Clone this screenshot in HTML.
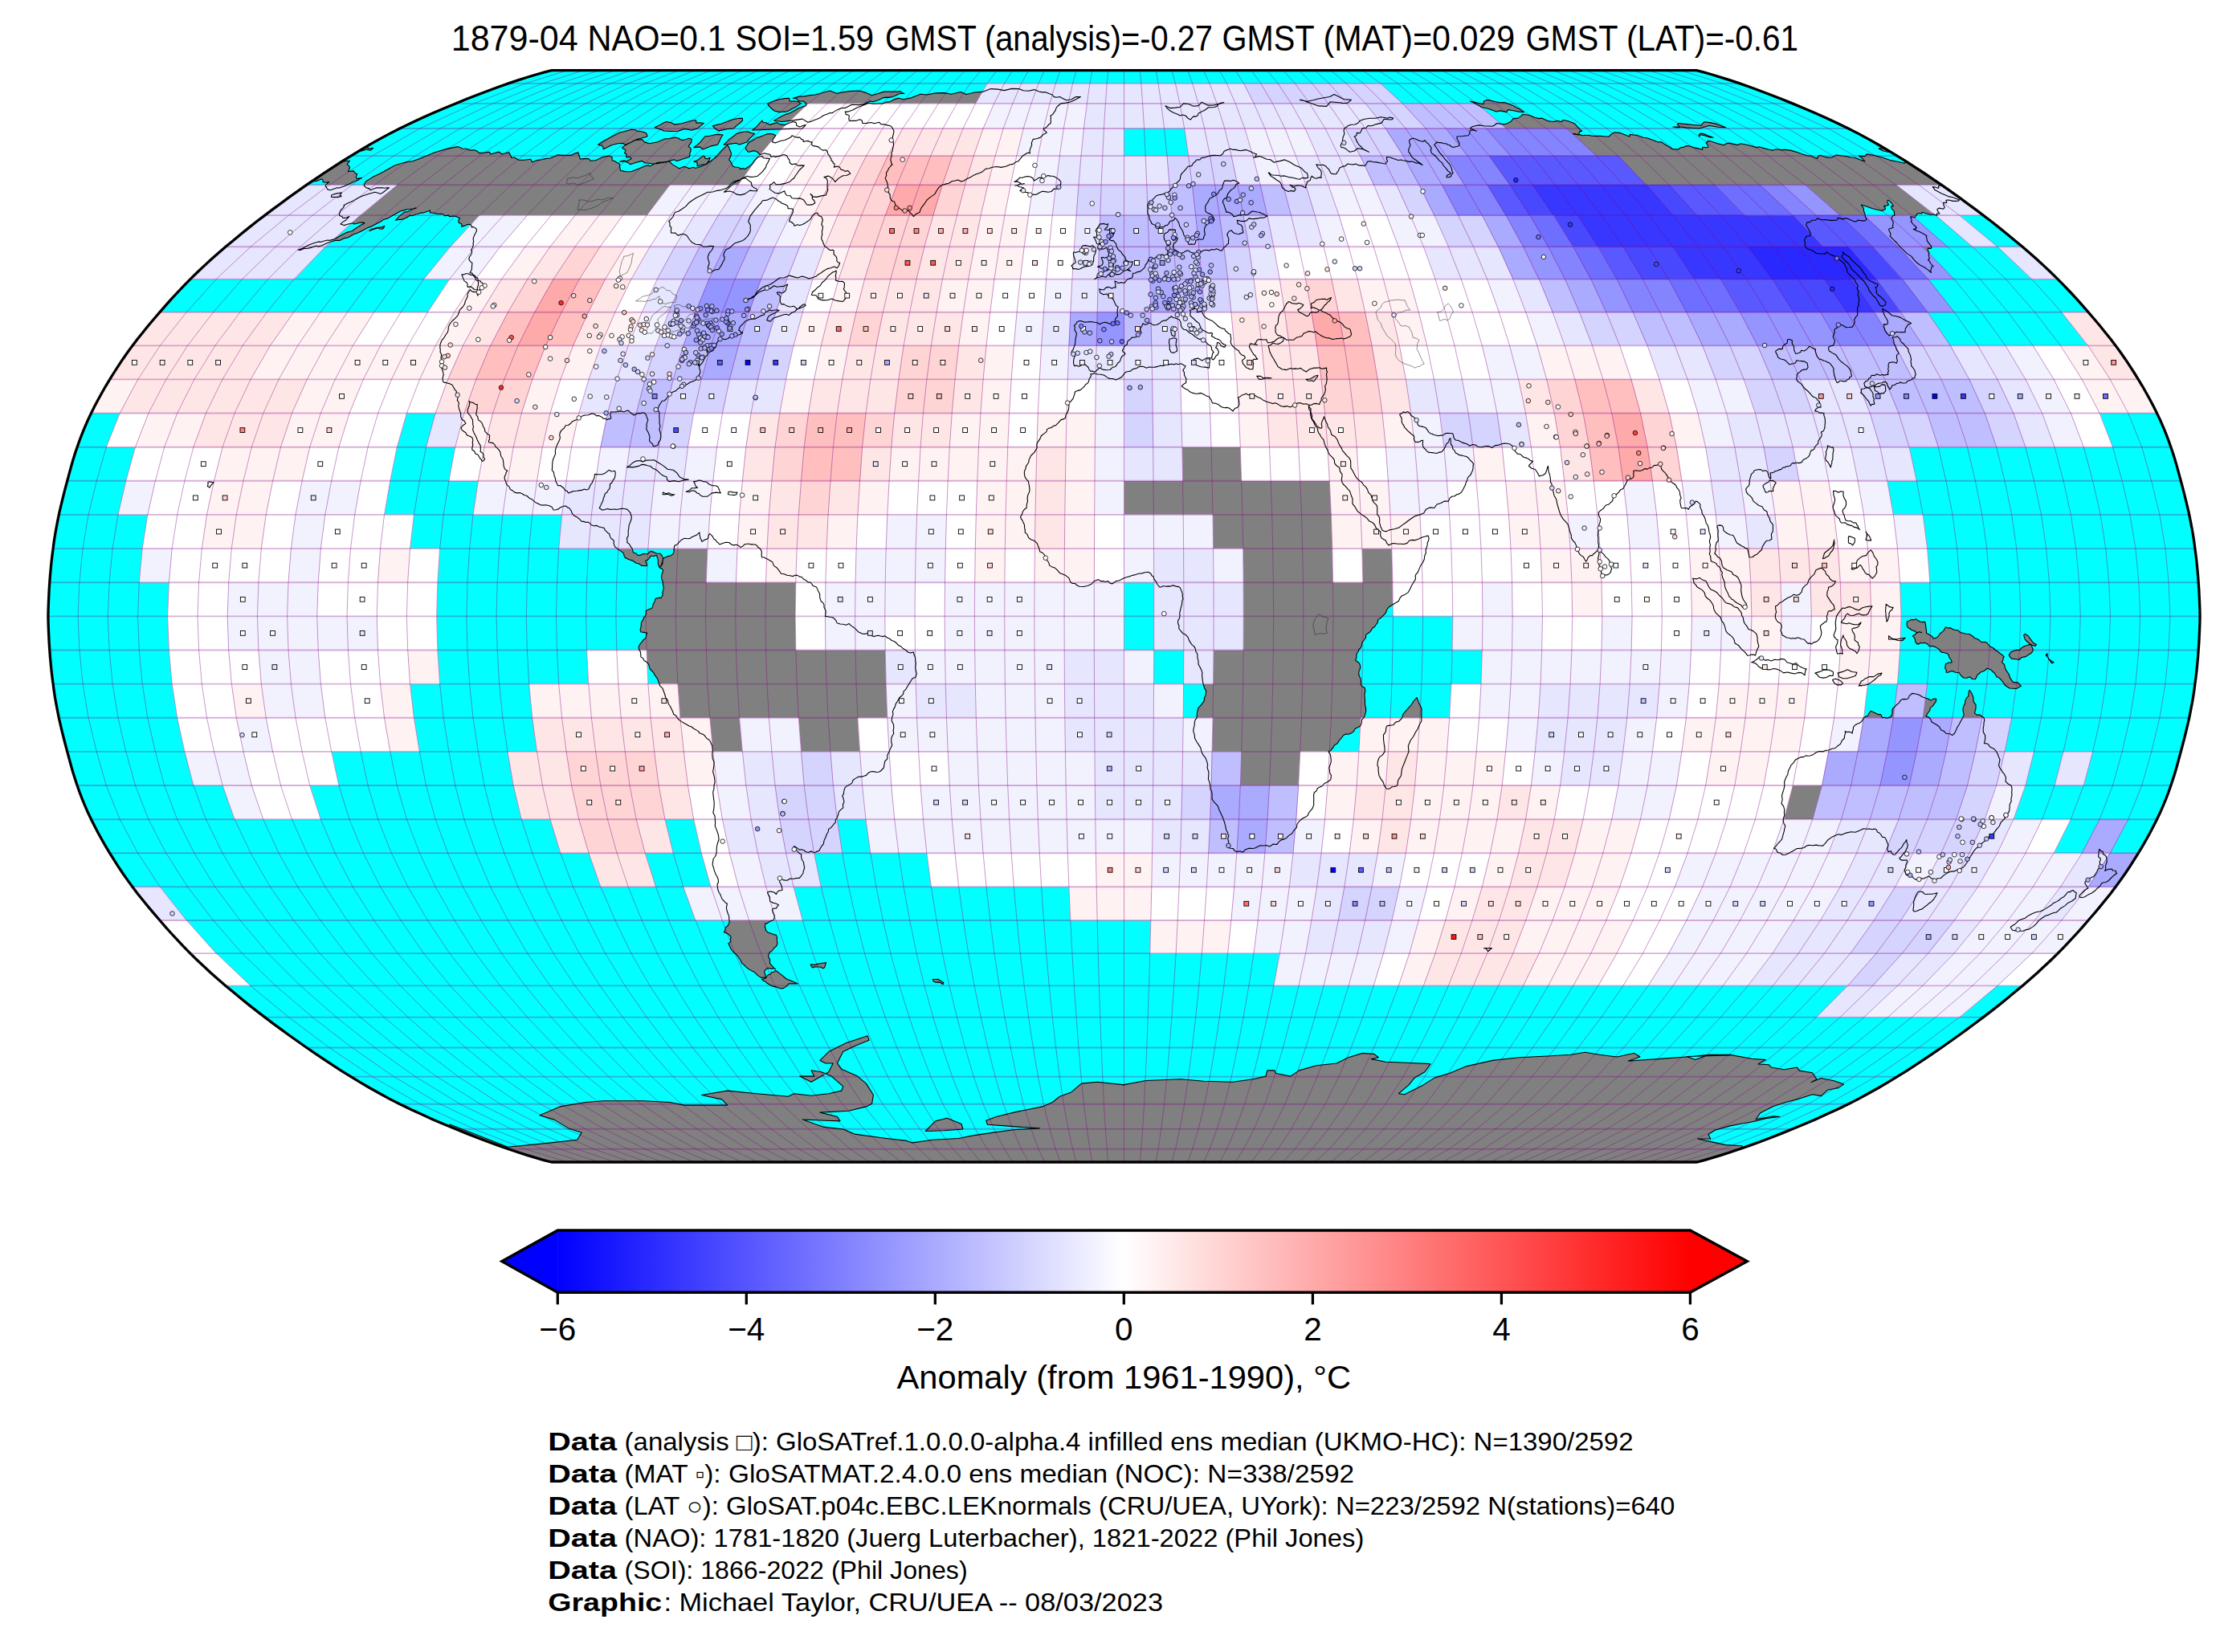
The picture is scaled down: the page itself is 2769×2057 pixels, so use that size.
<!DOCTYPE html>
<html><head><meta charset="utf-8"><title>map</title><style>html,body{margin:0;padding:0;background:#fff}body{width:2769px;height:2057px;overflow:hidden;font-family:"Liberation Sans",sans-serif}svg{display:block}</style></head><body>
<svg xmlns="http://www.w3.org/2000/svg" width="2769" height="2057" viewBox="0 0 2769 2057" font-family="'Liberation Sans', sans-serif" fill="#000">
<defs><clipPath id="cp"><path d="M686.6,1447 677.1,1444.6 667,1441.7 656.2,1438.4 644.9,1434.8 633,1430.8 620.6,1426.4 607.8,1421.7 594.6,1416.7 581,1411.4 567.2,1405.8 553.2,1400 539,1393.9 525,1387.6 511.1,1381.2 497.7,1374.7 484.7,1368.1 472.2,1361.3 460.1,1354.5 448.4,1347.6 436.9,1340.6 425.5,1333.6 414.4,1326.4 403.4,1319.2 392.6,1311.9 381.8,1304.5 371.2,1297 360.6,1289.5 350.2,1281.9 339.9,1274.3 329.7,1266.6 319.6,1258.9 309.7,1251.1 300,1243.2 290.4,1235.3 280.9,1227.4 271.7,1219.4 262.6,1211.4 253.8,1203.3 245.2,1195.2 236.9,1187.1 228.8,1178.9 221.1,1170.7 213.5,1162.5 206.2,1154.3 199,1146 191.8,1137.7 184.8,1129.4 178,1121 171.3,1112.7 164.9,1104.3 158.8,1095.9 152.9,1087.5 147.3,1079.1 141.9,1070.7 136.7,1062.3 131.6,1053.9 126.8,1045.5 122.1,1037 117.7,1028.6 113.5,1020.2 109.5,1011.8 105.8,1003.3 102.3,994.9 99.1,986.5 96.1,978 93.3,969.6 90.7,961.2 88.3,952.8 86,944.3 83.7,935.9 81.5,927.5 79.3,919 77.2,910.6 75.2,902.2 73.3,893.8 71.6,885.3 70,876.9 68.5,868.5 67.2,860.1 66.1,851.6 65,843.2 64,834.8 63.2,826.3 62.4,817.9 61.8,809.5 61.2,801.1 60.8,792.6 60.4,784.2 60.1,775.8 59.9,767.4 60.1,758.9 60.4,750.5 60.8,742.1 61.2,733.6 61.8,725.2 62.4,716.8 63.2,708.4 64,699.9 65,691.5 66.1,683.1 67.2,674.6 68.5,666.2 70,657.8 71.6,649.4 73.3,640.9 75.2,632.5 77.2,624.1 79.3,615.7 81.5,607.2 83.7,598.8 86,590.4 88.3,581.9 90.7,573.5 93.3,565.1 96.1,556.7 99.1,548.2 102.3,539.8 105.8,531.4 109.5,522.9 113.5,514.5 117.7,506.1 122.1,497.7 126.8,489.2 131.6,480.8 136.7,472.4 141.9,464 147.3,455.6 152.9,447.2 158.8,438.8 164.9,430.4 171.3,422 178,413.7 184.8,405.3 191.8,397 199,388.7 206.2,380.4 213.5,372.2 221.1,364 228.8,355.8 236.9,347.6 245.2,339.5 253.8,331.4 262.6,323.3 271.7,315.3 280.9,307.3 290.4,299.4 300,291.5 309.7,283.6 319.6,275.8 329.7,268.1 339.9,260.4 350.2,252.8 360.6,245.2 371.2,237.7 381.8,230.2 392.6,222.8 403.4,215.5 414.4,208.3 425.5,201.1 436.9,194.1 448.4,187.1 460.1,180.2 472.2,173.4 484.7,166.6 497.7,160 511.1,153.5 525,147.1 539,140.8 553.2,134.7 567.2,128.9 581,123.3 594.6,118 607.8,113 620.6,108.3 633,103.9 644.9,99.9 656.2,96.3 667,93 677.1,90.1 686.6,87.7 2112.4,87.7 2121.9,90.1 2132,93 2142.8,96.3 2154.1,99.9 2166,103.9 2178.4,108.3 2191.2,113 2204.4,118 2218,123.3 2231.8,128.9 2245.8,134.7 2260,140.8 2274,147.1 2287.9,153.5 2301.3,160 2314.3,166.6 2326.8,173.4 2338.9,180.2 2350.6,187.1 2362.1,194.1 2373.5,201.1 2384.6,208.3 2395.6,215.5 2406.4,222.8 2417.2,230.2 2427.8,237.7 2438.4,245.2 2448.8,252.8 2459.1,260.4 2469.3,268.1 2479.4,275.8 2489.3,283.6 2499,291.5 2508.6,299.4 2518.1,307.3 2527.3,315.3 2536.4,323.3 2545.2,331.4 2553.8,339.5 2562.1,347.6 2570.2,355.8 2577.9,364 2585.5,372.2 2592.8,380.4 2600,388.7 2607.2,397 2614.2,405.3 2621,413.7 2627.7,422 2634.1,430.4 2640.2,438.8 2646.1,447.2 2651.7,455.6 2657.1,464 2662.3,472.4 2667.4,480.8 2672.2,489.2 2676.9,497.7 2681.3,506.1 2685.5,514.5 2689.5,522.9 2693.2,531.4 2696.7,539.8 2699.9,548.2 2702.9,556.7 2705.7,565.1 2708.3,573.5 2710.7,581.9 2713,590.4 2715.3,598.8 2717.5,607.2 2719.7,615.7 2721.8,624.1 2723.8,632.5 2725.7,640.9 2727.4,649.4 2729,657.8 2730.5,666.2 2731.8,674.6 2732.9,683.1 2734,691.5 2735,699.9 2735.8,708.4 2736.6,716.8 2737.2,725.2 2737.8,733.6 2738.2,742.1 2738.6,750.5 2738.9,758.9 2739.1,767.4 2738.9,775.8 2738.6,784.2 2738.2,792.6 2737.8,801.1 2737.2,809.5 2736.6,817.9 2735.8,826.3 2735,834.8 2734,843.2 2732.9,851.6 2731.8,860.1 2730.5,868.5 2729,876.9 2727.4,885.3 2725.7,893.8 2723.8,902.2 2721.8,910.6 2719.7,919 2717.5,927.5 2715.3,935.9 2713,944.3 2710.7,952.8 2708.3,961.2 2705.7,969.6 2702.9,978 2699.9,986.5 2696.7,994.9 2693.2,1003.3 2689.5,1011.8 2685.5,1020.2 2681.3,1028.6 2676.9,1037 2672.2,1045.5 2667.4,1053.9 2662.3,1062.3 2657.1,1070.7 2651.7,1079.1 2646.1,1087.5 2640.2,1095.9 2634.1,1104.3 2627.7,1112.7 2621,1121 2614.2,1129.4 2607.2,1137.7 2600,1146 2592.8,1154.3 2585.5,1162.5 2577.9,1170.7 2570.2,1178.9 2562.1,1187.1 2553.8,1195.2 2545.2,1203.3 2536.4,1211.4 2527.3,1219.4 2518.1,1227.4 2508.6,1235.3 2499,1243.2 2489.3,1251.1 2479.4,1258.9 2469.3,1266.6 2459.1,1274.3 2448.8,1281.9 2438.4,1289.5 2427.8,1297 2417.2,1304.5 2406.4,1311.9 2395.6,1319.2 2384.6,1326.4 2373.5,1333.6 2362.1,1340.6 2350.6,1347.6 2338.9,1354.5 2326.8,1361.3 2314.3,1368.1 2301.3,1374.7 2287.9,1381.2 2274,1387.6 2260,1393.9 2245.8,1400 2231.8,1405.8 2218,1411.4 2204.4,1416.7 2191.2,1421.7 2178.4,1426.4 2166,1430.8 2154.1,1434.8 2142.8,1438.4 2132,1441.7 2121.9,1444.6 2112.4,1447Z"/></clipPath>
<linearGradient id="cb" x1="0" x2="1" y1="0" y2="0"><stop offset="0" stop-color="#0000ff"/><stop offset="0.5" stop-color="#ffffff"/><stop offset="1" stop-color="#ff0000"/></linearGradient></defs>
<path d="M686.6,1447 677.1,1444.6 667,1441.7 656.2,1438.4 644.9,1434.8 633,1430.8 620.6,1426.4 607.8,1421.7 594.6,1416.7 581,1411.4 567.2,1405.8 553.2,1400 539,1393.9 525,1387.6 511.1,1381.2 497.7,1374.7 484.7,1368.1 472.2,1361.3 460.1,1354.5 448.4,1347.6 436.9,1340.6 425.5,1333.6 414.4,1326.4 403.4,1319.2 392.6,1311.9 381.8,1304.5 371.2,1297 360.6,1289.5 350.2,1281.9 339.9,1274.3 329.7,1266.6 319.6,1258.9 309.7,1251.1 300,1243.2 290.4,1235.3 280.9,1227.4 271.7,1219.4 262.6,1211.4 253.8,1203.3 245.2,1195.2 236.9,1187.1 228.8,1178.9 221.1,1170.7 213.5,1162.5 206.2,1154.3 199,1146 191.8,1137.7 184.8,1129.4 178,1121 171.3,1112.7 164.9,1104.3 158.8,1095.9 152.9,1087.5 147.3,1079.1 141.9,1070.7 136.7,1062.3 131.6,1053.9 126.8,1045.5 122.1,1037 117.7,1028.6 113.5,1020.2 109.5,1011.8 105.8,1003.3 102.3,994.9 99.1,986.5 96.1,978 93.3,969.6 90.7,961.2 88.3,952.8 86,944.3 83.7,935.9 81.5,927.5 79.3,919 77.2,910.6 75.2,902.2 73.3,893.8 71.6,885.3 70,876.9 68.5,868.5 67.2,860.1 66.1,851.6 65,843.2 64,834.8 63.2,826.3 62.4,817.9 61.8,809.5 61.2,801.1 60.8,792.6 60.4,784.2 60.1,775.8 59.9,767.4 60.1,758.9 60.4,750.5 60.8,742.1 61.2,733.6 61.8,725.2 62.4,716.8 63.2,708.4 64,699.9 65,691.5 66.1,683.1 67.2,674.6 68.5,666.2 70,657.8 71.6,649.4 73.3,640.9 75.2,632.5 77.2,624.1 79.3,615.7 81.5,607.2 83.7,598.8 86,590.4 88.3,581.9 90.7,573.5 93.3,565.1 96.1,556.7 99.1,548.2 102.3,539.8 105.8,531.4 109.5,522.9 113.5,514.5 117.7,506.1 122.1,497.7 126.8,489.2 131.6,480.8 136.7,472.4 141.9,464 147.3,455.6 152.9,447.2 158.8,438.8 164.9,430.4 171.3,422 178,413.7 184.8,405.3 191.8,397 199,388.7 206.2,380.4 213.5,372.2 221.1,364 228.8,355.8 236.9,347.6 245.2,339.5 253.8,331.4 262.6,323.3 271.7,315.3 280.9,307.3 290.4,299.4 300,291.5 309.7,283.6 319.6,275.8 329.7,268.1 339.9,260.4 350.2,252.8 360.6,245.2 371.2,237.7 381.8,230.2 392.6,222.8 403.4,215.5 414.4,208.3 425.5,201.1 436.9,194.1 448.4,187.1 460.1,180.2 472.2,173.4 484.7,166.6 497.7,160 511.1,153.5 525,147.1 539,140.8 553.2,134.7 567.2,128.9 581,123.3 594.6,118 607.8,113 620.6,108.3 633,103.9 644.9,99.9 656.2,96.3 667,93 677.1,90.1 686.6,87.7 2112.4,87.7 2121.9,90.1 2132,93 2142.8,96.3 2154.1,99.9 2166,103.9 2178.4,108.3 2191.2,113 2204.4,118 2218,123.3 2231.8,128.9 2245.8,134.7 2260,140.8 2274,147.1 2287.9,153.5 2301.3,160 2314.3,166.6 2326.8,173.4 2338.9,180.2 2350.6,187.1 2362.1,194.1 2373.5,201.1 2384.6,208.3 2395.6,215.5 2406.4,222.8 2417.2,230.2 2427.8,237.7 2438.4,245.2 2448.8,252.8 2459.1,260.4 2469.3,268.1 2479.4,275.8 2489.3,283.6 2499,291.5 2508.6,299.4 2518.1,307.3 2527.3,315.3 2536.4,323.3 2545.2,331.4 2553.8,339.5 2562.1,347.6 2570.2,355.8 2577.9,364 2585.5,372.2 2592.8,380.4 2600,388.7 2607.2,397 2614.2,405.3 2621,413.7 2627.7,422 2634.1,430.4 2640.2,438.8 2646.1,447.2 2651.7,455.6 2657.1,464 2662.3,472.4 2667.4,480.8 2672.2,489.2 2676.9,497.7 2681.3,506.1 2685.5,514.5 2689.5,522.9 2693.2,531.4 2696.7,539.8 2699.9,548.2 2702.9,556.7 2705.7,565.1 2708.3,573.5 2710.7,581.9 2713,590.4 2715.3,598.8 2717.5,607.2 2719.7,615.7 2721.8,624.1 2723.8,632.5 2725.7,640.9 2727.4,649.4 2729,657.8 2730.5,666.2 2731.8,674.6 2732.9,683.1 2734,691.5 2735,699.9 2735.8,708.4 2736.6,716.8 2737.2,725.2 2737.8,733.6 2738.2,742.1 2738.6,750.5 2738.9,758.9 2739.1,767.4 2738.9,775.8 2738.6,784.2 2738.2,792.6 2737.8,801.1 2737.2,809.5 2736.6,817.9 2735.8,826.3 2735,834.8 2734,843.2 2732.9,851.6 2731.8,860.1 2730.5,868.5 2729,876.9 2727.4,885.3 2725.7,893.8 2723.8,902.2 2721.8,910.6 2719.7,919 2717.5,927.5 2715.3,935.9 2713,944.3 2710.7,952.8 2708.3,961.2 2705.7,969.6 2702.9,978 2699.9,986.5 2696.7,994.9 2693.2,1003.3 2689.5,1011.8 2685.5,1020.2 2681.3,1028.6 2676.9,1037 2672.2,1045.5 2667.4,1053.9 2662.3,1062.3 2657.1,1070.7 2651.7,1079.1 2646.1,1087.5 2640.2,1095.9 2634.1,1104.3 2627.7,1112.7 2621,1121 2614.2,1129.4 2607.2,1137.7 2600,1146 2592.8,1154.3 2585.5,1162.5 2577.9,1170.7 2570.2,1178.9 2562.1,1187.1 2553.8,1195.2 2545.2,1203.3 2536.4,1211.4 2527.3,1219.4 2518.1,1227.4 2508.6,1235.3 2499,1243.2 2489.3,1251.1 2479.4,1258.9 2469.3,1266.6 2459.1,1274.3 2448.8,1281.9 2438.4,1289.5 2427.8,1297 2417.2,1304.5 2406.4,1311.9 2395.6,1319.2 2384.6,1326.4 2373.5,1333.6 2362.1,1340.6 2350.6,1347.6 2338.9,1354.5 2326.8,1361.3 2314.3,1368.1 2301.3,1374.7 2287.9,1381.2 2274,1387.6 2260,1393.9 2245.8,1400 2231.8,1405.8 2218,1411.4 2204.4,1416.7 2191.2,1421.7 2178.4,1426.4 2166,1430.8 2154.1,1434.8 2142.8,1438.4 2132,1441.7 2121.9,1444.6 2112.4,1447Z" fill="#00ffff"/>
<g clip-path="url(#cp)">
<path d="M455.7,225.8 464.6,220.1 473.5,216.1 482.4,211.1 491.4,206.1 500.2,203.2 507.6,201.4 513.7,200.7 522.6,197.6 541.4,189.8 557,185.1 570,182.6 575.6,185 581.1,185.3 584.4,187.1 591,186.7 594.4,188.5 596.6,190.6 602.7,190.1 609.3,189.3 610.8,192 621.3,189.1 624.5,191.7 633.8,189.9 635.6,193.4 636.3,194.9 636.7,196.5 640.2,196 641.9,196.9 645.8,199.1 652.4,199.2 660.7,198.2 662.8,201.9 667.7,199.7 671.3,199.1 674.6,198.7 678.6,197.6 685,197 694.7,192.8 699.6,193.4 705.1,193.4 708,193.3 710.7,193.4 715.7,191.1 719.9,189.9 720.6,192.5 721.5,195 722.1,198 727.1,197.6 732.9,197.5 735.1,200.2 741.4,199.8 750.9,195.5 757.9,194.1 762,195.5 762.2,199.7 766.4,201.1 767.8,202.5 770.1,203.1 771.7,204.4 771.5,206.9 772.4,212.2 778.4,213.6 785.7,213.7 796.1,209.7 800.4,207.9 804.7,206.1 807.8,205.9 809.8,206.9 814.6,204 818.7,202.6 822.1,202.1 824.6,202.6 833.3,200.9 836.8,204.4 841.1,207.1 845.5,209.7 851.4,207.4 855,208.2 857.9,209.7 863.2,208.3 865.2,209.2 868.4,208.8 872.2,207.4 875.9,206.1 884.1,201.2 892.3,195 898.2,187.8 905.7,180.9 907.4,182.8 908.2,185.5 909.4,188 910.4,190.6 910.1,194.1 907.6,198.9 909.4,200.9 910.8,203.3 911.4,205.6 912.9,207.2 915.1,208 917.9,208.3 920.5,208.7 921.6,210.6 925.1,209.6 927.3,210.5 931.9,207.8 936.5,204 939.5,199.6 943.8,195.5 948.7,194.5 950.9,196.8 954.7,197.1 958.4,197.6 957.1,200.2 955.7,203 954.1,205.8 953.5,208.3 951.3,211.2 949,214.1 946.1,216.6 943.2,219.2 938.4,220.2 934.1,220.4 930.6,219.2 925,221.4 921.7,223.7 918.9,224.4 915.9,225.5 913,226.5 911,228.3 909,230.2 907.2,232.3 905,233.9 901.3,235.4 897.7,236.6 894.4,237.1 891,237.7 887.3,239 884.1,239.3 881,239.3 876.9,241.4 872.1,243.8 867.3,246 862.3,249.2 857.4,252.8 853.7,257.1 849.1,260.3 844.5,263.3 840.5,264.2 838.8,267.3 837.9,270 835.2,272.9 832.6,275.8 833.8,276.6 834,278.2 833.9,281.5 835.8,283.2 835.4,286.7 835.5,289.9 840.8,290.1 844,293.1 850.5,291.3 854.9,293 857.9,297.5 861.3,301.7 866.2,304.3 872.6,304.9 875.4,307.1 879.7,307.2 884.3,306.4 888.5,306.5 886.6,311 883,315.2 881.3,319.7 881.6,323.3 882.8,325.5 882.9,328.7 881.4,332.5 882,335.4 882.9,336.5 884.4,336.9 885.6,337.7 887.2,337.8 889.2,336.6 891.2,335.7 892.9,335.8 894.7,335.4 896.8,332.5 898.6,329.4 900,326.3 901.8,323.3 902.1,320.1 900.8,318.1 901.6,314.8 903.4,311.3 909.1,308.2 914.4,303.1 919.7,301.2 925,299.4 928.1,297 930.8,294.1 933,290.8 934.3,287.5 934.2,284.1 934.3,280.6 933.1,278.1 931.6,275.8 933.1,272.3 934.1,268.9 936.9,265.4 939.4,261.9 942,258.9 944.5,255.8 947.4,253 949.5,249.7 955.2,249.1 961.9,246 966.1,247.7 969.4,250.5 971.7,251.5 973.6,253.3 976.1,254.1 978.5,255 980.7,256.6 981.3,259.8 984.5,259.8 987.4,260.4 987.3,263.9 985.5,267.9 983.5,272 982.6,275.8 984.9,276.2 986.6,277.5 988.3,278.9 988.9,281.3 992.7,279.8 995.6,280.5 999.1,279.4 1002.8,277.4 1006.1,275.3 1009.3,272.6 1011.2,268.9 1014.3,265.8 1015.9,265.6 1017.6,265 1019.5,268.4 1022.9,270 1024.4,274 1022.8,279.7 1024.3,281.7 1024.3,284.9 1023.3,288.5 1023.8,291.5 1022.8,295.1 1022.9,298.3 1024.4,300.4 1025.1,303.3 1027,306.8 1030.2,308.9 1033.1,311.5 1037.6,311.3 1038.3,313.5 1038,316.3 1039.4,317.9 1040.9,319.3 1041.9,321.6 1041.9,324.7 1043.3,326.7 1045.7,327.3 1045,329 1044.4,330.7 1043.4,332.3 1042.2,333.8 1038.7,332.1 1034,333.7 1029.4,334.9 1024.9,337.8 1021.9,340.1 1018.9,341.7 1015.9,344.3 1012.8,345.2 1007.3,347 1003.1,345.2 998.6,344.1 993.1,346 988,344.6 982.9,343.1 976.5,345.7 970.6,346 966.5,349 962.4,352.1 958.2,354.4 954,355.8 950,357.4 946.2,360.5 942.4,363.6 939.8,368.1 937.2,369.2 934.8,371.4 932.3,371.9 929.8,373.8 933.7,372.1 937.5,370.6 941,367.3 944.5,364 949.3,361.9 954.1,360.4 959,359.2 963.8,355.8 967.2,357.3 971.6,356.8 976,356.4 980.6,354.1 980,356.2 978.7,358.2 978.8,360.2 977.8,362.3 975,364.5 972.2,365 970.2,363.7 967.4,364 968.2,366.3 970.2,367.3 971.4,369.3 971.2,372.2 971.3,374 971.4,375.7 972.2,377.1 972.4,378.8 974.1,378.9 976,378.6 977.2,379.6 978.5,380.4 980.8,381.2 983,382 985.6,381.8 988.2,381.3 989.6,382.1 990.9,383.2 992,384.6 993.9,384.6 995.7,382.4 997.8,380.7 1000,379.2 1002.2,378.8 1003.1,380.4 1001.7,380.9 1000.4,381.9 999,382.4 997.7,382.9 995.5,384 993.4,384.3 991.4,386 989.6,387.9 985.6,389.5 982,392.6 978.8,391.3 975,392 970.9,393.4 966.9,394.7 962.6,396.3 959,400.3 957.8,400 957.2,399.1 955.9,399.2 954.8,398.7 955.3,397.1 956,395.6 956.8,394.1 958,392.9 961.1,391.3 964.1,390.2 967.1,388.4 970.1,386.2 968.4,386.1 966.9,385.7 965.2,386 963.4,386.2 960.5,387 958.3,385.8 955.5,387.8 952.6,388.7 951.7,390.4 951.6,392 947.8,392.9 944,395 940.2,397.1 936.6,397 934.2,397.8 932,397.9 929.8,399.5 927.4,400.3 926.1,402.3 924.4,403.8 922.7,405.3 921.2,407 920.4,409.1 919.8,411.2 921.2,411.8 921.8,413.3 923.2,413.9 923.9,415.3 924.6,413.2 923.5,414.7 922.2,415.9 920.8,416.7 919.3,417 917.8,417.4 916.4,417.8 914.5,418.7 912.7,418.9 910.9,419.1 909,419.5 905.8,421.7 902.5,422.8 899.8,421.8 896.4,422.8 894.8,423.8 893.5,425.4 892.6,427 891.9,428.7 891.6,430.4 891.4,432.1 889.2,433.8 887.8,436.4 885.5,437.4 883.2,438.8 882.2,438.1 881.3,437.2 880.7,436 880.4,434.6 880,436.5 880.2,438.2 881.1,439.4 881.1,441.3 879.8,442.9 878.3,444.3 877.2,446.1 876.4,448 875.3,450.1 874,452.1 872.4,453.9 870.8,455.6 870.3,452.6 870,449.6 871.3,446.3 872.3,443 871.6,445.9 869.5,448.3 869.2,451.1 868.5,453.9 869.5,454.6 870.3,455.8 870.7,457.2 870.6,458.9 871.9,461.2 871.7,464.4 870.1,467.6 870.2,470.7 868.3,472 866.2,473.1 864.2,474.3 862.1,474.9 859.1,476 856.3,478 853.4,479.6 850.6,481.6 848.2,481.6 845.8,483 843.5,484.5 841.5,486.7 839.2,487.4 836.9,488.4 834.6,490.1 833,492.6 830.8,494.7 829.2,497.2 826.8,499 824.3,499.3 822.6,502 820.8,504.5 819.9,507.4 818.9,510.3 821,513.6 820.9,518.3 821.1,522.7 821,527.2 822,530.7 820.8,534.7 822,537.9 822.7,541.5 822.9,544.7 822,548 819.9,550.8 819.1,554.1 817.6,554.8 816.1,555.2 814.6,555.8 813.1,555.8 812.8,553.3 811.3,551.6 809.4,550.4 808.5,548.2 809,544 807.9,540.3 806.3,537 804.6,533.9 805.3,531.1 805,528.4 805.9,525.7 806.8,522.9 805.5,520 804.6,516.8 802.7,514.3 799.6,513.7 796.9,514.9 794.5,514.4 792,515.6 789.5,517 787.6,515.7 785.7,514.3 783.9,512.9 782.3,511.1 779.4,511.8 776.6,513 774.1,512.1 771.4,512 768.6,512.7 765.8,512.9 763.1,513 760.5,512.8 760,515.1 760,517.2 760.6,519.1 760.6,521.3 758.1,521.6 755.6,522.7 753.9,521.1 751.3,521.3 749.7,519.5 747.6,518.5 745.5,517.4 742.8,517.9 740.2,515.5 736.5,514.9 732.6,516.7 728.7,517 726.7,517.4 724.7,518.1 722.8,519.8 720.7,520.4 718.3,522.4 715.5,523.6 712.8,524.7 710.5,527.2 707.5,529.5 704.2,529.8 702.3,533.3 699.2,535.6 697.3,538.6 696.7,541.9 697.4,544.9 696.5,548.2 694.9,551.3 693.4,554.4 692.3,557.6 691.3,560.9 691.6,565.1 689.8,569.3 688.2,573.5 687.7,577.7 687.6,581.6 687.3,585.5 689.5,588.2 690,592.1 691.3,595.2 691.8,598.7 693.2,601.7 694.7,604.7 697.7,604.5 699.9,606.3 702.1,608 703.4,610.6 704.9,610.9 706.3,611.4 706.9,613 708.1,614 711.4,612.4 714.9,611.5 718.3,611.2 721.7,610.6 724.6,610.4 727.4,609 730.1,609.9 733,608.9 734.1,606.3 735.2,603.7 737.1,601.6 738,598.8 739.1,596.8 740.1,594.8 740.1,592.6 740.6,590.4 745,590.7 749.6,590.7 754.1,588.7 758,585.3 759.7,586.1 761.3,587 763.3,586.7 765.2,586.2 765.9,587.4 766.2,588.9 766.1,590.5 765.9,592.1 765.3,595.3 763.2,597.9 761.8,601 759.4,603 759.5,605.7 758.9,608.4 757,610.6 755.9,613.1 754.1,614.1 752.8,615.8 752.5,618 751.4,619.9 750.8,623.3 749.2,626.4 747.9,629.5 746.2,632.5 747.9,633.8 749.6,635 753,634.6 756.3,633.5 759.5,634.4 762.9,634.2 765.7,634 768.4,634.5 771.2,633.8 774,633.4 777.4,633.5 780.7,634.1 783.1,636.5 785.2,639.2 785.3,641.2 786.3,642.6 786,646.5 784.7,650.2 783.1,653.9 782.8,657.8 782.1,661 782.3,664.2 782.1,667.6 780.3,670.4 781.1,672.9 780.7,675.5 783.6,677.4 785.2,680.7 787.4,683.5 788.1,687.3 789.8,688.7 791.9,688.8 793.2,690.7 795.3,691.5 798.1,690.9 800.8,689.5 803.6,689.8 806.5,689.8 808.1,687.6 810.4,686.4 813.1,687.1 815.7,688.3 818.4,689.5 821.3,689 822.8,690.2 824.1,691.6 824.8,693.6 826.2,694.9 824.9,698 825,701.4 823.4,704.3 821.2,706.7 820.3,704.8 819.4,702.8 819.2,700.5 819.4,698.2 819.1,696.5 818.6,694.8 818.1,693.1 817.5,691.5 815.6,691.7 813.8,692.7 812,692.3 810,692.3 809,694.4 807.5,696.1 805.8,697.6 803.8,698.2 804,699.9 804.9,701.1 805,702.8 805.8,704.1 803.9,704.7 802,704.5 800.2,704.5 798.3,704.1 796.6,702.7 794.7,701.6 792.2,701.2 789.9,699.8 787.8,698.1 785.3,697.4 783.7,696.8 781.9,696.4 780.5,695.3 778.8,694.9 777.1,692.3 776.5,689.1 774.3,687.1 771.9,685.6 769.9,684.3 768.1,682.6 766,681.3 764.9,678.9 764,676.5 764.5,673.8 762.7,671.7 760.5,670.1 759.4,667.4 758.6,664.5 756.6,663.5 755,661.7 753.2,660.2 752.5,657.8 750.9,657.1 749.3,656.7 747.7,656.2 746,656.1 743,654.4 739.5,654.7 736.2,653.7 733.9,651 731.6,650 729.1,650.5 727,649.2 724.5,649.4 723.1,648.1 721.9,646.7 720.5,645.5 719.1,644.3 715.5,642.6 712.6,639.9 711.1,635.8 708.6,632.5 706.6,631.9 705.1,630.4 702.9,630 700.8,630.8 697.8,631.8 695.2,633.9 692.2,634.8 689.2,635 687,631.3 683.3,629.5 679.4,628.8 675.2,629.1 672.4,628.5 669.9,627 667.2,625.9 664.9,624.1 662.2,621.6 658.9,620.2 656.3,617.5 652.7,616.5 650.1,614.7 647.2,613.6 643.9,613.9 640.8,613.1 638.2,610.9 635.3,609.3 633.9,605.9 631.2,603.9 630.2,601.9 629.7,599.6 628.8,597.6 628.1,595.4 628.4,592.9 629.7,590.7 630.2,588.2 631.8,586.2 628.6,584.1 627.1,580.2 626.8,576 626.2,571.8 623.7,568 623,563.2 620.6,559.4 617.4,556.7 616.1,554 614.2,551.9 611.4,551.1 608.6,550.8 608.6,548.6 609.6,546.5 609.2,544.5 609.8,542.3 608.3,540.9 606.4,540.3 605.3,538.6 603.8,537.3 603.7,535.5 603.3,533.9 602.6,532.5 601.7,531.4 600.8,528.6 599.6,526.1 597.7,524.3 595.4,522.9 594.8,519.1 592.8,516.2 593.4,512 594.3,507.8 594,505.8 594.2,503.6 591.5,503.2 589.6,501.6 587.1,501 584.7,500.2 584.2,499.3 584.8,501.7 584.3,504.6 583.3,507.5 582.1,510.3 582.3,513.5 583.8,515.9 585.7,517.7 586.8,520.4 588.4,522.5 588.7,525.5 588.7,528.7 589.5,531.4 588.6,535.3 589.9,538.4 591.3,541.2 592.8,544 593.7,546.2 594.5,548.4 595.6,550.3 596.6,552.4 598.1,554.3 598.3,557.1 598.4,559.8 598.1,562.6 600.5,563.8 602.1,566.1 602.1,569.4 603.6,571.8 602.1,573.5 600.3,574.4 599.5,573 598.7,571.6 597.6,570.7 596.8,569.3 595.1,566.3 592,565 590.6,561.7 587.8,560 587.9,557 588.9,554 588.2,551.3 588.9,548.2 588.1,545.3 586,543.6 583.4,542.8 581.1,541.5 579.9,538.8 577.5,537.3 575.3,535.6 573.9,533.1 575.1,531.2 576.5,529.6 578.3,528.6 579.9,527.2 578,524 575.1,522.2 573.7,518.7 573.6,514.5 572.5,511.6 571.5,508.7 570.8,505.5 571.3,501.9 570.5,500 569.3,498.4 569.9,495.8 570,493.4 568.1,491 568.3,487.2 566.2,485.2 564.9,482.5 563.8,480.7 562.8,479 560.9,478.3 559.1,477.4 557.2,477.3 555.6,476.4 553.7,476.4 552,475.8 550.9,471.7 552.3,466.5 551.4,462.5 550,458.9 550,456.3 551.1,453.4 550.4,451.3 550.4,448.8 549,445.7 549.7,441.4 548.1,438.6 548.3,434.6 547.7,433 548.1,431 547.9,429.2 548.7,427 550.1,423.6 553,420.3 554.9,417 557.3,413.7 557.8,411.9 558.3,410.1 558.1,408.7 558.4,407 560.2,403.2 563.2,399.5 566.7,396.3 570,392.9 571.4,389.3 572.4,385.8 575.9,382.5 578.4,378.8 579.5,374.4 582,369.6 582.2,365.6 585.3,360.7 586.8,362.3 588.9,363.4 591.7,363.6 595.3,362.3 594.3,364.2 594,365.8 594.4,367 594.9,368.1 596.1,365 596.5,362.2 597.9,358.9 600.9,355.8 601.4,354 601,352.9 600.2,352.1 599,351.7 598.2,349.9 596,349.5 595,348 594.5,346 591.2,345.3 589.4,343.1 588.1,340.4 585.1,339.5 587.3,335.7 587.4,332.9 587.7,330 587.9,327.3 586.1,326.1 584.8,324.4 583.7,322.5 584.8,319.3 586.9,316.5 587.4,314.3 587.6,312.2 586.4,311.3 588.2,308.8 588.9,306.6 589.4,304.6 588.9,303.3 589.7,301 589.4,299.2 589.1,297.6 589.6,295.4 591.2,291.7 593.4,287.7 593.2,285 591.3,283.6 589.8,282.6 587.1,282.9 587,280.9 585.9,279.7 584,279.2 581,279.9 577.5,281.4 574.6,282.1 574.9,280 574.5,278.5 572.8,278 571.3,277.4 570.7,275 572.4,271.4 570.1,270.4 567.6,269.6 565.6,269 562.4,269.4 559.5,269.6 558.5,268.1 553.9,268.8 552.3,267 549.3,266.3 545.3,266.5 542.1,265.9 539.3,265 535.5,264.9 535.4,261.9 531.3,263.4 527,264.9 524,265.1 519.8,266.5 517.6,266.7 514.5,268.2 512,268.8 511,268.1 505.1,271.4 499.9,273.4 496.4,273.5 492.3,274.3 494.8,271.8 497.3,269.2 500.3,266.7 503.4,264.2 506.2,263.9 509.9,262.6 514.5,259.9 518.2,258.9 514.1,260 510.7,260.3 507.5,260.5 503,261.9 499,262.8 493.5,265.7 488.2,268.8 482.9,271.9 480.4,272.5 477.6,273.4 474.2,275.7 470.9,277.4 464.3,281 458.1,283.5 451.6,286.9 445.2,289.9 439.7,292 433.4,295.7 428.8,296.6 422.9,299.4 418.7,299.3 413.4,300.5 407.5,302.4 400.7,305.7 396.3,306.9 393.8,306.1 389.3,307.6 384.9,308.9 381.5,309.5 378.7,309.4 374,311.4 371.1,311.3 377.5,308.7 384.5,304.9 390.6,302.8 396.5,300.9 399.2,301.4 403.6,300 407.8,299 410.5,299.4 417,297.5 425,292.7 432.6,289.1 438.6,287.5 442.2,284.7 446.2,282.3 450.1,279.8 453.8,278.2 453.1,277.1 450.7,277.4 449.2,277 446.9,277.4 443.4,278.5 440.7,278.9 439.8,277.7 437,278.2 432.7,279.3 428.3,280.6 426.3,279.7 424,278.9 426.9,276.4 430.4,274.3 432.5,272 434.9,269.6 429.9,271.4 426.7,271.4 426,269.6 423.9,268.9 422.5,268.3 422.5,266.8 423.1,265 423.3,263.5 424.4,261.5 427.2,258.9 428.5,256.8 428,255.8 432.4,253.2 436.6,251.4 440.8,249.4 445.3,246.7 448.7,245 452,243.7 459.6,241.3 466.8,239.3 470.5,240.3 473.8,241.4 476.7,239.7 479.3,237.7 481.6,235.8 484.5,233.9 482,233.7 478.4,234.3 476.3,233.7 473.1,233.9 468.8,233.8 461,236.7 459.6,234.6 456,233.9 454.8,232.5 453.3,231.3 453.6,229ZM1137.5,269.6 1135.6,267.1 1133.3,265.1 1131.4,262.4 1128.2,261.9 1124,262.5 1121.1,260.4 1118.4,258.3 1115.4,256.6 1114.5,254 1113.7,251.3 1111.4,250.5 1109.5,249 1108.2,246 1108.1,242.2 1106.3,239.8 1105.9,236.2 1105.7,233.6 1105.2,231.2 1105,228.7 1104.2,226.5 1103.3,224.2 1102.1,222.1 1103.7,218.5 1103.4,215.5 1105.1,212.6 1106.6,209.7 1108.7,207 1111.1,204.7 1109.7,203.7 1109.6,201.5 1108.9,199.8 1109,197.6 1109.6,195.6 1110.5,193.5 1110,192.1 1109.8,190.6 1111.3,187.7 1111.5,185.2 1112.2,182.6 1112.5,180.2 1112.2,176.8 1111.2,174.1 1111.4,170.5 1112.4,166.6 1113,162.9 1111.7,160.6 1110.4,158.3 1108.6,156.7 1104.8,155.9 1101.1,154.9 1096.8,154.6 1094.5,152.2 1088.4,153.7 1084.4,152.5 1078.7,153.4 1073.8,153.5 1073.3,150.1 1070.5,148.8 1065.4,150.4 1061.6,150.2 1058.3,150.6 1056.9,149.1 1057,146.6 1057.3,143.9 1055.6,142.9 1053.3,142.6 1052.8,140.8 1052.2,139 1056.1,139.1 1061.7,137 1067.7,133.8 1073.1,131.8 1081.8,128.3 1087,129.3 1093,129 1098.9,128.9 1104,127.1 1108.2,126.6 1113.7,123.6 1118.5,122.2 1125.3,123.7 1135.1,121.6 1146,117.2 1153.6,118 1165.1,115.9 1175.4,115.6 1184.3,117.3 1196.2,114.5 1203.1,117.5 1213.7,115 1223.2,114.4 1233.7,110.6 1242.2,111.1 1250.2,112.6 1259.9,110.4 1268.6,110.6 1274.1,112.7 1280.5,113.3 1287.9,111.6 1293.6,114 1297.8,114.9 1302.3,114.9 1306.1,116.6 1310.1,118 1312.2,120.6 1315.6,121.3 1319.5,120.5 1322.5,122.2 1327.5,124.7 1333.6,124 1339.5,120.6 1345.4,120.6 1339.5,123.8 1333.4,126.7 1327.1,128.1 1320.9,128.9 1319.3,130.2 1317.7,131.5 1316.2,132.9 1314.9,134.7 1314.1,137.6 1312.2,140.1 1310.4,142.7 1307.9,143.9 1308.5,146.1 1308.2,148.6 1308.3,151 1308.2,153.5 1305.8,154.9 1304,157.4 1301.7,159.3 1299.3,160 1299.9,161.7 1300.9,163 1302.4,163.7 1303.2,165.3 1298.9,167.6 1294.9,171.4 1290.5,172.7 1286.2,173.4 1285.7,175.2 1284.7,176.8 1284.4,178.6 1284.7,180.2 1283.8,182.8 1282.7,185.3 1282,188.1 1282.5,190.6 1279.4,190.2 1276.2,192.2 1273,194.3 1270.4,197.6 1267.7,200.8 1264.4,201.9 1261.3,204.4 1258,204.7 1252.2,207.3 1246.4,208.4 1241.1,207.5 1235.3,208.3 1231.3,209.7 1227.4,210.1 1223.7,213.4 1219.7,215.5 1215.7,216.7 1211.7,218.6 1207.7,221 1203.7,222.8 1199.8,225.3 1196,225.9 1193.1,224 1189,225 1185.2,225.7 1181.2,228.2 1177.3,229.1 1173.3,230.2 1170.4,231.9 1167.9,234.8 1165.8,238 1164.1,241.4 1160.8,243.9 1157.5,246.1 1154.2,248.9 1151.7,252.8 1149.7,255.4 1147.6,258.1 1146,261.1 1145.1,264.2 1143.1,265.2 1141.1,266 1139.2,267.6ZM825.4,695.7 827.6,694.2 830,693.2 832.7,692.4 835.3,691.7 837.6,689.9 839.2,687.3 838.8,685.2 839.4,683 839.4,680.8 840.4,678.9 842.1,678.7 843.5,677.4 844.7,676.1 845.9,674.6 848.8,671.9 852.3,670.3 855.8,670.7 859.5,670.4 861.1,668.7 863.2,668.1 865.2,667.1 867.1,666.2 869.1,664.6 871,662.8 870.8,664.8 871.3,666.7 871.7,668.5 872,670.4 873.2,672.4 874,674.6 875.7,673.2 877.6,672 879.7,671.4 881.6,670.4 881.8,668.9 882.1,667.3 882.6,665.8 883.5,664.5 885.1,665.9 886.8,667.4 887.9,669.3 889,671.3 891.1,672.5 892.5,674.7 894.4,676.1 896,678 899.8,676.6 903.6,675.3 907.6,675.5 910.8,678 913.7,678.9 916.7,678.3 919.5,679.3 921.8,681.4 924.7,680.2 927.1,677.8 930.1,677.3 933.1,677.2 934.8,677.9 936.7,677.8 938.6,678 940.4,678 942.4,679.4 943.9,681.6 946,682.8 947.5,684.8 948.3,687 948.3,689.4 948.1,691.7 948.6,694 950.2,694 951.8,694 953,695.1 954.5,695.7 956.4,696.6 958.2,697.8 960,698.8 961.8,699.9 963.5,704.4 967.2,707 970,710.4 972.4,714.3 976.2,714.7 979.8,716.3 983.5,716.8 987.2,717.6 990,716.3 992.9,716.4 995.4,718.1 998.3,718.5 1000.5,721.2 1003.5,722.6 1006,724.9 1009.3,725.2 1010.8,727.3 1012.2,729.4 1014.4,730.3 1016.6,731.1 1018.5,735.4 1020.6,739.5 1020.8,744.3 1022.3,748.8 1024.6,750.6 1026,753.1 1026,756.2 1027.4,758.9 1028.2,760.9 1028,763.1 1027.8,765.3 1027.4,767.4 1030.2,767.7 1033,768.2 1035.9,768.5 1038.6,769.9 1039.5,771.4 1040.9,772.5 1041.3,774.3 1042.3,775.8 1046,777 1049.7,777.3 1053.6,778.2 1057.2,776.6 1059.9,779.4 1063.1,781.3 1066,783.8 1068.5,786.7 1071.2,788 1073.9,789.3 1076.8,789.4 1079.6,788.4 1082.3,789.9 1084.9,791.6 1087.9,792.6 1090.8,791.8 1093.6,791.2 1096.4,792 1099.2,792.6 1102,791.8 1104.6,794 1107.6,795.2 1110.1,797.5 1113.2,798.5 1116.2,800.7 1118.6,803.6 1121.9,805 1124.5,807.8 1127.7,809.3 1130.3,812 1133.8,813.1 1137.2,812 1138.2,815.6 1139.6,819 1139.7,822.7 1140.4,826.3 1139.7,830.5 1140.3,834.8 1141.3,839.1 1140,843.2 1136.1,844.8 1133.7,848.5 1131.4,852.1 1129.2,855.8 1127.5,858.7 1125.1,860.8 1124.5,864.3 1122.2,866.8 1119.8,868.7 1118.3,871.6 1116.7,874.2 1115.1,876.9 1114.3,880.1 1112.6,882.9 1111.4,886.1 1112,889.6 1110.5,893.6 1110.3,898 1112.5,901.9 1112.8,906.4 1112.1,909.8 1112.8,913.3 1111.1,916 1109.8,919 1109.7,923.6 1110.7,928.1 1108.7,931.9 1107.1,935.9 1104.9,939.9 1104.8,944.8 1101.7,948 1100.8,952.8 1100.4,955.9 1098.4,958 1096.5,960 1094.1,961.2 1091.4,961.5 1088.6,960.9 1085.9,960.5 1083.2,961.2 1080.6,962.8 1078.6,965.4 1075.7,966.3 1072.8,967.1 1069.8,967 1067.1,968.1 1064.6,969.6 1062.2,971.3 1060.8,974.9 1057.9,976.9 1054.8,978.4 1052.2,980.6 1051.2,983 1050.7,985.7 1050.4,988.6 1048.8,990.7 1050.1,994.5 1051,998.4 1049.4,1001.8 1049.8,1005.9 1046.9,1008.1 1044.3,1010.8 1043.5,1014.8 1042,1018.5 1040.3,1021 1040.1,1024.3 1038,1026.2 1036.3,1028.6 1034.2,1030.9 1031.6,1032.5 1031.1,1036 1029.3,1038.7 1027.9,1042.7 1026.1,1046.4 1025.3,1050.9 1022.7,1053.9 1021.2,1056.5 1020,1059.3 1017.3,1060.1 1014.9,1061.5 1012.6,1061.2 1010.4,1059.9 1008.3,1060.5 1006.5,1061.5 1003.6,1060.7 1000.9,1058.8 998,1057.8 995.3,1058.1 993.6,1056.6 991.8,1055.5 990.1,1054.3 988.1,1053.9 990.4,1056.6 992.6,1059.5 994.9,1062.3 997.8,1064 997.5,1066.3 998,1068.7 998.9,1071.2 1000.4,1073.3 1001,1077.1 1001.7,1080.9 1000.4,1084 999.9,1087.5 998.3,1089.5 996.8,1091.6 995,1093.5 992.2,1093.4 988.1,1094.3 983.7,1094 980.1,1096.2 975.6,1095.9 974.3,1095.1 973,1094.8 971.7,1094.4 970.4,1094.3 970.6,1097.9 972.5,1101.4 973.6,1105 974,1108.5 971.5,1108.7 969.2,1109.4 967.5,1111.1 966.5,1113.5 963.8,1111 960.8,1110.4 957.9,1110 955.5,1111 956.6,1114.1 958.4,1116.9 958.5,1119.7 958.9,1122.7 960.8,1123 962.7,1124.5 964.5,1124.5 966.4,1125.2 968,1126 969.6,1126.9 967.7,1128.6 966.6,1131 964,1131.1 961.6,1131.9 962.1,1135.7 964,1139.6 964.2,1143.4 962.6,1146 959.9,1146.6 957.6,1147.9 955.4,1149.6 952.6,1150.1 952.7,1152.2 952.3,1154 953.3,1156.3 953.4,1158.4 956.5,1161.3 960,1162.2 963.3,1163.6 966.5,1164.2 967,1165.9 967.7,1167.7 967.2,1169 967.4,1170.7 967.9,1175.2 966.4,1178.4 963.9,1180.3 962,1183 960.6,1184.7 958.5,1185.3 957.6,1187.5 956.7,1189.5 957,1192.1 958.6,1194.7 958.5,1196.9 958.6,1199.3 960.1,1201.4 961.9,1203.2 963.4,1205.3 965.5,1206.6 963.4,1205.8 961.8,1206.1 960,1206.1 958.1,1205.8 955.6,1205.4 954.1,1206.7 952.6,1207.9 951.6,1209.8 952.2,1212 953.1,1214.2 952.9,1216 952.7,1217.8 950,1217 947.9,1217.5 945.2,1215.9 942.7,1213.8 940.6,1211.6 938.2,1209.8 935.8,1208.9 933.4,1207.4 930.9,1205.8 928.4,1203.7 926.1,1201.1 923.5,1199.3 922.2,1196 920,1192.8 917.8,1189.7 915.1,1187.1 912.3,1184.5 909.9,1181.5 908.5,1178.1 906.8,1174.8 908.5,1173.6 909.9,1171.9 909.4,1168.9 910.2,1166.6 908.3,1164.4 906,1162.7 903.7,1161.5 901.4,1160.9 902.8,1158 903.4,1154.6 906,1153 907.4,1150.1 908.3,1147.6 907.6,1144.2 907.8,1141.1 906.4,1137.7 905.2,1134.3 904.4,1130.9 904.8,1128 905.5,1125.2 903.2,1123.9 901.2,1121.7 899.1,1119.6 898,1116.9 896.8,1113.7 894.9,1110.7 893.8,1107.5 893.3,1104.3 893.1,1100.9 894.5,1098.5 894.3,1095.2 893,1091.7 891.4,1089.2 890.3,1086.4 889.2,1083.6 888.6,1080.8 887.1,1076.6 887.6,1072.7 888.3,1069 890.5,1066.5 892,1062.8 892.2,1058.3 892.5,1053.8 893.5,1049.7 895.1,1045 894.3,1039.4 892.5,1033.9 890.3,1028.6 890.6,1024.5 890.3,1020.3 890,1015.9 887.8,1011.8 888.7,1007.8 889.1,1003.6 889.2,999.3 888.6,994.9 888.1,990.6 887.7,986.2 888.9,982.3 889,978 890.1,974.1 889.7,969.7 888.9,965.4 887.6,961.2 888.3,957.1 888.9,952.9 888.9,948.5 887.2,944.3 886.8,939 887.3,933.7 886.6,928.3 884.3,923.3 882.5,920.8 879.9,919.5 878.2,917 876.1,914.8 873.6,913.7 871.1,912.8 869.2,910.4 866.7,908.9 863.8,907.2 861.1,905 858,904 855.1,902.2 851.9,900.5 848.8,898.6 845.8,896.6 843.2,893.8 841.5,890.9 838.8,889.5 837.8,886.5 836.5,883.7 834.6,879.8 832.2,876.3 831.3,871.9 828.7,868.5 827.7,864.5 826.3,860.7 824.8,856.8 821.8,854.2 820.2,849.7 818.6,845.2 815.8,841.4 813.5,837.3 811.3,835 809,832.7 808.3,829.4 807.1,826.3 804.8,824.1 802.1,822.7 800.5,819.6 797.8,817.9 797.8,814.6 797.3,811.4 795.5,808.6 795.2,805.3 796.3,803 797.7,800.8 799.5,799.1 800.9,796.8 802,795.9 803.2,795.3 804.1,794.1 804.5,792.6 804.6,790.3 805.9,788.4 803.9,787.9 801.8,787.4 799.7,787.2 797.7,786.7 797.1,783.9 797.9,781.2 798.3,778.5 798.3,775.8 799.4,773.6 800.7,771.5 801.5,769 803.4,767.4 803.8,765.6 804.6,764.1 804.3,762.4 804.2,760.6 806,759.5 807.8,758.7 809.8,758.1 811.7,757.2 812.8,754.8 813.2,752.2 814.1,750.9 814.8,749.4 815.4,747.9 815.6,746.3 817.2,745 819.2,744.6 821.1,744.1 823,744.6 824.3,742.5 825.3,740.3 824.8,737.8 825.5,735.3 826.4,731.6 825.4,728 825.3,724.2 823.7,721 823.7,718.2 823.8,715.4 825,712.8 825.6,710 824.7,708.9 823.7,707.9 822.3,707.7 821.2,706.7 823.1,704.4 824,701.5 825.2,698.7ZM1358.2,465.6 1360.4,465.7 1362.5,464.8 1366.5,466 1370.7,466.2 1374.8,467.3 1378.5,469.9 1380.1,470.9 1381.8,471.4 1383.7,471.5 1385.5,471.5 1389.4,472.9 1393.3,471.3 1396.8,469.2 1399.5,465.6 1401.7,463.2 1404.7,462.5 1407.7,462.1 1410,459.8 1412.6,459.1 1415.3,458.5 1417.6,456.8 1420.4,456.4 1424,456.5 1427.3,458.2 1430.7,457.1 1434.3,457.2 1437.8,457.1 1441.3,456.4 1444.6,455.2 1448.2,455.6 1451.5,453.9 1455,453.9 1458.5,453.2 1462.1,453.9 1463.7,452.9 1465.5,453.3 1467.3,453.7 1469,453 1470.9,452.9 1472.6,454 1474.3,454.9 1476,455.6 1475.4,457.2 1474.5,458.6 1473.4,459.8 1472.8,461.4 1474,462.7 1474.5,464.5 1474.4,466.4 1475.1,468.2 1476.1,470.1 1477,472.1 1476.6,474.3 1476.8,476.6 1475.3,477.3 1473.9,478.3 1472.5,479.4 1471.3,480.8 1472.4,481.7 1473.4,482.7 1474.6,483.2 1475.7,484.2 1477.1,484.8 1478.5,485.1 1479.7,486.2 1480.8,487.5 1483.3,488.8 1486,489.6 1488.7,490.3 1491.5,490.1 1495.2,489.4 1498.8,491 1502.2,493.1 1505.8,494.3 1506.6,496.4 1508.1,497.8 1508.7,499.9 1509.7,501.9 1513.5,502.2 1517.2,503.8 1520.4,506.5 1524.2,507.8 1527.1,507.4 1530.1,508 1532.6,509.9 1535.1,512 1536.3,509.9 1538,508.2 1540.2,507.6 1541.9,506.1 1542.9,503.5 1542.6,500.6 1542.5,497.7 1541.3,495.1 1543.9,493.9 1546.2,492.1 1549,491.2 1551.6,490.1 1554.2,491.7 1557,491.4 1559.7,492 1562.4,492.6 1566,494.6 1569.8,496.1 1573.3,498.6 1577.1,500.2 1580.7,501.3 1584.3,502.6 1587.9,501.8 1591.6,503.6 1595,505.8 1598.7,506.4 1602.4,505.6 1606.1,506.9 1609.5,505.5 1612.5,503.1 1616.1,501.7 1619.9,501.9 1622.2,503.1 1624.6,503 1627.1,502.9 1629.4,504.4 1629.5,507 1629.8,509.6 1631.4,511.8 1631.7,514.5 1631.6,516.7 1632.2,518.9 1632.9,521 1633.8,522.9 1635.6,525.5 1636.7,528.4 1638.2,531.1 1640.4,533.1 1640.7,536.1 1641.7,539 1643.5,541.3 1644.8,544 1648,547.6 1649.1,552.4 1650.8,556.9 1653.2,560.9 1653.8,563.5 1655.2,565.8 1656.9,567.7 1658.8,569.3 1661.3,572.7 1661.7,576.9 1664.2,580.1 1667.6,581.9 1668.1,584.3 1668.3,586.6 1669.5,588.6 1671,590.4 1670.9,593.6 1670.3,596.8 1670.8,600.1 1672.4,603 1675.3,605.6 1677.8,608.7 1680.6,611.6 1681.9,615.7 1684,621.3 1683.9,627.2 1687.4,631.7 1690.3,636.7 1693.1,638.9 1695.9,641.1 1698.9,643 1701.8,645.1 1704.6,648.7 1708.5,650.4 1711.6,653.5 1713.4,657.8 1714.8,658.7 1716.1,659.9 1717.4,661 1718.8,662 1718.8,664 1718.6,665.9 1719.1,667.8 1719.8,669.6 1722.5,671.5 1725.3,673 1726.7,676.3 1729,678.9 1731.6,677.5 1734.3,676.5 1737.2,676.7 1740.1,677.2 1744,677.3 1748,677.5 1752,676.4 1754.7,673 1758.5,672.4 1762.3,672.6 1765.9,671.2 1769.4,669.6 1771.5,668.8 1773.7,668.3 1775.9,667.5 1778.1,667.1 1779.1,670.1 1778.6,673.1 1777.3,675.8 1777.1,678.9 1776.1,681.9 1775.1,685 1775.4,688.5 1773.9,691.5 1773.3,696.2 1771.5,700.5 1768.8,704.1 1767,708.4 1765.2,712.7 1762.3,716.1 1762.4,721.1 1759.9,725.2 1757.5,729.3 1755.4,733.7 1753,737.9 1749,740.4 1745.6,741.7 1743,744.7 1741.3,748.5 1738,750.5 1735,752.2 1732.1,754 1729.1,756 1726.9,758.9 1725.3,763.2 1722.3,766.3 1719.3,769.3 1715.8,771.6 1715.2,775.2 1713.1,778 1711.1,780.8 1708.3,782.5 1707.1,785.2 1705.2,787.2 1703,788.7 1700.7,790.1 1700.5,794 1698.3,797 1696,799.8 1695.4,803.6 1694.2,806.5 1692.1,808.5 1691,811.3 1689.3,813.7 1688.8,815.8 1688.9,818 1688.6,820.2 1687.6,822.1 1689,823.1 1690.3,824 1691.6,825.1 1692.7,826.3 1693.7,829.4 1693.4,832.8 1692,835.7 1691.7,839 1692.5,842.2 1694.1,845 1694.5,848.3 1694.3,851.6 1694.9,853.6 1696.3,854.9 1697.9,855.7 1699.4,856.7 1699.8,860.7 1698.9,864.7 1699.2,868.7 1699.5,872.7 1699.4,877 1700.4,881.1 1700.7,885.4 1699.6,889.6 1698.2,893.4 1695.6,896.2 1695.2,900.2 1693.7,903.9 1690.5,905.7 1687.2,907.2 1685.3,910.9 1682.2,913.1 1678.9,914.3 1675.5,914 1672.3,915.9 1670.1,919 1667.3,922.1 1665,925.7 1661.5,927.9 1659.2,931.7 1657.8,932.8 1657,934.6 1655.4,935.1 1653.9,935.9 1656.3,939.4 1657.1,943.8 1657.3,948.4 1655.9,952.8 1654.9,956 1655.4,959.4 1655.8,962.7 1657.4,965.4 1657.2,966.9 1657.1,968.4 1657,969.9 1656.3,971.3 1652.7,973.7 1648.9,975.5 1645.9,979 1641.9,980.6 1640.3,981.8 1639.4,983.8 1638.3,985.6 1636.5,986.5 1635.6,989.6 1635.7,992.8 1635.8,995.9 1635.6,999.1 1635.8,1001.9 1634.9,1004.6 1633.7,1007.2 1631.9,1009.2 1629.6,1012 1628.3,1015.4 1625.5,1017.3 1622.6,1018.5 1619.8,1020.7 1617.1,1023.2 1614.9,1026.3 1614.4,1030.3 1611.1,1033.8 1608.5,1038 1604.6,1040.4 1601.2,1043.8 1598.1,1045.2 1594.9,1046 1592.1,1048.3 1589.9,1051.4 1587.4,1051.4 1585,1051 1582.9,1052.8 1580.5,1053.9 1576.8,1052.5 1572.8,1053 1568.8,1052.8 1565,1054.7 1562.4,1056 1559.7,1056.5 1557,1056.4 1554.3,1056.4 1550.5,1057.9 1547.5,1061.2 1543.8,1059.8 1539.9,1060.6 1537.2,1059.4 1535.4,1056.6 1532.5,1056.3 1529.7,1055.6 1529.9,1053 1529.8,1050.4 1529.7,1047.8 1528.9,1045.5 1528.8,1043.2 1529.9,1041.1 1529,1039.2 1528.7,1037 1526.6,1033.2 1525.7,1028.7 1524.7,1024.3 1523.1,1020.2 1522.1,1017 1520.6,1014.2 1519.4,1011.2 1517.9,1008.4 1516.6,1004.2 1514,1001.2 1511.3,998.3 1509,994.9 1509.1,990.6 1508.8,986.3 1507,982.4 1506.7,978 1505.8,973.9 1504.4,969.9 1504.8,965.5 1504.9,961.2 1504.2,959.2 1503.5,957.2 1503,954.9 1503.7,952.8 1502.7,948.1 1500.9,943.7 1498,940.2 1496,935.9 1494.8,931.1 1492.3,927.1 1489.7,923.2 1487.5,919 1487.4,915.8 1486.5,912.8 1485.7,909.6 1486.3,906.4 1487.2,903.1 1487.3,899.7 1488.1,896.4 1490.1,893.8 1490.4,887.6 1491.9,881.7 1495.7,877.3 1499.3,872.7 1499.3,869.3 1500.8,866.5 1501.4,863.3 1501.6,860.1 1499.8,857.3 1498.8,854 1497.9,850.8 1497.3,847.4 1497,844.2 1496.5,841.1 1497,837.9 1496,834.8 1494.2,830.9 1492.1,827.3 1492,822.9 1490.9,818.8 1490.9,816.3 1490.7,813.8 1489.1,812 1488.7,809.5 1487.9,806.9 1486.5,804.6 1484.4,803.1 1482.8,801.1 1480.5,797.4 1479,793.3 1476,790.2 1472.4,788.4 1470.3,785.6 1467.9,783 1467.9,779.2 1466.5,775.8 1466.8,772.4 1468.5,769.7 1469.1,766.4 1468.7,763.1 1469.6,760 1470.2,756.8 1471.2,753.7 1471.7,750.5 1471.9,747.8 1473.1,745.5 1472.2,743.1 1472.4,740.4 1471.9,738.7 1471.6,736.9 1470.8,735.3 1470.1,733.6 1468.9,731.5 1467,730.2 1464.7,730.4 1462.7,729.4 1459.8,728.9 1457.1,730.1 1454.3,729.9 1451.5,730.3 1449.7,729.8 1447.7,729.7 1446,730.7 1444.1,731.1 1442.3,729.3 1440.8,727.2 1439.7,724.8 1438.1,722.7 1436.6,720.7 1436.1,718 1434,716.7 1432.9,714.3 1429.4,712.2 1425.5,712.8 1421.8,713.9 1418.1,714.3 1415.3,715 1412.5,715.9 1409.6,716.5 1406.9,717.6 1404,718.3 1401.2,719.2 1398.4,720.2 1395.8,721.8 1392.9,723 1389.9,723.4 1387.4,725.3 1384.6,726.9 1381.6,726 1379.5,723.4 1376.5,724.5 1373.5,723.5 1370.5,723.6 1367.9,721.8 1365.1,722.4 1362.3,723.5 1358.6,727.6 1353.8,729.5 1348.8,730.5 1343.7,730.3 1340.9,728.8 1338.5,726.5 1335.2,726.5 1332.6,724.4 1330.9,719.8 1327.3,716.8 1323.3,715 1319.3,713.4 1316.7,710.2 1313.8,707.3 1310.1,706.1 1306.7,704.1 1305.8,700.7 1303.9,697.8 1301.5,695.2 1300.9,691.5 1298.2,688.5 1294.7,686.8 1293.7,682.7 1292.1,678.9 1291.5,676.8 1290.1,675.3 1288.6,674 1287,673 1283.5,671.8 1280.5,669.4 1279,665.4 1276.1,662.8 1276.4,660.5 1275.8,658.2 1275.5,655.9 1275.5,653.6 1274.2,651.1 1273.2,648.4 1271.5,646.2 1270.5,643.5 1272.4,640.6 1273.4,637.2 1275.4,634.3 1278.1,632.5 1278.3,628.2 1279.5,624.1 1279.1,619.9 1280,615.7 1281.6,612.8 1282,609.5 1281.6,606.2 1281,603 1280.4,599.4 1278,596.8 1276.1,593.9 1275.4,590.4 1275.4,586.9 1276.9,583.8 1277.5,580.4 1279.4,577.7 1280.9,575.4 1281,572.5 1282.4,570.2 1283.3,567.6 1285.4,565.5 1287.6,563.6 1289.2,560.9 1290.8,558.3 1291.2,556.1 1290.7,553.9 1291.3,551.7 1292.5,549.9 1294.8,546.6 1296.3,542.7 1299.3,540.4 1302.3,538.1 1303.2,536.7 1303.5,534.9 1304.7,533.9 1306,533.1 1309,532.5 1311.6,530.3 1314.6,529.6 1317,527.2 1319,524.9 1321.1,522.6 1323.9,521.9 1326.5,520.4 1326.7,517.6 1327.8,515.1 1329.4,512.9 1330.3,510.3 1330.7,508.2 1330.8,506 1330.8,503.8 1329.8,501.9 1333.4,499.7 1336.1,496.2 1337.5,491.9 1338.7,487.5 1341.9,486.4 1345,485.6 1347.7,483.3 1350.2,480.8 1351.8,478.6 1353.9,477.4 1355.5,475.2 1356,472.4 1356.7,470.6 1357.9,469.4 1358.4,467.5ZM1337.6,455.6 1336.6,452.5 1336.6,449.1 1337.2,445.8 1338.7,443 1337.4,442.7 1336.3,441.7 1335.1,441.2 1334,440.4 1334.6,437.2 1336.5,434.7 1337.3,431.6 1338.5,428.7 1338.8,425.3 1339.1,422 1339.9,418.7 1340.4,415.3 1339.3,412.9 1337.9,410.8 1338.4,407.9 1337.4,405.3 1339.5,403.6 1340.9,400.9 1343.3,399.7 1345.7,399.5 1349.8,401.1 1354.1,400.9 1358.3,400.5 1362.5,401.2 1366,401.7 1369.2,403.8 1372.4,402 1375.9,401.2 1378.8,402.1 1381.6,403.2 1384.5,403 1387.4,402 1388.3,399.6 1388.7,396.9 1390.4,395.2 1391.5,392.9 1391.1,390.2 1391.2,387.4 1391.4,384.7 1392.2,382.1 1389.6,380.5 1388,377.3 1386.8,374.1 1385,371.4 1381,369.9 1378.1,366 1373.9,366.7 1370,364.8 1369.4,362.3 1368.8,359.9 1371.7,360.8 1374.7,360.7 1376.9,358.1 1380,357.4 1382.2,358.1 1384.4,359.2 1386.6,357.9 1389.1,358.2 1388.7,356.1 1388.9,354 1388.5,352 1387.8,350 1388.9,350.5 1390.1,350.5 1390.9,351.5 1391.7,352.5 1394,352.1 1396.2,351.6 1398.5,352.5 1400.8,351.7 1402.3,349.1 1404.5,347.6 1406.8,346.7 1409.2,346 1409.8,344.7 1410.5,343.4 1410.2,341.8 1410.4,340.3 1413.4,340.1 1416.2,338.6 1419.3,338.1 1421.9,336.2 1423.3,334.9 1424.7,333.7 1425.7,331.9 1426.2,329.7 1427.4,328.5 1428.4,326.9 1429.5,325.4 1429.8,323.3 1432.8,324.2 1435.6,323 1438.1,321.4 1440.4,319.3 1442.6,318.2 1444.9,317.3 1447.5,317 1449.8,318.5 1450.9,317.7 1452.1,317.2 1453.1,316.3 1454,315.3 1453.8,312.3 1453.4,309.3 1453.5,306.3 1452.7,303.3 1451.7,301.4 1450.7,299.6 1449.5,297.7 1449.2,295.4 1449.2,292.8 1450.2,290.7 1453.6,289.2 1456,285.9 1459.7,286.1 1463.2,286 1463.4,288.4 1463.1,290.7 1463.2,293.1 1462.7,295.4 1464.6,295.8 1466.4,296.2 1465.6,298.5 1464.7,300.7 1463.2,302.2 1461.4,303.3 1460.8,305.3 1460.4,307.3 1461,309.4 1461.9,311.3 1463.7,311.4 1465.4,312.7 1467.1,313.5 1468.4,315.3 1470.9,315.4 1473.3,314.6 1475.4,313.3 1477.6,312.1 1480.1,312.2 1482.3,314.2 1484.8,314.7 1487.2,315.3 1491.3,315.5 1495,313.7 1498.5,311.7 1502.5,311.3 1505.7,312.1 1508.6,310.6 1511.9,311 1514.8,309.7 1516.4,310.4 1518,311.2 1519.6,312 1521.3,312.1 1521.9,311 1522.7,310.2 1523.1,309 1523.9,308.1 1525.5,307.2 1526.8,305.8 1527.9,304.2 1529.5,303.3 1529.5,300.3 1529.9,297.4 1528.6,294.5 1527.8,291.5 1528.9,289.9 1530,288.3 1531.6,287.6 1533.2,286.8 1535.2,289.4 1537.8,290.8 1540.4,291.2 1543,291.5 1544,290.6 1545.3,290.6 1546.4,289.9 1547.7,289.9 1547.7,287.7 1546.8,285.6 1547,283.4 1546.2,281.3 1545,280.2 1543.6,279.5 1542.2,279 1540.9,278.2 1540.8,276.2 1540.2,274.3 1544.2,275.1 1548.2,275.6 1552,274.9 1554.8,271.9 1557.8,272.4 1560.9,272.6 1563.7,272.1 1566.7,271.9 1569.5,271 1572.7,271.3 1575.4,270.3 1578,268.9 1575.5,267.9 1573,266.5 1570.5,265.7 1568.1,264.2 1565,264 1561.9,263.3 1558.8,263 1556.4,265 1554,266.9 1551.2,267.8 1547.9,267 1545.1,268.1 1542.6,267.6 1540.5,268.8 1538.2,269.2 1535.9,269.6 1534.1,266.7 1531.6,265.2 1529.1,263.9 1526.7,264.2 1526.3,262.3 1525.6,260.3 1525,258.4 1524.3,256.6 1523.9,254.5 1522.8,252.8 1522.5,250.7 1523.1,249 1524.7,247.1 1527.1,246.6 1527.9,244 1528.7,241.4 1530.8,238.6 1533.2,236.1 1536.1,234.4 1538.3,231.7 1538.7,229.9 1539.9,228.9 1541.4,228.9 1542.7,228 1540.9,226.6 1538.9,225.8 1537.1,224.6 1535.2,224.3 1532.8,225.5 1530,225.1 1527.3,225.1 1524.7,225 1523.7,227 1522.9,229.2 1522.2,231.5 1521.7,233.9 1520.7,235.7 1519,236.4 1517.7,237.9 1517,239.9 1514.9,242.5 1512,243.8 1509.5,245.8 1506.5,246.7 1505.1,249.2 1503.9,251.9 1502.2,254 1500.8,256.6 1500.7,258.2 1500.7,260 1500.9,261.7 1501.1,263.5 1503.1,264.9 1505.3,265.8 1507.4,266.7 1509.5,268.1 1510,269.5 1510.7,270.8 1511.2,272.2 1512,273.5 1511,275.1 1509.6,276.1 1508,276.7 1506.5,277.4 1504.6,277.9 1502.8,278.5 1502,280.7 1500.4,282.1 1499.9,284.3 1499.4,286.5 1499.7,289 1500.3,291.5 1499.8,293.2 1498.7,294.3 1498.7,296.3 1497.9,297.8 1495.6,298.3 1493.2,297.7 1491,298.3 1488.8,299.4 1488.5,302 1487.4,304.1 1485.6,304.3 1483.7,303.9 1481.9,304.4 1480,304.1 1479.4,302.5 1478.6,301.1 1478.2,299.5 1478.2,297.8 1477,296.8 1476.3,295.3 1475.1,294.3 1474.2,293 1473.4,291 1473,288.9 1472.1,287 1471.1,285.2 1469.6,283.1 1468.5,280.8 1467.9,278.1 1466.7,275.8 1465.7,274.5 1465.1,272.9 1463.9,272.1 1462.7,271.2 1462,273.5 1460.3,274.8 1458.3,275.1 1456.5,275.8 1455.2,278.4 1453.5,280.4 1450.9,280.7 1449.1,282.8 1447.3,282.6 1445.4,282.7 1443.7,283.6 1441.9,283.6 1440.1,281.6 1438,280.3 1435.9,279.4 1433.8,278.2 1432.9,275.6 1431.3,273.5 1431,270.8 1430.4,268.1 1428.9,265.6 1428.8,262.4 1429.2,259.5 1428.8,256.6 1428.8,255.1 1429.4,253.8 1430.1,252.7 1430.3,251.2 1432.3,250.6 1434.3,250.3 1435.4,248.1 1437.1,246.7 1439.3,244 1442.3,242.8 1445.4,242.4 1448.3,241.4 1450.6,241.1 1453,241.2 1454.6,239.1 1456.6,237.7 1457.8,235.5 1459.5,234 1461,232.1 1462.9,231 1464.4,228.7 1466.1,226.7 1468,225.2 1469.4,222.8 1469.7,219.8 1470.6,217.1 1472.2,215.1 1474,213.4 1475.7,211.4 1477.4,209.6 1479,207.3 1481.4,206.9 1483.1,206.8 1484.5,205.8 1485.1,203.9 1486.3,202.6 1488.1,201.2 1489.5,199.3 1491.6,198.7 1493.9,199 1495.2,197 1497.3,196.4 1499.4,196.3 1501.4,195.5 1503.8,194.6 1506.4,194.1 1509,193.6 1511.7,193.4 1515.3,193.5 1519,193.7 1522.1,191.9 1524,188.5 1526.5,187.1 1529.2,186.3 1531.9,185.3 1535.1,186.4 1538.2,186.4 1541.4,187.1 1544.6,187.7 1547.5,187.1 1551.5,186.6 1555.9,188.3 1560.3,190.4 1564.7,192 1563.7,193.2 1563.4,195.2 1562,195.8 1560.5,196.2 1564.5,195.4 1568.3,194.4 1572.7,196.3 1577.2,198.3 1581.7,198.7 1586.3,202.3 1590.1,201.1 1594.1,200.4 1599.4,198.9 1605.9,201.8 1612.1,205.7 1618.4,208.3 1620.8,209.8 1622.9,212.1 1625,214.4 1627.5,215.5 1627.8,217 1628.3,218.6 1628.5,220 1628.4,221.4 1625,221.9 1621.4,221.4 1618.5,223.1 1614.9,222.8 1609.6,221.2 1604.5,220.6 1599.1,218.9 1594.2,219.2 1591.3,218.3 1588.4,218.2 1585.6,218 1582.7,217.7 1581.1,215.8 1579.2,214.8 1582.1,219.1 1586,221.5 1589.7,224.3 1593.5,226.5 1594.6,228.3 1595.5,230.1 1595.8,232 1596.7,233.9 1600.3,236.7 1604.1,238.5 1607.3,237.4 1611.1,238.4 1611.5,237.4 1612.5,237 1612.8,236 1612.9,234.7 1611,233.5 1609.2,233.2 1607.7,231.3 1605.9,230.2 1611.1,232.1 1615.5,230.8 1620.5,231.2 1625.7,233.9 1625.8,231.8 1626.4,230.1 1627.1,228.5 1627.3,226.5 1629.4,225.4 1631.4,224.2 1632,221.4 1633.2,219.2 1636.4,221.7 1639.6,222.1 1642,220.9 1645.1,221.4 1644.7,218.8 1645.3,216.8 1645.2,214.5 1644.4,211.9 1642.7,210.5 1641.1,208.8 1639.8,206.8 1638.9,204.7 1641.9,205.5 1644.7,205.5 1647.5,205.3 1650.7,206.9 1652.4,209 1654.4,210.7 1655.6,213.1 1656.8,215.5 1658.9,216.4 1660.9,216.8 1662.6,216.6 1664.3,216.3 1664.9,214.1 1666.4,212.9 1667.1,210.8 1668,209 1671.3,207.4 1675.1,206.6 1677.8,204 1682.5,204.7 1685.4,204.9 1687.7,203.9 1691,205.6 1694,206.1 1696.1,206 1698.4,206.4 1700.3,205.7 1701.2,204 1702.7,201.1 1706.2,200.8 1710.1,201.8 1713.7,201.9 1716.7,202.6 1719.7,203 1722.7,203.7 1725.6,204 1726.1,201.9 1727.6,200.8 1726.4,197.8 1726.5,195.5 1730.9,196 1735.7,197.7 1740.7,199.5 1744.6,199 1746.3,199.7 1747.8,200 1749.2,200 1750.8,200.4 1754.1,201.4 1756.7,201.1 1759.7,201.3 1763.3,203.3 1764.7,202.7 1766.7,203.2 1768.9,204.6 1771.1,205.4 1768.3,203.3 1765.5,201.5 1762.7,199.2 1759.9,197.6 1758.1,195.6 1756.5,193.4 1755.6,191.3 1753.8,189.2 1753.8,185.9 1754.9,183.4 1756,180.8 1754.7,176.8 1754.7,174.6 1756,173.5 1757.5,172.7 1759.1,172 1763.4,173.5 1767.8,175.5 1771.8,176.3 1774,174.7 1775.9,177.1 1778.3,179 1779.9,181.3 1781.8,183.6 1782.2,185.6 1781.1,186.5 1781.8,188.6 1782.3,190.6 1785.8,193 1789,196.3 1791.8,199.9 1795.4,202.6 1797.1,206 1800.1,209.4 1802.7,212.9 1806.2,215.5 1805,216.9 1803.1,217.5 1801.5,218.5 1801,220.6 1804.1,220.7 1806.4,219.7 1807.3,217.2 1809,215.5 1807.9,212.7 1807.5,210.3 1806.5,207.6 1804.9,204.7 1801.8,201.2 1798.7,197.7 1796.1,194 1792.9,190.6 1791,187.9 1789.3,185.3 1787.7,182.8 1785.7,180.2 1786.7,179.6 1787.3,178.7 1788.2,178 1788.4,176.8 1791.6,177.6 1794.1,177.5 1797.5,178.7 1800.3,178.8 1802.7,180.2 1804.6,180.5 1806.8,182.2 1809.1,183.6 1811.2,182.9 1813.7,182.5 1815.8,181.8 1817,180.2 1816.9,177.9 1815.2,174.9 1813.9,172 1814,170 1817.7,169.8 1821.2,169.5 1824.7,169 1828.2,168.7 1829.9,166.3 1830,162.9 1833,161.8 1838.5,163.3 1836.5,162.6 1834.2,161.3 1832.4,160.8 1830.4,160 1832.9,157.7 1837,156.7 1841.2,155.9 1847.1,156.7 1852.5,157 1857.9,157.3 1861.1,155.8 1863.4,153.5 1869.5,154.4 1874.5,154.5 1877.7,153 1880.9,151.5 1882.5,149.8 1883.7,147.9 1886.8,147.4 1890.2,147.1 1892,145.6 1894,144.4 1895.3,142.6 1899.1,142.7 1903.8,143.3 1910.9,146.3 1916.2,147.6 1919.4,147.1 1926.9,150.6 1931.9,151.3 1935.9,151.4 1938.2,150.2 1944.5,151.6 1946,149.5 1951.7,150.5 1959.7,153.5 1962.3,155.9 1964.3,158.2 1966.7,160.7 1969.7,163.3 1966.5,163.9 1966,166.4 1963.7,167.7 1958.5,166.6 1961.1,166.6 1965.1,167.9 1967.6,167.9 1971.1,168.7 1973,168.2 1976,168.5 1978.4,168.4 1982.1,169.3 1987.3,169.4 1992.1,169.2 1998.2,170 2003.3,170 2006.1,167.2 2009.7,164.9 2017.1,165.4 2028.9,170 2029.2,167.4 2034.2,168 2038.7,168.4 2046,171.3 2050.6,171.8 2057.5,174.3 2064.5,176.9 2068.4,176.8 2071.7,179.1 2075.3,181.2 2078.9,183.2 2082.1,185.7 2085.6,185.8 2089.4,186.1 2091,184.8 2092.7,183.6 2096.5,183.4 2098.5,181.9 2102.1,181.6 2108.5,183.6 2114,184.9 2119.7,186.3 2119.6,183.3 2124.2,183.6 2126.9,183.3 2126.4,181 2124,177.9 2125.4,176.8 2126.6,176.6 2125.9,175.3 2127.9,175.8 2128.7,175.4 2138,178.6 2146.4,180.8 2148.9,178.9 2153.3,178.1 2163.4,180.6 2167.4,178.7 2176.9,180.8 2187.2,183.6 2190.2,182.8 2197,184.9 2202.7,186.2 2208,187.1 2211.2,185.7 2217.9,186.6 2222.9,186.4 2229.1,187.1 2236,189.1 2243.4,191.7 2250.8,194 2255.2,194.1 2257.2,195.2 2259.3,196.2 2260.9,196.6 2262.9,197.6 2263.3,194.8 2266,193.3 2274.3,195.9 2279.7,196.2 2283.1,194.9 2285.7,193.1 2292.1,193.7 2299,194.8 2304.4,196 2308.4,196.2 2315,198.5 2322,201.1 2320.5,199.5 2319.4,198 2317.4,196.2 2314,194.1 2321.7,194.6 2324.2,191.9 2332.9,193.2 2344.1,196.2 2354.8,199.9 2362.4,201.2 2371.1,203.2 2373.5,201.1 2395.6,215.5 2417.2,230.2 2416.3,231.1 2413.8,231 2413.4,232.2 2414,233.9 2412.8,234.2 2410.2,233.3 2408.3,232.9 2406.2,232.5 2406.5,233.2 2407.7,234.4 2408.3,235.4 2408.6,236.2 2417.5,240.9 2425.8,244.6 2431.6,245.8 2439.5,249 2438.2,250.3 2434.9,250.4 2431.4,250.4 2426.2,249 2422.9,249.4 2423.8,252.5 2419.6,252.3 2419.8,255 2421.2,258.4 2419.6,260.2 2414.3,259.1 2412,260.4 2412.4,262.7 2414.9,266 2411.6,265.9 2411.7,268.1 2406.5,266.7 2403.6,267.2 2398.3,265.7 2393.2,264.2 2392.6,266 2388.7,265.5 2386.8,266.3 2386.1,268.1 2384.8,268.9 2384.7,270.5 2382.6,270.7 2379,269.6 2378.8,271.1 2380.2,273.4 2380,274.8 2379.2,275.8 2380.9,277.8 2382.2,279.6 2384.8,281.7 2386.3,283.6 2385,283.9 2385.4,285.3 2383.8,285.3 2382.1,285.2 2386.3,287.2 2390.3,288.8 2394.6,290.9 2399,293.8 2398.3,294.4 2398.4,295.4 2399,296.7 2399.1,297.8 2399.3,299.6 2401,302.1 2403,304.7 2405,307.3 2404.2,309.4 2400.3,309.1 2400.3,311.7 2402,315.3 2401.2,316.9 2401.6,319.4 2402.3,322.2 2400.6,323.3 2402.2,325.3 2403.3,327.2 2404.7,329.3 2407.1,331.4 2404.9,332.3 2404.6,334.6 2403.7,336.5 2404.4,339.5 2400.3,335.9 2395.8,332.7 2391.3,330.6 2386.8,327.3 2382.8,323.1 2379.7,319.1 2374.2,315.6 2369.8,311.3 2365.3,306.9 2361.6,302.5 2357.1,298.1 2353.1,293.8 2353.8,292.2 2353.7,290.2 2352.1,287.4 2351.7,285.2 2353.5,284.6 2355.2,284 2357,283.4 2356.5,281.3 2356.9,279.4 2357.2,277.4 2356.5,274.9 2354.9,271.9 2355.7,270.3 2356.6,268.8 2359,268.3 2358.4,265.8 2358.5,263.5 2355.2,259.6 2354.5,256.9 2357.3,256.6 2356.5,255 2355.2,253.2 2353.3,251.1 2350.8,249 2349.5,251 2351.6,254.9 2349,256.1 2345.6,256.6 2347.5,259.4 2347,260.9 2344.6,261.1 2344.1,262.7 2337.8,261.2 2331.5,259.7 2324.5,257.3 2317.4,255 2320.2,259.4 2320.5,262.5 2321.8,266.2 2322.5,269.6 2322.8,270.6 2323.7,271.8 2323.4,272.4 2323.8,273.5 2321.7,274.9 2317.9,274.9 2313.1,274 2311.4,275.8 2309,275.9 2305.3,274.5 2301.1,272.4 2298.2,271.9 2295.8,271.9 2294.9,273.1 2291.6,272.1 2288.4,271.2 2287.3,274 2283,274.4 2278.4,274.4 2272.9,273.5 2268.6,273.7 2262.5,272.1 2260.3,274.1 2255.8,274.3 2253.8,276.4 2249.8,276.9 2248.7,279.9 2251.7,285.2 2254.2,290.3 2253.6,293.8 2249.1,294.1 2247.6,297 2246.5,299 2247.6,302.4 2246.9,304.8 2249.2,308.9 2252.4,310.8 2254.9,311.3 2258,312.9 2261,315.3 2265.3,316 2269,316 2272.8,316.1 2274,313.7 2277.8,316.4 2281.4,317.8 2284.9,319.2 2288.7,321.7 2290.7,323.5 2292.6,325.4 2294.9,327 2296.8,328.9 2297.3,331.4 2299.7,334.7 2299.3,336.6 2300.5,339.5 2304.4,343.7 2308.8,347.6 2310.3,351.4 2313.3,355.8 2312.3,358.7 2313.9,363.2 2313,366.3 2314.2,370.5 2314.7,373.3 2314.6,375.7 2313.8,377.6 2314.4,380.4 2312.6,382.5 2312.7,386 2312.8,389.5 2312.6,392.9 2311,394.2 2309.8,396.1 2308.7,398.1 2309.2,401.2 2308,404.3 2306.3,407.1 2302.5,407.5 2298.6,407.8 2295.7,406 2292.9,404.5 2290.4,404 2287.9,403.7 2287,405.2 2287.7,407.8 2286.3,408.8 2284.7,409.5 2283.9,411.4 2284.3,414.1 2283.3,415.7 2282.8,417.8 2282.2,419 2282.7,420.8 2284,422.7 2284.5,424.5 2283.8,427.5 2282.5,430.1 2279.5,430.8 2276.9,432.1 2276.5,434.2 2277.5,437.1 2279.8,438.4 2282.1,439.9 2284.5,440.9 2286.7,443 2289,446.9 2292.4,450.3 2296,453.1 2299.7,455.6 2302.3,458.6 2304.3,461.9 2304.6,464.9 2305.5,468.2 2304.4,469.3 2302.8,469.8 2302.4,471.6 2301,472.4 2299.4,472.9 2298.7,474.6 2296.8,474.5 2295.1,474.9 2292.7,474.3 2290.4,474.3 2289.2,475.8 2287.4,476.6 2285.6,473.4 2284.8,470.2 2283.7,467 2283.3,464 2282.7,461.7 2283.2,460 2282.4,457.7 2280.9,455.6 2279.3,453.6 2277.4,451.7 2275.4,451.1 2273.3,449.7 2271.4,449.5 2269.3,448.6 2267.1,447.4 2265.2,447.2 2262.4,444 2261.1,440.6 2260.3,437.4 2260.4,434.6 2258.5,434.4 2256.5,433.3 2254.5,432.1 2252.5,431.2 2250.9,433.6 2248.9,435.4 2246.5,437 2242.6,436.2 2242,438.4 2240,439.3 2237.9,440 2235.7,440.4 2233.7,435.9 2233.6,432 2231.2,427.4 2231.4,423.7 2229.8,423.4 2228.1,422.4 2226.9,422.8 2225.5,422.8 2225.3,426.9 2222.5,428.8 2219.9,430.8 2219.1,434.6 2216.5,434.4 2214.1,434.6 2212.5,436 2210.7,437.1 2211,438.9 2212.2,440.9 2213.1,442.8 2213.5,444.6 2215.9,446.5 2218.3,447.2 2220.6,447.8 2223,448.8 2224.2,450.2 2225.5,451.4 2226.7,452.7 2228,453.9 2230.6,453 2233.4,452.7 2235.7,451.4 2236.9,448.8 2240.1,449.3 2243.3,449.6 2246.6,450.1 2250.2,452.2 2250.5,454.7 2251.1,457.2 2249.4,459.9 2246,460.1 2243.1,461 2241.1,463.1 2238.9,464.5 2237.2,466.4 2237.3,469.6 2236.5,472.4 2238.3,474.8 2240.6,476.6 2242.9,478.4 2244.8,480.8 2247.5,484.3 2250.9,487 2253.8,490.1 2256.6,493.4 2259.1,494.8 2261.5,495.7 2263.1,498.4 2265.5,500.2 2265.5,501.8 2266.4,503.6 2266.3,505.2 2267.2,506.9 2264.6,507.2 2262.4,508.2 2260.7,509.7 2259.6,512 2262.5,512.1 2265.5,514.1 2268.2,514 2271.1,514.5 2270.7,516.4 2271.4,518.6 2272.1,520.8 2272.4,522.9 2272.2,524.4 2272.6,526.1 2272.3,527.4 2272,528.8 2272,532 2271.2,534.7 2269.8,537 2267.4,538.1 2268.3,541.4 2267.5,544.2 2265.8,546.1 2264.3,548.2 2263.7,550.2 2263.6,552.5 2262.1,553.6 2260.8,555 2259.6,556.8 2258.8,559.1 2257.1,560.4 2254.9,560.9 2253.8,563.9 2252.8,567.1 2250.8,569.4 2248.3,571 2245.1,572.5 2243.2,575.6 2239.8,576.6 2236.1,576 2234.3,576.9 2232.1,576.4 2230.5,577.6 2229.5,579.4 2227.8,580.2 2226,580.6 2224.1,580.8 2222.6,581.9 2219.7,582.3 2217.7,584.4 2215,585.1 2212.4,586.2 2210.2,586.6 2208.5,588 2206.4,588.7 2204.1,588.7 2204.4,590.6 2204.6,592.5 2204.8,594.4 2204.6,596.3 2202.6,594.2 2201.7,591.4 2201.1,588.5 2199.3,586.2 2196.9,585.8 2194.8,586.7 2192.7,584.9 2190.3,584.5 2187.3,585 2184.3,585.7 2182.8,588.6 2180.3,590.4 2180,592.6 2179.2,594.6 2178.7,596.7 2178,598.8 2178.3,602 2177.3,604.8 2175.3,606.7 2173.7,608.9 2174.3,612.4 2176.2,615.4 2178.9,617.4 2181.2,619.9 2183.1,624.1 2186.6,626.9 2190,629.5 2193.9,630.8 2196.2,634.8 2199.9,637 2200.8,641.3 2203.1,645.1 2204.3,649.7 2207.4,653.2 2207.4,657.6 2207.3,662 2205.8,663.8 2205.3,666.3 2205.8,668.8 2205.9,671.3 2203,673 2199.6,673.2 2197.3,675.8 2195.5,678.9 2194.1,681 2193.7,683.8 2192.2,685.8 2190.3,687.3 2187.8,689.9 2184.6,691.5 2181.7,693.7 2178.1,694 2177.5,691.3 2177,688.6 2176.3,685.8 2175.9,683.1 2173.1,682.6 2170.8,680.8 2168.2,679.7 2165.8,678 2162.7,676.2 2160.8,672.8 2159.5,669.3 2157.4,666.2 2154.2,666 2151.2,664.5 2148.3,662.7 2145.8,660.3 2145.7,658.7 2145.5,657.1 2144.9,655.5 2143.7,654.4 2142.1,654.1 2140.6,653.9 2139.1,654.3 2137.9,655.3 2138.7,658 2139.3,660.7 2139.1,663.5 2138.9,666.2 2139.2,669.7 2139.4,673.2 2137.1,675.5 2136.3,678.9 2135.8,681.5 2136.5,684.2 2135.8,686.7 2134.8,689 2136.9,691 2138.6,693.4 2141.2,694.7 2142.8,697.4 2143.6,699.7 2143.7,702.2 2144.4,704.5 2145.5,706.7 2147.9,708.3 2150.3,709.7 2152.9,710.7 2155.4,711.7 2156.8,713.2 2157.5,715.2 2159.2,716.1 2160.9,716.8 2163.8,719 2165.5,722.4 2166.8,726 2168.1,729.4 2167.7,733 2167.8,736.7 2168.5,740.2 2169.3,743.8 2170.6,746.8 2172.4,749.5 2174.4,752.1 2174.8,755.6 2173.4,755.4 2172.2,756 2170.9,756.1 2169.6,756.4 2167.8,753.5 2165,752 2162.3,750.8 2159.8,748.8 2158.2,747.1 2156.1,746.3 2154.8,744.2 2152.9,742.9 2151.9,740.1 2150.7,737.4 2149.3,734.7 2148.1,732 2147.3,728.7 2147.3,725.3 2146.1,722.3 2144.7,719.3 2144.4,717.6 2143.8,715.9 2144.2,714.3 2144.3,712.6 2142.6,710.4 2141.9,707.7 2140.2,705.5 2138,704.1 2136.8,701.6 2134.6,700.2 2132.2,699.8 2130.2,698.2 2130,696.1 2129.8,693.9 2129.4,691.7 2128.2,689.8 2129.1,687.2 2129,684.4 2128.7,681.5 2129.6,678.9 2128.6,675.7 2128.5,672.5 2129.7,669.6 2129.3,666.2 2128,662.4 2127.4,658.4 2126.4,654.5 2124.1,651 2123.4,647.7 2122.5,644.4 2120.6,641.5 2119,638.4 2118.9,635.8 2117.6,633.4 2116.7,630.8 2117,628.3 2115.8,626.9 2114.4,625.7 2113,624.5 2111.3,624.1 2109.6,627.2 2106.9,629.2 2104,631 2102.3,634.2 2100.2,632.6 2097.8,632.6 2095.6,632.8 2093.3,632.5 2092.6,629.2 2091.9,626 2091.8,622.6 2093.2,619.9 2091.8,616.6 2091.5,613.1 2090.1,609.9 2087.8,607.2 2086.5,604.2 2084.1,602.3 2081.6,600.7 2079.3,598.8 2077.4,595.3 2075.4,591.9 2073.1,588.7 2070.3,586.2 2068.7,584.2 2068.2,581.7 2067.1,579.5 2065.4,577.7 2063.9,578.8 2062.2,579.6 2060.2,579.3 2058.5,580.3 2056.4,582.3 2053.5,582.6 2051,584.1 2048,583.6 2044.8,585.4 2041.3,586.5 2037.5,585.8 2033.8,586.2 2034,588.3 2033.7,590.4 2034.1,592.6 2033.4,594.6 2031,596.1 2028.2,596.5 2025.8,598.2 2024.8,601.3 2022.9,604.8 2021,608.3 2017.6,609.9 2015.3,613.1 2012.1,616 2008.7,618.7 2007.7,623.5 2004.4,626.6 2002.5,628.3 2000.1,628.7 1998.2,630.3 1996.9,632.5 1995.2,633.9 1993.4,635.2 1991.6,636.6 1990.2,638.4 1990.7,642.5 1992.6,646.1 1992.2,650.1 1990.8,653.6 1990.9,657.9 1989.7,661.9 1989.4,666.1 1989.9,670.4 1989.7,672.9 1989.8,675.5 1990.4,678 1990.5,680.5 1990,683.3 1988.8,685.6 1986.9,687.3 1985.1,689 1983.6,690 1982.7,691.7 1980.9,691.5 1979.3,692.3 1977.7,693.6 1976.7,695.5 1975.9,697.6 1974.5,699.1 1972.9,696.3 1971.4,693.5 1968.9,691.9 1966.6,689.8 1965.3,687.1 1963.6,684.7 1963.1,681.7 1962.3,678.9 1960.8,675.5 1958.3,673.1 1956.4,669.9 1956.3,666.2 1954.6,661.9 1953.5,657.4 1952.1,652.9 1949.1,649.4 1945.9,645.9 1943.4,641.7 1941.6,637.2 1940.3,632.5 1938.7,627.2 1937.7,621.8 1935,616.9 1933.7,611.4 1933.4,609.3 1933.4,607.2 1932.3,605.2 1932.1,603 1930.4,600.1 1930.4,596.7 1930,593.5 1929.3,590.4 1928.3,587.9 1927.7,585.4 1927.7,582.8 1927.4,580.3 1926.6,582.3 1926,584.4 1925.2,586.5 1924.7,588.7 1923,590.5 1921,591.8 1918.7,592.1 1916.4,592.9 1914.2,588.5 1911.4,584.5 1907.1,583.3 1903.4,580.3 1904.4,578.5 1906,577.3 1907.1,575.6 1908.6,574.4 1905.5,573.5 1902.9,571.3 1900,570.1 1897.1,569.3 1895.2,567.8 1893.6,566 1891.5,565.2 1889.3,565.1 1887.9,563.3 1886.3,561.9 1886,559.5 1884.8,557.5 1883.7,556.4 1883,554.9 1881.7,554.4 1880.6,553.3 1876.9,552.2 1873.2,552.1 1869.6,552.8 1866.2,554.1 1861.5,554.6 1857.8,557.5 1853.1,555.4 1848.4,555.8 1845.7,556.6 1842.8,556.8 1839.9,556.2 1837.3,554.1 1833.3,553.5 1829.9,555.2 1826.4,552.8 1822.5,551.6 1820,550.9 1817.7,549.4 1815.3,548.3 1812.7,548.2 1811,546.7 1809.9,544.5 1809.5,542.1 1808.8,539.8 1805.4,539.5 1802,539.3 1798.8,540.1 1796.2,542.3 1793.4,542.1 1790.8,542.8 1788,542 1785.3,541.5 1783.1,540.3 1780.7,539.7 1778.8,537.9 1777.3,535.6 1775.1,532.6 1771.9,531.4 1768.9,530.9 1765.8,529.7 1764.9,527.5 1764.7,525.1 1763.5,523 1761.9,521.3 1759.7,518.9 1757.1,517.6 1755.4,514.7 1752.9,512.8 1751.4,512.8 1750.2,513.7 1748.7,513.6 1747.2,512.8 1746.3,514 1745.2,514.9 1743.7,515.1 1742.7,516.2 1743.8,518.4 1745.1,520.6 1745.3,523.1 1745.2,525.5 1746.3,527.8 1747.8,529.8 1748.7,532.2 1750.5,533.9 1752.7,536.3 1755.1,538.5 1757.5,540.7 1760.1,542.3 1760.8,544.6 1760.4,546.8 1761.3,548.8 1762.4,550.8 1763.9,550.3 1765.4,550.8 1766.6,550 1768.1,549.9 1769.6,548.5 1771.6,548.2 1771.5,550.8 1771.3,553.4 1771.8,556.1 1773.3,558.3 1775.1,559.7 1776.4,561.6 1778.2,563.1 1780.3,563.4 1783.1,563.6 1785.8,564 1788.7,564.5 1791.2,563.4 1794.9,562.6 1797.6,559.7 1799.5,556.2 1800.9,552.4 1802.7,551.4 1803.9,549.5 1804.3,547.1 1805.9,545.7 1806.3,549.2 1806.3,552.6 1808.3,555.6 1808.9,559.2 1811.1,561.1 1812.2,564 1814.7,565 1816.9,566.8 1819.2,566.9 1821.4,567.5 1823.6,568 1825.8,568.5 1828.4,570.3 1830.4,573 1832.7,575.1 1834.7,577.7 1834,579.7 1834.2,582 1833.8,584.1 1833.3,586.2 1832.1,588.5 1831.1,591 1829.3,592.8 1827.5,594.6 1826.7,598 1825.2,601 1824.3,604.3 1822.7,607.2 1821.2,610.2 1819.5,613 1817,614.9 1813.9,615.7 1811,617.7 1807.6,618.2 1804.9,620.4 1803.5,624.1 1798.4,624 1793.9,626.4 1789,628 1785.8,632.5 1780.5,631.9 1775.7,633.9 1772.8,638.8 1767.9,640.9 1762.9,642.1 1758.4,644.7 1754.1,647.7 1750,651 1745.8,653.9 1741.7,657 1736.9,658.5 1732,659.5 1729.1,660.1 1726.6,661.6 1723.7,661.5 1720.9,660.3 1720.4,658.6 1719.6,657 1718.7,655.4 1718.4,653.6 1717.5,650.3 1717.8,646.9 1717.1,643.4 1714.8,640.9 1714.7,637.7 1714.7,634.6 1714.8,631.3 1713.4,628.3 1710.1,625.3 1708.3,620.9 1706.9,616.4 1703.7,613.1 1702.5,609.4 1700.4,606.2 1697.6,603.8 1695.6,600.5 1692.8,598.6 1690.2,596.4 1688,593.6 1686.3,590.4 1684.2,586.3 1681.8,582.6 1681.7,578 1681.6,573.5 1679.6,569.8 1676.6,567.1 1674,563.9 1671.3,560.9 1670.1,557.5 1668,554.7 1666.4,551.6 1665.4,548.2 1662.3,543.7 1657.8,541.2 1656.4,535.8 1653.2,531.4 1652.6,528 1651,525 1649.7,521.9 1648.5,518.7 1647.5,521.8 1646.2,524.6 1645.2,527.9 1646,531.4 1645.4,533.1 1643,533 1641,531.3 1639,529.6 1637.8,527.2 1635.8,524.2 1633.5,521.6 1633.6,518 1632.4,514.5 1631.8,511.8 1632.2,509.1 1630.2,507.2 1629.4,504.4 1632.9,504.3 1635.9,502.6 1639.3,502.4 1642.8,503.6 1643.5,500.8 1645.1,498.7 1645.2,495.7 1646.7,493.4 1648.7,491.1 1649.8,487.8 1650.4,484.4 1649.6,480.8 1651.2,478.2 1651.8,474.9 1652.2,471.6 1651.6,468.2 1651.5,465.5 1652.5,463.3 1651.5,460.7 1651.7,458.1 1648.8,458.6 1645.9,459.2 1642.8,457.8 1639.8,458.1 1636.1,458.1 1632.6,459 1629.2,460.4 1626.5,463.1 1622.8,461.1 1619.5,458.4 1615.9,459.3 1612.1,458.9 1609.4,459.3 1606.7,458.6 1604.2,459.5 1601.8,460.6 1598.9,460.1 1596.1,459.7 1593.5,458 1590.9,456.4 1589.6,453.5 1587.9,450.9 1586.5,448.2 1584.9,445.5 1583.5,443.4 1582.4,441.1 1581.2,438.8 1580.5,436.2 1580.3,434.8 1579.9,433.3 1579.5,431.9 1579.2,430.4 1580.8,430.3 1582.1,429.4 1583.5,428.6 1584.3,427 1588,428 1591.6,428.4 1594.8,426.8 1597.7,424.5 1598,422.5 1597.8,420.3 1602,423.3 1606.4,423.3 1610.8,423.2 1614.2,420.3 1617.7,419.5 1621.1,418.3 1623.3,414.9 1626.8,413.7 1629.4,412.4 1632.4,412.7 1635.5,413.8 1638.2,412.8 1640.5,415 1643,416.6 1645.5,418.3 1648.1,419.5 1651.7,420.7 1655.2,420.9 1658.7,422.4 1662.2,422 1664.7,421.6 1667.2,421.5 1669.8,421.1 1672.4,422 1675.2,421.4 1677.8,420.3 1680.5,419.3 1682.4,417 1682.4,415.1 1681.7,413.2 1681.5,411.2 1680.3,409.5 1677.1,408.8 1674,406.9 1671.6,403.6 1668.7,401.2 1665.6,399.9 1662.8,397.8 1659.8,396.3 1657.2,393.7 1655.2,391.7 1652.8,390.9 1650.6,389.3 1648.3,388.7 1646,387.5 1643.8,386.2 1645.9,384.8 1647.6,382.6 1649,380.3 1651.1,378.8 1652.6,376.6 1654.8,375.2 1656.4,373.2 1657.4,370.5 1654.9,371.8 1652.5,373.2 1649.5,372.4 1646.6,372.2 1642.7,372.7 1638.8,373.5 1636.1,376.6 1632.4,378 1632.5,379.5 1633,381.1 1632.8,382.6 1632.1,383.7 1634.5,382.8 1637.3,383.6 1639.9,384.7 1642.5,386.2 1641.5,387.9 1639.8,388.5 1638.2,389.2 1636.3,388.7 1633.4,388.6 1631,389.9 1629.7,392.7 1627.1,393.7 1624.9,392.5 1622.7,391.2 1620.7,389.9 1618.7,389.5 1616.9,387.7 1615.7,385.4 1618,384.9 1619.7,383.2 1621.5,381.7 1622.8,379.6 1619.9,378.3 1616.9,377.3 1614.3,378.4 1611.3,378 1609.5,377.9 1607.7,377.3 1606.1,376 1604.3,375.5 1603.4,376.9 1601.9,377.5 1601.5,379.2 1600.4,380.4 1599.7,382.2 1599,383.9 1597.8,385.1 1597.4,387.1 1595.3,388.3 1593.7,390.3 1592.5,392.6 1591.8,395.4 1591.5,398.2 1591.4,401.2 1590.5,403.9 1588.5,405.3 1588.2,407 1587.8,408.5 1588.2,410.3 1588,412 1588.2,413.8 1589.1,415.3 1590.1,416.8 1591.4,417.8 1593.1,417.9 1594.7,418.6 1596.2,419.7 1597.8,420.3 1595.9,420.1 1594.1,420.7 1592.1,420.7 1590.5,422 1589.2,422.5 1588.4,423.8 1587.3,424.5 1586.2,425.4 1584.4,425.8 1582.5,426.2 1580.6,426.5 1578.8,427 1577.5,425.2 1577,422.8 1574.5,423 1571.9,422.9 1569.3,422.5 1566.8,422.8 1565.3,423.5 1564.4,425.1 1563.6,426.7 1562.5,427.9 1563.8,429.2 1565.4,429.5 1563.3,428.9 1561.2,428.7 1559.1,428.3 1557,427.9 1555.9,429.8 1555.4,432.1 1556.3,433.8 1557.5,435.3 1558.3,437.2 1559.4,438.8 1560.7,441.2 1562.8,442.7 1564,445.1 1565.7,447.2 1564.3,447.1 1563,447.5 1561.5,447.3 1560.2,448 1559.9,450.5 1560.7,453 1560,454.6 1560.3,456.4 1560,458.1 1559.9,459.8 1557.8,459.7 1555.7,459.8 1554.5,458.6 1553,458.3 1551.6,457.7 1550.5,456.4 1549.2,454.7 1547.6,453.2 1547.1,451 1546.5,448.8 1547.5,447.9 1548.6,447.1 1549.8,446.2 1550.3,444.6 1549,443.1 1547.4,442.4 1545.8,441.7 1544.4,440.4 1543.1,438.6 1542,436.6 1540.2,435.6 1538.4,434.6 1536.7,432.6 1534.7,431 1533.2,428.8 1532.2,426.2 1532.5,423.7 1532.8,421.2 1532.1,418.7 1532.1,416.2 1529.8,415.5 1527.9,413.7 1525.9,412 1524.7,409.5 1521.8,409.1 1519,407.8 1516.4,406 1514.1,403.7 1511.6,401.4 1509.1,399.4 1506.3,398.3 1503.5,397 1501.1,395.2 1498.8,393.1 1497.4,390.1 1496.1,387.1 1494.7,387.9 1493.2,387.9 1491.8,388.7 1490.2,388.7 1490.7,387.4 1490.5,385.8 1490.3,384.4 1490.5,382.9 1488.3,384.1 1486,384.8 1483.7,385.7 1481.4,386.2 1482.2,387.8 1482.3,389.5 1481.7,391.1 1481.8,392.9 1484,395 1486.4,397 1488.6,399.3 1491,401.2 1493.2,403.2 1494.3,406.2 1495.6,409.1 1497.7,411.2 1500,412.3 1502.1,413.6 1504.4,414.7 1506.8,414.5 1508.2,414.6 1509.6,415.3 1509,417 1508.4,418.7 1510.8,419.6 1512.9,421.3 1515.2,422.1 1517.6,422.8 1519.8,424.7 1521.5,427.2 1523.8,428.7 1526.3,429.5 1525.5,430.6 1525.1,432.1 1522.5,431.9 1520,430.3 1518.4,427.5 1515.8,426.2 1515.2,427.9 1515.2,429.9 1514.6,431.6 1513.5,432.9 1515,433.7 1516.1,435.2 1517,436.9 1517.4,438.8 1516.5,440.2 1516.1,441.9 1514.6,442.4 1513.6,443.8 1513,445.1 1512.2,446.1 1511.4,447.2 1510.4,448 1509.1,447 1508.1,445.5 1509.1,443.9 1509.3,441.8 1509.8,439.9 1511.2,438.8 1509.8,436.9 1508.5,435 1508.4,432.5 1507.2,430.4 1505.4,429.5 1503.6,428.6 1502.3,426.8 1500.7,425.4 1499.6,423.8 1498.1,423 1496.5,423 1495,422 1493.2,422.4 1491.4,421.6 1489.9,420.1 1488.1,419.5 1486.8,418.2 1485.4,417 1484,415.9 1482.4,415.3 1480.3,413.9 1478.5,412 1476.4,410.5 1474,410.3 1472.9,409.2 1471.7,408.4 1471.1,406.8 1470.4,405.3 1470.2,403.3 1470.1,401.2 1469.1,399.5 1468,397.8 1465.5,397 1463.2,395.8 1460.6,395.6 1458.4,393.7 1457.2,395.1 1455.6,395.4 1454.7,397 1453.2,397.8 1452.1,398.9 1450.7,399.3 1449.3,399.1 1447.9,399.5 1445.8,400.5 1444.1,402.4 1442,403.4 1440,404.5 1437.8,404.8 1435.7,404.6 1433.7,403.4 1431.8,402 1429.6,402.7 1427.6,403.9 1425.2,404.2 1423.1,402.8 1422.2,404.5 1421.7,406.4 1420.4,407.6 1419.8,409.5 1420,412.2 1421.2,414.5 1419.3,415.5 1418.1,417.4 1416.1,418.1 1414.5,419.5 1411.9,420.3 1409.3,420.1 1407.5,422.5 1405,423.7 1403.5,426 1403.3,428.9 1401.2,430.1 1399.5,432.1 1398.9,434.4 1397.4,436.2 1398,437.6 1398.9,438.6 1400.1,439.3 1400.9,440.4 1399.5,442.3 1397.6,443.1 1396.2,444.9 1395.3,447.2 1394.8,448.9 1393.9,450.5 1391.7,452 1390.2,454.7 1388.2,456.8 1385.6,457.2 1381.9,460.5 1377.3,460.8 1372.9,460.1 1368.9,458.1 1367.3,459.5 1365.8,460.9 1364.3,462.3 1362.5,463.1 1361.2,462.8 1360.1,462 1358.9,462.1 1357.6,462.3 1356.9,461 1356,460 1355.4,458.6 1354.9,457.2 1353.3,456 1351.9,454.4 1350,453.9 1348.1,453.9 1345.6,455.3 1342.9,456.2 1340.3,455.1ZM425.5,201.1 430.8,200.5 435.4,200.4 432,204.6 434.1,206.1 435.6,208.8 433.4,213.5 440.3,212.9 442.1,215.5 444.7,216.8 443.2,220.4 444.4,222.6 450.5,221.4 448.1,222.6 445.8,224.1 443.6,225.1 441.6,225.8 435,228.9 428.3,232 422.4,234 419.1,233.9 411.2,236.7 407.7,235.9 406.7,233.6 405.2,231.7 405.5,230.7 406.4,229.5 407.8,228.1 409.7,226.5 405,227.2 402,226.7 402.1,224.4 400.9,222.8 396.6,224.6 392.7,225.8 391,225.4 387.2,226.5 381.8,230.2 403.4,215.5ZM2229.9,952.8 2233,949.8 2235.4,946.1 2239,944.3 2242.6,942.6 2245.5,942.6 2248.3,940.9 2251,941.2 2253.9,941 2257.8,939.4 2261.5,936.8 2265.5,935.5 2269.4,935.9 2273.2,934.2 2277.1,934 2280.9,932.3 2284.7,931.7 2288,928.8 2291.5,926.4 2293.3,922.2 2296.5,919 2296.4,917 2297,914.8 2297.6,912.6 2297.2,910.6 2299.4,911.6 2302,911.3 2304.4,911.8 2306.3,913.1 2306.4,910.8 2307.3,908.5 2307.4,906.1 2308.6,903.9 2311.8,901.5 2315.4,900.3 2318.5,897.5 2320.5,893.8 2323.1,892.2 2325.8,890.9 2327.2,888 2329.1,885.3 2332.2,886.4 2335.2,887.9 2338.2,889.6 2341.7,889.6 2342.6,891.9 2344.1,893.8 2346.6,893.2 2348.8,894.3 2351.3,893.6 2353.8,892.9 2355.3,890.4 2356.1,887.6 2355.7,884.8 2356.8,882 2359.4,879.7 2361.8,877.2 2364.6,875.1 2366.3,871.9 2368.5,870.8 2370.8,870.4 2373,870.7 2375.3,870.2 2376.6,868.3 2377.2,866.1 2379,865 2380.6,863.4 2385.1,864 2389.5,865.2 2393.3,867.8 2397.6,869.3 2400.9,870.3 2403.8,872.1 2407.2,870.1 2410.8,870.2 2410.3,873.6 2408.2,876.4 2406.2,879.4 2403.4,881.1 2402.9,884.2 2401.1,886.7 2399.3,889.2 2398.1,892.1 2401.3,893 2403.6,895.4 2405,898.7 2407.7,900.5 2411.3,902.5 2414.6,905 2416.8,908.9 2420.6,910.6 2422.5,913 2425.3,913.7 2428.4,913.8 2430.6,915.7 2433.6,913 2435.4,909.3 2436.9,905.6 2439.1,902.2 2441.3,898.1 2443.6,894.1 2445.2,889.6 2444.1,885.3 2444,882.2 2444.9,879 2446.5,876 2446.7,872.7 2448.3,869.1 2451,866.6 2450.9,862.9 2452.1,859.2 2453.5,861.3 2455,863.5 2455.9,866 2456.9,868.5 2457.2,873.8 2460.1,877.5 2459.9,882.7 2458.5,887.9 2461.1,890.1 2464.7,890 2467.4,891.8 2470,893.8 2470.8,896.7 2470,900 2469.9,903.2 2469.2,906.4 2469.3,911.6 2471.6,915.5 2471.6,920.6 2470.4,925.8 2473.1,925.8 2475.6,926.7 2476.9,929 2478.8,930.8 2482,931.9 2484.3,934.2 2486.2,937 2487.7,940.1 2488.7,943.1 2490,945.8 2489.3,949.3 2488.5,952.8 2489.7,956 2491.8,958.4 2493.2,961.4 2495.3,963.7 2497.4,967.8 2497.1,973.1 2500.1,976 2503.8,978 2504.9,980.8 2504.9,984.1 2504.7,987.5 2505,990.7 2503.9,994.4 2504.2,997.7 2502.2,1001.5 2502.1,1005 2501.6,1010.1 2498.3,1015.2 2495.1,1020.1 2490.9,1024.4 2489.4,1028.5 2486.2,1032.1 2483.5,1035.9 2480.6,1039.6 2476,1042.1 2472.3,1046.3 2468,1049.6 2464.5,1053.9 2460.8,1055.9 2457.7,1059.3 2455.7,1062.9 2453.2,1066.5 2451.2,1070.6 2448.6,1074.5 2445.7,1078.6 2441.6,1081.7 2437.5,1082.7 2433.1,1084.9 2429.3,1085.1 2424.9,1086.7 2420.4,1089.6 2416.3,1093.5 2412.5,1093.8 2407.9,1095.9 2407,1094 2404.6,1093.8 2403.2,1092.3 2401.8,1090.9 2398.5,1092.3 2395.2,1094 2392.5,1093.9 2389.6,1094.3 2385.4,1095.2 2382.7,1093.6 2380.8,1091.4 2378.1,1090.1 2374.9,1090.1 2372.8,1088.7 2372,1086.1 2371.3,1083.3 2372.9,1079.9 2372.9,1077 2374.5,1073.5 2374.2,1070.7 2371.2,1071.1 2368.5,1071.1 2366.1,1070.4 2364.9,1068.2 2367,1066.7 2368.6,1064.6 2370.1,1062.5 2372,1060.6 2374.3,1056.3 2375.4,1052.1 2374.1,1049.1 2373.8,1045.5 2372.4,1048.1 2370.2,1050.4 2369,1053 2367.3,1055.6 2365.1,1057.4 2363.3,1059.6 2361.3,1061.6 2359.9,1064 2357.6,1064.3 2356.2,1063.2 2354.9,1062 2354.8,1059.8 2352.9,1060.1 2350.9,1060.6 2349.8,1057 2351,1052.3 2349.6,1049 2348.4,1045.5 2346.7,1042.7 2343.3,1042.1 2341.9,1039.3 2339.8,1037 2337.4,1035.9 2336.4,1033.3 2334,1032.1 2330.8,1032.8 2327.6,1032 2323.9,1032.2 2320.3,1031.7 2316.2,1033.7 2310.1,1036.3 2304.6,1035.8 2298.7,1037.1 2292.7,1039.6 2289,1038.8 2284.7,1040.5 2280.4,1042.6 2276.3,1045.5 2274.5,1047.3 2273.2,1049.4 2271.4,1051.2 2269.7,1053.1 2265.4,1053 2261.3,1052.1 2256.7,1052.7 2252.5,1052.2 2249.3,1053.1 2246.2,1055.5 2243.2,1056.1 2240.2,1056.4 2237.1,1056.6 2233.8,1058.7 2230.6,1060.4 2227.4,1062.3 2223.2,1064.2 2219.4,1064.5 2217,1062.3 2213.7,1061.5 2212.3,1060.2 2211.9,1058.1 2210.5,1056.9 2208.6,1056.4 2210.5,1054.4 2212.2,1052.2 2213.9,1049.8 2216,1048 2218.5,1045.1 2219.5,1041.7 2220.2,1038.6 2221.2,1035.4 2221.9,1031.7 2222.8,1028.1 2221.1,1025.7 2220.3,1022.7 2220.2,1019.1 2221.9,1015.3 2221.4,1012 2221.8,1008.4 2220.6,1003.9 2218,1000.7 2219.2,995.5 2218.5,990.7 2219.8,986.4 2221.1,982.2 2221.9,977.9 2221.5,973.8 2222.7,970.6 2223.9,967.5 2225.8,964.5 2226.2,961.2 2226.9,959 2228,957 2229.1,954.9ZM1058.8,216.3 1053.8,218.5 1049.5,218.7 1044.3,221.9 1039.6,226.5 1037.6,223.2 1034.7,220.9 1031.2,219.1 1025.9,220.6 1028.9,222.1 1030.4,225.2 1030.1,229.6 1030.1,233.9 1030.8,235.5 1030.2,238 1029,240.5 1028.4,242.9 1022.7,243.9 1016.9,245.4 1011.8,244.9 1009,241.4 1011.4,243.4 1011.3,247.6 1013.6,249.5 1014.8,252.8 1011,254.9 1007.7,255.1 1004.6,255 1003.1,252.8 1000.6,248.9 996.5,246.9 991,247.3 986,246.7 984.1,243.7 980,243.5 977.8,241.1 976.7,237.7 970,240.9 965,240.3 961.5,237.9 958.1,235.4 958.8,233.8 958.9,232.5 958.6,231.4 958.5,230.2 959.7,229.9 961.1,229 962.4,227.8 963.6,226.5 966.2,229.8 971.6,229.6 977.3,228.4 983.3,226.5 985.9,223.7 988.9,221.5 990.5,218.5 992.8,215.5 994.3,212.9 996.6,210.5 999,208.3 1001.3,206.1 997.4,205.9 993.1,206.2 990.7,203.9 985.9,204.7 983.4,202.8 982.9,199.2 981,196.8 979.7,194.1 978.3,193.3 976.6,192.8 974.5,192.8 971.7,194.1 968.6,194.6 965.4,195.4 963.4,194.4 959.9,195.5 958.8,192.3 955,191.6 951.5,190.7 946,192.7 944.1,190.3 941.6,188.5 938.2,187.6 932.8,189.2 930.9,188.8 930.2,187.4 929,186.4 928.3,185 928.6,183.3 930.1,181 931.4,178.9 932.8,176.8 937.4,174.7 942.2,171.4 946,170.6 950.4,168.7 956,166.5 960,166.6 963.1,167.3 965.7,168.7 964.3,170.8 962.4,173.1 962.1,174.8 961.3,176.8 965.2,177.9 971.7,175.5 977.2,174.5 983.9,171.3 985.3,170 986.1,168.7 988.7,170.1 991.8,171.1 995.8,171.1 997.7,173.4 1000,174 1000.2,176.4 1003.5,175.7 1006.4,175.4 1008.2,176.7 1011.1,176.9 1010.5,180.1 1012.3,181.6 1016,182.1 1019.4,183.1 1021.5,185.4 1024.3,187.1 1028.4,186.7 1030.3,188.8 1030.9,192.2 1033.2,194.1 1033.5,196.3 1035,197.6 1035.1,200.2 1037,201.1 1037.2,203.1 1038.9,203.8 1039.1,205.8 1038.3,208.3 1042.5,207.1 1045.5,208.2 1046.9,211 1050,211.9 1052.1,213.4 1055.5,212.5 1057.3,214.2ZM831.4,201.1 839.1,198.7 843,200.6 850.8,197.7 858.1,195.5 858.9,193.2 858.8,191.5 859.3,189.4 860.5,187.1 859.6,184.1 857,182.4 860.7,177.1 861.2,173.4 857.7,172.2 850.8,174.6 847.2,173.7 844.6,172 840.3,171.1 833.6,172.5 827.6,172.9 818.7,176.8 808.7,178.8 802.7,177.1 799.3,173.6 790,174.7 786,177 782.3,178.7 778.4,180.9 774.6,183.6 775.7,185.1 777.7,185.9 779,187.4 777.5,190.6 780.1,192.1 779.7,195.7 784.3,195.5 786.2,197.6 781.3,200.3 777.7,201 774.5,201.3 771.8,201.1 777.3,199.9 779.6,201.7 782.5,202.8 784.6,204.7 792.3,202.2 799.5,200.4 802.7,202.7 807.7,203.3 812.5,204 818.3,203.6 825.1,202.1ZM751.2,185.7 751,183.3 749.8,181.5 747.4,180.7 744.6,180.2 751.1,175.7 757.8,172.2 764.4,168.7 771.1,165.3 778.9,163.2 786.4,161.2 790.8,161.8 793.9,163.3 798.5,163.8 802.5,164.8 805.3,166.6 805.9,170 799.6,171.8 793.6,173.3 786,176.9 778.5,180.2 775.3,178.3 769.1,178.8 761.3,180.7ZM1005.9,152.2 999,148.1 985.9,150.1 973.4,151.5 963.7,150.2 969.1,146.9 974.5,143.9 979.3,142.1 983.6,140.8 989,137.7 994.4,134.5 999,132.9 1003.2,131.8 1003.7,129.6 1003,128.1 1001.9,127 1000.6,126.1 995.9,126 993.1,124.7 991.5,122.4 987.1,122.2 995.3,120.1 1001.3,119.9 1008.5,118.6 1014.9,118 1033.2,113 1041.6,116.3 1056.7,113.6 1069.6,113 1078.1,115.4 1085.7,118.7 1101.1,114.1 1112.7,114 1116.2,114.4 1120.9,113.6 1123,115.4 1125.9,116.5 1122.8,116.5 1119.5,116.8 1115.1,119.1 1110.9,120.6 1106.7,121.4 1103.4,121.1 1099.1,121.9 1093.8,124.4 1087,126.8 1082.9,125.9 1075.3,129.9 1069.6,130.6 1064.9,130.5 1060.1,130.4 1052.3,134.4 1046.9,134.7 1044.2,136.1 1041.7,137.1 1038.9,138.9 1036.2,140.8 1033.5,140.6 1029.4,142.2 1025.2,143.8 1020.5,147.1 1016.7,148.6 1013.2,149.7 1009.2,151.4ZM970.7,139.6 964.7,138.3 961,135.5 957.8,132.4 955.6,128.9 964,125.6 971.3,123.5 977.2,122.6 982.6,122.2 983.1,125.9 989,126.1 994.2,126.7 997.2,128.9 993.6,131.4 989.8,133.7 986.1,135.6 982.3,137.7 978.3,139.3 976.1,139.1 973.4,139.3ZM998.7,160 988.4,160.3 978,160.7 967.7,161 957.3,161.3 946.9,161.7 936.6,162 940.4,159.2 943.6,156.1 945.9,153.2 949,150.2 950,152.5 953.6,152.8 956,154 958.2,155.4 967.4,152.6 971.2,154.9 977.3,155.4 986.9,151.5 991.1,152.4 991.8,156.3 995.5,158 1002.9,155.4 1002.4,156.5 1001.2,157.7 1000.1,158.9ZM868.4,160 860.9,162.2 856.9,161.2 852.4,160.6 844.4,163.3 835.3,163.5 826.9,163 821.2,160.7 815,158.7 818.7,156.9 822.3,155.2 826.1,153.1 829.7,151.5 835.6,152.7 839.8,155.1 849.1,153.7 860.8,150.2 866.6,149.8 866.9,153.1 872.2,152.8 876.4,153.5 874.1,155.1 872.3,156.7 870.4,158.4ZM893.3,180.2 885,181.9 875.1,186 871.5,182.9 863.8,183.6 868.2,180.4 872.1,176.8 874.9,173.3 877.6,170 883.5,169.2 890.1,167.7 895.5,167.4 900.1,168 897.7,171.3 896.5,174.1 895.2,177ZM930.2,176.8 920.9,180.1 916,178.2 908.3,179.4 901.1,180.2 904.9,176.6 908.2,173.1 912.6,170.1 916.7,166.6 924.8,164.2 931,163.7 934.9,165.5 939.6,166.6 937,169.2 934.2,171.7 931.8,174.3ZM913.5,160 904.9,160.8 895,162.9 890.4,160.3 887.3,156.7 892.7,155.4 898,154.3 904.8,151.5 911.3,149 916.2,148 920.7,147.3 924.5,147.4 924.5,150.2 921.9,152.7 918.8,155.1 915.6,157.6ZM879.8,204.7 874.6,204.8 868.1,206.8 868.1,202.2 863.8,201.1 866.4,200.4 869.5,198.7 872.4,196.4 875.4,194.1 877.5,194.9 877.8,197.1 880.2,197.8 884.3,196.2 883.1,198.4 883,200.1 880.7,202.5ZM942.5,237.7 937.8,237.7 933.7,237.1 927.5,241.4 921.9,242.9 916.7,241.9 913,239.3 908.1,238 901.4,239.2 905.1,236.2 908.7,232.8 912.3,229.7 915.8,226.5 919.6,225.3 923.8,222.5 927.5,221.6 929.6,222.8 932.4,225.1 935.4,227.3 936.1,231.6 939.1,233.9 940.4,234.5 941.7,235 942.5,236ZM1010.3,367.3 1016,367.8 1019.2,372.5 1024.4,373.9 1030.1,373.8 1035.6,371.9 1040,374 1044.6,374.9 1049.4,375.5 1050.9,373.8 1052.4,372.2 1053.5,370.2 1054,368.1 1054.1,365.3 1052.9,363.4 1051.5,361.8 1050.4,359.9 1051.3,357.6 1051.3,355.5 1051.6,353.3 1050.8,351.7 1048.6,350.2 1045.6,350.5 1043,349.9 1040.5,349.2 1040.9,346 1040.2,343.4 1041.1,340.1 1041.2,337 1039.1,338.3 1037.1,338.8 1035.1,340.3 1033.2,341.9 1030.6,344.2 1028.7,347.3 1026.2,349.7 1023.6,351.7 1021.1,355.7 1017.6,358.1 1014.6,361.3 1011.3,364 1011,365.6ZM594.4,360.7 590.8,360.5 588.5,358.7 586.3,356.9 582.2,357.4 581.7,352.3 578.1,349.9 576.4,345.9 574.9,341.9 577.1,341.9 579.9,340.8 581.9,340.8 583.9,341.1 586.3,342.4 589.8,342.6 592.2,344 592.1,347.6 593.3,348.9 594.8,350 595.8,351.6 595.4,354.1 595.4,355.7 594.3,357.7 594.3,359.2ZM780.3,581.9 784.2,579.4 787.7,576.3 791.8,574.1 796,573.5 800.4,575 805.2,573.1 809.7,573 814.3,572.7 820,576.3 825.8,579.9 831.2,584.3 838.2,585.3 842.8,588.9 846.2,594 851.4,596.6 857.3,597.1 851.2,598 845.1,599.8 839.1,598.6 832.9,599.6 831.7,598.5 830.7,597.3 830.4,595.5 829.9,593.7 826,592.5 822.6,590.1 819.6,587.1 816.4,584.5 812.8,583.2 809.9,580.5 806.2,579.7 802.6,578.6 798.8,578.4 795.1,580.4 791.4,581.1 787.6,581.9 785.9,581.4 784,581.6 782.2,581.5ZM854.2,612.3 857.9,612.8 861.5,610.8 865.2,611.4 867.9,614 870,614.4 871.4,616.1 873,617.3 874.8,618.2 880.8,618.1 886,614.1 891.7,613.1 897.3,614 895.9,611.4 895,608.4 893.5,605.8 890.9,604.7 886.6,604.6 882.8,602.9 879.6,600 875.3,599.6 872.6,598.2 869.6,598 866.7,599.4 863.6,599.6 864.9,601.6 865.5,604 866.8,606 868.6,607.2 864.9,607.6 861.1,607.8 857.9,610.8ZM825.5,613.1 829,614.7 832.8,613.8 836.1,615.6 839.9,615.7 838,616.5 836,617.3 833.5,616.3 830.9,615.2 828.1,615.6 825.2,615.7ZM907,612.3 909.7,612.3 912.4,612.9 915.1,613.2 917.9,613.1 916.9,615.7 914.3,616.6 911.7,616.2 909.2,616 906.6,615.7 906.7,614ZM1262.8,226.5 1266.5,224.5 1269.7,221.2 1273.3,221.1 1277,219.9 1280.1,219.5 1283.1,220.2 1285.8,221.8 1287.3,225 1290.3,223.6 1293.1,221.3 1296.1,221.4 1299.1,220.6 1302,219.8 1304.9,218.6 1307.6,219.1 1310.5,219.2 1313.4,220.2 1316,221.9 1318.7,223.7 1320.8,226.5 1320.8,228.4 1320.4,230.2 1320.5,232.1 1319.9,233.9 1316.1,235.2 1312.4,235 1309,238.5 1305,239.2 1301.4,238.6 1297.7,238.3 1294,240.1 1290.3,242.2 1286.6,242.4 1283.1,241.6 1279.9,239.9 1276.4,239.2 1274.7,238.9 1273.3,237.7 1271.6,237.6 1269.8,237.7 1270.9,236.6 1272.1,235.6 1273.3,234.8 1274.5,233.9 1271.8,233 1269,232.7 1266.7,230.7 1263.7,231 1266.6,230.7 1269.6,229.3 1272.5,229.1 1275.4,228.7 1271.9,229.2 1269.2,227.2 1266.3,225.9ZM1362.7,347.6 1366.1,345.7 1369.6,344.1 1373.3,344.3 1376.9,345.2 1379.6,342 1383.1,341.1 1386.5,341 1389.9,341.9 1394.7,341.4 1398.6,337.8 1403.2,336.1 1407.8,337.8 1406,336.3 1404,335.4 1406.2,333.7 1408.3,331.8 1409.7,329 1410.3,325.7 1407.9,326.3 1405.6,325.9 1403.4,324.8 1401.4,323.3 1401,320.6 1399.5,318.5 1397.4,316.7 1396.1,313.9 1394,312.3 1392,310.5 1391.2,308.7 1390,307.3 1389.8,305.3 1389.6,303.3 1388.6,302.4 1387.6,301.6 1386.9,300.4 1385.9,299.4 1384.7,299.6 1383.4,299.6 1382.3,298.7 1381,298.6 1382.3,296.6 1384.2,295.4 1385.5,293.7 1386.4,291.5 1387.3,289.2 1387.3,286.8 1384.4,285.4 1381.3,286.4 1378.2,286.2 1375.2,286 1376.5,284.3 1378.1,283.2 1379,281.1 1379.6,278.9 1377,279.5 1374.5,278.4 1372,278.9 1369.4,278.9 1368.3,281.2 1366.8,283.2 1365.3,285.2 1364.2,287.5 1365.3,289.1 1365.6,291.2 1365.5,293.3 1365.8,295.4 1364.6,295.5 1363.6,295 1362.5,295 1361.5,295.4 1363.1,296.8 1363.8,299.1 1364.8,301.1 1365.5,303.3 1366.5,303.9 1367.6,304 1368.7,303.4 1369.8,303.3 1369.1,304.5 1368.8,306 1368.5,307.4 1368.4,308.9 1370.7,309.8 1373.1,310.2 1375.5,309.4 1377.7,308.1 1378.4,309.9 1379.4,311.6 1379.7,313.6 1380.7,315.3 1380.1,317.7 1379.4,320.1 1377.3,320.5 1375.3,321.2 1373.3,320.4 1371.1,320.9 1372,323 1372.9,324.9 1373.3,326.9 1372.8,328.9 1371.5,330.4 1369.8,331.1 1368,331.5 1366.4,332.2 1368,332.4 1369.6,333.2 1371.1,334 1372.7,334.6 1374.7,333.7 1376.7,334.2 1378.7,334.7 1380.3,336.2 1378.1,336.9 1375.9,336.8 1374.1,338.7 1371.9,339.5 1369.7,341.9 1366.9,342.8 1365.3,345.9ZM1335.7,334.6 1338.1,334.5 1340.4,334.9 1342.8,335.5 1345.2,334.6 1348.7,332.7 1352.3,331.6 1356,331.5 1359.5,329.7 1360.4,327.6 1361.5,325.6 1361.7,323.3 1361.7,320.9 1362.1,318.3 1363.5,316.2 1364.1,313.8 1364.6,311.3 1363.8,309.5 1362.7,308.2 1361.7,306.8 1360.4,305.7 1357.5,307.1 1354.5,306.3 1351.6,305.6 1348.6,305.7 1347.4,306.8 1346.5,308.4 1346.2,310.2 1345.8,312.1 1343.7,313.2 1341.4,313.8 1339.1,314.5 1336.9,313.7 1336.4,315.6 1336.6,317.5 1337,319.3 1337.7,320.9 1338.2,322.2 1338.4,323.8 1338.9,325.1 1339.3,326.5 1338.1,327.7 1336.6,328.5 1335.4,329.7 1334,330.6 1335.2,332.3ZM1450.8,131.8 1457,134.6 1463.2,134.1 1469.3,133.3 1473.5,128.9 1479.7,129.5 1486.1,132.2 1492.2,131.6 1496.1,127.2 1503.8,131.1 1511.1,131 1517.6,129.4 1523.9,127.7 1520.3,128.1 1517.3,129.5 1515.2,132.3 1512,133.5 1508.3,133.7 1504.7,133.8 1501.9,135.8 1499.1,137.7 1496.7,138.6 1494.6,140 1492.2,141 1491.1,143.9 1488.8,145.1 1486,144.9 1484.1,146.7 1482.5,149 1479,147.2 1476,144 1472.5,142.9 1469.4,143.9 1466.1,142.2 1462.8,140.9 1459.6,139.4 1456.4,137.7 1455,136.1 1453.3,135.2 1452.3,133.2ZM1670,183.6 1672.4,183.8 1675.1,184.9 1677.8,187.1 1680.6,189.2 1686.2,188 1690.3,184.8 1696.9,185.6 1704.4,189.2 1701.2,187.8 1697.9,186.3 1695,183 1691.7,180.2 1690.4,177.6 1688.8,175.1 1688.1,172.5 1686.1,170 1688.9,168.8 1689.3,165.4 1693.1,165.7 1694.7,163.3 1696.2,159.6 1700.7,159.3 1703.1,156.6 1707.8,156.7 1713.7,154.6 1720.1,153.1 1723.2,148.3 1731.5,149 1732.6,148.8 1733.8,148.7 1734.1,147.7 1734.7,147.1 1730.1,146 1727.6,147.3 1723.2,146.3 1719.1,145.8 1713,147.2 1705.7,147.3 1699.1,148.2 1693.3,150.2 1690.8,153.2 1687,155 1682,155.2 1678,156.7 1676.3,158.6 1673.8,159.7 1673.1,162.7 1673.9,166.6 1673,168.8 1672,171 1671.7,173.8 1671.7,176.8 1670.8,178.1 1669.8,179.3 1669.2,181.1ZM1844.7,133.5 1852.8,135.2 1863,139 1867.8,137.9 1876,139.6 1877.2,136.6 1884.2,137.7 1891.4,139.1 1897.4,139.6 1894.3,137.4 1891.1,135.3 1887.8,133.7 1884.4,131.8 1873.3,127.6 1867.4,127.8 1859.1,126 1851.2,124.4 1847.4,126 1847,129.7 1839,128.1 1830.5,126.1 1833.9,127.6 1837.5,129.5 1841.1,131.2ZM2082.8,158 2089.9,157.8 2099.2,158.9 2107.7,159.5 2115.9,160 2121.7,158.2 2127.7,156.5 2139.3,158.3 2148.8,158.7 2137.2,154.4 2128.9,152.6 2122.1,151.7 2120.1,153.5 2117.6,156.3 2108.6,155.5 2099.7,154.6 2090.5,153.5 2088.3,154.6 2091.5,158.5 2087.7,158.6ZM2115.9,170 2116.4,167.8 2121.5,168.5 2128.6,171 2133.2,171.3 2130.4,170.3 2127.5,169.3 2124.3,167.9 2121.2,166.6 2117.6,166.1 2116.3,167 2115.2,168ZM1629.9,127.7 1641.7,131.9 1651.7,132.4 1656.3,126.8 1666.8,127.7 1672,128.4 1676.9,128.5 1679.8,126.6 1682.4,124.4 1673,123.5 1661.1,117.6 1655.7,120.5 1648.3,121.7 1641.5,123 1634.9,124.8 1627.7,126.2 1618.5,124.4 1621,124.5 1623.9,125.5 1627,126.9ZM2343.9,187.8 2346.8,188.3 2350.2,189.2 2352.2,189.1 2351.8,187.8 2344.8,183.6 2344.8,184.7 2343.4,185.1 2340.4,184.5 2339.2,185 2341.7,186.4ZM447.2,187.8 450.4,187.9 457.1,185.8 458.7,186.8 461.6,187.1 462.9,185.8 464.6,184.3 460.5,185 458.3,184.6 457.9,183.2 454.2,183.6ZM2340.9,380.4 2344.3,381.4 2346.2,380.2 2347.8,378.8 2347.9,376.3 2345.2,373.1 2342,370 2338.4,367.3 2335.7,364 2336.7,361.6 2335,357.7 2337.4,356.7 2338,354.1 2335,353.1 2331.7,351.3 2328.4,349.8 2325.1,347.6 2322.8,342.8 2318.9,337.6 2315.2,332.3 2309.4,327.3 2305.4,323.7 2302.7,320 2298.2,317.4 2294,313.7 2295.2,316 2294.7,317.3 2293.9,318.4 2292.8,319.3 2296.1,323.5 2300.8,327.5 2303.8,331.7 2305.5,335.4 2311,340.2 2315.9,345.4 2321,350.5 2324.3,355.8 2326.3,358.9 2327.2,361.8 2329.7,364.9 2332.1,368.1 2335.4,371 2337.3,374.3 2339.1,377.3ZM2352.2,417.8 2353.8,417.1 2355.6,416.8 2357,415.9 2358.8,415.3 2360.8,413.3 2364.8,413.7 2368.3,413.5 2372,413.7 2372.2,409.5 2374,406.6 2376,403.8 2379.7,402.8 2376.3,400.5 2373.1,399.4 2369.8,397.6 2366.5,395.4 2361,393.8 2355.7,392.7 2349.8,387.9 2343.8,384.6 2344.1,387.3 2345.4,390.5 2346.9,393.7 2348.9,397 2350,399 2350.4,400.9 2350.3,402.3 2349.9,403.7 2348.8,403.8 2348,404.4 2346.4,403.6 2345.2,403.7 2345.8,405.7 2345.5,407.2 2346.4,409.3 2346.6,411.2 2348,413 2348.8,414.7 2350.6,416.1ZM2321.5,480.8 2323.8,482.1 2326,482.5 2327.8,481.9 2329.6,481.6 2331.8,480.5 2334.6,480.4 2336,478.4 2338.4,477.4 2340.8,477 2343.3,476.7 2345.3,475.4 2348.2,475.8 2349.8,478.1 2350.1,480.4 2351.8,482.6 2353,485 2354.8,482.7 2356,479.7 2359.2,479.2 2361.6,477.4 2362.7,477.2 2364,477.2 2365.2,476.8 2365.7,475.8 2368.5,477 2371,477 2373.3,476.7 2374.5,474.9 2375.8,474.1 2377.5,473.8 2379,473.2 2380.3,472.4 2381.7,470.8 2384.1,470.8 2384.1,468.3 2385.2,466.5 2384.5,463.7 2383.8,461 2382,458.2 2379.7,455.6 2379.6,452.9 2378.9,449.9 2379.7,447.7 2378.8,444.6 2378.5,442.2 2377,439.5 2375.9,436.8 2375.9,434.6 2373.9,432.4 2371.7,430.4 2370,428 2367.5,426.2 2366.1,424.2 2365.7,422.3 2364,420.4 2362.2,418.7 2361,419.6 2359.1,419.7 2357.4,419.9 2355.8,420.3 2357.5,423 2357.9,425.4 2358.1,427.7 2359.7,430.4 2360.5,432.8 2361.3,435.3 2362.9,437.9 2364,440.4 2361.6,441.9 2361.4,445.3 2362.4,449.4 2361.3,452.2 2358.8,451.2 2356.4,450.7 2354.7,451.3 2352.5,451.4 2351.9,452.2 2351.3,453 2351.1,455 2351.3,457.2 2350.7,459.3 2351.4,462 2350.5,463.8 2350.9,466.5 2348.9,466.2 2347.6,467 2345.9,467.1 2343.9,466.5 2340.7,467.3 2336.5,465.7 2334.1,467.6 2330.3,467.3 2329.4,469 2328.4,470.6 2326.7,471.3 2326,473.2 2324.7,474.4 2322.8,474.7 2321.8,476.1 2320.8,477.4 2321.4,479.2ZM2318,484.2 2320.7,484 2322.8,483 2325.5,482.7 2328.6,484.2 2329.2,485.9 2330.6,487.5 2331.6,489.2 2332.1,490.9 2332,493.7 2333.3,496.9 2332.9,499.6 2333.9,502.7 2332.8,503.5 2331.1,503.3 2329.9,504 2329.2,505.2 2327.8,502.5 2326.7,499.8 2324.5,497.5 2322.5,495.1 2321.3,493.3 2320,491.6 2318.3,490.3 2316.6,489.2 2317.3,488.3 2317.4,486.8 2317.5,485.4ZM2333.2,481.6 2337,481.8 2340.4,481.1 2342.9,478.9 2346.8,479.1 2347.4,481.1 2347.7,483 2347.5,484.7 2348,486.7 2346.5,488.2 2345.2,489.9 2342.4,489.5 2340.6,490.9 2339.2,489.5 2337.8,488.1 2336.2,487 2334.6,486.7 2334,484.2ZM2275.3,555 2277.1,555.6 2278.8,556.7 2280.6,557.2 2282.2,556.7 2282.9,560.7 2282.1,564.3 2281.9,568 2281.9,571.8 2280.8,574.1 2280.8,576.9 2279.8,579.3 2279.4,581.9 2278.1,579.7 2277,577.3 2275.6,575 2273.5,573.5 2272.7,570.6 2273.2,568 2273.7,565.4 2273.4,562.6 2274.2,560.9 2274.8,559 2275.6,557.2ZM2195,604.7 2197,602.8 2199.3,601.5 2201.8,600.3 2203.4,598 2205.5,598.6 2207.6,598.4 2209.5,599.7 2211.3,601.3 2209.6,603.2 2208.6,605.8 2207.4,608.3 2207.8,611.4 2205.4,611.6 2202.9,611.2 2201,612.8 2198.5,613.1 2197.3,611.2 2196.7,608.9 2195.4,607ZM2282.6,611.4 2285.8,611.5 2289,613.2 2291.8,611.7 2295.2,612.3 2294.8,616.2 2296.1,620.3 2298.4,624.1 2298.6,628.3 2297.8,630.6 2296.6,632.7 2294.7,634.1 2294.1,636.7 2295,639.5 2296.3,642.1 2296.9,644.9 2297.8,647.7 2301.1,648.7 2304.4,648.8 2307.5,650.9 2310.8,651 2311.8,653.3 2313.3,655.2 2313.9,657.6 2315.6,659.5 2313.8,658.2 2311.9,657.1 2309.8,656.6 2307.8,656.1 2306.6,655 2305.2,654.3 2303.7,654.4 2302.3,653.6 2299.7,652.9 2297.5,650.9 2294.9,651 2292.4,651 2290.9,648.7 2290.2,646 2288.2,644.1 2286.1,642.6 2284.6,639.8 2283.9,636.8 2282.5,633.9 2282.1,630.8 2283.8,626.5 2284.7,621.7 2283,616.6ZM2305.2,708.4 2307.9,705.1 2310.9,702.2 2312.3,697.8 2315.4,694.9 2319.2,692.5 2323.5,691.6 2326,687.7 2329.4,684.8 2331.9,688.4 2333.4,692.6 2336.1,696 2338,699.9 2337.8,703.3 2336,705.9 2336.5,709.2 2336.7,712.6 2335.8,714.8 2334.4,716.8 2332.9,718.6 2331.2,720.2 2329.1,717.9 2327,715.6 2324.1,714.9 2321.8,712.6 2320.6,710.1 2318.9,707.9 2317.9,705.3 2316,703.3 2314,705.3 2312,707.3 2309.3,707.9 2306.8,709.2ZM2323.3,662 2324.8,664.9 2327.1,667.1 2328.6,669.9 2329.7,673 2328,672.8 2326.3,672.9 2324.6,672.7 2322.9,672.1 2323.8,669.7 2324.6,667.3 2324.5,664.6ZM2301.8,667.9 2303.7,668.1 2305.7,668.7 2307.6,669.4 2309.4,670.4 2309.3,672.9 2309.2,675.3 2307.9,677.1 2306.6,678.9 2304.5,676.9 2301.9,676.3 2301.2,674.2 2301.6,672.1 2301.2,669.9ZM2269.5,695.7 2271.6,688.5 2277.1,684.3 2282,679.4 2283.7,672.1 2283.6,674.5 2284.3,676.9 2283.3,679 2283.1,681.4 2281.6,685.5 2278.8,688.4 2276.7,692.2 2273.1,694 2271.4,695.3ZM2210.5,754.7 2212.1,754.3 2213.4,753.1 2214.8,752.1 2215.6,750.5 2218.8,749.4 2221.5,747.2 2224.4,745.3 2227.3,743.8 2230.4,742.4 2233.2,740.3 2236.5,741.2 2239.9,740.4 2243,737.3 2244.3,732.7 2247.1,729.4 2250.5,726.9 2252.1,721.9 2255.3,718.1 2258.9,714.9 2260.8,710 2262.8,709 2264.9,707.9 2267.3,707.3 2269.6,708.4 2270.9,709.9 2272.4,711.2 2273.1,713.1 2273.7,715.1 2276.7,717.5 2278.6,721 2281.7,723.4 2285.3,723.5 2284.3,726.6 2282.1,728.8 2279.6,730.5 2276.7,731.1 2276.3,733.9 2275.2,736.4 2274.8,739.2 2274.9,742.1 2277.5,746.1 2280.1,750.1 2283.3,753.9 2284.2,758.9 2282,759.3 2280.4,760.9 2278.2,760.5 2276.1,761.5 2275.5,764.6 2274.3,767.6 2274.9,770.9 2273.9,774.1 2271.6,774.8 2269.8,776.5 2267.7,777.9 2266.3,780 2267,783.6 2267.8,787.2 2267.4,790.9 2265.9,794.3 2264.8,795.9 2263.6,797.4 2262.2,798.6 2260.5,799.4 2257.9,799.9 2255.8,801.9 2253.4,800.9 2250.8,801.1 2248.4,798.7 2246.2,796 2242.9,795.7 2239.9,794.3 2237.4,794 2235,795.2 2232.6,794.5 2230.2,795.2 2227.3,794.2 2224.4,794 2221.8,792.3 2219.2,790.9 2218.3,787.8 2216.9,784.9 2218.1,781.7 2218,778.3 2216.3,775.8 2213.8,774.7 2212,772.5 2210.7,769.9 2210.2,765.9 2211.6,762.3 2210.8,758.5ZM2107.6,720.2 2112,720.9 2116.1,719.4 2119.8,722.1 2124,723.5 2125.8,727.1 2127.5,730.6 2129.9,733.9 2133.4,735.3 2137.5,737.7 2140.7,741.5 2144.4,744.7 2147.1,748.8 2149.1,750.7 2151.5,751.4 2153.9,752 2156.2,753 2159.3,755.7 2163.2,756.6 2165.8,759.8 2168.2,763.1 2168.7,766.6 2170.5,769.3 2170.8,772.7 2171.9,775.8 2173.2,777.6 2174.7,779.4 2175.9,781.3 2176.9,783.4 2180.4,784.5 2183.5,786.3 2186.5,788.8 2187.9,792.6 2188.3,798.8 2189.8,804.7 2187.2,810.2 2185.5,816.2 2183.2,815.1 2180.7,815 2178.3,816 2175.8,816.2 2172.4,811.9 2168.3,808.3 2164.8,803.8 2160.1,801.1 2159.2,796.8 2157,793.3 2154,790.7 2150.8,788.4 2148.9,785.7 2148.1,782.2 2147.1,778.9 2145.8,775.8 2143.3,772.6 2142.1,768.5 2139.2,765.8 2136.2,763.1 2134.8,760.6 2133.7,757.9 2133.4,754.9 2132.3,752.2 2130.4,749.3 2128.2,746.7 2125.4,744.8 2123.2,742.1 2122.2,738 2119.6,734.9 2116.5,732.9 2113.2,731.1 2111.5,728.4 2109.2,726.4 2108.7,723.2ZM2180.6,824.7 2183.5,823.8 2185.9,821.9 2188.4,820.2 2190.6,817.9 2194,820 2197.4,822.1 2201.4,821.6 2205.2,823 2209.4,821.3 2213.8,821.7 2218.1,820.4 2222.4,821.3 2224.8,824.7 2228.6,825.7 2232.4,826.9 2236.2,825.5 2238.9,828.4 2242,830.6 2245.5,832 2249.1,833.1 2247.9,834.7 2247.6,836.8 2247.2,838.7 2247.1,840.7 2243.5,837.9 2239,837.4 2234.6,839 2230.2,838.1 2225.5,837 2220.5,837.9 2216.5,834.9 2212,833.1 2208.3,832.5 2204.5,833.7 2200.7,833.9 2197.2,832.2 2195.1,831.6 2192.9,832.1 2191.1,830.8 2189.2,829.7 2187.7,827.5 2185.5,826 2183.2,824.9ZM2291,760.6 2292.5,758.6 2294.4,757 2296.8,757.5 2299.1,756.4 2303.1,755.4 2307.1,756.9 2310.8,758.9 2314.8,759.8 2318.3,757 2322.5,755.8 2326.8,755.1 2331,754.7 2329.6,756.9 2328.1,759.1 2327.1,761.5 2326,764 2323.5,765.8 2320.5,765.9 2317.5,765.6 2314.8,764 2311.1,764.9 2307.4,766.5 2303.5,766.2 2300,764 2297.8,766.5 2296.7,769.8 2294.3,772.2 2292.4,774.9 2294.7,775.9 2297.2,776.3 2299.7,776.8 2302.1,775.8 2305.8,777.1 2309.6,777.8 2313.7,777.7 2317,774.9 2316.5,776.7 2315.2,777.9 2314.4,779.6 2313.2,780.8 2311.3,781.4 2309.4,782.1 2307.4,782.1 2305.7,783.4 2306.8,786.8 2308.7,789.6 2309.4,793.2 2309,796.8 2311,798.7 2313.4,799.9 2313.7,802.9 2315.3,805.3 2314.7,807.5 2314.3,809.8 2313.2,811.8 2311.9,813.7 2310.4,811.3 2308.1,809.9 2305.8,808.6 2303.3,807.8 2301.6,806.2 2300.1,804.4 2299.3,802 2299.2,799.4 2298.1,797.3 2296.8,795.3 2295.3,793.5 2295,790.9 2292.5,796.6 2291.5,802.7 2293.6,808.4 2294,814.5 2292.6,813.5 2290.8,813.4 2289.1,814.1 2287.4,813.7 2286.4,809.5 2285.6,805.3 2287.6,801.3 2288.1,796.8 2286.4,796 2285.1,794.5 2283.7,793 2283.1,790.9 2285.8,783.3 2285.2,775.1 2286.6,767.1ZM2314.2,854.2 2315.9,851.3 2317.2,848.3 2319.9,846.9 2322.4,844.9 2327.5,842.5 2332.9,842.6 2337.6,839.4 2343,838.1 2342.1,840 2340.5,841.2 2338.7,841.7 2337.4,843.2 2333.8,846.5 2330,849.4 2326,852 2321.6,853.3 2319.8,853.2 2317.9,853.9 2316.1,853.4ZM2259.9,838.1 2265.6,836.4 2271.1,834.1 2277,834 2282.3,836.5 2282.5,839 2281.9,841.5 2277.6,841.4 2273.7,843.6 2269.5,844.1 2265.4,843.2 2264,842 2262.9,840.3 2261.4,839.2ZM2288.1,838.1 2294.2,836.4 2300.2,833.8 2305.8,836.5 2311.9,837.3 2311.1,839.5 2310.1,841.5 2304.8,843.2 2299.5,844.8 2294.1,844.6 2289.2,842.4 2289,840.1ZM2281.5,846.6 2285.2,845.2 2288.8,846.3 2292,848 2294.5,850.8 2293.2,852.1 2291.6,852.9 2290,852.6 2288.3,853.3 2286.3,852 2284.2,850.9 2282.8,848.7ZM2351.5,791.8 2356,795.4 2361.5,796 2366.9,795 2372.3,794.3 2370.8,795.4 2369.6,796.9 2368,797.8 2366.2,797.7 2362.4,797.3 2358.9,796.2 2355.1,795.9 2351.4,796 2351.8,793.9ZM2348.1,752.2 2350.2,753.8 2352.2,755.4 2354.6,756.1 2357.1,756.4 2355.7,759.3 2353.2,761 2351.9,764 2352.1,767.4 2351.2,769 2350.9,770.9 2350.2,772.7 2349,774.1 2348.8,770.7 2348,767.4 2348.1,764 2347.5,760.6 2347.8,758.5 2347.8,756.4 2348.2,754.3ZM2374.3,774.1 2377.1,773 2379.7,771.4 2382.7,771.9 2385.5,770.7 2387.9,772.7 2390.7,774 2393.6,774.6 2396.6,774.1 2397.5,777.6 2397.8,781.2 2398.5,784.8 2398.5,788.4 2401,789.5 2403.3,791.1 2405.7,792.5 2407.2,795.2 2412.2,793.5 2415.5,788.8 2419.7,785.6 2422.5,780.8 2425.3,782.1 2428.3,781.6 2430.8,783.2 2433.6,784.2 2437.6,784.8 2440.7,787.5 2444.5,788.5 2448.3,789.3 2452.4,789.8 2455.9,792 2459,794.8 2462.9,796 2465.2,798.1 2467.9,799.7 2470.9,799.3 2473.9,800.2 2476,803.3 2478.7,805.6 2481.9,807 2484.5,809.5 2487.4,811.3 2490,813.5 2492.8,815.4 2495.2,817.9 2494.1,819.5 2494,821.4 2493.1,823 2492.4,824.7 2495.6,827.5 2496.5,831.9 2498.4,835.7 2500.9,839 2502.9,844.7 2506.4,849.4 2512.2,849.9 2516.3,854.2 2514.8,855.1 2513.2,855.9 2511.7,856.9 2510,857.5 2506.1,857.2 2502.2,857 2498.8,855 2495.8,852.5 2493.9,849.3 2491.5,846.5 2488.9,843.9 2485.7,842.4 2483.7,838.7 2480.8,836 2477.8,833.4 2474,832.2 2471.7,834.5 2469.1,836 2466.2,836.8 2463.8,839 2462.2,840.2 2461.2,842 2460.3,843.9 2459.4,845.7 2455.4,845.5 2452.5,842.7 2448.7,844.2 2444.8,844 2441.5,841.2 2439,837.5 2434.6,837.3 2430.7,835.6 2428.8,835.8 2427,836.8 2425.1,837.1 2423.1,837.3 2423.2,834.3 2421.7,832 2422.1,829.2 2422.5,826.3 2424.5,826.2 2426.2,824.8 2428.1,825.2 2430.1,824.7 2429.2,821.6 2427.2,819.4 2426.3,816.4 2424.8,813.7 2420.8,812.7 2416.7,811.9 2414.1,808.3 2410.4,806.1 2406.6,804.4 2402.4,805 2399.7,801.7 2395.8,800.2 2393.5,801 2391.2,800.3 2389.2,801.9 2386.8,801.9 2385,799.6 2384.4,796.6 2383.4,793.8 2381.3,791.8 2384.2,790.3 2386.4,787.8 2389.5,786.8 2392.6,787.6 2389.6,786.8 2386.7,788.1 2384.4,785.9 2381.5,785 2379.4,784 2377.6,782.5 2375.5,781.4 2374.2,779.1 2374.1,776.6ZM2501.3,815.4 2503.6,812 2507.2,810.5 2510.7,809.3 2514.3,809.5 2517.4,806.2 2521.3,804.3 2525.4,802.9 2529.5,802.7 2529.7,804.5 2530.1,806.3 2530.8,807.8 2531.4,809.5 2529.6,812.7 2526.8,814.5 2524,816.4 2521.2,817.9 2517.1,818.5 2513.8,821.5 2510,820.8 2506.1,820.4 2504.4,820 2503.1,818.7 2502,817.2ZM2521.2,789.3 2525.3,792 2528.3,796.1 2531.3,800.2 2535.5,802.7 2533.9,804.4 2529.2,802.9 2525,800 2521.4,796.3 2519.6,790.9ZM2548.9,813.7 2549.1,817.8 2551.4,820.8 2554,823.1 2557,824.7 2555.6,825.6 2554,825.5 2552.7,822.8 2550.8,820.7 2549.4,818.1 2547.3,816.2 2547.9,814.8ZM2614,1057.3 2615.4,1059.6 2618.2,1060.4 2618.4,1063.6 2620.9,1064.8 2622.5,1066.9 2623,1069.8 2623.3,1072.8 2622,1076.6 2621.4,1078.7 2621.8,1080.2 2621.7,1082 2620.6,1084.2 2625.1,1082.4 2629,1082 2630.9,1084 2634.5,1084.2 2634.4,1086.4 2635.7,1087.5 2632.5,1089.5 2629.5,1092.2 2626.8,1095 2623.9,1097.6 2622,1098.3 2620.3,1098.7 2618.5,1099 2616.5,1100.1 2615.4,1102.3 2613.3,1104.5 2611,1106.3 2609,1108.5 2604.4,1112 2599.9,1114.1 2595.1,1117 2591.1,1117.7 2590.4,1117.1 2589.1,1117.2 2588.8,1116.3 2588.9,1115.2 2591.4,1112.6 2594,1110 2596.9,1107.5 2599.9,1106 2599,1104.5 2597.8,1103.2 2597,1101.5 2595.9,1100.1 2595.9,1099 2596.3,1097.6 2599,1096 2601.5,1093.9 2604.1,1092.3 2606.6,1091.7 2608.9,1088.6 2610.7,1085.4 2612.1,1082.3 2614.8,1079.1 2615.4,1076.7 2614.4,1075.3 2614.2,1073.3 2615.2,1070.7 2614.9,1068.3 2612.9,1067.5 2612.6,1065.1 2613.2,1062.3 2613,1060.1ZM2581,1108.5 2582.8,1110.4 2585.3,1111.6 2584.5,1115.3 2584.3,1118.5 2579.6,1122 2574.9,1124.2 2570.5,1128.1 2565.6,1131 2563,1133.6 2560.2,1136 2557.3,1136.4 2553.7,1137.8 2550,1139.4 2546.8,1140.2 2542.6,1143 2538.4,1146.1 2535.6,1149.8 2531.9,1153.4 2528.4,1155.6 2525.1,1157.4 2522.5,1157.5 2519.1,1159.2 2517.1,1159.2 2515.1,1159.2 2513.2,1159.1 2511.1,1159.2 2508.5,1158.6 2505.7,1158.2 2504.3,1156.3 2503.3,1154.3 2506.1,1152.3 2508.8,1150.7 2511.2,1148.4 2513.3,1146 2517.4,1144.5 2521.3,1143.2 2525.7,1139.9 2530,1137.7 2535,1135.8 2539.5,1135 2544.6,1132.9 2550.1,1129.4 2553.6,1127.3 2556.7,1124.4 2559.9,1123.1 2563.4,1121 2566.4,1118.3 2569.6,1116.7 2572.1,1113.9 2574.3,1111 2576.1,1110.4 2577.3,1110.7 2579.2,1109.2ZM2388.4,1110.2 2391.5,1110.2 2394.3,1110.9 2395.7,1113 2398.6,1113.5 2401.8,1113.3 2404.9,1113.3 2408.3,1112.8 2411.9,1111.9 2410.8,1114.5 2409.1,1117.3 2407.3,1120.1 2404.8,1122.7 2401.8,1124.7 2399,1127.3 2396,1129.4 2393.2,1131.9 2390,1132.7 2386.5,1134.5 2383.4,1135 2381.9,1133.5 2382.2,1131.4 2382.4,1129.4 2382.7,1127.2 2382.8,1125.2 2382.4,1123 2383.8,1120 2384.3,1117.4 2385.8,1114.4 2386.9,1112.3ZM1764,868.5 1766.7,875.6 1770,882.3 1769.9,890.1 1769.8,898 1768,901 1766.5,904.3 1765.1,907.7 1763.1,910.6 1759.9,916.7 1756,922.3 1753.3,928.9 1754,935.9 1751.1,943.1 1748.3,950.3 1745.4,957.6 1744.5,965.4 1742.8,968.4 1740.8,971.2 1740.3,974.6 1739.8,978 1736.5,979.5 1733.1,979.7 1730,982.1 1726.4,982.3 1723.6,978.4 1722,973.6 1719.2,969.8 1716.9,965.4 1716.5,962.2 1716,959.1 1716.2,955.7 1714.9,952.8 1715.5,947.7 1717.3,942.9 1721.2,940.1 1724.1,935.9 1723.9,930.6 1723.1,925.4 1722.5,920.2 1722.5,914.8 1724.4,912.6 1725.6,909.8 1725.6,906.7 1726.8,903.9 1730.8,903.1 1734.8,902.7 1737.8,899.1 1741.9,898 1745.6,894.2 1747.1,888.8 1750.5,885.1 1753.8,881.1 1756.7,878.2 1758.9,874.7 1761.3,871.5ZM1990.8,685.6 1993.8,687.7 1996.7,690.1 1998.9,693.3 2001.7,695.7 2003.9,698.4 2004.6,701.9 2005.2,705.3 2006.8,708.4 2005.7,710.2 2005.6,712.4 2004.1,713.8 2002.6,715.1 2000.8,716 1998.9,715.8 1997.2,716.8 1995.2,716.8 1993.8,713.7 1993.6,710.3 1992.1,707.3 1991,704.1 1990.3,699.5 1989.6,694.8 1990.8,690.3ZM1486.1,447.2 1491.5,446.1 1496.7,449 1501.4,446.1 1506.7,445.5 1506.4,448.6 1505.9,451.7 1505.8,454.9 1505.4,458.1 1500.3,457.1 1495.2,456.7 1490.1,455 1486.2,450.5 1486.1,448.8ZM1456.1,422 1458.4,421.7 1460.5,420.9 1462.8,421 1465,422 1464.4,425.7 1464,429.5 1465.2,433.2 1465.6,437.1 1463.8,438.1 1462.1,439.1 1460.1,439.1 1458.1,438.8 1456.3,434.9 1456.3,430.5 1455.4,426.2ZM1457.7,410.3 1459.4,410 1460.7,408.7 1462.2,407.8 1463.7,407 1463,409.8 1462.9,412.8 1463.1,415.7 1462.8,418.7 1460.7,418.2 1458.7,417 1458.6,415.3 1457.9,413.7 1458,412ZM1564.7,468.2 1569.5,468.4 1573.9,471.2 1578.5,470.4 1583.2,470.7 1579.3,470.9 1575.3,470.2 1571.8,472.1 1567.9,472.4 1566.2,470.3ZM1626.1,472.4 1630.2,472.3 1633.8,470.5 1637.1,468.2 1640.9,467.3 1640,469.7 1638.1,470.9 1637.3,473.4 1635.5,474.9 1633.1,473.8 1630.8,474.2 1628.3,474ZM965.5,1208.2 972.4,1213.4 979.3,1219 986.3,1221.8 993.3,1225 987.9,1224.9 982.4,1224.7 979.2,1228.1 975.3,1230.6 971.2,1230.7 966.6,1228.9 962.2,1228.1 957.6,1225.8 955.2,1224.3 953,1222.2 950.7,1221.3 948.4,1219.4 951,1218.8 953.5,1218 954.7,1215.6 956.5,1213.8 959.3,1213 960.6,1210.5 963.7,1210.3ZM1009.1,1200.9 1014.4,1201.4 1019,1200.1 1023.8,1199.3 1028.6,1198.5 1027.9,1200.5 1027.2,1202.6 1026.6,1204.8 1024.8,1205.8 1021.2,1204 1017.9,1204 1014.5,1203.8 1011.8,1205 1010.1,1203.2ZM258.8,600.5 260.7,599.7 262.5,600.1 264.3,600.4 266.1,600.5 264.8,602.1 263.3,603.7 261.9,605.3 260.9,607.2 259.7,606.2 258.4,605.5 259.1,602.9ZM459.9,287.5 465.3,285.6 470.6,283.8 472.9,285 476.4,285.2 478.2,282.9 478.7,281.3 475.3,282.9 473,283.1 470.8,283.3 468.4,283.6 466.2,284.6 464.5,284.8 462.3,285.8ZM412.7,242.9 412.6,245.5 416.7,245.3 420,245.6 425.1,244.4 424.4,243.7 423.1,243.3 424.1,241.7 425.3,239.9 422.7,240.2 419.5,240.9 416.5,241.6ZM1847.6,1180.6 1850.1,1180.6 1852.5,1180.7 1855,1180.5 1857.4,1180.6 1856.2,1181.6 1855,1182.6 1853.8,1183.8 1852.6,1184.7 1851.7,1183.2 1850.8,1181.8 1849.5,1180.8ZM1161.4,1219.4 1164.8,1219.5 1168,1219.2 1171.4,1221.5 1174.9,1223.4 1174.2,1224.4 1174.2,1225.8 1171.2,1223.7 1168.1,1222.9 1165.1,1223.2 1162,1221.8ZM632.4,1428.3 686.3,1422.9 718.7,1419.3 724.1,1410.3 707.9,1404.9 689.9,1394.1 671.9,1388.7 697.1,1377.9 729.5,1372.5 751.1,1370.7 801.4,1370.7 833.8,1372.5 851.8,1376.1 905.8,1376.1 898.6,1368.9 873.4,1363.5 905.8,1358.1 941.7,1361.7 981.3,1365.3 988.5,1361.7 1010.1,1364.2 1031.7,1361.7 1047.8,1358.1 1049.6,1352.7 1035.3,1340.1 1022.7,1334.7 1010.1,1332.9 1013.7,1340.1 995.7,1340.1 1010.1,1347.3 1031.7,1334.7 1037.1,1324 1028.1,1324 1020.9,1320.4 1031.7,1309.6 1053.2,1298.8 1080.2,1289.8 1082,1295.2 1064,1302.4 1049.6,1309.6 1042.4,1324 1047.8,1331.2 1067.6,1340.1 1078.4,1349.1 1087.4,1363.5 1085.6,1374.3 1078.4,1377.9 1056.8,1383.3 1020.9,1385.1 1042.4,1390.5 1046,1395.9 999.3,1394.1 1024.5,1403.1 1049.6,1406 1064,1412.1 1103.6,1417.5 1128.8,1420.4 1136,1422.9 1161.2,1419.3 1193.5,1417.5 1211.5,1413.9 1240.3,1409.6 1261.9,1406.7 1294.2,1404.9 1258.3,1402.4 1229.5,1400.2 1227.7,1395.2 1240.3,1390.5 1265.5,1384.4 1297.8,1377.9 1310.4,1372.5 1319.4,1365.3 1333.8,1359.9 1346.4,1349.1 1366.2,1347.3 1400,1350.9 1398,1350.9 1426.8,1345.5 1469.9,1343.7 1498.7,1346.3 1534.7,1347.3 1559.9,1343.7 1576,1340.1 1577.8,1332.9 1586.8,1332.9 1588.6,1336.5 1606.6,1340.1 1617.4,1332.9 1639,1326.8 1664.2,1324 1678.6,1316.8 1696.5,1311.4 1710.9,1312.4 1716.3,1316.8 1707.3,1318.6 1725.3,1322.2 1750.5,1323.2 1781.1,1324.7 1773.9,1334.7 1761.3,1341.9 1754.1,1350.9 1741.5,1361.7 1748.7,1362.8 1772.1,1350.9 1786.5,1341.9 1804.5,1336.5 1826,1327.6 1858.4,1320.4 1890.8,1316.8 1926.8,1315 1955.5,1313.2 1973.5,1310.3 1991.5,1313.2 2013.1,1316 2034.7,1311.4 2041.9,1316 2027.5,1321.1 2063.5,1318.6 2103,1315.7 2128.2,1313.2 2153.4,1313.9 2100,1315.5 2110.8,1319.6 2127,1313.4 2154,1313.4 2180.9,1318.2 2198.5,1319.6 2189,1325 2202.5,1325.8 2205.2,1329 2221.4,1331.7 2237.6,1329 2240.3,1333.1 2256.5,1335.8 2261.9,1343.9 2255.1,1347.4 2267.3,1342.5 2283.4,1345.7 2295.6,1350.1 2288.8,1354.6 2275.3,1357.3 2267.3,1364.6 2256.5,1362.7 2240.3,1368.1 2224.1,1372.2 2207.9,1377.6 2191.7,1385.7 2186.3,1393.8 2207.9,1389.7 2216,1390.5 2199.8,1392.4 2183.6,1396.5 2167.4,1399.2 2154,1401.9 2135.1,1407.3 2127,1412.6 2129.7,1418 2113.5,1418 2132.4,1422.1 2148.6,1425.6 2168.8,1426.7 2207.9,1482.8 2200,1500 600,1500 560,1400ZM1152.2,1408.5 1164.7,1395.9 1179.1,1392.3 1197.1,1399.5 1198.9,1406 1175.5,1407.8Z" fill="#808080"/>
<path d="M1228.9,103.6 1548.8,103.6 1561.6,129.2 1214.2,129.2ZM1353,128.6 1700.4,128.6 1725.5,160.3 1349.1,160.3ZM1349.1,159.7 1399.8,159.7 1399.8,194.4 1345.7,194.4ZM1474.4,159.7 1550.1,159.7 1560.2,194.4 1479.4,194.4ZM1624.7,159.7 1675.4,159.7 1693.9,194.4 1639.9,194.4ZM1319,193.8 1453.3,193.8 1456.3,230.5 1314.4,230.5ZM1532.9,193.8 1560.2,193.8 1569.4,230.5 1540.5,230.5ZM1613.1,193.8 1693.9,193.8 1710.8,230.5 1625.4,230.5ZM381.5,229.9 495.2,229.9 448.9,268.4 329.4,268.4ZM918.6,229.9 947.5,229.9 924.3,268.4 894,268.4ZM1314.4,229.9 1343.3,229.9 1340.4,268.4 1310,268.4ZM1625.4,229.9 1654.2,229.9 1667.3,268.4 1636.9,268.4ZM1710.2,229.9 1739,229.9 1756.4,268.4 1726.1,268.4ZM2360.4,229.9 2417.5,229.9 2469.6,268.4 2409.6,268.4ZM329.4,267.8 448.9,267.8 405.5,307.6 280.6,307.6ZM864.3,267.8 894.6,267.8 871.6,307.6 839.9,307.6ZM953.4,267.8 983.8,267.8 964.8,307.6 933.1,307.6ZM1339.8,267.8 1370.1,267.8 1368.7,307.6 1337.1,307.6ZM1577.5,267.8 1637.5,267.8 1648.4,307.6 1585.6,307.6ZM2409.6,267.8 2439.9,267.8 2487.3,307.6 2455.6,307.6ZM280.6,307 405.5,307 366.3,347.9 236.6,347.9ZM808.8,307 840.5,307 818.5,347.9 785.6,347.9ZM995.3,307 1026.9,307 1012.3,347.9 979.4,347.9ZM1337.1,307 1368.7,307 1367.5,347.9 1334.6,347.9ZM1554.6,307 1586.2,307 1593.6,347.9 1560.7,347.9ZM1772.1,307 1865.9,307 1884.2,347.9 1786.7,347.9ZM2486.7,307 2518.4,307 2562.4,347.9 2529.5,347.9ZM817.9,347.3 850.8,347.3 832.9,389 798.9,389ZM979.4,347.3 1012.3,347.3 999.6,389 965.7,389ZM1334.6,347.3 1367.5,347.3 1366.5,389 1332.5,389ZM1528.4,347.3 1561.3,347.3 1566.5,389 1532.6,389ZM1883.6,347.3 1916.5,347.3 1933.4,389 1899.4,389ZM965.7,388.4 999.6,388.4 988.3,430.7 953.4,430.7ZM1299.2,388.4 1333.1,388.4 1331.2,430.7 1296.3,430.7ZM1465.9,388.4 1499.8,388.4 1502.7,430.7 1467.8,430.7ZM1932.8,388.4 1966.7,388.4 1982.8,430.7 1947.9,430.7ZM747.6,430.1 816.8,430.1 803.5,472.7 732.7,472.7ZM1330.6,430.1 1468.4,430.1 1470,472.7 1329,472.7ZM2050.8,430.1 2120,430.1 2136.5,472.7 2065.7,472.7ZM2428,430.1 2497.2,430.1 2522.3,472.7 2451.6,472.7ZM732.7,472.1 768.4,472.1 756.8,514.8 720.5,514.8ZM908.1,472.1 978.9,472.1 971.1,514.8 899.1,514.8ZM1434.3,472.1 1470,472.1 1471.2,514.8 1434.9,514.8ZM1750,472.1 1820.7,472.1 1828.5,514.8 1756.4,514.8ZM2241.1,472.1 2311.9,472.1 2328.6,514.8 2256.5,514.8ZM2486.6,472.1 2522.3,472.1 2542.9,514.8 2506.6,514.8ZM541.9,514.2 578.2,514.2 567.1,557 530.2,557ZM1434.9,514.2 1471.2,514.2 1472.2,557 1435.4,557ZM1863.6,514.2 1899.9,514.2 1906.7,557 1869.9,557ZM2149.4,514.2 2328.6,514.2 2341.2,557 2159.5,557ZM2506.6,514.2 2542.9,514.2 2558.4,557 2521.6,557ZM783.7,556.4 856.7,556.4 851.6,599.1 777.9,599.1ZM1399.2,556.4 1472.2,556.4 1472.9,599.1 1399.2,599.1ZM2123.3,556.4 2196.3,556.4 2203.9,599.1 2130.2,599.1ZM2304.4,556.4 2377.4,556.4 2386.6,599.1 2312.9,599.1ZM704.8,598.5 815,598.5 810.4,641.2 699.3,641.2ZM2130.2,598.5 2167.3,598.5 2173.4,641.2 2136,641.2ZM699.3,640.6 810.4,640.6 807.2,683.4 695.4,683.4ZM2172.8,640.6 2210.3,640.6 2214.7,683.4 2177,683.4ZM1436.2,682.8 1510.9,682.8 1511.3,725.5 1436.4,725.5ZM1436.4,724.9 1548.4,724.9 1548.6,767.6 1436.4,767.6ZM1436.4,767.1 1548.6,767.1 1548.4,809.8 1436.4,809.8ZM1101.9,809.2 1139.7,809.2 1140.5,851.9 1102.9,851.9ZM1324.9,809.2 1399.8,809.2 1399.8,851.9 1325.1,851.9ZM1473.5,809.2 1511.3,809.2 1510.9,851.9 1473.3,851.9ZM1139.9,851.3 1214.6,851.3 1215.6,894.1 1141.3,894.1ZM1325.1,851.3 1436.8,851.3 1436.6,894.1 1325.5,894.1ZM1917.8,851.3 2066.5,851.3 2062.9,894.1 1914.9,894.1ZM1325.5,893.5 1473.5,893.5 1472.9,936.2 1326.1,936.2ZM1914.9,893.5 2026.1,893.5 2021.1,936.2 1910.9,936.2ZM924.1,935.6 997.8,935.6 1001.5,978.3 928.5,978.3ZM1033.7,935.6 1070.9,935.6 1073.9,978.3 1037.1,978.3ZM1362.7,935.6 1509.4,935.6 1508.4,978.3 1363,978.3ZM1947.4,935.6 2021.1,935.6 2015.3,978.3 1942.3,978.3ZM2495.7,935.6 2532.8,935.6 2522.2,978.3 2485.4,978.3ZM2568.8,935.6 2605.9,935.6 2594.6,978.3 2557.8,978.3ZM928.5,977.7 965.3,977.7 971.1,1020.5 934.8,1020.5ZM1037.1,977.7 1073.9,977.7 1078.3,1020.5 1042,1020.5ZM1363,977.7 1472.2,977.7 1471.2,1020.5 1363.5,1020.5ZM899.1,1019.9 971.1,1019.9 978.9,1062.6 908.1,1062.6ZM1434.9,1019.9 1507,1019.9 1505,1062.6 1434.3,1062.6ZM2292.3,1019.9 2364.3,1019.9 2346.9,1062.6 2276.2,1062.6ZM2470.9,1019.9 2507.2,1019.9 2487.2,1062.6 2451.6,1062.6ZM943.2,1062 1013.9,1062 1022.6,1104.6 953.4,1104.6ZM1609.7,1062 1715.5,1062 1708.4,1104.6 1605,1104.6ZM2311.3,1062 2382,1062 2360,1104.6 2290.8,1104.6ZM2416.5,1062 2487.2,1062 2462.9,1104.6 2393.7,1104.6ZM2591.9,1062 2627.6,1062 2600.1,1104.6 2565.2,1104.6ZM164.6,1104 199.5,1104 232.6,1146.3 198.7,1146.3ZM1639.3,1104 1674.2,1104 1666.6,1146.3 1632.6,1146.3ZM2290.8,1104 2360,1104 2333.6,1146.3 2266.3,1146.3ZM2393.7,1104 2462.9,1104 2433.6,1146.3 2366.3,1146.3ZM2565.2,1104 2600.1,1104 2567,1146.3 2533.1,1146.3ZM1632.6,1145.7 1733.3,1145.7 1722.8,1187.4 1625.3,1187.4ZM2232.9,1145.7 2333.6,1145.7 2304.1,1187.4 2206.6,1187.4ZM2433,1145.7 2467,1145.7 2433.3,1187.4 2400.4,1187.4ZM2206.6,1186.8 2336.4,1186.8 2300.9,1227.7 2176,1227.7ZM2368.1,1186.8 2433.3,1186.8 2394.1,1227.7 2331.3,1227.7ZM2300.3,1227.1 2363,1227.1 2321,1266.9 2261,1266.9Z" fill="#e6e6ff"/>
<path d="M1548.2,103.6 1719.2,103.6 1746.6,129.2 1561,129.2ZM1699.8,128.6 1746.6,128.6 1775.6,160.3 1724.9,160.3ZM1674.8,159.7 1725.5,159.7 1747.4,194.4 1693.3,194.4ZM1452.7,193.8 1533.5,193.8 1541.1,230.5 1455.7,230.5ZM1342.7,229.9 1456.3,229.9 1459.2,268.4 1339.8,268.4ZM1597.1,229.9 1626,229.9 1637.5,268.4 1607.2,268.4ZM1738.4,229.9 1767.3,229.9 1786.1,268.4 1755.8,268.4ZM894,267.8 954,267.8 933.7,307.6 871,307.6ZM1547.8,267.8 1578.1,267.8 1586.2,307.6 1554.6,307.6ZM1785.5,267.8 1845.6,267.8 1865.9,307.6 1803.1,307.6ZM839.9,307 871.6,307 850.8,347.9 817.9,347.9ZM964.2,307 995.9,307 980,347.9 947.1,347.9ZM1523.5,307 1555.2,307 1561.3,347.9 1528.4,347.9ZM1366.9,347.3 1432.1,347.3 1433.1,389 1365.9,389ZM1496.1,347.3 1529,347.3 1533.2,389 1499.2,389ZM832.3,388.4 866.2,388.4 851.1,430.7 816.2,430.7ZM1432.5,388.4 1466.5,388.4 1468.4,430.7 1433.5,430.7ZM1966.1,388.4 2033.4,388.4 2051.4,430.7 1982.2,430.7ZM816.2,430.1 851.1,430.1 838.5,472.7 802.9,472.7ZM953.4,430.1 988.3,430.1 978.9,472.7 943.2,472.7ZM2119.4,430.1 2188.6,430.1 2206.6,472.7 2135.9,472.7ZM2359.4,430.1 2428.6,430.1 2452.2,472.7 2381.4,472.7ZM767.8,472.1 803.5,472.1 792.5,514.8 756.2,514.8ZM837.9,472.1 908.7,472.1 899.7,514.8 827.6,514.8ZM1399.2,472.1 1434.9,472.1 1435.5,514.8 1399.2,514.8ZM2170.9,472.1 2241.7,472.1 2257.1,514.8 2185.1,514.8ZM2311.3,472.1 2346.9,472.1 2364.3,514.8 2328,514.8ZM2451.6,472.1 2487.2,472.1 2507.2,514.8 2470.9,514.8ZM827.6,514.2 864,514.2 856.7,557 819.9,557ZM1399.2,514.2 1435.5,514.2 1436,557 1399.2,557ZM1792.1,514.2 1864.2,514.2 1870.5,557 1797.5,557ZM2328,514.2 2400,514.2 2413.6,557 2340.6,557ZM2470.9,514.2 2507.2,514.2 2522.2,557 2485.4,557ZM2195.7,556.4 2232.5,556.4 2240.4,599.1 2203.3,599.1ZM2467.5,893.5 2505,893.5 2496.3,936.2 2459.1,936.2ZM997.2,935.6 1034.3,935.6 1037.7,978.3 1000.9,978.3ZM2459.1,935.6 2496.3,935.6 2486,978.3 2449.2,978.3ZM964.7,977.7 1037.7,977.7 1042.6,1020.5 970.5,1020.5ZM1471.6,977.7 1508.4,977.7 1507,1020.5 1470.6,1020.5ZM2449.2,977.7 2486,977.7 2471.5,1020.5 2435.2,1020.5ZM970.5,1019.9 1042.6,1019.9 1049,1062.6 978.3,1062.6ZM2363.7,1019.9 2471.5,1019.9 2452.2,1062.6 2346.3,1062.6ZM1673.6,1104 1742.7,1104 1733.3,1146.3 1666,1146.3ZM2359.4,1104 2394.3,1104 2366.9,1146.3 2333,1146.3ZM2333,1145.7 2433.6,1145.7 2401,1187.4 2303.5,1187.4ZM2335.8,1186.8 2368.7,1186.8 2331.9,1227.7 2300.3,1227.7Z" fill="#d4d4ff"/>
<path d="M1006.2,128.6 1238,128.6 1224.4,160.3 973.3,160.3ZM973.3,159.7 1074.1,159.7 1052.2,194.4 944.6,194.4ZM944.6,193.8 998.7,193.8 975.8,230.5 918.6,230.5ZM1265.5,193.8 1292.8,193.8 1286.7,230.5 1257.9,230.5ZM975.2,229.9 1004,229.9 983.8,268.4 953.4,268.4ZM1257.9,229.9 1286.7,229.9 1280.9,268.4 1250.6,268.4ZM656.3,267.8 716.3,267.8 685.2,307.6 622.4,307.6ZM775.1,267.8 835.2,267.8 809.4,307.6 746.7,307.6ZM1280.3,267.8 1340.4,267.8 1337.7,307.6 1274.9,307.6ZM1666.7,267.8 1726.7,267.8 1741.6,307.6 1678.8,307.6ZM622.4,307 654.1,307 624.7,347.9 591.8,347.9ZM1274.9,307 1337.7,307 1335.2,347.9 1270,347.9ZM1585.6,307 1772.7,307 1787.3,347.9 1593,347.9ZM559.5,347.3 592.4,347.3 566.1,389 532.1,389ZM785.6,347.3 818.5,347.3 799.5,389 765.6,389ZM1011.7,347.3 1044.5,347.3 1033,389 999,389ZM1237.7,347.3 1302.9,347.3 1299.8,389 1232.5,389ZM1754.5,347.3 1851.9,347.3 1866.7,389 1766,389ZM465.4,388.4 566.1,388.4 542.5,430.7 439,430.7ZM1232.5,388.4 1266.4,388.4 1262.6,430.7 1227.7,430.7ZM1499.2,388.4 1533.2,388.4 1537,430.7 1502.1,430.7ZM1766,388.4 1900,388.4 1914.2,430.7 1776.4,430.7ZM987.7,430.1 1022.6,430.1 1013.9,472.7 978.3,472.7ZM1262,430.1 1296.9,430.1 1294.6,472.7 1258.9,472.7ZM1502.1,430.1 1537,430.1 1540.1,472.7 1504.4,472.7ZM1742.1,430.1 1845.6,430.1 1855.8,472.7 1750,472.7ZM2016.5,430.1 2051.4,430.1 2066.3,472.7 2030.6,472.7ZM2530.9,430.1 2565.8,430.1 2592.5,472.7 2556.8,472.7ZM452.1,472.1 557.9,472.1 542.5,514.8 434.7,514.8ZM697.6,472.1 733.3,472.1 721.1,514.8 684.7,514.8ZM1258.9,472.1 1364.7,472.1 1364.1,514.8 1256.3,514.8ZM1469.4,472.1 1540.1,472.1 1542.7,514.8 1470.6,514.8ZM2065.7,472.1 2101.4,472.1 2114.3,514.8 2077.9,514.8ZM2556.8,472.1 2592.5,472.1 2614.4,514.8 2578,514.8ZM148.9,514.2 185.2,514.2 168.8,557 132,557ZM434.7,514.2 506.7,514.2 494.6,557 421.6,557ZM720.5,514.2 756.8,514.2 748.1,557 711.3,557ZM863.4,514.2 935.4,514.2 929.1,557 856.1,557ZM1256.3,514.2 1292.6,514.2 1291.2,557 1254.4,557ZM1506.4,514.2 1542.7,514.2 1544.6,557 1507.8,557ZM2578,514.2 2614.4,514.2 2630.8,557 2594,557ZM168.2,556.4 277.4,556.4 266.8,599.1 156.5,599.1ZM385.4,556.4 494.6,556.4 486.1,599.1 375.8,599.1ZM566.5,556.4 603.3,556.4 595.7,599.1 558.6,599.1ZM675.1,556.4 748.1,556.4 741.9,599.1 668.2,599.1ZM892.3,556.4 929.1,556.4 924.7,599.1 887.5,599.1ZM1544,556.4 1653.2,556.4 1655.6,599.1 1545.4,599.1ZM1688.9,556.4 1725.7,556.4 1728.7,599.1 1691.6,599.1ZM1869.9,556.4 1942.9,556.4 1948,599.1 1874.3,599.1ZM2087.1,556.4 2123.9,556.4 2130.8,599.1 2093.6,599.1ZM193.1,598.5 266.8,598.5 257.8,641.2 183.5,641.2ZM339.3,598.5 376.4,598.5 368.3,641.2 330.9,641.2ZM448.9,598.5 486.1,598.5 478.8,641.2 441.4,641.2ZM887.5,598.5 924.7,598.5 920.9,641.2 883.5,641.2ZM1106.8,598.5 1217.1,598.5 1215.6,641.2 1104.5,641.2ZM1801.2,598.5 1874.9,598.5 1878.7,641.2 1804.4,641.2ZM1947.4,598.5 2021.1,598.5 2026.1,641.2 1951.8,641.2ZM2057.1,598.5 2094.2,598.5 2099.7,641.2 2062.3,641.2ZM2276.4,598.5 2313.5,598.5 2320.8,641.2 2283.3,641.2ZM183.5,640.6 257.8,640.6 251.6,683.4 176.9,683.4ZM330.9,640.6 368.3,640.6 362.7,683.4 325,683.4ZM404.5,640.6 515.7,640.6 510.8,683.4 399.1,683.4ZM883.5,640.6 920.9,640.6 918.3,683.4 880.6,683.4ZM1067.6,640.6 1105.1,640.6 1103.5,683.4 1065.8,683.4ZM1178.2,640.6 1215.6,640.6 1214.6,683.4 1177,683.4ZM1362.4,640.6 1399.8,640.6 1399.8,683.4 1362.2,683.4ZM1767.6,640.6 1878.7,640.6 1881.3,683.4 1769.6,683.4ZM1988.6,640.6 2026.1,640.6 2029.5,683.4 1991.8,683.4ZM2062.3,640.6 2136.6,640.6 2140.6,683.4 2065.9,683.4ZM2283.3,640.6 2357.6,640.6 2362.8,683.4 2288.2,683.4ZM213.9,682.8 362.7,682.8 359.3,725.5 210.1,725.5ZM399.1,682.8 473.8,682.8 470.8,725.5 395.9,725.5ZM510.2,682.8 547.9,682.8 545.1,725.5 507.4,725.5ZM917.7,682.8 955.3,682.8 953.9,725.5 916.1,725.5ZM991.8,682.8 1066.4,682.8 1065.4,725.5 990.5,725.5ZM1177,682.8 1214.6,682.8 1214,725.5 1176.2,725.5ZM1251,682.8 1288.7,682.8 1288.3,725.5 1250.6,725.5ZM1362.2,682.8 1399.8,682.8 1399.8,725.5 1362,725.5ZM1658.5,682.8 1696.1,682.8 1697.1,725.5 1659.3,725.5ZM1732.6,682.8 1918.4,682.8 1920,725.5 1733.6,725.5ZM1991.8,682.8 2103.6,682.8 2105.8,725.5 1993.7,725.5ZM2362.2,682.8 2399.9,682.8 2403.1,725.5 2365.3,725.5ZM210.1,724.9 285,724.9 283.5,767.6 208.4,767.6ZM395.9,724.9 545.1,724.9 543.9,767.6 394.5,767.6ZM990.5,724.9 1028.2,724.9 1027.7,767.6 989.9,767.6ZM1139.1,724.9 1176.8,724.9 1176.5,767.6 1138.7,767.6ZM1733.6,724.9 1845.7,724.9 1846.3,767.6 1734.1,767.6ZM1882.3,724.9 1957.2,724.9 1958,767.6 1882.9,767.6ZM1993.7,724.9 2105.8,724.9 2106.8,767.6 1994.6,767.6ZM208.4,767.1 283.5,767.1 285,809.8 210.1,809.8ZM468.9,767.1 543.9,767.1 545.1,809.8 470.2,809.8ZM989.9,767.1 1027.7,767.1 1028.2,809.8 990.5,809.8ZM1101.5,767.1 1176.5,767.1 1176.8,809.8 1101.9,809.8ZM1920.2,767.1 1995.2,767.1 1994.3,809.8 1919.4,809.8ZM2031.8,767.1 2106.8,767.1 2105.8,809.8 2030.9,809.8ZM2255.1,767.1 2292.9,767.1 2291.6,809.8 2253.9,809.8ZM210.1,809.2 322.2,809.2 325.6,851.9 213.9,851.9ZM395.9,809.2 508,809.2 510.8,851.9 399.1,851.9ZM730.3,809.2 805.3,809.2 807.2,851.9 732.5,851.9ZM2105.2,809.2 2291.6,809.2 2288.8,851.9 2103,851.9ZM213.9,851.3 288.6,851.3 294.6,894.1 220.4,894.1ZM399.1,851.3 473.8,851.3 478.8,894.1 404.5,894.1ZM1806.6,851.3 1844.3,851.3 1841.9,894.1 1804.4,894.1ZM2103,851.3 2140.6,851.3 2136.6,894.1 2099.1,894.1ZM2251.1,851.3 2325.8,851.3 2320.8,894.1 2246.5,894.1ZM220.4,893.5 294.6,893.5 303.3,936.2 229.6,936.2ZM330.9,893.5 478.8,893.5 486.1,936.2 339.3,936.2ZM1067.6,893.5 1105.1,893.5 1107.4,936.2 1070.3,936.2ZM1804.4,893.5 1878.7,893.5 1874.9,936.2 1801.2,936.2ZM2062.3,893.5 2099.7,893.5 2094.2,936.2 2057.1,936.2ZM2246.5,893.5 2283.9,893.5 2277,936.2 2239.8,936.2ZM302.7,935.6 413,935.6 422.2,978.3 313,978.3ZM1106.8,935.6 1180.5,935.6 1182.6,978.3 1109.5,978.3ZM1618.5,935.6 1655.6,935.6 1653.2,978.3 1616.4,978.3ZM1874.3,935.6 1911.5,935.6 1906.7,978.3 1869.9,978.3ZM2093.6,935.6 2130.8,935.6 2123.9,978.3 2087.1,978.3ZM2203.3,935.6 2277,935.6 2268.8,978.3 2195.7,978.3ZM313,977.7 386,977.7 399.6,1020.5 327.5,1020.5ZM856.1,977.7 892.9,977.7 899.7,1020.5 863.4,1020.5ZM1109.5,977.7 1146.4,977.7 1149.7,1020.5 1113.4,1020.5ZM1616.4,977.7 1653.2,977.7 1649.9,1020.5 1613.5,1020.5ZM1942.3,977.7 2015.3,977.7 2007.1,1020.5 1935,1020.5ZM2087.1,977.7 2232.5,977.7 2221.4,1020.5 2077.9,1020.5ZM863.4,1019.9 899.7,1019.9 908.7,1062.6 873,1062.6ZM1649.3,1019.9 1685.6,1019.9 1680.4,1062.6 1644.8,1062.6ZM2042.2,1019.9 2221.4,1019.9 2206.6,1062.6 2030.6,1062.6ZM2542.3,1019.9 2578.6,1019.9 2557.4,1062.6 2521.7,1062.6ZM873,1062 908.7,1062 919.7,1104.6 884.8,1104.6ZM1153.6,1062 1364.7,1062 1365.5,1104.6 1159.1,1104.6ZM1750,1062 1855.8,1062 1845.6,1104.6 1742.1,1104.6ZM2030.6,1062 2101.4,1062 2085.7,1104.6 2016.5,1104.6ZM1433.5,1104 1537,1104 1533.2,1146.3 1432.5,1146.3ZM1776.4,1104 1811.3,1104 1800,1146.3 1766,1146.3ZM2016.5,1104 2120,1104 2100.1,1146.3 1999.5,1146.3ZM198.7,1145.7 232.6,1145.7 269.5,1187.4 236.6,1187.4ZM1532.6,1145.7 1566.5,1145.7 1561.3,1187.4 1528.4,1187.4ZM2032.8,1145.7 2100.1,1145.7 2078,1187.4 2012.8,1187.4ZM236.6,1186.8 269.5,1186.8 312.3,1227.7 280.6,1227.7ZM1722.2,1186.8 1755.1,1186.8 1741.6,1227.7 1709.9,1227.7ZM2012.8,1186.8 2078,1186.8 2052.3,1227.7 1989.6,1227.7ZM2529.5,1186.8 2562.4,1186.8 2518.4,1227.7 2486.7,1227.7Z" fill="#ffffff"/>
<path d="M1237.4,128.6 1353.6,128.6 1349.7,160.3 1223.8,160.3ZM1273.9,159.7 1349.7,159.7 1346.3,194.4 1265.5,194.4ZM1549.5,159.7 1625.3,159.7 1640.5,194.4 1559.6,194.4ZM1292.2,193.8 1319.6,193.8 1315,230.5 1286.1,230.5ZM1559.6,193.8 1613.7,193.8 1626,230.5 1568.8,230.5ZM833.8,229.9 919.2,229.9 894.6,268.4 804.9,268.4ZM946.9,229.9 975.8,229.9 954,268.4 923.7,268.4ZM1286.1,229.9 1315,229.9 1310.6,268.4 1280.3,268.4ZM1653.6,229.9 1710.8,229.9 1726.7,268.4 1666.7,268.4ZM596.8,267.8 656.9,267.8 623,307.6 560.3,307.6ZM834.6,267.8 864.9,267.8 840.5,307.6 808.8,307.6ZM983.2,267.8 1013.5,267.8 995.9,307.6 964.2,307.6ZM1636.9,267.8 1667.3,267.8 1679.4,307.6 1647.8,307.6ZM1726.1,267.8 1786.1,267.8 1803.7,307.6 1741,307.6ZM560.3,307 623,307 592.4,347.9 527.2,347.9ZM1302.3,347.3 1335.2,347.3 1333.1,389 1299.2,389ZM1851.3,347.3 1884.2,347.3 1900,389 1866.1,389ZM798.9,388.4 832.9,388.4 816.8,430.7 781.9,430.7ZM1265.8,388.4 1299.8,388.4 1296.9,430.7 1262,430.7ZM1899.4,388.4 1933.4,388.4 1948.5,430.7 1913.6,430.7ZM1296.3,430.1 1331.2,430.1 1329.6,472.7 1294,472.7ZM1467.8,430.1 1502.7,430.1 1505,472.7 1469.4,472.7ZM1845,430.1 1914.2,430.1 1926,472.7 1855.2,472.7ZM2496.6,430.1 2531.5,430.1 2557.4,472.7 2521.7,472.7ZM1364.1,472.1 1399.8,472.1 1399.8,514.8 1363.5,514.8ZM1820.1,472.1 1890.9,472.1 1899.9,514.8 1827.9,514.8ZM2100.8,472.1 2171.5,472.1 2185.7,514.8 2113.7,514.8ZM2521.7,472.1 2557.4,472.1 2578.6,514.8 2542.3,514.8ZM1363.5,514.2 1399.8,514.2 1399.8,557 1363,557ZM1470.6,514.2 1507,514.2 1508.4,557 1471.6,557ZM1756.4,514.2 1792.7,514.2 1798.1,557 1761.3,557ZM2113.7,514.2 2150,514.2 2160.1,557 2123.3,557ZM2542.3,514.2 2578.6,514.2 2594.6,557 2557.8,557ZM747.5,556.4 784.3,556.4 778.5,599.1 741.3,599.1ZM856.1,556.4 892.9,556.4 888.1,599.1 851,599.1ZM1363,556.4 1399.8,556.4 1399.8,599.1 1362.7,599.1ZM1725.1,556.4 1834.3,556.4 1838.4,599.1 1728.1,599.1ZM2231.9,556.4 2305,556.4 2313.5,599.1 2239.8,599.1ZM156.5,598.5 193.7,598.5 184.1,641.2 146.7,641.2ZM375.8,598.5 449.5,598.5 442,641.2 367.7,641.2ZM595.1,598.5 705.4,598.5 699.9,641.2 588.7,641.2ZM814.4,598.5 888.1,598.5 884.1,641.2 809.8,641.2ZM1362.7,598.5 1399.8,598.5 1399.8,641.2 1362.4,641.2ZM1728.1,598.5 1801.8,598.5 1805,641.2 1730.8,641.2ZM2020.5,598.5 2057.7,598.5 2062.9,641.2 2025.5,641.2ZM2093.6,598.5 2130.8,598.5 2136.6,641.2 2099.1,641.2ZM2166.7,598.5 2203.9,598.5 2210.3,641.2 2172.8,641.2ZM2312.9,598.5 2350.1,598.5 2357.6,641.2 2320.2,641.2ZM367.7,640.6 405.1,640.6 399.7,683.4 362.1,683.4ZM809.8,640.6 884.1,640.6 881.2,683.4 806.6,683.4ZM1104.5,640.6 1178.8,640.6 1177.6,683.4 1102.9,683.4ZM1399.2,640.6 1510.3,640.6 1510.9,683.4 1399.2,683.4ZM1951.8,640.6 1989.2,640.6 1992.4,683.4 1954.8,683.4ZM2025.5,640.6 2062.9,640.6 2066.5,683.4 2028.9,683.4ZM2136,640.6 2173.4,640.6 2177.6,683.4 2140,683.4ZM2357,640.6 2394.5,640.6 2399.9,683.4 2362.2,683.4ZM176.9,682.8 214.5,682.8 210.7,725.5 173,725.5ZM362.1,682.8 399.7,682.8 396.5,725.5 358.7,725.5ZM880.6,682.8 918.3,682.8 916.7,725.5 879,725.5ZM1065.8,682.8 1177.6,682.8 1176.8,725.5 1064.8,725.5ZM1399.2,682.8 1436.8,682.8 1437,725.5 1399.2,725.5ZM1510.3,682.8 1548,682.8 1548.4,725.5 1510.7,725.5ZM284.4,724.9 396.5,724.9 395.1,767.6 282.9,767.6ZM1027.6,724.9 1139.7,724.9 1139.3,767.6 1027.1,767.6ZM1176.2,724.9 1399.8,724.9 1399.8,767.6 1175.9,767.6ZM1845.1,724.9 1882.9,724.9 1883.5,767.6 1845.7,767.6ZM2216.7,724.9 2254.5,724.9 2255.7,767.6 2217.8,767.6ZM282.9,767.1 469.5,767.1 470.8,809.8 284.4,809.8ZM1027.1,767.1 1102.1,767.1 1102.5,809.8 1027.6,809.8ZM1175.9,767.1 1399.8,767.1 1399.8,809.8 1176.2,809.8ZM1808.5,767.1 1920.8,767.1 1920,809.8 1807.9,809.8ZM1994.6,767.1 2032.4,767.1 2031.5,809.8 1993.7,809.8ZM2106.2,767.1 2181.2,767.1 2180.1,809.8 2105.2,809.8ZM2217.8,767.1 2255.7,767.1 2254.5,809.8 2216.7,809.8ZM321.6,809.2 396.5,809.2 399.7,851.9 325,851.9ZM1139.1,809.2 1325.5,809.2 1325.7,851.9 1139.9,851.9ZM1399.2,809.2 1437,809.2 1436.8,851.9 1399.2,851.9ZM1845.1,809.2 2105.8,809.2 2103.6,851.9 1843.7,851.9ZM325,851.3 399.7,851.3 405.1,894.1 330.9,894.1ZM1102.9,851.3 1140.5,851.3 1141.9,894.1 1104.5,894.1ZM1214,851.3 1325.7,851.3 1326.1,894.1 1215,894.1ZM1436.2,851.3 1473.9,851.3 1473.5,894.1 1436,894.1ZM1843.7,851.3 1918.4,851.3 1915.5,894.1 1841.3,894.1ZM2065.9,851.3 2103.6,851.3 2099.7,894.1 2062.3,894.1ZM294,893.5 331.5,893.5 339.9,936.2 302.7,936.2ZM920.3,893.5 994.6,893.5 997.8,936.2 924.1,936.2ZM1104.5,893.5 1326.1,893.5 1326.7,936.2 1106.8,936.2ZM1472.9,893.5 1510.3,893.5 1509.4,936.2 1472.3,936.2ZM1878.1,893.5 1915.5,893.5 1911.5,936.2 1874.3,936.2ZM2025.5,893.5 2062.9,893.5 2057.7,936.2 2020.5,936.2ZM2283.3,893.5 2320.8,893.5 2313.5,936.2 2276.4,936.2ZM229.6,935.6 303.3,935.6 313.6,978.3 240.6,978.3ZM887.5,935.6 924.7,935.6 929.1,978.3 892.3,978.3ZM1070.3,935.6 1107.4,935.6 1110.1,978.3 1073.3,978.3ZM1179.9,935.6 1363.3,935.6 1363.6,978.3 1182,978.3ZM1910.9,935.6 1948,935.6 1942.9,978.3 1906.1,978.3ZM2020.5,935.6 2094.2,935.6 2087.7,978.3 2014.7,978.3ZM276.8,977.7 313.6,977.7 328.1,1020.5 291.8,1020.5ZM892.3,977.7 929.1,977.7 935.4,1020.5 899.1,1020.5ZM1073.3,977.7 1110.1,977.7 1114,1020.5 1077.7,1020.5ZM1145.8,977.7 1363.6,977.7 1364.1,1020.5 1149.1,1020.5ZM2014.7,977.7 2087.7,977.7 2078.5,1020.5 2006.5,1020.5ZM2485.4,977.7 2522.2,977.7 2507.2,1020.5 2470.9,1020.5ZM1077.7,1019.9 1435.5,1019.9 1434.9,1062.6 1083.5,1062.6ZM1613.5,1019.9 1649.9,1019.9 1645.4,1062.6 1609.7,1062.6ZM2220.8,1019.9 2292.9,1019.9 2276.8,1062.6 2206,1062.6ZM2506.6,1019.9 2542.9,1019.9 2522.3,1062.6 2486.6,1062.6ZM908.1,1062 943.8,1062 954,1104.6 919.1,1104.6ZM1434.3,1062 1610.3,1062 1605.6,1104.6 1433.5,1104.6ZM1714.9,1062 1750.6,1062 1742.7,1104.6 1707.8,1104.6ZM2100.8,1062 2311.9,1062 2291.4,1104.6 2085.1,1104.6ZM2381.4,1062 2417.1,1062 2394.3,1104.6 2359.4,1104.6ZM2486.6,1062 2592.5,1062 2565.8,1104.6 2462.3,1104.6ZM850.5,1104 988.3,1104 999.6,1146.3 865.6,1146.3ZM1536.4,1104 1639.9,1104 1633.2,1146.3 1532.6,1146.3ZM1742.1,1104 1777,1104 1766.6,1146.3 1732.7,1146.3ZM2119.4,1104 2291.4,1104 2266.9,1146.3 2099.5,1146.3ZM2462.3,1104 2565.8,1104 2533.7,1146.3 2433,1146.3ZM2599.5,1104 2634.4,1104 2600.3,1146.3 2566.4,1146.3ZM1565.9,1145.7 1633.2,1145.7 1625.9,1187.4 1560.7,1187.4ZM1732.7,1145.7 1766.6,1145.7 1755.1,1187.4 1722.2,1187.4ZM2099.5,1145.7 2233.5,1145.7 2207.2,1187.4 2077.4,1187.4ZM2466.4,1145.7 2600.3,1145.7 2562.4,1187.4 2432.7,1187.4ZM1593,1186.8 1722.8,1186.8 1710.5,1227.7 1585.6,1227.7ZM2077.4,1186.8 2207.2,1186.8 2176.6,1227.7 2051.7,1227.7ZM2432.7,1186.8 2530.1,1186.8 2487.3,1227.7 2393.5,1227.7ZM2362.4,1227.1 2487.3,1227.1 2439.9,1266.9 2320.4,1266.9Z" fill="#f2f2ff"/>
<path d="M1746,128.6 1839.1,128.6 1875.8,160.3 1775,160.3ZM1693.3,193.8 1747.4,193.8 1767.3,230.5 1710.2,230.5ZM1455.7,229.9 1484.6,229.9 1489,268.4 1458.6,268.4ZM1568.8,229.9 1597.7,229.9 1607.8,268.4 1577.5,268.4ZM1369.5,267.8 1489,267.8 1493,307.6 1368.1,307.6ZM1518.1,267.8 1548.4,267.8 1555.2,307.6 1523.5,307.6ZM871,307 902.7,307 883.1,347.9 850.2,347.9ZM933.1,307 964.8,307 947.7,347.9 914.8,347.9ZM1368.1,307 1524.1,307 1529,347.9 1366.9,347.9ZM850.2,347.3 883.1,347.3 866.2,389 832.3,389ZM947.1,347.3 980,347.3 966.3,389 932.3,389ZM1463.8,347.3 1496.7,347.3 1499.8,389 1465.9,389ZM1915.9,347.3 1948.8,347.3 1966.7,389 1932.8,389ZM932.3,388.4 966.3,388.4 954,430.7 919.1,430.7ZM1399.2,388.4 1433.1,388.4 1434.1,430.7 1399.2,430.7ZM2032.8,388.4 2100.1,388.4 2120,430.7 2050.8,430.7ZM2366.3,388.4 2400.3,388.4 2428.6,430.7 2393.7,430.7ZM850.5,430.1 885.4,430.1 873.6,472.7 837.9,472.7ZM919.1,430.1 954,430.1 943.8,472.7 908.1,472.7ZM2188,430.1 2360,430.1 2382,472.7 2206,472.7ZM802.9,472.1 838.5,472.1 828.2,514.8 791.9,514.8ZM2346.3,472.1 2452.2,472.1 2471.5,514.8 2363.7,514.8ZM756.2,514.2 828.2,514.2 820.5,557 747.5,557ZM2399.4,514.2 2471.5,514.2 2486,557 2413,557ZM2362.2,851.3 2399.9,851.3 2394.5,894.1 2357,894.1ZM2430.7,893.5 2468.1,893.5 2459.7,936.2 2422.6,936.2ZM1508.8,935.6 1546,935.6 1544.6,978.3 1507.8,978.3ZM2422.6,935.6 2459.7,935.6 2449.8,978.3 2413,978.3ZM1580.2,977.7 1617,977.7 1614.1,1020.5 1577.8,1020.5ZM2268.2,977.7 2449.8,977.7 2435.8,1020.5 2256.5,1020.5ZM1506.4,1019.9 1542.7,1019.9 1540.1,1062.6 1504.4,1062.6ZM1577.8,1019.9 1614.1,1019.9 1610.3,1062.6 1574.6,1062.6Z" fill="#bfbfff"/>
<path d="M1073.5,159.7 1124.2,159.7 1105.7,194.4 1051.6,194.4ZM1223.8,159.7 1274.5,159.7 1266.1,194.4 1212,194.4ZM998.1,193.8 1052.2,193.8 1032.3,230.5 975.2,230.5ZM1238.8,193.8 1266.1,193.8 1258.5,230.5 1229.6,230.5ZM1003.4,229.9 1032.3,229.9 1013.5,268.4 983.2,268.4ZM1229.6,229.9 1258.5,229.9 1251.2,268.4 1220.9,268.4ZM715.7,267.8 775.7,267.8 747.3,307.6 684.6,307.6ZM1012.9,267.8 1043.2,267.8 1026.9,307.6 995.3,307.6ZM1220.9,267.8 1280.9,267.8 1275.5,307.6 1212.8,307.6ZM653.5,307 685.2,307 657,347.9 624.1,347.9ZM777.8,307 809.4,307 786.2,347.9 753.3,347.9ZM1026.3,307 1058,307 1044.5,347.9 1011.7,347.9ZM1212.8,307 1275.5,307 1270.6,347.9 1205.4,347.9ZM591.8,347.3 624.7,347.3 599.4,389 565.5,389ZM1043.9,347.3 1076.8,347.3 1066.3,389 1032.4,389ZM1173.1,347.3 1238.3,347.3 1233.1,389 1165.8,389ZM1560.7,347.3 1593.6,347.3 1599.9,389 1565.9,389ZM1689.9,347.3 1755.1,347.3 1766.6,389 1699.3,389ZM365.4,388.4 466,388.4 439.6,430.7 336.1,430.7ZM565.5,388.4 599.4,388.4 576.7,430.7 541.9,430.7ZM765.6,388.4 799.5,388.4 782.5,430.7 747.6,430.7ZM999,388.4 1033,388.4 1022.6,430.7 987.7,430.7ZM1199.1,388.4 1233.1,388.4 1228.3,430.7 1193.4,430.7ZM1732.7,388.4 1766.6,388.4 1777,430.7 1742.1,430.7ZM336.1,430.1 576.7,430.1 557.9,472.7 311.8,472.7ZM713.3,430.1 748.2,430.1 733.3,472.7 697.6,472.7ZM1022,430.1 1056.9,430.1 1049,472.7 1013.3,472.7ZM1227.7,430.1 1262.6,430.1 1259.5,472.7 1223.8,472.7ZM1536.4,430.1 1571.3,430.1 1575.2,472.7 1539.5,472.7ZM1913.6,430.1 2017.1,430.1 2031.2,472.7 1925.4,472.7ZM2565.2,430.1 2600.1,430.1 2627.6,472.7 2591.9,472.7ZM136.4,472.1 172,472.1 149.5,514.8 113.2,514.8ZM381.9,472.1 452.7,472.1 435.3,514.8 363.2,514.8ZM662.5,472.1 698.2,472.1 685.3,514.8 649,514.8ZM978.3,472.1 1013.9,472.1 1006.9,514.8 970.5,514.8ZM1223.8,472.1 1259.5,472.1 1256.9,514.8 1220.6,514.8ZM1539.5,472.1 1575.2,472.1 1578.4,514.8 1542.1,514.8ZM2591.9,472.1 2662.6,472.1 2685.8,514.8 2613.8,514.8ZM184.6,514.2 256.7,514.2 241.2,557 168.2,557ZM363.2,514.2 435.3,514.2 422.2,557 349.2,557ZM577.6,514.2 613.9,514.2 603.3,557 566.5,557ZM684.7,514.2 721.1,514.2 711.9,557 675.1,557ZM1184.9,514.2 1256.9,514.2 1255,557 1182,557ZM1292,514.2 1364.1,514.2 1363.6,557 1290.6,557ZM1542.1,514.2 1578.4,514.2 1580.8,557 1544,557ZM1720.7,514.2 1757,514.2 1761.9,557 1725.1,557ZM1899.3,514.2 1935.6,514.2 1942.9,557 1906.1,557ZM2077.9,514.2 2114.3,514.2 2123.9,557 2087.1,557ZM276.8,556.4 386,556.4 376.4,599.1 266.2,599.1ZM602.7,556.4 675.7,556.4 668.8,599.1 595.1,599.1ZM1109.5,556.4 1291.2,556.4 1290.2,599.1 1106.8,599.1ZM1326.8,556.4 1363.6,556.4 1363.3,599.1 1326.1,599.1ZM1652.6,556.4 1689.5,556.4 1692.2,599.1 1655,599.1ZM1833.7,556.4 1870.5,556.4 1874.9,599.1 1837.8,599.1ZM266.2,598.5 339.9,598.5 331.5,641.2 257.2,641.2ZM924.1,598.5 961.2,598.5 957.7,641.2 920.3,641.2ZM1070.3,598.5 1107.4,598.5 1105.1,641.2 1067.6,641.2ZM1216.5,598.5 1290.2,598.5 1289.3,641.2 1215,641.2ZM1326.1,598.5 1363.3,598.5 1363,641.2 1325.5,641.2ZM1655,598.5 1728.7,598.5 1731.4,641.2 1657.1,641.2ZM1874.3,598.5 1948,598.5 1952.4,641.2 1878.1,641.2ZM2203.3,598.5 2277,598.5 2283.9,641.2 2209.7,641.2ZM257.2,640.6 331.5,640.6 325.6,683.4 251,683.4ZM920.3,640.6 957.7,640.6 955.3,683.4 917.7,683.4ZM1030.8,640.6 1068.2,640.6 1066.4,683.4 1028.8,683.4ZM1215,640.6 1289.3,640.6 1288.7,683.4 1214,683.4ZM1325.5,640.6 1363,640.6 1362.8,683.4 1325.1,683.4ZM1657.1,640.6 1768.2,640.6 1770.2,683.4 1658.5,683.4ZM1878.1,640.6 1952.4,640.6 1955.4,683.4 1880.7,683.4ZM2209.7,640.6 2283.9,640.6 2288.8,683.4 2214.1,683.4ZM473.2,682.8 510.8,682.8 508,725.5 470.2,725.5ZM954.7,682.8 992.4,682.8 991.1,725.5 953.3,725.5ZM1214,682.8 1251.6,682.8 1251.2,725.5 1213.4,725.5ZM1288.1,682.8 1362.8,682.8 1362.6,725.5 1287.7,725.5ZM1917.8,682.8 1992.4,682.8 1994.3,725.5 1919.4,725.5ZM2103,682.8 2177.6,682.8 2180.1,725.5 2105.2,725.5ZM2288.2,682.8 2362.8,682.8 2365.9,725.5 2291,725.5ZM1956.6,724.9 1994.3,724.9 1995.2,767.6 1957.4,767.6ZM2105.2,724.9 2180.1,724.9 2181.2,767.6 2106.2,767.6ZM2328.2,724.9 2365.9,724.9 2367.3,767.6 2329.5,767.6ZM2180.6,767.1 2218.4,767.1 2217.3,809.8 2179.5,809.8ZM2292.3,767.1 2367.3,767.1 2365.9,809.8 2291,809.8ZM507.4,809.2 545.1,809.2 547.9,851.9 510.2,851.9ZM2291,809.2 2365.9,809.2 2362.8,851.9 2288.2,851.9ZM288,851.3 325.6,851.3 331.5,894.1 294,894.1ZM473.2,851.3 510.8,851.3 515.7,894.1 478.2,894.1ZM658.4,851.3 844.2,851.3 847.2,894.1 662.4,894.1ZM2140,851.3 2251.7,851.3 2247.1,894.1 2136,894.1ZM478.2,893.5 515.7,893.5 522.6,936.2 485.5,936.2ZM846.6,893.5 884.1,893.5 888.1,936.2 851,936.2ZM1693.9,893.5 1805,893.5 1801.8,936.2 1691.6,936.2ZM2099.1,893.5 2247.1,893.5 2240.4,936.2 2093.6,936.2ZM851,935.6 888.1,935.6 892.9,978.3 856.1,978.3ZM1655,935.6 1728.7,935.6 1725.7,978.3 1652.6,978.3ZM1764.7,935.6 1874.9,935.6 1870.5,978.3 1761.3,978.3ZM2130.2,935.6 2203.9,935.6 2196.3,978.3 2123.3,978.3ZM1652.6,977.7 1689.5,977.7 1685.6,1020.5 1649.3,1020.5ZM1761.3,977.7 1870.5,977.7 1864.2,1020.5 1756.4,1020.5ZM1906.1,977.7 1942.9,977.7 1935.6,1020.5 1899.3,1020.5ZM1685,1019.9 1721.3,1019.9 1715.5,1062.6 1679.8,1062.6ZM1756.4,1019.9 1899.9,1019.9 1890.9,1062.6 1750,1062.6ZM1970.8,1019.9 2042.8,1019.9 2031.2,1062.6 1960.5,1062.6ZM1364.1,1062 1434.9,1062 1434.1,1104.6 1364.9,1104.6ZM1855.2,1062 1890.9,1062 1879.9,1104.6 1845,1104.6ZM1960.5,1062 2031.2,1062 2017.1,1104.6 1947.9,1104.6ZM1330.6,1104 1434.1,1104 1433.1,1146.3 1332.5,1146.3ZM1810.7,1104 1845.6,1104 1833.3,1146.3 1799.4,1146.3ZM1913.6,1104 2017.1,1104 2000.1,1146.3 1899.4,1146.3ZM1432.5,1145.7 1533.2,1145.7 1529,1187.4 1431.5,1187.4ZM1766,1145.7 1800,1145.7 1787.3,1187.4 1754.5,1187.4ZM1899.4,1145.7 2033.4,1145.7 2013.4,1187.4 1883.6,1187.4ZM1754.5,1186.8 1787.3,1186.8 1772.7,1227.7 1741,1227.7ZM1915.9,1186.8 2013.4,1186.8 1990.2,1227.7 1896.3,1227.7Z" fill="#fff2f2"/>
<path d="M1123.6,159.7 1224.4,159.7 1212.6,194.4 1105.1,194.4ZM1051.6,193.8 1078.9,193.8 1060.6,230.5 1031.7,230.5ZM1212,193.8 1239.4,193.8 1230.2,230.5 1201.3,230.5ZM1031.7,229.9 1060.6,229.9 1043.2,268.4 1012.9,268.4ZM1201.3,229.9 1230.2,229.9 1221.5,268.4 1191.2,268.4ZM1042.6,267.8 1072.9,267.8 1058,307.6 1026.3,307.6ZM1161.5,267.8 1221.5,267.8 1213.4,307.6 1150.6,307.6ZM684.6,307 716.2,307 689.3,347.9 656.4,347.9ZM746.7,307 778.4,307 753.9,347.9 721,347.9ZM1057.4,307 1089.1,307 1076.8,347.9 1043.9,347.9ZM1150.6,307 1213.4,307 1206,347.9 1140.8,347.9ZM624.1,347.3 657,347.3 632.8,389 598.8,389ZM753.3,347.3 786.2,347.3 766.2,389 732.2,389ZM1076.2,347.3 1173.7,347.3 1166.4,389 1065.7,389ZM1593,347.3 1625.9,347.3 1633.2,389 1599.3,389ZM1657.6,347.3 1690.5,347.3 1699.9,389 1666,389ZM198.7,388.4 366,388.4 336.7,430.7 164.6,430.7ZM598.8,388.4 632.8,388.4 611,430.7 576.1,430.7ZM732.2,388.4 766.2,388.4 748.2,430.7 713.3,430.7ZM1032.4,388.4 1066.3,388.4 1056.9,430.7 1022,430.7ZM1099.1,388.4 1199.7,388.4 1194,430.7 1090.6,430.7ZM1532.6,388.4 1599.9,388.4 1605.6,430.7 1536.4,430.7ZM1699.3,388.4 1733.3,388.4 1742.7,430.7 1707.8,430.7ZM2566.4,388.4 2600.3,388.4 2634.4,430.7 2599.5,430.7ZM164.6,430.1 336.7,430.1 312.4,472.7 136.4,472.7ZM679,430.1 713.9,430.1 698.2,472.7 662.5,472.7ZM1056.3,430.1 1125.4,430.1 1119.2,472.7 1048.4,472.7ZM1193.4,430.1 1228.3,430.1 1224.4,472.7 1188.7,472.7ZM1570.7,430.1 1639.9,430.1 1645.4,472.7 1574.6,472.7ZM1707.8,430.1 1742.7,430.1 1750.6,472.7 1714.9,472.7ZM2599.5,430.1 2634.4,430.1 2662.6,472.7 2627,472.7ZM171.4,472.1 382.5,472.1 363.8,514.8 148.9,514.8ZM557.3,472.1 593,472.1 578.2,514.8 541.9,514.8ZM1013.3,472.1 1119.2,472.1 1114,514.8 1006.3,514.8ZM1188.7,472.1 1224.4,472.1 1221.2,514.8 1184.9,514.8ZM1574.6,472.1 1645.4,472.1 1649.9,514.8 1577.8,514.8ZM1714.9,472.1 1750.6,472.1 1757,514.8 1720.7,514.8ZM1890.3,472.1 1926,472.1 1935.6,514.8 1899.3,514.8ZM2030.6,472.1 2066.3,472.1 2078.5,514.8 2042.2,514.8ZM256.1,514.2 363.8,514.2 349.8,557 240.6,557ZM613.3,514.2 685.3,514.2 675.7,557 602.7,557ZM934.8,514.2 971.1,514.2 965.3,557 928.5,557ZM1113.4,514.2 1185.5,514.2 1182.6,557 1109.5,557ZM1577.8,514.2 1721.3,514.2 1725.7,557 1580.2,557ZM928.5,556.4 965.3,556.4 961.2,599.1 924.1,599.1ZM1073.3,556.4 1110.1,556.4 1107.4,599.1 1070.3,599.1ZM1290.6,556.4 1327.4,556.4 1326.7,599.1 1289.6,599.1ZM1942.3,556.4 1979.1,556.4 1984.6,599.1 1947.4,599.1ZM960.6,598.5 997.8,598.5 994.6,641.2 957.1,641.2ZM1033.7,598.5 1070.9,598.5 1068.2,641.2 1030.8,641.2ZM1289.6,598.5 1326.7,598.5 1326.1,641.2 1288.7,641.2ZM957.1,640.6 1031.4,640.6 1029.4,683.4 954.7,683.4ZM1288.7,640.6 1326.1,640.6 1325.7,683.4 1288.1,683.4ZM2177,682.8 2288.8,682.8 2291.6,725.5 2179.5,725.5ZM2179.5,724.9 2217.3,724.9 2218.4,767.6 2180.6,767.6ZM2253.9,724.9 2328.8,724.9 2330.1,767.6 2255.1,767.6ZM662.4,893.5 847.2,893.5 851.6,936.2 668.2,936.2ZM631.7,935.6 705.4,935.6 711.9,978.3 638.9,978.3ZM814.4,935.6 851.6,935.6 856.7,978.3 819.9,978.3ZM1728.1,935.6 1765.3,935.6 1761.9,978.3 1725.1,978.3ZM638.9,977.7 711.9,977.7 721.1,1020.5 649,1020.5ZM819.9,977.7 856.7,977.7 864,1020.5 827.6,1020.5ZM1688.9,977.7 1761.9,977.7 1757,1020.5 1685,1020.5ZM1869.9,977.7 1906.7,977.7 1899.9,1020.5 1863.6,1020.5ZM684.7,1019.9 721.1,1019.9 733.3,1062.6 697.6,1062.6ZM791.9,1019.9 828.2,1019.9 838.5,1062.6 802.9,1062.6ZM1720.7,1019.9 1757,1019.9 1750.6,1062.6 1714.9,1062.6ZM1899.3,1019.9 1971.4,1019.9 1961.1,1062.6 1890.3,1062.6ZM732.7,1062 803.5,1062 816.8,1104.6 747.6,1104.6ZM1890.3,1062 1961.1,1062 1948.5,1104.6 1879.3,1104.6ZM1845,1104 1914.2,1104 1900,1146.3 1832.7,1146.3ZM1799.4,1145.7 1900,1145.7 1884.2,1187.4 1786.7,1187.4ZM1786.7,1186.8 1916.5,1186.8 1896.9,1227.7 1772.1,1227.7Z" fill="#ffe6e6"/>
<path d="M1724.9,159.7 1800.6,159.7 1827.6,194.4 1746.8,194.4ZM1746.8,193.8 1800.9,193.8 1823.8,230.5 1766.7,230.5ZM1484,229.9 1569.4,229.9 1578.1,268.4 1488.4,268.4ZM1766.7,229.9 1795.6,229.9 1815.8,268.4 1785.5,268.4ZM1488.4,267.8 1518.7,267.8 1524.1,307.6 1492.4,307.6ZM1845,267.8 1875.3,267.8 1896.9,307.6 1865.3,307.6ZM902.1,307 933.7,307 915.4,347.9 882.5,347.9ZM1865.3,307 1896.9,307 1916.5,347.9 1883.6,347.9ZM1431.5,347.3 1464.4,347.3 1466.5,389 1432.5,389ZM1948.2,347.3 1981.1,347.3 2000.1,389 1966.1,389ZM865.6,388.4 932.9,388.4 919.7,430.7 850.5,430.7ZM1332.5,388.4 1366.5,388.4 1365.5,430.7 1330.6,430.7ZM2099.5,388.4 2166.8,388.4 2188.6,430.7 2119.4,430.7ZM2333,388.4 2366.9,388.4 2394.3,430.7 2359.4,430.7ZM884.8,430.1 919.7,430.1 908.7,472.7 873,472.7ZM2320.2,893.5 2357.6,893.5 2350.1,936.2 2312.9,936.2ZM2393.9,893.5 2431.3,893.5 2423.2,936.2 2386,936.2ZM2276.4,935.6 2350.1,935.6 2341.2,978.3 2268.2,978.3ZM2386,935.6 2423.2,935.6 2413.6,978.3 2376.8,978.3ZM1507.8,977.7 1580.8,977.7 1578.4,1020.5 1506.4,1020.5ZM1542.1,1019.9 1578.4,1019.9 1575.2,1062.6 1539.5,1062.6ZM2613.8,1019.9 2650.1,1019.9 2627.6,1062.6 2591.9,1062.6ZM2627,1062 2662.6,1062 2634.4,1104.6 2599.5,1104.6Z" fill="#aaaaff"/>
<path d="M1800,159.7 1850.7,159.7 1881.1,194.4 1827,194.4ZM2219,229.9 2247.9,229.9 2291.3,268.4 2261,268.4ZM2320.4,267.8 2380.5,267.8 2425.2,307.6 2362.4,307.6ZM1896.3,307 1928,307 1948.8,347.9 1915.9,347.9ZM2362.4,307 2394.1,307 2433.3,347.9 2400.4,347.9ZM882.5,347.3 947.7,347.3 932.9,389 865.6,389ZM1980.5,347.3 2013.4,347.3 2033.4,389 1999.5,389ZM2368.1,347.3 2401,347.3 2433.6,389 2399.7,389ZM1365.9,388.4 1399.8,388.4 1399.8,430.7 1364.9,430.7ZM2166.2,388.4 2266.9,388.4 2291.4,430.7 2188,430.7ZM2357,893.5 2394.5,893.5 2386.6,936.2 2349.5,936.2ZM2349.5,935.6 2386.6,935.6 2377.4,978.3 2340.6,978.3Z" fill="#9595ff"/>
<path d="M1850.1,159.7 1950.9,159.7 1988.1,194.4 1880.5,194.4ZM1800.3,193.8 1854.4,193.8 1880.4,230.5 1823.2,230.5ZM1795,229.9 1852.1,229.9 1875.3,268.4 1815.2,268.4ZM2190.7,229.9 2219.6,229.9 2261.6,268.4 2231.3,268.4ZM1874.7,267.8 1905,267.8 1928,307.6 1896.3,307.6ZM1927.4,307 1959.1,307 1981.1,347.9 1948.2,347.9ZM2012.8,347.3 2078,347.3 2100.1,389 2032.8,389ZM2266.3,388.4 2333.6,388.4 2360,430.7 2290.8,430.7Z" fill="#8484ff"/>
<path d="M1078.3,193.8 1105.7,193.8 1088.8,230.5 1060,230.5ZM1185.3,193.8 1212.6,193.8 1201.9,230.5 1173,230.5ZM1060,229.9 1117.1,229.9 1102.6,268.4 1042.6,268.4ZM1173,229.9 1201.9,229.9 1191.8,268.4 1161.5,268.4ZM1072.3,267.8 1162.1,267.8 1151.2,307.6 1057.4,307.6ZM715.6,307 747.3,307 721.6,347.9 688.7,347.9ZM1088.5,307 1151.2,307 1141.4,347.9 1076.2,347.9ZM656.4,347.3 689.3,347.3 666.1,389 632.2,389ZM1625.3,347.3 1658.2,347.3 1666.6,389 1632.6,389ZM1065.7,388.4 1099.7,388.4 1091.2,430.7 1056.3,430.7ZM1599.3,388.4 1633.2,388.4 1639.9,430.7 1605,430.7ZM576.1,430.1 611,430.1 593,472.7 557.3,472.7ZM1124.8,430.1 1194,430.1 1189.3,472.7 1118.6,472.7ZM592.4,472.1 663.1,472.1 649.6,514.8 577.6,514.8ZM1118.6,472.1 1189.3,472.1 1185.5,514.8 1113.4,514.8ZM1644.8,472.1 1715.5,472.1 1721.3,514.8 1649.3,514.8ZM1925.4,472.1 1961.1,472.1 1971.4,514.8 1935,514.8ZM970.5,514.2 1006.9,514.2 1001.5,557 964.7,557ZM1077.7,514.2 1114,514.2 1110.1,557 1073.3,557ZM1935,514.2 1971.4,514.2 1979.1,557 1942.3,557ZM2042.2,514.2 2078.5,514.2 2087.7,557 2050.9,557ZM964.7,556.4 1001.5,556.4 997.8,599.1 960.6,599.1ZM2050.9,556.4 2087.7,556.4 2094.2,599.1 2057.1,599.1ZM997.2,598.5 1034.3,598.5 1031.4,641.2 994,641.2ZM704.8,935.6 815,935.6 820.5,978.3 711.3,978.3ZM711.3,977.7 820.5,977.7 828.2,1020.5 720.5,1020.5ZM720.5,1019.9 792.5,1019.9 803.5,1062.6 732.7,1062.6Z" fill="#ffd4d4"/>
<path d="M1105.1,193.8 1185.9,193.8 1173.6,230.5 1088.2,230.5ZM721,347.3 753.9,347.3 732.8,389 698.9,389ZM632.2,388.4 666.1,388.4 645.3,430.7 610.4,430.7ZM698.9,388.4 732.8,388.4 713.9,430.7 679,430.7ZM1666,388.4 1699.9,388.4 1708.4,430.7 1673.6,430.7ZM610.4,430.1 679.6,430.1 663.1,472.7 592.4,472.7ZM1639.3,430.1 1708.4,430.1 1715.5,472.7 1644.8,472.7ZM1960.5,472.1 2031.2,472.1 2042.8,514.8 1970.8,514.8ZM1006.3,514.2 1078.3,514.2 1073.9,557 1000.9,557ZM1970.8,514.2 2007.1,514.2 2015.3,557 1978.5,557ZM1000.9,556.4 1073.9,556.4 1070.9,599.1 997.2,599.1ZM1978.5,556.4 2015.3,556.4 2021.1,599.1 1984,599.1Z" fill="#ffbfbf"/>
<path d="M1853.8,193.8 2014.8,193.8 2050,230.5 1879.8,230.5ZM1851.5,229.9 1880.4,229.9 1905,268.4 1874.7,268.4ZM2077.7,229.9 2134.8,229.9 2172.4,268.4 2112.4,268.4ZM2231.3,267.8 2291.3,267.8 2331.9,307.6 2269.2,307.6ZM1989.6,307 2021.2,307 2045.7,347.9 2012.8,347.9ZM2142,347.3 2207.2,347.3 2233.5,389 2166.2,389Z" fill="#5959ff"/>
<path d="M1116.5,229.9 1173.6,229.9 1162.1,268.4 1102,268.4ZM688.7,347.3 721.6,347.3 699.5,389 665.5,389ZM665.5,388.4 699.5,388.4 679.6,430.7 644.7,430.7ZM1632.6,388.4 1666.6,388.4 1674.2,430.7 1639.3,430.7ZM2006.5,514.2 2042.8,514.2 2051.5,557 2014.7,557ZM2014.7,556.4 2051.5,556.4 2057.7,599.1 2020.5,599.1Z" fill="#ffaaaa"/>
<path d="M1879.8,229.9 1908.6,229.9 1934.7,268.4 1904.4,268.4ZM2049.4,229.9 2078.3,229.9 2113,268.4 2082.7,268.4ZM1934.1,267.8 1964.4,267.8 1990.2,307.6 1958.5,307.6ZM2020.6,307 2083.4,307 2110.3,347.9 2045.1,347.9ZM2300.3,307 2331.9,307 2368.7,347.9 2335.8,347.9ZM2206.6,347.3 2271.8,347.3 2300.2,389 2232.9,389ZM2303.5,347.3 2336.4,347.3 2366.9,389 2333,389Z" fill="#4848ff"/>
<path d="M1908,229.9 2050,229.9 2083.3,268.4 1934.1,268.4ZM1963.8,267.8 2231.9,267.8 2269.8,307.6 1989.6,307.6ZM2082.8,307 2176.6,307 2207.2,347.9 2109.7,347.9ZM2271.2,347.3 2304.1,347.3 2333.6,389 2299.6,389Z" fill="#3737ff"/>
<path d="M2134.2,229.9 2191.3,229.9 2231.9,268.4 2171.8,268.4ZM1904.4,267.8 1934.7,267.8 1959.1,307.6 1927.4,307.6ZM2290.7,267.8 2321,267.8 2363,307.6 2331.3,307.6ZM1958.5,307 1990.2,307 2013.4,347.9 1980.5,347.9ZM2331.3,307 2363,307 2401,347.9 2368.1,347.9ZM2077.4,347.3 2142.6,347.3 2166.8,389 2099.5,389ZM2335.8,347.3 2368.7,347.3 2400.3,389 2366.3,389Z" fill="#6e6eff"/>
<path d="M2176,307 2300.9,307 2336.4,347.9 2206.6,347.9Z" fill="#2828ff"/>
<path d="M706.4,1447 654.3,1430.8 590.3,1405.8 522.7,1374.7 463.6,1340.6 410.1,1304.5 359.4,1266.6 312,1227.4 269.2,1187.1 232.3,1146 199.2,1104.3 171.7,1062.3 149.2,1020.2 132.3,978 120.3,935.9 110.1,893.8 103.1,851.6 98.9,809.5 97.1,767.4 98.9,725.2 103.1,683.1 110.1,640.9 120.3,598.8 132.3,556.7 149.2,514.5 171.7,472.4 199.2,430.4 232.3,388.7 269.2,347.6 312,307.3 359.4,268.1 410.1,230.2 463.6,194.1 522.7,160 590.3,128.9 654.3,103.9 706.4,87.7M726.2,1447 675.6,1430.8 613.4,1405.8 547.8,1374.7 490.3,1340.6 438.3,1304.5 389.1,1266.6 343.1,1227.4 301.5,1187.1 265.6,1146 233.5,1104.3 206.8,1062.3 184.9,1020.2 168.5,978 156.8,935.9 147,893.8 140.1,851.6 136.1,809.5 134.3,767.4 136.1,725.2 140.1,683.1 147,640.9 156.8,598.8 168.5,556.7 184.9,514.5 206.8,472.4 233.5,430.4 265.6,388.7 301.5,347.6 343.1,307.3 389.1,268.1 438.3,230.2 490.3,194.1 547.8,160 613.4,128.9 675.6,103.9 726.2,87.7M746,1447 696.9,1430.8 636.6,1405.8 572.8,1374.7 517.1,1340.6 466.6,1304.5 418.8,1266.6 374.1,1227.4 333.7,1187.1 299,1146 267.8,1104.3 241.9,1062.3 220.7,1020.2 204.7,978 193.4,935.9 183.8,893.8 177.2,851.6 173.3,809.5 171.5,767.4 173.3,725.2 177.2,683.1 183.8,640.9 193.4,598.8 204.7,556.7 220.7,514.5 241.9,472.4 267.8,430.4 299,388.7 333.7,347.6 374.1,307.3 418.8,268.1 466.6,230.2 517.1,194.1 572.8,160 636.6,128.9 696.9,103.9 746,87.7M765.8,1447 718.1,1430.8 659.7,1405.8 597.9,1374.7 543.8,1340.6 494.9,1304.5 448.6,1266.6 405.2,1227.4 366,1187.1 332.3,1146 302.1,1104.3 277,1062.3 256.4,1020.2 240.9,978 229.9,935.9 220.7,893.8 214.2,851.6 210.4,809.5 208.7,767.4 210.4,725.2 214.2,683.1 220.7,640.9 229.9,598.8 240.9,556.7 256.4,514.5 277,472.4 302.1,430.4 332.3,388.7 366,347.6 405.2,307.3 448.6,268.1 494.9,230.2 543.8,194.1 597.9,160 659.7,128.9 718.1,103.9 765.8,87.7M785.6,1447 739.4,1430.8 682.8,1405.8 622.9,1374.7 570.6,1340.6 523.2,1304.5 478.3,1266.6 436.3,1227.4 398.3,1187.1 365.7,1146 336.4,1104.3 312.1,1062.3 292.1,1020.2 277.1,978 266.5,935.9 257.5,893.8 251.3,851.6 247.6,809.5 246,767.4 247.6,725.2 251.3,683.1 257.5,640.9 266.5,598.8 277.1,556.7 292.1,514.5 312.1,472.4 336.4,430.4 365.7,388.7 398.3,347.6 436.3,307.3 478.3,268.1 523.2,230.2 570.6,194.1 622.9,160 682.8,128.9 739.4,103.9 785.6,87.7M805.4,1447 760.7,1430.8 705.9,1405.8 648,1374.7 597.3,1340.6 551.4,1304.5 508,1266.6 467.4,1227.4 430.6,1187.1 399,1146 370.7,1104.3 347.1,1062.3 327.8,1020.2 313.3,978 303,935.9 294.3,893.8 288.3,851.6 284.7,809.5 283.2,767.4 284.7,725.2 288.3,683.1 294.3,640.9 303,598.8 313.3,556.7 327.8,514.5 347.1,472.4 370.7,430.4 399,388.7 430.6,347.6 467.4,307.3 508,268.1 551.4,230.2 597.3,194.1 648,160 705.9,128.9 760.7,103.9 805.4,87.7M825.2,1447 782,1430.8 729,1405.8 673,1374.7 624,1340.6 579.7,1304.5 537.7,1266.6 498.4,1227.4 462.9,1187.1 432.4,1146 405,1104.3 382.2,1062.3 363.5,1020.2 349.5,978 339.6,935.9 331.2,893.8 325.3,851.6 321.9,809.5 320.4,767.4 321.9,725.2 325.3,683.1 331.2,640.9 339.6,598.8 349.5,556.7 363.5,514.5 382.2,472.4 405,430.4 432.4,388.7 462.9,347.6 498.4,307.3 537.7,268.1 579.7,230.2 624,194.1 673,160 729,128.9 782,103.9 825.2,87.7M845,1447 803.3,1430.8 752.2,1405.8 698.1,1374.7 650.8,1340.6 608,1304.5 567.4,1266.6 529.5,1227.4 495.2,1187.1 465.7,1146 439.3,1104.3 417.3,1062.3 399.3,1020.2 385.7,978 376.1,935.9 368,893.8 362.4,851.6 359,809.5 357.6,767.4 359,725.2 362.4,683.1 368,640.9 376.1,598.8 385.7,556.7 399.3,514.5 417.3,472.4 439.3,430.4 465.7,388.7 495.2,347.6 529.5,307.3 567.4,268.1 608,230.2 650.8,194.1 698.1,160 752.2,128.9 803.3,103.9 845,87.7M864.8,1447 824.6,1430.8 775.3,1405.8 723.1,1374.7 677.5,1340.6 636.2,1304.5 597.1,1266.6 560.6,1227.4 527.5,1187.1 499.1,1146 473.6,1104.3 452.4,1062.3 435,1020.2 421.9,978 412.7,935.9 404.8,893.8 399.4,851.6 396.2,809.5 394.8,767.4 396.2,725.2 399.4,683.1 404.8,640.9 412.7,598.8 421.9,556.7 435,514.5 452.4,472.4 473.6,430.4 499.1,388.7 527.5,347.6 560.6,307.3 597.1,268.1 636.2,230.2 677.5,194.1 723.1,160 775.3,128.9 824.6,103.9 864.8,87.7M884.6,1447 845.9,1430.8 798.4,1405.8 748.2,1374.7 704.3,1340.6 664.5,1304.5 626.9,1266.6 591.6,1227.4 559.8,1187.1 532.4,1146 507.9,1104.3 487.4,1062.3 470.7,1020.2 458.1,978 449.2,935.9 441.7,893.8 436.5,851.6 433.4,809.5 432,767.4 433.4,725.2 436.5,683.1 441.7,640.9 449.2,598.8 458.1,556.7 470.7,514.5 487.4,472.4 507.9,430.4 532.4,388.7 559.8,347.6 591.6,307.3 626.9,268.1 664.5,230.2 704.3,194.1 748.2,160 798.4,128.9 845.9,103.9 884.6,87.7M904.4,1447 867.2,1430.8 821.5,1405.8 773.2,1374.7 731,1340.6 692.8,1304.5 656.6,1266.6 622.7,1227.4 592.1,1187.1 565.8,1146 542.2,1104.3 522.5,1062.3 506.4,1020.2 494.3,978 485.8,935.9 478.5,893.8 473.5,851.6 470.5,809.5 469.2,767.4 470.5,725.2 473.5,683.1 478.5,640.9 485.8,598.8 494.3,556.7 506.4,514.5 522.5,472.4 542.2,430.4 565.8,388.7 592.1,347.6 622.7,307.3 656.6,268.1 692.8,230.2 731,194.1 773.2,160 821.5,128.9 867.2,103.9 904.4,87.7M924.2,1447 888.5,1430.8 844.6,1405.8 798.3,1374.7 757.7,1340.6 721,1304.5 686.3,1266.6 653.8,1227.4 624.4,1187.1 599.1,1146 576.4,1104.3 557.6,1062.3 542.2,1020.2 530.5,978 522.3,935.9 515.4,893.8 510.5,851.6 507.7,809.5 506.4,767.4 507.7,725.2 510.5,683.1 515.4,640.9 522.3,598.8 530.5,556.7 542.2,514.5 557.6,472.4 576.4,430.4 599.1,388.7 624.4,347.6 653.8,307.3 686.3,268.1 721,230.2 757.7,194.1 798.3,160 844.6,128.9 888.5,103.9 924.2,87.7M944,1447 909.8,1430.8 867.8,1405.8 823.3,1374.7 784.5,1340.6 749.3,1304.5 716,1266.6 684.9,1227.4 656.7,1187.1 632.5,1146 610.7,1104.3 592.7,1062.3 577.9,1020.2 566.8,978 558.9,935.9 552.2,893.8 547.6,851.6 544.8,809.5 543.6,767.4 544.8,725.2 547.6,683.1 552.2,640.9 558.9,598.8 566.8,556.7 577.9,514.5 592.7,472.4 610.7,430.4 632.5,388.7 656.7,347.6 684.9,307.3 716,268.1 749.3,230.2 784.5,194.1 823.3,160 867.8,128.9 909.8,103.9 944,87.7M963.8,1447 931.1,1430.8 890.9,1405.8 848.4,1374.7 811.2,1340.6 777.6,1304.5 745.7,1266.6 715.9,1227.4 689,1187.1 665.8,1146 645,1104.3 627.8,1062.3 613.6,1020.2 603,978 595.4,935.9 589,893.8 584.6,851.6 582,809.5 580.9,767.4 582,725.2 584.6,683.1 589,640.9 595.4,598.8 603,556.7 613.6,514.5 627.8,472.4 645,430.4 665.8,388.7 689,347.6 715.9,307.3 745.7,268.1 777.6,230.2 811.2,194.1 848.4,160 890.9,128.9 931.1,103.9 963.8,87.7M983.6,1447 952.4,1430.8 914,1405.8 873.4,1374.7 838,1340.6 805.8,1304.5 775.4,1266.6 747,1227.4 721.3,1187.1 699.2,1146 679.3,1104.3 662.8,1062.3 649.3,1020.2 639.2,978 632,935.9 625.9,893.8 621.7,851.6 619.2,809.5 618.1,767.4 619.2,725.2 621.7,683.1 625.9,640.9 632,598.8 639.2,556.7 649.3,514.5 662.8,472.4 679.3,430.4 699.2,388.7 721.3,347.6 747,307.3 775.4,268.1 805.8,230.2 838,194.1 873.4,160 914,128.9 952.4,103.9 983.6,87.7M1003.4,1447 973.7,1430.8 937.1,1405.8 898.5,1374.7 864.7,1340.6 834.1,1304.5 805.2,1266.6 778.1,1227.4 753.6,1187.1 732.5,1146 713.6,1104.3 697.9,1062.3 685,1020.2 675.4,978 668.5,935.9 662.7,893.8 658.7,851.6 656.3,809.5 655.3,767.4 656.3,725.2 658.7,683.1 662.7,640.9 668.5,598.8 675.4,556.7 685,514.5 697.9,472.4 713.6,430.4 732.5,388.7 753.6,347.6 778.1,307.3 805.2,268.1 834.1,230.2 864.7,194.1 898.5,160 937.1,128.9 973.7,103.9 1003.4,87.7M1023.2,1447 994.9,1430.8 960.2,1405.8 923.5,1374.7 891.4,1340.6 862.4,1304.5 834.9,1266.6 809.1,1227.4 785.9,1187.1 765.9,1146 747.9,1104.3 733,1062.3 720.8,1020.2 711.6,978 705.1,935.9 699.6,893.8 695.7,851.6 693.5,809.5 692.5,767.4 693.5,725.2 695.7,683.1 699.6,640.9 705.1,598.8 711.6,556.7 720.8,514.5 733,472.4 747.9,430.4 765.9,388.7 785.9,347.6 809.1,307.3 834.9,268.1 862.4,230.2 891.4,194.1 923.5,160 960.2,128.9 994.9,103.9 1023.2,87.7M1043,1447 1016.2,1430.8 983.4,1405.8 948.6,1374.7 918.2,1340.6 890.7,1304.5 864.6,1266.6 840.2,1227.4 818.2,1187.1 799.2,1146 782.2,1104.3 768.1,1062.3 756.5,1020.2 747.8,978 741.6,935.9 736.4,893.8 732.8,851.6 730.6,809.5 729.7,767.4 730.6,725.2 732.8,683.1 736.4,640.9 741.6,598.8 747.8,556.7 756.5,514.5 768.1,472.4 782.2,430.4 799.2,388.7 818.2,347.6 840.2,307.3 864.6,268.1 890.7,230.2 918.2,194.1 948.6,160 983.4,128.9 1016.2,103.9 1043,87.7M1062.8,1447 1037.5,1430.8 1006.5,1405.8 973.6,1374.7 944.9,1340.6 918.9,1304.5 894.3,1266.6 871.3,1227.4 850.5,1187.1 832.6,1146 816.5,1104.3 803.2,1062.3 792.2,1020.2 784,978 778.2,935.9 773.2,893.8 769.8,851.6 767.8,809.5 766.9,767.4 767.8,725.2 769.8,683.1 773.2,640.9 778.2,598.8 784,556.7 792.2,514.5 803.2,472.4 816.5,430.4 832.6,388.7 850.5,347.6 871.3,307.3 894.3,268.1 918.9,230.2 944.9,194.1 973.6,160 1006.5,128.9 1037.5,103.9 1062.8,87.7M1082.6,1447 1058.8,1430.8 1029.6,1405.8 998.7,1374.7 971.7,1340.6 947.2,1304.5 924,1266.6 902.4,1227.4 882.8,1187.1 865.9,1146 850.8,1104.3 838.2,1062.3 827.9,1020.2 820.2,978 814.7,935.9 810.1,893.8 806.9,851.6 805,809.5 804.1,767.4 805,725.2 806.9,683.1 810.1,640.9 814.7,598.8 820.2,556.7 827.9,514.5 838.2,472.4 850.8,430.4 865.9,388.7 882.8,347.6 902.4,307.3 924,268.1 947.2,230.2 971.7,194.1 998.7,160 1029.6,128.9 1058.8,103.9 1082.6,87.7M1102.4,1447 1080.1,1430.8 1052.7,1405.8 1023.7,1374.7 998.4,1340.6 975.5,1304.5 953.7,1266.6 933.4,1227.4 915.1,1187.1 899.3,1146 885.1,1104.3 873.3,1062.3 863.7,1020.2 856.4,978 851.3,935.9 846.9,893.8 843.9,851.6 842.1,809.5 841.3,767.4 842.1,725.2 843.9,683.1 846.9,640.9 851.3,598.8 856.4,556.7 863.7,514.5 873.3,472.4 885.1,430.4 899.3,388.7 915.1,347.6 933.4,307.3 953.7,268.1 975.5,230.2 998.4,194.1 1023.7,160 1052.7,128.9 1080.1,103.9 1102.4,87.7M1122.2,1447 1101.4,1430.8 1075.8,1405.8 1048.8,1374.7 1025.1,1340.6 1003.7,1304.5 983.5,1266.6 964.5,1227.4 947.4,1187.1 932.6,1146 919.4,1104.3 908.4,1062.3 899.4,1020.2 892.6,978 887.8,935.9 883.8,893.8 880.9,851.6 879.3,809.5 878.5,767.4 879.3,725.2 880.9,683.1 883.8,640.9 887.8,598.8 892.6,556.7 899.4,514.5 908.4,472.4 919.4,430.4 932.6,388.7 947.4,347.6 964.5,307.3 983.5,268.1 1003.7,230.2 1025.1,194.1 1048.8,160 1075.8,128.9 1101.4,103.9 1122.2,87.7M1142.1,1447 1122.7,1430.8 1098.9,1405.8 1073.8,1374.7 1051.9,1340.6 1032,1304.5 1013.2,1266.6 995.6,1227.4 979.7,1187.1 966,1146 953.7,1104.3 943.5,1062.3 935.1,1020.2 928.8,978 924.4,935.9 920.6,893.8 918,851.6 916.4,809.5 915.8,767.4 916.4,725.2 918,683.1 920.6,640.9 924.4,598.8 928.8,556.7 935.1,514.5 943.5,472.4 953.7,430.4 966,388.7 979.7,347.6 995.6,307.3 1013.2,268.1 1032,230.2 1051.9,194.1 1073.8,160 1098.9,128.9 1122.7,103.9 1142.1,87.7M1161.9,1447 1144,1430.8 1122.1,1405.8 1098.9,1374.7 1078.6,1340.6 1060.3,1304.5 1042.9,1266.6 1026.6,1227.4 1012,1187.1 999.3,1146 988,1104.3 978.6,1062.3 970.8,1020.2 965,978 960.9,935.9 957.4,893.8 955,851.6 953.6,809.5 953,767.4 953.6,725.2 955,683.1 957.4,640.9 960.9,598.8 965,556.7 970.8,514.5 978.6,472.4 988,430.4 999.3,388.7 1012,347.6 1026.6,307.3 1042.9,268.1 1060.3,230.2 1078.6,194.1 1098.9,160 1122.1,128.9 1144,103.9 1161.9,87.7M1181.7,1447 1165.3,1430.8 1145.2,1405.8 1123.9,1374.7 1105.4,1340.6 1088.5,1304.5 1072.6,1266.6 1057.7,1227.4 1044.2,1187.1 1032.7,1146 1022.3,1104.3 1013.6,1062.3 1006.6,1020.2 1001.2,978 997.5,935.9 994.3,893.8 992.1,851.6 990.8,809.5 990.2,767.4 990.8,725.2 992.1,683.1 994.3,640.9 997.5,598.8 1001.2,556.7 1006.6,514.5 1013.6,472.4 1022.3,430.4 1032.7,388.7 1044.2,347.6 1057.7,307.3 1072.6,268.1 1088.5,230.2 1105.4,194.1 1123.9,160 1145.2,128.9 1165.3,103.9 1181.7,87.7M1201.5,1447 1186.6,1430.8 1168.3,1405.8 1149,1374.7 1132.1,1340.6 1116.8,1304.5 1102.3,1266.6 1088.8,1227.4 1076.5,1187.1 1066,1146 1056.6,1104.3 1048.7,1062.3 1042.3,1020.2 1037.4,978 1034,935.9 1031.1,893.8 1029.1,851.6 1027.9,809.5 1027.4,767.4 1027.9,725.2 1029.1,683.1 1031.1,640.9 1034,598.8 1037.4,556.7 1042.3,514.5 1048.7,472.4 1056.6,430.4 1066,388.7 1076.5,347.6 1088.8,307.3 1102.3,268.1 1116.8,230.2 1132.1,194.1 1149,160 1168.3,128.9 1186.6,103.9 1201.5,87.7M1221.3,1447 1207.9,1430.8 1191.4,1405.8 1174,1374.7 1158.8,1340.6 1145.1,1304.5 1132,1266.6 1119.9,1227.4 1108.8,1187.1 1099.4,1146 1090.9,1104.3 1083.8,1062.3 1078,1020.2 1073.6,978 1070.6,935.9 1067.9,893.8 1066.1,851.6 1065.1,809.5 1064.6,767.4 1065.1,725.2 1066.1,683.1 1067.9,640.9 1070.6,598.8 1073.6,556.7 1078,514.5 1083.8,472.4 1090.9,430.4 1099.4,388.7 1108.8,347.6 1119.9,307.3 1132,268.1 1145.1,230.2 1158.8,194.1 1174,160 1191.4,128.9 1207.9,103.9 1221.3,87.7M1241.1,1447 1229.2,1430.8 1214.5,1405.8 1199.1,1374.7 1185.6,1340.6 1173.3,1304.5 1161.8,1266.6 1150.9,1227.4 1141.1,1187.1 1132.7,1146 1125.1,1104.3 1118.9,1062.3 1113.7,1020.2 1109.8,978 1107.1,935.9 1104.8,893.8 1103.2,851.6 1102.2,809.5 1101.8,767.4 1102.2,725.2 1103.2,683.1 1104.8,640.9 1107.1,598.8 1109.8,556.7 1113.7,514.5 1118.9,472.4 1125.1,430.4 1132.7,388.7 1141.1,347.6 1150.9,307.3 1161.8,268.1 1173.3,230.2 1185.6,194.1 1199.1,160 1214.5,128.9 1229.2,103.9 1241.1,87.7M1260.9,1447 1250.5,1430.8 1237.7,1405.8 1224.1,1374.7 1212.3,1340.6 1201.6,1304.5 1191.5,1266.6 1182,1227.4 1173.4,1187.1 1166.1,1146 1159.4,1104.3 1153.9,1062.3 1149.4,1020.2 1146.1,978 1143.7,935.9 1141.6,893.8 1140.2,851.6 1139.4,809.5 1139,767.4 1139.4,725.2 1140.2,683.1 1141.6,640.9 1143.7,598.8 1146.1,556.7 1149.4,514.5 1153.9,472.4 1159.4,430.4 1166.1,388.7 1173.4,347.6 1182,307.3 1191.5,268.1 1201.6,230.2 1212.3,194.1 1224.1,160 1237.7,128.9 1250.5,103.9 1260.9,87.7M1280.7,1447 1271.7,1430.8 1260.8,1405.8 1249.2,1374.7 1239.1,1340.6 1229.9,1304.5 1221.2,1266.6 1213.1,1227.4 1205.7,1187.1 1199.4,1146 1193.7,1104.3 1189,1062.3 1185.2,1020.2 1182.3,978 1180.2,935.9 1178.5,893.8 1177.3,851.6 1176.5,809.5 1176.2,767.4 1176.5,725.2 1177.3,683.1 1178.5,640.9 1180.2,598.8 1182.3,556.7 1185.2,514.5 1189,472.4 1193.7,430.4 1199.4,388.7 1205.7,347.6 1213.1,307.3 1221.2,268.1 1229.9,230.2 1239.1,194.1 1249.2,160 1260.8,128.9 1271.7,103.9 1280.7,87.7M1300.5,1447 1293,1430.8 1283.9,1405.8 1274.2,1374.7 1265.8,1340.6 1258.2,1304.5 1250.9,1266.6 1244.1,1227.4 1238,1187.1 1232.8,1146 1228,1104.3 1224.1,1062.3 1220.9,1020.2 1218.5,978 1216.8,935.9 1215.3,893.8 1214.3,851.6 1213.7,809.5 1213.4,767.4 1213.7,725.2 1214.3,683.1 1215.3,640.9 1216.8,598.8 1218.5,556.7 1220.9,514.5 1224.1,472.4 1228,430.4 1232.8,388.7 1238,347.6 1244.1,307.3 1250.9,268.1 1258.2,230.2 1265.8,194.1 1274.2,160 1283.9,128.9 1293,103.9 1300.5,87.7M1320.3,1447 1314.3,1430.8 1307,1405.8 1299.3,1374.7 1292.5,1340.6 1286.4,1304.5 1280.6,1266.6 1275.2,1227.4 1270.3,1187.1 1266.1,1146 1262.3,1104.3 1259.2,1062.3 1256.6,1020.2 1254.7,978 1253.3,935.9 1252.1,893.8 1251.3,851.6 1250.9,809.5 1250.7,767.4 1250.9,725.2 1251.3,683.1 1252.1,640.9 1253.3,598.8 1254.7,556.7 1256.6,514.5 1259.2,472.4 1262.3,430.4 1266.1,388.7 1270.3,347.6 1275.2,307.3 1280.6,268.1 1286.4,230.2 1292.5,194.1 1299.3,160 1307,128.9 1314.3,103.9 1320.3,87.7M1340.1,1447 1335.6,1430.8 1330.1,1405.8 1324.3,1374.7 1319.3,1340.6 1314.7,1304.5 1310.3,1266.6 1306.3,1227.4 1302.6,1187.1 1299.5,1146 1296.6,1104.3 1294.3,1062.3 1292.3,1020.2 1290.9,978 1289.9,935.9 1289,893.8 1288.4,851.6 1288,809.5 1287.9,767.4 1288,725.2 1288.4,683.1 1289,640.9 1289.9,598.8 1290.9,556.7 1292.3,514.5 1294.3,472.4 1296.6,430.4 1299.5,388.7 1302.6,347.6 1306.3,307.3 1310.3,268.1 1314.7,230.2 1319.3,194.1 1324.3,160 1330.1,128.9 1335.6,103.9 1340.1,87.7M1359.9,1447 1356.9,1430.8 1353.3,1405.8 1349.4,1374.7 1346,1340.6 1343,1304.5 1340.1,1266.6 1337.4,1227.4 1334.9,1187.1 1332.8,1146 1330.9,1104.3 1329.3,1062.3 1328.1,1020.2 1327.1,978 1326.4,935.9 1325.8,893.8 1325.4,851.6 1325.2,809.5 1325.1,767.4 1325.2,725.2 1325.4,683.1 1325.8,640.9 1326.4,598.8 1327.1,556.7 1328.1,514.5 1329.3,472.4 1330.9,430.4 1332.8,388.7 1334.9,347.6 1337.4,307.3 1340.1,268.1 1343,230.2 1346,194.1 1349.4,160 1353.3,128.9 1356.9,103.9 1359.9,87.7M1379.7,1447 1378.2,1430.8 1376.4,1405.8 1374.4,1374.7 1372.8,1340.6 1371.2,1304.5 1369.8,1266.6 1368.4,1227.4 1367.2,1187.1 1366.2,1146 1365.2,1104.3 1364.4,1062.3 1363.8,1020.2 1363.3,978 1363,935.9 1362.7,893.8 1362.5,851.6 1362.3,809.5 1362.3,767.4 1362.3,725.2 1362.5,683.1 1362.7,640.9 1363,598.8 1363.3,556.7 1363.8,514.5 1364.4,472.4 1365.2,430.4 1366.2,388.7 1367.2,347.6 1368.4,307.3 1369.8,268.1 1371.2,230.2 1372.8,194.1 1374.4,160 1376.4,128.9 1378.2,103.9 1379.7,87.7M1399.5,1447 1399.5,1430.8 1399.5,1405.8 1399.5,1374.7 1399.5,1340.6 1399.5,1304.5 1399.5,1266.6 1399.5,1227.4 1399.5,1187.1 1399.5,1146 1399.5,1104.3 1399.5,1062.3 1399.5,1020.2 1399.5,978 1399.5,935.9 1399.5,893.8 1399.5,851.6 1399.5,809.5 1399.5,767.4 1399.5,725.2 1399.5,683.1 1399.5,640.9 1399.5,598.8 1399.5,556.7 1399.5,514.5 1399.5,472.4 1399.5,430.4 1399.5,388.7 1399.5,347.6 1399.5,307.3 1399.5,268.1 1399.5,230.2 1399.5,194.1 1399.5,160 1399.5,128.9 1399.5,103.9 1399.5,87.7M1419.3,1447 1420.8,1430.8 1422.6,1405.8 1424.6,1374.7 1426.2,1340.6 1427.8,1304.5 1429.2,1266.6 1430.6,1227.4 1431.8,1187.1 1432.8,1146 1433.8,1104.3 1434.6,1062.3 1435.2,1020.2 1435.7,978 1436,935.9 1436.3,893.8 1436.5,851.6 1436.7,809.5 1436.7,767.4 1436.7,725.2 1436.5,683.1 1436.3,640.9 1436,598.8 1435.7,556.7 1435.2,514.5 1434.6,472.4 1433.8,430.4 1432.8,388.7 1431.8,347.6 1430.6,307.3 1429.2,268.1 1427.8,230.2 1426.2,194.1 1424.6,160 1422.6,128.9 1420.8,103.9 1419.3,87.7M1439.1,1447 1442.1,1430.8 1445.7,1405.8 1449.6,1374.7 1453,1340.6 1456,1304.5 1458.9,1266.6 1461.6,1227.4 1464.1,1187.1 1466.2,1146 1468.1,1104.3 1469.7,1062.3 1470.9,1020.2 1471.9,978 1472.6,935.9 1473.2,893.8 1473.6,851.6 1473.8,809.5 1473.9,767.4 1473.8,725.2 1473.6,683.1 1473.2,640.9 1472.6,598.8 1471.9,556.7 1470.9,514.5 1469.7,472.4 1468.1,430.4 1466.2,388.7 1464.1,347.6 1461.6,307.3 1458.9,268.1 1456,230.2 1453,194.1 1449.6,160 1445.7,128.9 1442.1,103.9 1439.1,87.7M1458.9,1447 1463.4,1430.8 1468.9,1405.8 1474.7,1374.7 1479.7,1340.6 1484.3,1304.5 1488.7,1266.6 1492.7,1227.4 1496.4,1187.1 1499.5,1146 1502.4,1104.3 1504.7,1062.3 1506.7,1020.2 1508.1,978 1509.1,935.9 1510,893.8 1510.6,851.6 1511,809.5 1511.1,767.4 1511,725.2 1510.6,683.1 1510,640.9 1509.1,598.8 1508.1,556.7 1506.7,514.5 1504.7,472.4 1502.4,430.4 1499.5,388.7 1496.4,347.6 1492.7,307.3 1488.7,268.1 1484.3,230.2 1479.7,194.1 1474.7,160 1468.9,128.9 1463.4,103.9 1458.9,87.7M1478.7,1447 1484.7,1430.8 1492,1405.8 1499.7,1374.7 1506.5,1340.6 1512.6,1304.5 1518.4,1266.6 1523.8,1227.4 1528.7,1187.1 1532.9,1146 1536.7,1104.3 1539.8,1062.3 1542.4,1020.2 1544.3,978 1545.7,935.9 1546.9,893.8 1547.7,851.6 1548.1,809.5 1548.3,767.4 1548.1,725.2 1547.7,683.1 1546.9,640.9 1545.7,598.8 1544.3,556.7 1542.4,514.5 1539.8,472.4 1536.7,430.4 1532.9,388.7 1528.7,347.6 1523.8,307.3 1518.4,268.1 1512.6,230.2 1506.5,194.1 1499.7,160 1492,128.9 1484.7,103.9 1478.7,87.7M1498.5,1447 1506,1430.8 1515.1,1405.8 1524.8,1374.7 1533.2,1340.6 1540.8,1304.5 1548.1,1266.6 1554.9,1227.4 1561,1187.1 1566.2,1146 1571,1104.3 1574.9,1062.3 1578.1,1020.2 1580.5,978 1582.2,935.9 1583.7,893.8 1584.7,851.6 1585.3,809.5 1585.6,767.4 1585.3,725.2 1584.7,683.1 1583.7,640.9 1582.2,598.8 1580.5,556.7 1578.1,514.5 1574.9,472.4 1571,430.4 1566.2,388.7 1561,347.6 1554.9,307.3 1548.1,268.1 1540.8,230.2 1533.2,194.1 1524.8,160 1515.1,128.9 1506,103.9 1498.5,87.7M1518.3,1447 1527.3,1430.8 1538.2,1405.8 1549.8,1374.7 1559.9,1340.6 1569.1,1304.5 1577.8,1266.6 1585.9,1227.4 1593.3,1187.1 1599.6,1146 1605.3,1104.3 1610,1062.3 1613.8,1020.2 1616.7,978 1618.8,935.9 1620.5,893.8 1621.7,851.6 1622.5,809.5 1622.8,767.4 1622.5,725.2 1621.7,683.1 1620.5,640.9 1618.8,598.8 1616.7,556.7 1613.8,514.5 1610,472.4 1605.3,430.4 1599.6,388.7 1593.3,347.6 1585.9,307.3 1577.8,268.1 1569.1,230.2 1559.9,194.1 1549.8,160 1538.2,128.9 1527.3,103.9 1518.3,87.7M1538.1,1447 1548.5,1430.8 1561.3,1405.8 1574.9,1374.7 1586.7,1340.6 1597.4,1304.5 1607.5,1266.6 1617,1227.4 1625.6,1187.1 1632.9,1146 1639.6,1104.3 1645.1,1062.3 1649.6,1020.2 1652.9,978 1655.3,935.9 1657.4,893.8 1658.8,851.6 1659.6,809.5 1660,767.4 1659.6,725.2 1658.8,683.1 1657.4,640.9 1655.3,598.8 1652.9,556.7 1649.6,514.5 1645.1,472.4 1639.6,430.4 1632.9,388.7 1625.6,347.6 1617,307.3 1607.5,268.1 1597.4,230.2 1586.7,194.1 1574.9,160 1561.3,128.9 1548.5,103.9 1538.1,87.7M1557.9,1447 1569.8,1430.8 1584.5,1405.8 1599.9,1374.7 1613.4,1340.6 1625.7,1304.5 1637.2,1266.6 1648.1,1227.4 1657.9,1187.1 1666.3,1146 1673.9,1104.3 1680.1,1062.3 1685.3,1020.2 1689.2,978 1691.9,935.9 1694.2,893.8 1695.8,851.6 1696.8,809.5 1697.2,767.4 1696.8,725.2 1695.8,683.1 1694.2,640.9 1691.9,598.8 1689.2,556.7 1685.3,514.5 1680.1,472.4 1673.9,430.4 1666.3,388.7 1657.9,347.6 1648.1,307.3 1637.2,268.1 1625.7,230.2 1613.4,194.1 1599.9,160 1584.5,128.9 1569.8,103.9 1557.9,87.7M1577.7,1447 1591.1,1430.8 1607.6,1405.8 1625,1374.7 1640.2,1340.6 1653.9,1304.5 1667,1266.6 1679.1,1227.4 1690.2,1187.1 1699.6,1146 1708.1,1104.3 1715.2,1062.3 1721,1020.2 1725.4,978 1728.4,935.9 1731.1,893.8 1732.9,851.6 1733.9,809.5 1734.4,767.4 1733.9,725.2 1732.9,683.1 1731.1,640.9 1728.4,598.8 1725.4,556.7 1721,514.5 1715.2,472.4 1708.1,430.4 1699.6,388.7 1690.2,347.6 1679.1,307.3 1667,268.1 1653.9,230.2 1640.2,194.1 1625,160 1607.6,128.9 1591.1,103.9 1577.7,87.7M1597.5,1447 1612.4,1430.8 1630.7,1405.8 1650,1374.7 1666.9,1340.6 1682.2,1304.5 1696.7,1266.6 1710.2,1227.4 1722.5,1187.1 1733,1146 1742.4,1104.3 1750.3,1062.3 1756.7,1020.2 1761.6,978 1765,935.9 1767.9,893.8 1769.9,851.6 1771.1,809.5 1771.6,767.4 1771.1,725.2 1769.9,683.1 1767.9,640.9 1765,598.8 1761.6,556.7 1756.7,514.5 1750.3,472.4 1742.4,430.4 1733,388.7 1722.5,347.6 1710.2,307.3 1696.7,268.1 1682.2,230.2 1666.9,194.1 1650,160 1630.7,128.9 1612.4,103.9 1597.5,87.7M1617.3,1447 1633.7,1430.8 1653.8,1405.8 1675.1,1374.7 1693.6,1340.6 1710.5,1304.5 1726.4,1266.6 1741.3,1227.4 1754.8,1187.1 1766.3,1146 1776.7,1104.3 1785.4,1062.3 1792.4,1020.2 1797.8,978 1801.5,935.9 1804.7,893.8 1806.9,851.6 1808.2,809.5 1808.8,767.4 1808.2,725.2 1806.9,683.1 1804.7,640.9 1801.5,598.8 1797.8,556.7 1792.4,514.5 1785.4,472.4 1776.7,430.4 1766.3,388.7 1754.8,347.6 1741.3,307.3 1726.4,268.1 1710.5,230.2 1693.6,194.1 1675.1,160 1653.8,128.9 1633.7,103.9 1617.3,87.7M1637.1,1447 1655,1430.8 1676.9,1405.8 1700.1,1374.7 1720.4,1340.6 1738.7,1304.5 1756.1,1266.6 1772.4,1227.4 1787,1187.1 1799.7,1146 1811,1104.3 1820.4,1062.3 1828.2,1020.2 1834,978 1838.1,935.9 1841.6,893.8 1844,851.6 1845.4,809.5 1846,767.4 1845.4,725.2 1844,683.1 1841.6,640.9 1838.1,598.8 1834,556.7 1828.2,514.5 1820.4,472.4 1811,430.4 1799.7,388.7 1787,347.6 1772.4,307.3 1756.1,268.1 1738.7,230.2 1720.4,194.1 1700.1,160 1676.9,128.9 1655,103.9 1637.1,87.7M1656.9,1447 1676.3,1430.8 1700.1,1405.8 1725.2,1374.7 1747.1,1340.6 1767,1304.5 1785.8,1266.6 1803.4,1227.4 1819.3,1187.1 1833,1146 1845.3,1104.3 1855.5,1062.3 1863.9,1020.2 1870.2,978 1874.6,935.9 1878.4,893.8 1881,851.6 1882.6,809.5 1883.2,767.4 1882.6,725.2 1881,683.1 1878.4,640.9 1874.6,598.8 1870.2,556.7 1863.9,514.5 1855.5,472.4 1845.3,430.4 1833,388.7 1819.3,347.6 1803.4,307.3 1785.8,268.1 1767,230.2 1747.1,194.1 1725.2,160 1700.1,128.9 1676.3,103.9 1656.9,87.7M1676.8,1447 1697.6,1430.8 1723.2,1405.8 1750.2,1374.7 1773.9,1340.6 1795.3,1304.5 1815.5,1266.6 1834.5,1227.4 1851.6,1187.1 1866.4,1146 1879.6,1104.3 1890.6,1062.3 1899.6,1020.2 1906.4,978 1911.2,935.9 1915.2,893.8 1918.1,851.6 1919.7,809.5 1920.5,767.4 1919.7,725.2 1918.1,683.1 1915.2,640.9 1911.2,598.8 1906.4,556.7 1899.6,514.5 1890.6,472.4 1879.6,430.4 1866.4,388.7 1851.6,347.6 1834.5,307.3 1815.5,268.1 1795.3,230.2 1773.9,194.1 1750.2,160 1723.2,128.9 1697.6,103.9 1676.8,87.7M1696.6,1447 1718.9,1430.8 1746.3,1405.8 1775.3,1374.7 1800.6,1340.6 1823.5,1304.5 1845.3,1266.6 1865.6,1227.4 1883.9,1187.1 1899.7,1146 1913.9,1104.3 1925.7,1062.3 1935.3,1020.2 1942.6,978 1947.7,935.9 1952.1,893.8 1955.1,851.6 1956.9,809.5 1957.7,767.4 1956.9,725.2 1955.1,683.1 1952.1,640.9 1947.7,598.8 1942.6,556.7 1935.3,514.5 1925.7,472.4 1913.9,430.4 1899.7,388.7 1883.9,347.6 1865.6,307.3 1845.3,268.1 1823.5,230.2 1800.6,194.1 1775.3,160 1746.3,128.9 1718.9,103.9 1696.6,87.7M1716.4,1447 1740.2,1430.8 1769.4,1405.8 1800.3,1374.7 1827.3,1340.6 1851.8,1304.5 1875,1266.6 1896.6,1227.4 1916.2,1187.1 1933.1,1146 1948.2,1104.3 1960.8,1062.3 1971.1,1020.2 1978.8,978 1984.3,935.9 1988.9,893.8 1992.1,851.6 1994,809.5 1994.9,767.4 1994,725.2 1992.1,683.1 1988.9,640.9 1984.3,598.8 1978.8,556.7 1971.1,514.5 1960.8,472.4 1948.2,430.4 1933.1,388.7 1916.2,347.6 1896.6,307.3 1875,268.1 1851.8,230.2 1827.3,194.1 1800.3,160 1769.4,128.9 1740.2,103.9 1716.4,87.7M1736.2,1447 1761.5,1430.8 1792.5,1405.8 1825.4,1374.7 1854.1,1340.6 1880.1,1304.5 1904.7,1266.6 1927.7,1227.4 1948.5,1187.1 1966.4,1146 1982.5,1104.3 1995.8,1062.3 2006.8,1020.2 2015,978 2020.8,935.9 2025.8,893.8 2029.2,851.6 2031.2,809.5 2032.1,767.4 2031.2,725.2 2029.2,683.1 2025.8,640.9 2020.8,598.8 2015,556.7 2006.8,514.5 1995.8,472.4 1982.5,430.4 1966.4,388.7 1948.5,347.6 1927.7,307.3 1904.7,268.1 1880.1,230.2 1854.1,194.1 1825.4,160 1792.5,128.9 1761.5,103.9 1736.2,87.7M1756,1447 1782.8,1430.8 1815.6,1405.8 1850.4,1374.7 1880.8,1340.6 1908.3,1304.5 1934.4,1266.6 1958.8,1227.4 1980.8,1187.1 1999.8,1146 2016.8,1104.3 2030.9,1062.3 2042.5,1020.2 2051.2,978 2057.4,935.9 2062.6,893.8 2066.2,851.6 2068.4,809.5 2069.3,767.4 2068.4,725.2 2066.2,683.1 2062.6,640.9 2057.4,598.8 2051.2,556.7 2042.5,514.5 2030.9,472.4 2016.8,430.4 1999.8,388.7 1980.8,347.6 1958.8,307.3 1934.4,268.1 1908.3,230.2 1880.8,194.1 1850.4,160 1815.6,128.9 1782.8,103.9 1756,87.7M1775.8,1447 1804.1,1430.8 1838.8,1405.8 1875.5,1374.7 1907.6,1340.6 1936.6,1304.5 1964.1,1266.6 1989.9,1227.4 2013.1,1187.1 2033.1,1146 2051.1,1104.3 2066,1062.3 2078.2,1020.2 2087.4,978 2093.9,935.9 2099.4,893.8 2103.3,851.6 2105.5,809.5 2106.5,767.4 2105.5,725.2 2103.3,683.1 2099.4,640.9 2093.9,598.8 2087.4,556.7 2078.2,514.5 2066,472.4 2051.1,430.4 2033.1,388.7 2013.1,347.6 1989.9,307.3 1964.1,268.1 1936.6,230.2 1907.6,194.1 1875.5,160 1838.8,128.9 1804.1,103.9 1775.8,87.7M1795.6,1447 1825.3,1430.8 1861.9,1405.8 1900.5,1374.7 1934.3,1340.6 1964.9,1304.5 1993.8,1266.6 2020.9,1227.4 2045.4,1187.1 2066.5,1146 2085.4,1104.3 2101.1,1062.3 2114,1020.2 2123.6,978 2130.5,935.9 2136.3,893.8 2140.3,851.6 2142.7,809.5 2143.7,767.4 2142.7,725.2 2140.3,683.1 2136.3,640.9 2130.5,598.8 2123.6,556.7 2114,514.5 2101.1,472.4 2085.4,430.4 2066.5,388.7 2045.4,347.6 2020.9,307.3 1993.8,268.1 1964.9,230.2 1934.3,194.1 1900.5,160 1861.9,128.9 1825.3,103.9 1795.6,87.7M1815.4,1447 1846.6,1430.8 1885,1405.8 1925.6,1374.7 1961,1340.6 1993.2,1304.5 2023.6,1266.6 2052,1227.4 2077.7,1187.1 2099.8,1146 2119.7,1104.3 2136.2,1062.3 2149.7,1020.2 2159.8,978 2167,935.9 2173.1,893.8 2177.3,851.6 2179.8,809.5 2180.9,767.4 2179.8,725.2 2177.3,683.1 2173.1,640.9 2167,598.8 2159.8,556.7 2149.7,514.5 2136.2,472.4 2119.7,430.4 2099.8,388.7 2077.7,347.6 2052,307.3 2023.6,268.1 1993.2,230.2 1961,194.1 1925.6,160 1885,128.9 1846.6,103.9 1815.4,87.7M1835.2,1447 1867.9,1430.8 1908.1,1405.8 1950.6,1374.7 1987.8,1340.6 2021.4,1304.5 2053.3,1266.6 2083.1,1227.4 2110,1187.1 2133.2,1146 2154,1104.3 2171.2,1062.3 2185.4,1020.2 2196,978 2203.6,935.9 2210,893.8 2214.4,851.6 2217,809.5 2218.1,767.4 2217,725.2 2214.4,683.1 2210,640.9 2203.6,598.8 2196,556.7 2185.4,514.5 2171.2,472.4 2154,430.4 2133.2,388.7 2110,347.6 2083.1,307.3 2053.3,268.1 2021.4,230.2 1987.8,194.1 1950.6,160 1908.1,128.9 1867.9,103.9 1835.2,87.7M1855,1447 1889.2,1430.8 1931.2,1405.8 1975.7,1374.7 2014.5,1340.6 2049.7,1304.5 2083,1266.6 2114.1,1227.4 2142.3,1187.1 2166.5,1146 2188.3,1104.3 2206.3,1062.3 2221.1,1020.2 2232.2,978 2240.1,935.9 2246.8,893.8 2251.4,851.6 2254.2,809.5 2255.4,767.4 2254.2,725.2 2251.4,683.1 2246.8,640.9 2240.1,598.8 2232.2,556.7 2221.1,514.5 2206.3,472.4 2188.3,430.4 2166.5,388.7 2142.3,347.6 2114.1,307.3 2083,268.1 2049.7,230.2 2014.5,194.1 1975.7,160 1931.2,128.9 1889.2,103.9 1855,87.7M1874.8,1447 1910.5,1430.8 1954.4,1405.8 2000.7,1374.7 2041.3,1340.6 2078,1304.5 2112.7,1266.6 2145.2,1227.4 2174.6,1187.1 2199.9,1146 2222.6,1104.3 2241.4,1062.3 2256.8,1020.2 2268.5,978 2276.7,935.9 2283.6,893.8 2288.5,851.6 2291.3,809.5 2292.6,767.4 2291.3,725.2 2288.5,683.1 2283.6,640.9 2276.7,598.8 2268.5,556.7 2256.8,514.5 2241.4,472.4 2222.6,430.4 2199.9,388.7 2174.6,347.6 2145.2,307.3 2112.7,268.1 2078,230.2 2041.3,194.1 2000.7,160 1954.4,128.9 1910.5,103.9 1874.8,87.7M1894.6,1447 1931.8,1430.8 1977.5,1405.8 2025.8,1374.7 2068,1340.6 2106.2,1304.5 2142.4,1266.6 2176.3,1227.4 2206.9,1187.1 2233.2,1146 2256.8,1104.3 2276.5,1062.3 2292.6,1020.2 2304.7,978 2313.2,935.9 2320.5,893.8 2325.5,851.6 2328.5,809.5 2329.8,767.4 2328.5,725.2 2325.5,683.1 2320.5,640.9 2313.2,598.8 2304.7,556.7 2292.6,514.5 2276.5,472.4 2256.8,430.4 2233.2,388.7 2206.9,347.6 2176.3,307.3 2142.4,268.1 2106.2,230.2 2068,194.1 2025.8,160 1977.5,128.9 1931.8,103.9 1894.6,87.7M1914.4,1447 1953.1,1430.8 2000.6,1405.8 2050.8,1374.7 2094.7,1340.6 2134.5,1304.5 2172.1,1266.6 2207.4,1227.4 2239.2,1187.1 2266.6,1146 2291.1,1104.3 2311.6,1062.3 2328.3,1020.2 2340.9,978 2349.8,935.9 2357.3,893.8 2362.5,851.6 2365.6,809.5 2367,767.4 2365.6,725.2 2362.5,683.1 2357.3,640.9 2349.8,598.8 2340.9,556.7 2328.3,514.5 2311.6,472.4 2291.1,430.4 2266.6,388.7 2239.2,347.6 2207.4,307.3 2172.1,268.1 2134.5,230.2 2094.7,194.1 2050.8,160 2000.6,128.9 1953.1,103.9 1914.4,87.7M1934.2,1447 1974.4,1430.8 2023.7,1405.8 2075.9,1374.7 2121.5,1340.6 2162.8,1304.5 2201.9,1266.6 2238.4,1227.4 2271.5,1187.1 2299.9,1146 2325.4,1104.3 2346.6,1062.3 2364,1020.2 2377.1,978 2386.3,935.9 2394.2,893.8 2399.6,851.6 2402.8,809.5 2404.2,767.4 2402.8,725.2 2399.6,683.1 2394.2,640.9 2386.3,598.8 2377.1,556.7 2364,514.5 2346.6,472.4 2325.4,430.4 2299.9,388.7 2271.5,347.6 2238.4,307.3 2201.9,268.1 2162.8,230.2 2121.5,194.1 2075.9,160 2023.7,128.9 1974.4,103.9 1934.2,87.7M1954,1447 1995.7,1430.8 2046.8,1405.8 2100.9,1374.7 2148.2,1340.6 2191,1304.5 2231.6,1266.6 2269.5,1227.4 2303.8,1187.1 2333.3,1146 2359.7,1104.3 2381.7,1062.3 2399.7,1020.2 2413.3,978 2422.9,935.9 2431,893.8 2436.6,851.6 2440,809.5 2441.4,767.4 2440,725.2 2436.6,683.1 2431,640.9 2422.9,598.8 2413.3,556.7 2399.7,514.5 2381.7,472.4 2359.7,430.4 2333.3,388.7 2303.8,347.6 2269.5,307.3 2231.6,268.1 2191,230.2 2148.2,194.1 2100.9,160 2046.8,128.9 1995.7,103.9 1954,87.7M1973.8,1447 2017,1430.8 2070,1405.8 2126,1374.7 2175,1340.6 2219.3,1304.5 2261.3,1266.6 2300.6,1227.4 2336.1,1187.1 2366.6,1146 2394,1104.3 2416.8,1062.3 2435.5,1020.2 2449.5,978 2459.4,935.9 2467.8,893.8 2473.7,851.6 2477.1,809.5 2478.6,767.4 2477.1,725.2 2473.7,683.1 2467.8,640.9 2459.4,598.8 2449.5,556.7 2435.5,514.5 2416.8,472.4 2394,430.4 2366.6,388.7 2336.1,347.6 2300.6,307.3 2261.3,268.1 2219.3,230.2 2175,194.1 2126,160 2070,128.9 2017,103.9 1973.8,87.7M1993.6,1447 2038.3,1430.8 2093.1,1405.8 2151,1374.7 2201.7,1340.6 2247.6,1304.5 2291,1266.6 2331.6,1227.4 2368.4,1187.1 2400,1146 2428.3,1104.3 2451.9,1062.3 2471.2,1020.2 2485.7,978 2496,935.9 2504.7,893.8 2510.7,851.6 2514.3,809.5 2515.8,767.4 2514.3,725.2 2510.7,683.1 2504.7,640.9 2496,598.8 2485.7,556.7 2471.2,514.5 2451.9,472.4 2428.3,430.4 2400,388.7 2368.4,347.6 2331.6,307.3 2291,268.1 2247.6,230.2 2201.7,194.1 2151,160 2093.1,128.9 2038.3,103.9 1993.6,87.7M2013.4,1447 2059.6,1430.8 2116.2,1405.8 2176.1,1374.7 2228.4,1340.6 2275.8,1304.5 2320.7,1266.6 2362.7,1227.4 2400.7,1187.1 2433.3,1146 2462.6,1104.3 2486.9,1062.3 2506.9,1020.2 2521.9,978 2532.5,935.9 2541.5,893.8 2547.7,851.6 2551.4,809.5 2553,767.4 2551.4,725.2 2547.7,683.1 2541.5,640.9 2532.5,598.8 2521.9,556.7 2506.9,514.5 2486.9,472.4 2462.6,430.4 2433.3,388.7 2400.7,347.6 2362.7,307.3 2320.7,268.1 2275.8,230.2 2228.4,194.1 2176.1,160 2116.2,128.9 2059.6,103.9 2013.4,87.7M2033.2,1447 2080.9,1430.8 2139.3,1405.8 2201.1,1374.7 2255.2,1340.6 2304.1,1304.5 2350.4,1266.6 2393.8,1227.4 2433,1187.1 2466.7,1146 2496.9,1104.3 2522,1062.3 2542.6,1020.2 2558.1,978 2569.1,935.9 2578.3,893.8 2584.8,851.6 2588.6,809.5 2590.3,767.4 2588.6,725.2 2584.8,683.1 2578.3,640.9 2569.1,598.8 2558.1,556.7 2542.6,514.5 2522,472.4 2496.9,430.4 2466.7,388.7 2433,347.6 2393.8,307.3 2350.4,268.1 2304.1,230.2 2255.2,194.1 2201.1,160 2139.3,128.9 2080.9,103.9 2033.2,87.7M2053,1447 2102.1,1430.8 2162.4,1405.8 2226.2,1374.7 2281.9,1340.6 2332.4,1304.5 2380.2,1266.6 2424.9,1227.4 2465.3,1187.1 2500,1146 2531.2,1104.3 2557.1,1062.3 2578.3,1020.2 2594.3,978 2605.6,935.9 2615.2,893.8 2621.8,851.6 2625.7,809.5 2627.5,767.4 2625.7,725.2 2621.8,683.1 2615.2,640.9 2605.6,598.8 2594.3,556.7 2578.3,514.5 2557.1,472.4 2531.2,430.4 2500,388.7 2465.3,347.6 2424.9,307.3 2380.2,268.1 2332.4,230.2 2281.9,194.1 2226.2,160 2162.4,128.9 2102.1,103.9 2053,87.7M2072.8,1447 2123.4,1430.8 2185.6,1405.8 2251.2,1374.7 2308.7,1340.6 2360.7,1304.5 2409.9,1266.6 2455.9,1227.4 2497.5,1187.1 2533.4,1146 2565.5,1104.3 2592.2,1062.3 2614.1,1020.2 2630.5,978 2642.2,935.9 2652,893.8 2658.9,851.6 2662.9,809.5 2664.7,767.4 2662.9,725.2 2658.9,683.1 2652,640.9 2642.2,598.8 2630.5,556.7 2614.1,514.5 2592.2,472.4 2565.5,430.4 2533.4,388.7 2497.5,347.6 2455.9,307.3 2409.9,268.1 2360.7,230.2 2308.7,194.1 2251.2,160 2185.6,128.9 2123.4,103.9 2072.8,87.7M2092.6,1447 2144.7,1430.8 2208.7,1405.8 2276.3,1374.7 2335.4,1340.6 2388.9,1304.5 2439.6,1266.6 2487,1227.4 2529.8,1187.1 2566.7,1146 2599.8,1104.3 2627.3,1062.3 2649.8,1020.2 2666.7,978 2678.7,935.9 2688.9,893.8 2695.9,851.6 2700.1,809.5 2701.9,767.4 2700.1,725.2 2695.9,683.1 2688.9,640.9 2678.7,598.8 2666.7,556.7 2649.8,514.5 2627.3,472.4 2599.8,430.4 2566.7,388.7 2529.8,347.6 2487,307.3 2439.6,268.1 2388.9,230.2 2335.4,194.1 2276.3,160 2208.7,128.9 2144.7,103.9 2092.6,87.7" fill="none" stroke="#800080" stroke-opacity="0.55" stroke-width="0.75"/>
<path d="M633,1430.8 2166,1430.8M567.2,1405.8 2231.8,1405.8M497.7,1374.7 2301.3,1374.7M436.9,1340.6 2362.1,1340.6M381.8,1304.5 2417.2,1304.5M329.7,1266.6 2469.3,1266.6M280.9,1227.4 2518.1,1227.4M236.9,1187.1 2562.1,1187.1M199,1146 2600,1146M164.9,1104.3 2634.1,1104.3M136.7,1062.3 2662.3,1062.3M113.5,1020.2 2685.5,1020.2M96.1,978 2702.9,978M83.7,935.9 2715.3,935.9M73.3,893.8 2725.7,893.8M66.1,851.6 2732.9,851.6M61.8,809.5 2737.2,809.5M59.9,767.4 2739.1,767.4M61.8,725.2 2737.2,725.2M66.1,683.1 2732.9,683.1M73.3,640.9 2725.7,640.9M83.7,598.8 2715.3,598.8M96.1,556.7 2702.9,556.7M113.5,514.5 2685.5,514.5M136.7,472.4 2662.3,472.4M164.9,430.4 2634.1,430.4M199,388.7 2600,388.7M236.9,347.6 2562.1,347.6M280.9,307.3 2518.1,307.3M329.7,268.1 2469.3,268.1M381.8,230.2 2417.2,230.2M436.9,194.1 2362.1,194.1M497.7,160 2301.3,160M567.2,128.9 2231.8,128.9M633,103.9 2166,103.9" fill="none" stroke="#800080" stroke-opacity="0.3" stroke-width="1.9"/>
<path d="M455.7,225.8 464.6,220.1 473.5,216.1 482.4,211.1 491.4,206.1 500.2,203.2 507.6,201.4 513.7,200.7 522.6,197.6 541.4,189.8 557,185.1 570,182.6 575.6,185 581.1,185.3 584.4,187.1 591,186.7 594.4,188.5 596.6,190.6 602.7,190.1 609.3,189.3 610.8,192 621.3,189.1 624.5,191.7 633.8,189.9 635.6,193.4 636.3,194.9 636.7,196.5 640.2,196 641.9,196.9 645.8,199.1 652.4,199.2 660.7,198.2 662.8,201.9 667.7,199.7 671.3,199.1 674.6,198.7 678.6,197.6 685,197 694.7,192.8 699.6,193.4 705.1,193.4 708,193.3 710.7,193.4 715.7,191.1 719.9,189.9 720.6,192.5 721.5,195 722.1,198 727.1,197.6 732.9,197.5 735.1,200.2 741.4,199.8 750.9,195.5 757.9,194.1 762,195.5 762.2,199.7 766.4,201.1 767.8,202.5 770.1,203.1 771.7,204.4 771.5,206.9 772.4,212.2 778.4,213.6 785.7,213.7 796.1,209.7 800.4,207.9 804.7,206.1 807.8,205.9 809.8,206.9 814.6,204 818.7,202.6 822.1,202.1 824.6,202.6 833.3,200.9 836.8,204.4 841.1,207.1 845.5,209.7 851.4,207.4 855,208.2 857.9,209.7 863.2,208.3 865.2,209.2 868.4,208.8 872.2,207.4 875.9,206.1 884.1,201.2 892.3,195 898.2,187.8 905.7,180.9 907.4,182.8 908.2,185.5 909.4,188 910.4,190.6 910.1,194.1 907.6,198.9 909.4,200.9 910.8,203.3 911.4,205.6 912.9,207.2 915.1,208 917.9,208.3 920.5,208.7 921.6,210.6 925.1,209.6 927.3,210.5 931.9,207.8 936.5,204 939.5,199.6 943.8,195.5 948.7,194.5 950.9,196.8 954.7,197.1 958.4,197.6 957.1,200.2 955.7,203 954.1,205.8 953.5,208.3 951.3,211.2 949,214.1 946.1,216.6 943.2,219.2 938.4,220.2 934.1,220.4 930.6,219.2 925,221.4 921.7,223.7 918.9,224.4 915.9,225.5 913,226.5 911,228.3 909,230.2 907.2,232.3 905,233.9 901.3,235.4 897.7,236.6 894.4,237.1 891,237.7 887.3,239 884.1,239.3 881,239.3 876.9,241.4 872.1,243.8 867.3,246 862.3,249.2 857.4,252.8 853.7,257.1 849.1,260.3 844.5,263.3 840.5,264.2 838.8,267.3 837.9,270 835.2,272.9 832.6,275.8 833.8,276.6 834,278.2 833.9,281.5 835.8,283.2 835.4,286.7 835.5,289.9 840.8,290.1 844,293.1 850.5,291.3 854.9,293 857.9,297.5 861.3,301.7 866.2,304.3 872.6,304.9 875.4,307.1 879.7,307.2 884.3,306.4 888.5,306.5 886.6,311 883,315.2 881.3,319.7 881.6,323.3 882.8,325.5 882.9,328.7 881.4,332.5 882,335.4 882.9,336.5 884.4,336.9 885.6,337.7 887.2,337.8 889.2,336.6 891.2,335.7 892.9,335.8 894.7,335.4 896.8,332.5 898.6,329.4 900,326.3 901.8,323.3 902.1,320.1 900.8,318.1 901.6,314.8 903.4,311.3 909.1,308.2 914.4,303.1 919.7,301.2 925,299.4 928.1,297 930.8,294.1 933,290.8 934.3,287.5 934.2,284.1 934.3,280.6 933.1,278.1 931.6,275.8 933.1,272.3 934.1,268.9 936.9,265.4 939.4,261.9 942,258.9 944.5,255.8 947.4,253 949.5,249.7 955.2,249.1 961.9,246 966.1,247.7 969.4,250.5 971.7,251.5 973.6,253.3 976.1,254.1 978.5,255 980.7,256.6 981.3,259.8 984.5,259.8 987.4,260.4 987.3,263.9 985.5,267.9 983.5,272 982.6,275.8 984.9,276.2 986.6,277.5 988.3,278.9 988.9,281.3 992.7,279.8 995.6,280.5 999.1,279.4 1002.8,277.4 1006.1,275.3 1009.3,272.6 1011.2,268.9 1014.3,265.8 1015.9,265.6 1017.6,265 1019.5,268.4 1022.9,270 1024.4,274 1022.8,279.7 1024.3,281.7 1024.3,284.9 1023.3,288.5 1023.8,291.5 1022.8,295.1 1022.9,298.3 1024.4,300.4 1025.1,303.3 1027,306.8 1030.2,308.9 1033.1,311.5 1037.6,311.3 1038.3,313.5 1038,316.3 1039.4,317.9 1040.9,319.3 1041.9,321.6 1041.9,324.7 1043.3,326.7 1045.7,327.3 1045,329 1044.4,330.7 1043.4,332.3 1042.2,333.8 1038.7,332.1 1034,333.7 1029.4,334.9 1024.9,337.8 1021.9,340.1 1018.9,341.7 1015.9,344.3 1012.8,345.2 1007.3,347 1003.1,345.2 998.6,344.1 993.1,346 988,344.6 982.9,343.1 976.5,345.7 970.6,346 966.5,349 962.4,352.1 958.2,354.4 954,355.8 950,357.4 946.2,360.5 942.4,363.6 939.8,368.1 937.2,369.2 934.8,371.4 932.3,371.9 929.8,373.8 933.7,372.1 937.5,370.6 941,367.3 944.5,364 949.3,361.9 954.1,360.4 959,359.2 963.8,355.8 967.2,357.3 971.6,356.8 976,356.4 980.6,354.1 980,356.2 978.7,358.2 978.8,360.2 977.8,362.3 975,364.5 972.2,365 970.2,363.7 967.4,364 968.2,366.3 970.2,367.3 971.4,369.3 971.2,372.2 971.3,374 971.4,375.7 972.2,377.1 972.4,378.8 974.1,378.9 976,378.6 977.2,379.6 978.5,380.4 980.8,381.2 983,382 985.6,381.8 988.2,381.3 989.6,382.1 990.9,383.2 992,384.6 993.9,384.6 995.7,382.4 997.8,380.7 1000,379.2 1002.2,378.8 1003.1,380.4 1001.7,380.9 1000.4,381.9 999,382.4 997.7,382.9 995.5,384 993.4,384.3 991.4,386 989.6,387.9 985.6,389.5 982,392.6 978.8,391.3 975,392 970.9,393.4 966.9,394.7 962.6,396.3 959,400.3 957.8,400 957.2,399.1 955.9,399.2 954.8,398.7 955.3,397.1 956,395.6 956.8,394.1 958,392.9 961.1,391.3 964.1,390.2 967.1,388.4 970.1,386.2 968.4,386.1 966.9,385.7 965.2,386 963.4,386.2 960.5,387 958.3,385.8 955.5,387.8 952.6,388.7 951.7,390.4 951.6,392 947.8,392.9 944,395 940.2,397.1 936.6,397 934.2,397.8 932,397.9 929.8,399.5 927.4,400.3 926.1,402.3 924.4,403.8 922.7,405.3 921.2,407 920.4,409.1 919.8,411.2 921.2,411.8 921.8,413.3 923.2,413.9 923.9,415.3 924.6,413.2 923.5,414.7 922.2,415.9 920.8,416.7 919.3,417 917.8,417.4 916.4,417.8 914.5,418.7 912.7,418.9 910.9,419.1 909,419.5 905.8,421.7 902.5,422.8 899.8,421.8 896.4,422.8 894.8,423.8 893.5,425.4 892.6,427 891.9,428.7 891.6,430.4 891.4,432.1 889.2,433.8 887.8,436.4 885.5,437.4 883.2,438.8 882.2,438.1 881.3,437.2 880.7,436 880.4,434.6 880,436.5 880.2,438.2 881.1,439.4 881.1,441.3 879.8,442.9 878.3,444.3 877.2,446.1 876.4,448 875.3,450.1 874,452.1 872.4,453.9 870.8,455.6 870.3,452.6 870,449.6 871.3,446.3 872.3,443 871.6,445.9 869.5,448.3 869.2,451.1 868.5,453.9 869.5,454.6 870.3,455.8 870.7,457.2 870.6,458.9 871.9,461.2 871.7,464.4 870.1,467.6 870.2,470.7 868.3,472 866.2,473.1 864.2,474.3 862.1,474.9 859.1,476 856.3,478 853.4,479.6 850.6,481.6 848.2,481.6 845.8,483 843.5,484.5 841.5,486.7 839.2,487.4 836.9,488.4 834.6,490.1 833,492.6 830.8,494.7 829.2,497.2 826.8,499 824.3,499.3 822.6,502 820.8,504.5 819.9,507.4 818.9,510.3 821,513.6 820.9,518.3 821.1,522.7 821,527.2 822,530.7 820.8,534.7 822,537.9 822.7,541.5 822.9,544.7 822,548 819.9,550.8 819.1,554.1 817.6,554.8 816.1,555.2 814.6,555.8 813.1,555.8 812.8,553.3 811.3,551.6 809.4,550.4 808.5,548.2 809,544 807.9,540.3 806.3,537 804.6,533.9 805.3,531.1 805,528.4 805.9,525.7 806.8,522.9 805.5,520 804.6,516.8 802.7,514.3 799.6,513.7 796.9,514.9 794.5,514.4 792,515.6 789.5,517 787.6,515.7 785.7,514.3 783.9,512.9 782.3,511.1 779.4,511.8 776.6,513 774.1,512.1 771.4,512 768.6,512.7 765.8,512.9 763.1,513 760.5,512.8 760,515.1 760,517.2 760.6,519.1 760.6,521.3 758.1,521.6 755.6,522.7 753.9,521.1 751.3,521.3 749.7,519.5 747.6,518.5 745.5,517.4 742.8,517.9 740.2,515.5 736.5,514.9 732.6,516.7 728.7,517 726.7,517.4 724.7,518.1 722.8,519.8 720.7,520.4 718.3,522.4 715.5,523.6 712.8,524.7 710.5,527.2 707.5,529.5 704.2,529.8 702.3,533.3 699.2,535.6 697.3,538.6 696.7,541.9 697.4,544.9 696.5,548.2 694.9,551.3 693.4,554.4 692.3,557.6 691.3,560.9 691.6,565.1 689.8,569.3 688.2,573.5 687.7,577.7 687.6,581.6 687.3,585.5 689.5,588.2 690,592.1 691.3,595.2 691.8,598.7 693.2,601.7 694.7,604.7 697.7,604.5 699.9,606.3 702.1,608 703.4,610.6 704.9,610.9 706.3,611.4 706.9,613 708.1,614 711.4,612.4 714.9,611.5 718.3,611.2 721.7,610.6 724.6,610.4 727.4,609 730.1,609.9 733,608.9 734.1,606.3 735.2,603.7 737.1,601.6 738,598.8 739.1,596.8 740.1,594.8 740.1,592.6 740.6,590.4 745,590.7 749.6,590.7 754.1,588.7 758,585.3 759.7,586.1 761.3,587 763.3,586.7 765.2,586.2 765.9,587.4 766.2,588.9 766.1,590.5 765.9,592.1 765.3,595.3 763.2,597.9 761.8,601 759.4,603 759.5,605.7 758.9,608.4 757,610.6 755.9,613.1 754.1,614.1 752.8,615.8 752.5,618 751.4,619.9 750.8,623.3 749.2,626.4 747.9,629.5 746.2,632.5 747.9,633.8 749.6,635 753,634.6 756.3,633.5 759.5,634.4 762.9,634.2 765.7,634 768.4,634.5 771.2,633.8 774,633.4 777.4,633.5 780.7,634.1 783.1,636.5 785.2,639.2 785.3,641.2 786.3,642.6 786,646.5 784.7,650.2 783.1,653.9 782.8,657.8 782.1,661 782.3,664.2 782.1,667.6 780.3,670.4 781.1,672.9 780.7,675.5 783.6,677.4 785.2,680.7 787.4,683.5 788.1,687.3 789.8,688.7 791.9,688.8 793.2,690.7 795.3,691.5 798.1,690.9 800.8,689.5 803.6,689.8 806.5,689.8 808.1,687.6 810.4,686.4 813.1,687.1 815.7,688.3 818.4,689.5 821.3,689 822.8,690.2 824.1,691.6 824.8,693.6 826.2,694.9 824.9,698 825,701.4 823.4,704.3 821.2,706.7 820.3,704.8 819.4,702.8 819.2,700.5 819.4,698.2 819.1,696.5 818.6,694.8 818.1,693.1 817.5,691.5 815.6,691.7 813.8,692.7 812,692.3 810,692.3 809,694.4 807.5,696.1 805.8,697.6 803.8,698.2 804,699.9 804.9,701.1 805,702.8 805.8,704.1 803.9,704.7 802,704.5 800.2,704.5 798.3,704.1 796.6,702.7 794.7,701.6 792.2,701.2 789.9,699.8 787.8,698.1 785.3,697.4 783.7,696.8 781.9,696.4 780.5,695.3 778.8,694.9 777.1,692.3 776.5,689.1 774.3,687.1 771.9,685.6 769.9,684.3 768.1,682.6 766,681.3 764.9,678.9 764,676.5 764.5,673.8 762.7,671.7 760.5,670.1 759.4,667.4 758.6,664.5 756.6,663.5 755,661.7 753.2,660.2 752.5,657.8 750.9,657.1 749.3,656.7 747.7,656.2 746,656.1 743,654.4 739.5,654.7 736.2,653.7 733.9,651 731.6,650 729.1,650.5 727,649.2 724.5,649.4 723.1,648.1 721.9,646.7 720.5,645.5 719.1,644.3 715.5,642.6 712.6,639.9 711.1,635.8 708.6,632.5 706.6,631.9 705.1,630.4 702.9,630 700.8,630.8 697.8,631.8 695.2,633.9 692.2,634.8 689.2,635 687,631.3 683.3,629.5 679.4,628.8 675.2,629.1 672.4,628.5 669.9,627 667.2,625.9 664.9,624.1 662.2,621.6 658.9,620.2 656.3,617.5 652.7,616.5 650.1,614.7 647.2,613.6 643.9,613.9 640.8,613.1 638.2,610.9 635.3,609.3 633.9,605.9 631.2,603.9 630.2,601.9 629.7,599.6 628.8,597.6 628.1,595.4 628.4,592.9 629.7,590.7 630.2,588.2 631.8,586.2 628.6,584.1 627.1,580.2 626.8,576 626.2,571.8 623.7,568 623,563.2 620.6,559.4 617.4,556.7 616.1,554 614.2,551.9 611.4,551.1 608.6,550.8 608.6,548.6 609.6,546.5 609.2,544.5 609.8,542.3 608.3,540.9 606.4,540.3 605.3,538.6 603.8,537.3 603.7,535.5 603.3,533.9 602.6,532.5 601.7,531.4 600.8,528.6 599.6,526.1 597.7,524.3 595.4,522.9 594.8,519.1 592.8,516.2 593.4,512 594.3,507.8 594,505.8 594.2,503.6 591.5,503.2 589.6,501.6 587.1,501 584.7,500.2 584.2,499.3 584.8,501.7 584.3,504.6 583.3,507.5 582.1,510.3 582.3,513.5 583.8,515.9 585.7,517.7 586.8,520.4 588.4,522.5 588.7,525.5 588.7,528.7 589.5,531.4 588.6,535.3 589.9,538.4 591.3,541.2 592.8,544 593.7,546.2 594.5,548.4 595.6,550.3 596.6,552.4 598.1,554.3 598.3,557.1 598.4,559.8 598.1,562.6 600.5,563.8 602.1,566.1 602.1,569.4 603.6,571.8 602.1,573.5 600.3,574.4 599.5,573 598.7,571.6 597.6,570.7 596.8,569.3 595.1,566.3 592,565 590.6,561.7 587.8,560 587.9,557 588.9,554 588.2,551.3 588.9,548.2 588.1,545.3 586,543.6 583.4,542.8 581.1,541.5 579.9,538.8 577.5,537.3 575.3,535.6 573.9,533.1 575.1,531.2 576.5,529.6 578.3,528.6 579.9,527.2 578,524 575.1,522.2 573.7,518.7 573.6,514.5 572.5,511.6 571.5,508.7 570.8,505.5 571.3,501.9 570.5,500 569.3,498.4 569.9,495.8 570,493.4 568.1,491 568.3,487.2 566.2,485.2 564.9,482.5 563.8,480.7 562.8,479 560.9,478.3 559.1,477.4 557.2,477.3 555.6,476.4 553.7,476.4 552,475.8 550.9,471.7 552.3,466.5 551.4,462.5 550,458.9 550,456.3 551.1,453.4 550.4,451.3 550.4,448.8 549,445.7 549.7,441.4 548.1,438.6 548.3,434.6 547.7,433 548.1,431 547.9,429.2 548.7,427 550.1,423.6 553,420.3 554.9,417 557.3,413.7 557.8,411.9 558.3,410.1 558.1,408.7 558.4,407 560.2,403.2 563.2,399.5 566.7,396.3 570,392.9 571.4,389.3 572.4,385.8 575.9,382.5 578.4,378.8 579.5,374.4 582,369.6 582.2,365.6 585.3,360.7 586.8,362.3 588.9,363.4 591.7,363.6 595.3,362.3 594.3,364.2 594,365.8 594.4,367 594.9,368.1 596.1,365 596.5,362.2 597.9,358.9 600.9,355.8 601.4,354 601,352.9 600.2,352.1 599,351.7 598.2,349.9 596,349.5 595,348 594.5,346 591.2,345.3 589.4,343.1 588.1,340.4 585.1,339.5 587.3,335.7 587.4,332.9 587.7,330 587.9,327.3 586.1,326.1 584.8,324.4 583.7,322.5 584.8,319.3 586.9,316.5 587.4,314.3 587.6,312.2 586.4,311.3 588.2,308.8 588.9,306.6 589.4,304.6 588.9,303.3 589.7,301 589.4,299.2 589.1,297.6 589.6,295.4 591.2,291.7 593.4,287.7 593.2,285 591.3,283.6 589.8,282.6 587.1,282.9 587,280.9 585.9,279.7 584,279.2 581,279.9 577.5,281.4 574.6,282.1 574.9,280 574.5,278.5 572.8,278 571.3,277.4 570.7,275 572.4,271.4 570.1,270.4 567.6,269.6 565.6,269 562.4,269.4 559.5,269.6 558.5,268.1 553.9,268.8 552.3,267 549.3,266.3 545.3,266.5 542.1,265.9 539.3,265 535.5,264.9 535.4,261.9 531.3,263.4 527,264.9 524,265.1 519.8,266.5 517.6,266.7 514.5,268.2 512,268.8 511,268.1 505.1,271.4 499.9,273.4 496.4,273.5 492.3,274.3 494.8,271.8 497.3,269.2 500.3,266.7 503.4,264.2 506.2,263.9 509.9,262.6 514.5,259.9 518.2,258.9 514.1,260 510.7,260.3 507.5,260.5 503,261.9 499,262.8 493.5,265.7 488.2,268.8 482.9,271.9 480.4,272.5 477.6,273.4 474.2,275.7 470.9,277.4 464.3,281 458.1,283.5 451.6,286.9 445.2,289.9 439.7,292 433.4,295.7 428.8,296.6 422.9,299.4 418.7,299.3 413.4,300.5 407.5,302.4 400.7,305.7 396.3,306.9 393.8,306.1 389.3,307.6 384.9,308.9 381.5,309.5 378.7,309.4 374,311.4 371.1,311.3 377.5,308.7 384.5,304.9 390.6,302.8 396.5,300.9 399.2,301.4 403.6,300 407.8,299 410.5,299.4 417,297.5 425,292.7 432.6,289.1 438.6,287.5 442.2,284.7 446.2,282.3 450.1,279.8 453.8,278.2 453.1,277.1 450.7,277.4 449.2,277 446.9,277.4 443.4,278.5 440.7,278.9 439.8,277.7 437,278.2 432.7,279.3 428.3,280.6 426.3,279.7 424,278.9 426.9,276.4 430.4,274.3 432.5,272 434.9,269.6 429.9,271.4 426.7,271.4 426,269.6 423.9,268.9 422.5,268.3 422.5,266.8 423.1,265 423.3,263.5 424.4,261.5 427.2,258.9 428.5,256.8 428,255.8 432.4,253.2 436.6,251.4 440.8,249.4 445.3,246.7 448.7,245 452,243.7 459.6,241.3 466.8,239.3 470.5,240.3 473.8,241.4 476.7,239.7 479.3,237.7 481.6,235.8 484.5,233.9 482,233.7 478.4,234.3 476.3,233.7 473.1,233.9 468.8,233.8 461,236.7 459.6,234.6 456,233.9 454.8,232.5 453.3,231.3 453.6,229ZM1137.5,269.6 1135.6,267.1 1133.3,265.1 1131.4,262.4 1128.2,261.9 1124,262.5 1121.1,260.4 1118.4,258.3 1115.4,256.6 1114.5,254 1113.7,251.3 1111.4,250.5 1109.5,249 1108.2,246 1108.1,242.2 1106.3,239.8 1105.9,236.2 1105.7,233.6 1105.2,231.2 1105,228.7 1104.2,226.5 1103.3,224.2 1102.1,222.1 1103.7,218.5 1103.4,215.5 1105.1,212.6 1106.6,209.7 1108.7,207 1111.1,204.7 1109.7,203.7 1109.6,201.5 1108.9,199.8 1109,197.6 1109.6,195.6 1110.5,193.5 1110,192.1 1109.8,190.6 1111.3,187.7 1111.5,185.2 1112.2,182.6 1112.5,180.2 1112.2,176.8 1111.2,174.1 1111.4,170.5 1112.4,166.6 1113,162.9 1111.7,160.6 1110.4,158.3 1108.6,156.7 1104.8,155.9 1101.1,154.9 1096.8,154.6 1094.5,152.2 1088.4,153.7 1084.4,152.5 1078.7,153.4 1073.8,153.5 1073.3,150.1 1070.5,148.8 1065.4,150.4 1061.6,150.2 1058.3,150.6 1056.9,149.1 1057,146.6 1057.3,143.9 1055.6,142.9 1053.3,142.6 1052.8,140.8 1052.2,139 1056.1,139.1 1061.7,137 1067.7,133.8 1073.1,131.8 1081.8,128.3 1087,129.3 1093,129 1098.9,128.9 1104,127.1 1108.2,126.6 1113.7,123.6 1118.5,122.2 1125.3,123.7 1135.1,121.6 1146,117.2 1153.6,118 1165.1,115.9 1175.4,115.6 1184.3,117.3 1196.2,114.5 1203.1,117.5 1213.7,115 1223.2,114.4 1233.7,110.6 1242.2,111.1 1250.2,112.6 1259.9,110.4 1268.6,110.6 1274.1,112.7 1280.5,113.3 1287.9,111.6 1293.6,114 1297.8,114.9 1302.3,114.9 1306.1,116.6 1310.1,118 1312.2,120.6 1315.6,121.3 1319.5,120.5 1322.5,122.2 1327.5,124.7 1333.6,124 1339.5,120.6 1345.4,120.6 1339.5,123.8 1333.4,126.7 1327.1,128.1 1320.9,128.9 1319.3,130.2 1317.7,131.5 1316.2,132.9 1314.9,134.7 1314.1,137.6 1312.2,140.1 1310.4,142.7 1307.9,143.9 1308.5,146.1 1308.2,148.6 1308.3,151 1308.2,153.5 1305.8,154.9 1304,157.4 1301.7,159.3 1299.3,160 1299.9,161.7 1300.9,163 1302.4,163.7 1303.2,165.3 1298.9,167.6 1294.9,171.4 1290.5,172.7 1286.2,173.4 1285.7,175.2 1284.7,176.8 1284.4,178.6 1284.7,180.2 1283.8,182.8 1282.7,185.3 1282,188.1 1282.5,190.6 1279.4,190.2 1276.2,192.2 1273,194.3 1270.4,197.6 1267.7,200.8 1264.4,201.9 1261.3,204.4 1258,204.7 1252.2,207.3 1246.4,208.4 1241.1,207.5 1235.3,208.3 1231.3,209.7 1227.4,210.1 1223.7,213.4 1219.7,215.5 1215.7,216.7 1211.7,218.6 1207.7,221 1203.7,222.8 1199.8,225.3 1196,225.9 1193.1,224 1189,225 1185.2,225.7 1181.2,228.2 1177.3,229.1 1173.3,230.2 1170.4,231.9 1167.9,234.8 1165.8,238 1164.1,241.4 1160.8,243.9 1157.5,246.1 1154.2,248.9 1151.7,252.8 1149.7,255.4 1147.6,258.1 1146,261.1 1145.1,264.2 1143.1,265.2 1141.1,266 1139.2,267.6ZM825.4,695.7 827.6,694.2 830,693.2 832.7,692.4 835.3,691.7 837.6,689.9 839.2,687.3 838.8,685.2 839.4,683 839.4,680.8 840.4,678.9 842.1,678.7 843.5,677.4 844.7,676.1 845.9,674.6 848.8,671.9 852.3,670.3 855.8,670.7 859.5,670.4 861.1,668.7 863.2,668.1 865.2,667.1 867.1,666.2 869.1,664.6 871,662.8 870.8,664.8 871.3,666.7 871.7,668.5 872,670.4 873.2,672.4 874,674.6 875.7,673.2 877.6,672 879.7,671.4 881.6,670.4 881.8,668.9 882.1,667.3 882.6,665.8 883.5,664.5 885.1,665.9 886.8,667.4 887.9,669.3 889,671.3 891.1,672.5 892.5,674.7 894.4,676.1 896,678 899.8,676.6 903.6,675.3 907.6,675.5 910.8,678 913.7,678.9 916.7,678.3 919.5,679.3 921.8,681.4 924.7,680.2 927.1,677.8 930.1,677.3 933.1,677.2 934.8,677.9 936.7,677.8 938.6,678 940.4,678 942.4,679.4 943.9,681.6 946,682.8 947.5,684.8 948.3,687 948.3,689.4 948.1,691.7 948.6,694 950.2,694 951.8,694 953,695.1 954.5,695.7 956.4,696.6 958.2,697.8 960,698.8 961.8,699.9 963.5,704.4 967.2,707 970,710.4 972.4,714.3 976.2,714.7 979.8,716.3 983.5,716.8 987.2,717.6 990,716.3 992.9,716.4 995.4,718.1 998.3,718.5 1000.5,721.2 1003.5,722.6 1006,724.9 1009.3,725.2 1010.8,727.3 1012.2,729.4 1014.4,730.3 1016.6,731.1 1018.5,735.4 1020.6,739.5 1020.8,744.3 1022.3,748.8 1024.6,750.6 1026,753.1 1026,756.2 1027.4,758.9 1028.2,760.9 1028,763.1 1027.8,765.3 1027.4,767.4 1030.2,767.7 1033,768.2 1035.9,768.5 1038.6,769.9 1039.5,771.4 1040.9,772.5 1041.3,774.3 1042.3,775.8 1046,777 1049.7,777.3 1053.6,778.2 1057.2,776.6 1059.9,779.4 1063.1,781.3 1066,783.8 1068.5,786.7 1071.2,788 1073.9,789.3 1076.8,789.4 1079.6,788.4 1082.3,789.9 1084.9,791.6 1087.9,792.6 1090.8,791.8 1093.6,791.2 1096.4,792 1099.2,792.6 1102,791.8 1104.6,794 1107.6,795.2 1110.1,797.5 1113.2,798.5 1116.2,800.7 1118.6,803.6 1121.9,805 1124.5,807.8 1127.7,809.3 1130.3,812 1133.8,813.1 1137.2,812 1138.2,815.6 1139.6,819 1139.7,822.7 1140.4,826.3 1139.7,830.5 1140.3,834.8 1141.3,839.1 1140,843.2 1136.1,844.8 1133.7,848.5 1131.4,852.1 1129.2,855.8 1127.5,858.7 1125.1,860.8 1124.5,864.3 1122.2,866.8 1119.8,868.7 1118.3,871.6 1116.7,874.2 1115.1,876.9 1114.3,880.1 1112.6,882.9 1111.4,886.1 1112,889.6 1110.5,893.6 1110.3,898 1112.5,901.9 1112.8,906.4 1112.1,909.8 1112.8,913.3 1111.1,916 1109.8,919 1109.7,923.6 1110.7,928.1 1108.7,931.9 1107.1,935.9 1104.9,939.9 1104.8,944.8 1101.7,948 1100.8,952.8 1100.4,955.9 1098.4,958 1096.5,960 1094.1,961.2 1091.4,961.5 1088.6,960.9 1085.9,960.5 1083.2,961.2 1080.6,962.8 1078.6,965.4 1075.7,966.3 1072.8,967.1 1069.8,967 1067.1,968.1 1064.6,969.6 1062.2,971.3 1060.8,974.9 1057.9,976.9 1054.8,978.4 1052.2,980.6 1051.2,983 1050.7,985.7 1050.4,988.6 1048.8,990.7 1050.1,994.5 1051,998.4 1049.4,1001.8 1049.8,1005.9 1046.9,1008.1 1044.3,1010.8 1043.5,1014.8 1042,1018.5 1040.3,1021 1040.1,1024.3 1038,1026.2 1036.3,1028.6 1034.2,1030.9 1031.6,1032.5 1031.1,1036 1029.3,1038.7 1027.9,1042.7 1026.1,1046.4 1025.3,1050.9 1022.7,1053.9 1021.2,1056.5 1020,1059.3 1017.3,1060.1 1014.9,1061.5 1012.6,1061.2 1010.4,1059.9 1008.3,1060.5 1006.5,1061.5 1003.6,1060.7 1000.9,1058.8 998,1057.8 995.3,1058.1 993.6,1056.6 991.8,1055.5 990.1,1054.3 988.1,1053.9 990.4,1056.6 992.6,1059.5 994.9,1062.3 997.8,1064 997.5,1066.3 998,1068.7 998.9,1071.2 1000.4,1073.3 1001,1077.1 1001.7,1080.9 1000.4,1084 999.9,1087.5 998.3,1089.5 996.8,1091.6 995,1093.5 992.2,1093.4 988.1,1094.3 983.7,1094 980.1,1096.2 975.6,1095.9 974.3,1095.1 973,1094.8 971.7,1094.4 970.4,1094.3 970.6,1097.9 972.5,1101.4 973.6,1105 974,1108.5 971.5,1108.7 969.2,1109.4 967.5,1111.1 966.5,1113.5 963.8,1111 960.8,1110.4 957.9,1110 955.5,1111 956.6,1114.1 958.4,1116.9 958.5,1119.7 958.9,1122.7 960.8,1123 962.7,1124.5 964.5,1124.5 966.4,1125.2 968,1126 969.6,1126.9 967.7,1128.6 966.6,1131 964,1131.1 961.6,1131.9 962.1,1135.7 964,1139.6 964.2,1143.4 962.6,1146 959.9,1146.6 957.6,1147.9 955.4,1149.6 952.6,1150.1 952.7,1152.2 952.3,1154 953.3,1156.3 953.4,1158.4 956.5,1161.3 960,1162.2 963.3,1163.6 966.5,1164.2 967,1165.9 967.7,1167.7 967.2,1169 967.4,1170.7 967.9,1175.2 966.4,1178.4 963.9,1180.3 962,1183 960.6,1184.7 958.5,1185.3 957.6,1187.5 956.7,1189.5 957,1192.1 958.6,1194.7 958.5,1196.9 958.6,1199.3 960.1,1201.4 961.9,1203.2 963.4,1205.3 965.5,1206.6 963.4,1205.8 961.8,1206.1 960,1206.1 958.1,1205.8 955.6,1205.4 954.1,1206.7 952.6,1207.9 951.6,1209.8 952.2,1212 953.1,1214.2 952.9,1216 952.7,1217.8 950,1217 947.9,1217.5 945.2,1215.9 942.7,1213.8 940.6,1211.6 938.2,1209.8 935.8,1208.9 933.4,1207.4 930.9,1205.8 928.4,1203.7 926.1,1201.1 923.5,1199.3 922.2,1196 920,1192.8 917.8,1189.7 915.1,1187.1 912.3,1184.5 909.9,1181.5 908.5,1178.1 906.8,1174.8 908.5,1173.6 909.9,1171.9 909.4,1168.9 910.2,1166.6 908.3,1164.4 906,1162.7 903.7,1161.5 901.4,1160.9 902.8,1158 903.4,1154.6 906,1153 907.4,1150.1 908.3,1147.6 907.6,1144.2 907.8,1141.1 906.4,1137.7 905.2,1134.3 904.4,1130.9 904.8,1128 905.5,1125.2 903.2,1123.9 901.2,1121.7 899.1,1119.6 898,1116.9 896.8,1113.7 894.9,1110.7 893.8,1107.5 893.3,1104.3 893.1,1100.9 894.5,1098.5 894.3,1095.2 893,1091.7 891.4,1089.2 890.3,1086.4 889.2,1083.6 888.6,1080.8 887.1,1076.6 887.6,1072.7 888.3,1069 890.5,1066.5 892,1062.8 892.2,1058.3 892.5,1053.8 893.5,1049.7 895.1,1045 894.3,1039.4 892.5,1033.9 890.3,1028.6 890.6,1024.5 890.3,1020.3 890,1015.9 887.8,1011.8 888.7,1007.8 889.1,1003.6 889.2,999.3 888.6,994.9 888.1,990.6 887.7,986.2 888.9,982.3 889,978 890.1,974.1 889.7,969.7 888.9,965.4 887.6,961.2 888.3,957.1 888.9,952.9 888.9,948.5 887.2,944.3 886.8,939 887.3,933.7 886.6,928.3 884.3,923.3 882.5,920.8 879.9,919.5 878.2,917 876.1,914.8 873.6,913.7 871.1,912.8 869.2,910.4 866.7,908.9 863.8,907.2 861.1,905 858,904 855.1,902.2 851.9,900.5 848.8,898.6 845.8,896.6 843.2,893.8 841.5,890.9 838.8,889.5 837.8,886.5 836.5,883.7 834.6,879.8 832.2,876.3 831.3,871.9 828.7,868.5 827.7,864.5 826.3,860.7 824.8,856.8 821.8,854.2 820.2,849.7 818.6,845.2 815.8,841.4 813.5,837.3 811.3,835 809,832.7 808.3,829.4 807.1,826.3 804.8,824.1 802.1,822.7 800.5,819.6 797.8,817.9 797.8,814.6 797.3,811.4 795.5,808.6 795.2,805.3 796.3,803 797.7,800.8 799.5,799.1 800.9,796.8 802,795.9 803.2,795.3 804.1,794.1 804.5,792.6 804.6,790.3 805.9,788.4 803.9,787.9 801.8,787.4 799.7,787.2 797.7,786.7 797.1,783.9 797.9,781.2 798.3,778.5 798.3,775.8 799.4,773.6 800.7,771.5 801.5,769 803.4,767.4 803.8,765.6 804.6,764.1 804.3,762.4 804.2,760.6 806,759.5 807.8,758.7 809.8,758.1 811.7,757.2 812.8,754.8 813.2,752.2 814.1,750.9 814.8,749.4 815.4,747.9 815.6,746.3 817.2,745 819.2,744.6 821.1,744.1 823,744.6 824.3,742.5 825.3,740.3 824.8,737.8 825.5,735.3 826.4,731.6 825.4,728 825.3,724.2 823.7,721 823.7,718.2 823.8,715.4 825,712.8 825.6,710 824.7,708.9 823.7,707.9 822.3,707.7 821.2,706.7 823.1,704.4 824,701.5 825.2,698.7ZM1358.2,465.6 1360.4,465.7 1362.5,464.8 1366.5,466 1370.7,466.2 1374.8,467.3 1378.5,469.9 1380.1,470.9 1381.8,471.4 1383.7,471.5 1385.5,471.5 1389.4,472.9 1393.3,471.3 1396.8,469.2 1399.5,465.6 1401.7,463.2 1404.7,462.5 1407.7,462.1 1410,459.8 1412.6,459.1 1415.3,458.5 1417.6,456.8 1420.4,456.4 1424,456.5 1427.3,458.2 1430.7,457.1 1434.3,457.2 1437.8,457.1 1441.3,456.4 1444.6,455.2 1448.2,455.6 1451.5,453.9 1455,453.9 1458.5,453.2 1462.1,453.9 1463.7,452.9 1465.5,453.3 1467.3,453.7 1469,453 1470.9,452.9 1472.6,454 1474.3,454.9 1476,455.6 1475.4,457.2 1474.5,458.6 1473.4,459.8 1472.8,461.4 1474,462.7 1474.5,464.5 1474.4,466.4 1475.1,468.2 1476.1,470.1 1477,472.1 1476.6,474.3 1476.8,476.6 1475.3,477.3 1473.9,478.3 1472.5,479.4 1471.3,480.8 1472.4,481.7 1473.4,482.7 1474.6,483.2 1475.7,484.2 1477.1,484.8 1478.5,485.1 1479.7,486.2 1480.8,487.5 1483.3,488.8 1486,489.6 1488.7,490.3 1491.5,490.1 1495.2,489.4 1498.8,491 1502.2,493.1 1505.8,494.3 1506.6,496.4 1508.1,497.8 1508.7,499.9 1509.7,501.9 1513.5,502.2 1517.2,503.8 1520.4,506.5 1524.2,507.8 1527.1,507.4 1530.1,508 1532.6,509.9 1535.1,512 1536.3,509.9 1538,508.2 1540.2,507.6 1541.9,506.1 1542.9,503.5 1542.6,500.6 1542.5,497.7 1541.3,495.1 1543.9,493.9 1546.2,492.1 1549,491.2 1551.6,490.1 1554.2,491.7 1557,491.4 1559.7,492 1562.4,492.6 1566,494.6 1569.8,496.1 1573.3,498.6 1577.1,500.2 1580.7,501.3 1584.3,502.6 1587.9,501.8 1591.6,503.6 1595,505.8 1598.7,506.4 1602.4,505.6 1606.1,506.9 1609.5,505.5 1612.5,503.1 1616.1,501.7 1619.9,501.9 1622.2,503.1 1624.6,503 1627.1,502.9 1629.4,504.4 1629.5,507 1629.8,509.6 1631.4,511.8 1631.7,514.5 1631.6,516.7 1632.2,518.9 1632.9,521 1633.8,522.9 1635.6,525.5 1636.7,528.4 1638.2,531.1 1640.4,533.1 1640.7,536.1 1641.7,539 1643.5,541.3 1644.8,544 1648,547.6 1649.1,552.4 1650.8,556.9 1653.2,560.9 1653.8,563.5 1655.2,565.8 1656.9,567.7 1658.8,569.3 1661.3,572.7 1661.7,576.9 1664.2,580.1 1667.6,581.9 1668.1,584.3 1668.3,586.6 1669.5,588.6 1671,590.4 1670.9,593.6 1670.3,596.8 1670.8,600.1 1672.4,603 1675.3,605.6 1677.8,608.7 1680.6,611.6 1681.9,615.7 1684,621.3 1683.9,627.2 1687.4,631.7 1690.3,636.7 1693.1,638.9 1695.9,641.1 1698.9,643 1701.8,645.1 1704.6,648.7 1708.5,650.4 1711.6,653.5 1713.4,657.8 1714.8,658.7 1716.1,659.9 1717.4,661 1718.8,662 1718.8,664 1718.6,665.9 1719.1,667.8 1719.8,669.6 1722.5,671.5 1725.3,673 1726.7,676.3 1729,678.9 1731.6,677.5 1734.3,676.5 1737.2,676.7 1740.1,677.2 1744,677.3 1748,677.5 1752,676.4 1754.7,673 1758.5,672.4 1762.3,672.6 1765.9,671.2 1769.4,669.6 1771.5,668.8 1773.7,668.3 1775.9,667.5 1778.1,667.1 1779.1,670.1 1778.6,673.1 1777.3,675.8 1777.1,678.9 1776.1,681.9 1775.1,685 1775.4,688.5 1773.9,691.5 1773.3,696.2 1771.5,700.5 1768.8,704.1 1767,708.4 1765.2,712.7 1762.3,716.1 1762.4,721.1 1759.9,725.2 1757.5,729.3 1755.4,733.7 1753,737.9 1749,740.4 1745.6,741.7 1743,744.7 1741.3,748.5 1738,750.5 1735,752.2 1732.1,754 1729.1,756 1726.9,758.9 1725.3,763.2 1722.3,766.3 1719.3,769.3 1715.8,771.6 1715.2,775.2 1713.1,778 1711.1,780.8 1708.3,782.5 1707.1,785.2 1705.2,787.2 1703,788.7 1700.7,790.1 1700.5,794 1698.3,797 1696,799.8 1695.4,803.6 1694.2,806.5 1692.1,808.5 1691,811.3 1689.3,813.7 1688.8,815.8 1688.9,818 1688.6,820.2 1687.6,822.1 1689,823.1 1690.3,824 1691.6,825.1 1692.7,826.3 1693.7,829.4 1693.4,832.8 1692,835.7 1691.7,839 1692.5,842.2 1694.1,845 1694.5,848.3 1694.3,851.6 1694.9,853.6 1696.3,854.9 1697.9,855.7 1699.4,856.7 1699.8,860.7 1698.9,864.7 1699.2,868.7 1699.5,872.7 1699.4,877 1700.4,881.1 1700.7,885.4 1699.6,889.6 1698.2,893.4 1695.6,896.2 1695.2,900.2 1693.7,903.9 1690.5,905.7 1687.2,907.2 1685.3,910.9 1682.2,913.1 1678.9,914.3 1675.5,914 1672.3,915.9 1670.1,919 1667.3,922.1 1665,925.7 1661.5,927.9 1659.2,931.7 1657.8,932.8 1657,934.6 1655.4,935.1 1653.9,935.9 1656.3,939.4 1657.1,943.8 1657.3,948.4 1655.9,952.8 1654.9,956 1655.4,959.4 1655.8,962.7 1657.4,965.4 1657.2,966.9 1657.1,968.4 1657,969.9 1656.3,971.3 1652.7,973.7 1648.9,975.5 1645.9,979 1641.9,980.6 1640.3,981.8 1639.4,983.8 1638.3,985.6 1636.5,986.5 1635.6,989.6 1635.7,992.8 1635.8,995.9 1635.6,999.1 1635.8,1001.9 1634.9,1004.6 1633.7,1007.2 1631.9,1009.2 1629.6,1012 1628.3,1015.4 1625.5,1017.3 1622.6,1018.5 1619.8,1020.7 1617.1,1023.2 1614.9,1026.3 1614.4,1030.3 1611.1,1033.8 1608.5,1038 1604.6,1040.4 1601.2,1043.8 1598.1,1045.2 1594.9,1046 1592.1,1048.3 1589.9,1051.4 1587.4,1051.4 1585,1051 1582.9,1052.8 1580.5,1053.9 1576.8,1052.5 1572.8,1053 1568.8,1052.8 1565,1054.7 1562.4,1056 1559.7,1056.5 1557,1056.4 1554.3,1056.4 1550.5,1057.9 1547.5,1061.2 1543.8,1059.8 1539.9,1060.6 1537.2,1059.4 1535.4,1056.6 1532.5,1056.3 1529.7,1055.6 1529.9,1053 1529.8,1050.4 1529.7,1047.8 1528.9,1045.5 1528.8,1043.2 1529.9,1041.1 1529,1039.2 1528.7,1037 1526.6,1033.2 1525.7,1028.7 1524.7,1024.3 1523.1,1020.2 1522.1,1017 1520.6,1014.2 1519.4,1011.2 1517.9,1008.4 1516.6,1004.2 1514,1001.2 1511.3,998.3 1509,994.9 1509.1,990.6 1508.8,986.3 1507,982.4 1506.7,978 1505.8,973.9 1504.4,969.9 1504.8,965.5 1504.9,961.2 1504.2,959.2 1503.5,957.2 1503,954.9 1503.7,952.8 1502.7,948.1 1500.9,943.7 1498,940.2 1496,935.9 1494.8,931.1 1492.3,927.1 1489.7,923.2 1487.5,919 1487.4,915.8 1486.5,912.8 1485.7,909.6 1486.3,906.4 1487.2,903.1 1487.3,899.7 1488.1,896.4 1490.1,893.8 1490.4,887.6 1491.9,881.7 1495.7,877.3 1499.3,872.7 1499.3,869.3 1500.8,866.5 1501.4,863.3 1501.6,860.1 1499.8,857.3 1498.8,854 1497.9,850.8 1497.3,847.4 1497,844.2 1496.5,841.1 1497,837.9 1496,834.8 1494.2,830.9 1492.1,827.3 1492,822.9 1490.9,818.8 1490.9,816.3 1490.7,813.8 1489.1,812 1488.7,809.5 1487.9,806.9 1486.5,804.6 1484.4,803.1 1482.8,801.1 1480.5,797.4 1479,793.3 1476,790.2 1472.4,788.4 1470.3,785.6 1467.9,783 1467.9,779.2 1466.5,775.8 1466.8,772.4 1468.5,769.7 1469.1,766.4 1468.7,763.1 1469.6,760 1470.2,756.8 1471.2,753.7 1471.7,750.5 1471.9,747.8 1473.1,745.5 1472.2,743.1 1472.4,740.4 1471.9,738.7 1471.6,736.9 1470.8,735.3 1470.1,733.6 1468.9,731.5 1467,730.2 1464.7,730.4 1462.7,729.4 1459.8,728.9 1457.1,730.1 1454.3,729.9 1451.5,730.3 1449.7,729.8 1447.7,729.7 1446,730.7 1444.1,731.1 1442.3,729.3 1440.8,727.2 1439.7,724.8 1438.1,722.7 1436.6,720.7 1436.1,718 1434,716.7 1432.9,714.3 1429.4,712.2 1425.5,712.8 1421.8,713.9 1418.1,714.3 1415.3,715 1412.5,715.9 1409.6,716.5 1406.9,717.6 1404,718.3 1401.2,719.2 1398.4,720.2 1395.8,721.8 1392.9,723 1389.9,723.4 1387.4,725.3 1384.6,726.9 1381.6,726 1379.5,723.4 1376.5,724.5 1373.5,723.5 1370.5,723.6 1367.9,721.8 1365.1,722.4 1362.3,723.5 1358.6,727.6 1353.8,729.5 1348.8,730.5 1343.7,730.3 1340.9,728.8 1338.5,726.5 1335.2,726.5 1332.6,724.4 1330.9,719.8 1327.3,716.8 1323.3,715 1319.3,713.4 1316.7,710.2 1313.8,707.3 1310.1,706.1 1306.7,704.1 1305.8,700.7 1303.9,697.8 1301.5,695.2 1300.9,691.5 1298.2,688.5 1294.7,686.8 1293.7,682.7 1292.1,678.9 1291.5,676.8 1290.1,675.3 1288.6,674 1287,673 1283.5,671.8 1280.5,669.4 1279,665.4 1276.1,662.8 1276.4,660.5 1275.8,658.2 1275.5,655.9 1275.5,653.6 1274.2,651.1 1273.2,648.4 1271.5,646.2 1270.5,643.5 1272.4,640.6 1273.4,637.2 1275.4,634.3 1278.1,632.5 1278.3,628.2 1279.5,624.1 1279.1,619.9 1280,615.7 1281.6,612.8 1282,609.5 1281.6,606.2 1281,603 1280.4,599.4 1278,596.8 1276.1,593.9 1275.4,590.4 1275.4,586.9 1276.9,583.8 1277.5,580.4 1279.4,577.7 1280.9,575.4 1281,572.5 1282.4,570.2 1283.3,567.6 1285.4,565.5 1287.6,563.6 1289.2,560.9 1290.8,558.3 1291.2,556.1 1290.7,553.9 1291.3,551.7 1292.5,549.9 1294.8,546.6 1296.3,542.7 1299.3,540.4 1302.3,538.1 1303.2,536.7 1303.5,534.9 1304.7,533.9 1306,533.1 1309,532.5 1311.6,530.3 1314.6,529.6 1317,527.2 1319,524.9 1321.1,522.6 1323.9,521.9 1326.5,520.4 1326.7,517.6 1327.8,515.1 1329.4,512.9 1330.3,510.3 1330.7,508.2 1330.8,506 1330.8,503.8 1329.8,501.9 1333.4,499.7 1336.1,496.2 1337.5,491.9 1338.7,487.5 1341.9,486.4 1345,485.6 1347.7,483.3 1350.2,480.8 1351.8,478.6 1353.9,477.4 1355.5,475.2 1356,472.4 1356.7,470.6 1357.9,469.4 1358.4,467.5ZM1337.6,455.6 1336.6,452.5 1336.6,449.1 1337.2,445.8 1338.7,443 1337.4,442.7 1336.3,441.7 1335.1,441.2 1334,440.4 1334.6,437.2 1336.5,434.7 1337.3,431.6 1338.5,428.7 1338.8,425.3 1339.1,422 1339.9,418.7 1340.4,415.3 1339.3,412.9 1337.9,410.8 1338.4,407.9 1337.4,405.3 1339.5,403.6 1340.9,400.9 1343.3,399.7 1345.7,399.5 1349.8,401.1 1354.1,400.9 1358.3,400.5 1362.5,401.2 1366,401.7 1369.2,403.8 1372.4,402 1375.9,401.2 1378.8,402.1 1381.6,403.2 1384.5,403 1387.4,402 1388.3,399.6 1388.7,396.9 1390.4,395.2 1391.5,392.9 1391.1,390.2 1391.2,387.4 1391.4,384.7 1392.2,382.1 1389.6,380.5 1388,377.3 1386.8,374.1 1385,371.4 1381,369.9 1378.1,366 1373.9,366.7 1370,364.8 1369.4,362.3 1368.8,359.9 1371.7,360.8 1374.7,360.7 1376.9,358.1 1380,357.4 1382.2,358.1 1384.4,359.2 1386.6,357.9 1389.1,358.2 1388.7,356.1 1388.9,354 1388.5,352 1387.8,350 1388.9,350.5 1390.1,350.5 1390.9,351.5 1391.7,352.5 1394,352.1 1396.2,351.6 1398.5,352.5 1400.8,351.7 1402.3,349.1 1404.5,347.6 1406.8,346.7 1409.2,346 1409.8,344.7 1410.5,343.4 1410.2,341.8 1410.4,340.3 1413.4,340.1 1416.2,338.6 1419.3,338.1 1421.9,336.2 1423.3,334.9 1424.7,333.7 1425.7,331.9 1426.2,329.7 1427.4,328.5 1428.4,326.9 1429.5,325.4 1429.8,323.3 1432.8,324.2 1435.6,323 1438.1,321.4 1440.4,319.3 1442.6,318.2 1444.9,317.3 1447.5,317 1449.8,318.5 1450.9,317.7 1452.1,317.2 1453.1,316.3 1454,315.3 1453.8,312.3 1453.4,309.3 1453.5,306.3 1452.7,303.3 1451.7,301.4 1450.7,299.6 1449.5,297.7 1449.2,295.4 1449.2,292.8 1450.2,290.7 1453.6,289.2 1456,285.9 1459.7,286.1 1463.2,286 1463.4,288.4 1463.1,290.7 1463.2,293.1 1462.7,295.4 1464.6,295.8 1466.4,296.2 1465.6,298.5 1464.7,300.7 1463.2,302.2 1461.4,303.3 1460.8,305.3 1460.4,307.3 1461,309.4 1461.9,311.3 1463.7,311.4 1465.4,312.7 1467.1,313.5 1468.4,315.3 1470.9,315.4 1473.3,314.6 1475.4,313.3 1477.6,312.1 1480.1,312.2 1482.3,314.2 1484.8,314.7 1487.2,315.3 1491.3,315.5 1495,313.7 1498.5,311.7 1502.5,311.3 1505.7,312.1 1508.6,310.6 1511.9,311 1514.8,309.7 1516.4,310.4 1518,311.2 1519.6,312 1521.3,312.1 1521.9,311 1522.7,310.2 1523.1,309 1523.9,308.1 1525.5,307.2 1526.8,305.8 1527.9,304.2 1529.5,303.3 1529.5,300.3 1529.9,297.4 1528.6,294.5 1527.8,291.5 1528.9,289.9 1530,288.3 1531.6,287.6 1533.2,286.8 1535.2,289.4 1537.8,290.8 1540.4,291.2 1543,291.5 1544,290.6 1545.3,290.6 1546.4,289.9 1547.7,289.9 1547.7,287.7 1546.8,285.6 1547,283.4 1546.2,281.3 1545,280.2 1543.6,279.5 1542.2,279 1540.9,278.2 1540.8,276.2 1540.2,274.3 1544.2,275.1 1548.2,275.6 1552,274.9 1554.8,271.9 1557.8,272.4 1560.9,272.6 1563.7,272.1 1566.7,271.9 1569.5,271 1572.7,271.3 1575.4,270.3 1578,268.9 1575.5,267.9 1573,266.5 1570.5,265.7 1568.1,264.2 1565,264 1561.9,263.3 1558.8,263 1556.4,265 1554,266.9 1551.2,267.8 1547.9,267 1545.1,268.1 1542.6,267.6 1540.5,268.8 1538.2,269.2 1535.9,269.6 1534.1,266.7 1531.6,265.2 1529.1,263.9 1526.7,264.2 1526.3,262.3 1525.6,260.3 1525,258.4 1524.3,256.6 1523.9,254.5 1522.8,252.8 1522.5,250.7 1523.1,249 1524.7,247.1 1527.1,246.6 1527.9,244 1528.7,241.4 1530.8,238.6 1533.2,236.1 1536.1,234.4 1538.3,231.7 1538.7,229.9 1539.9,228.9 1541.4,228.9 1542.7,228 1540.9,226.6 1538.9,225.8 1537.1,224.6 1535.2,224.3 1532.8,225.5 1530,225.1 1527.3,225.1 1524.7,225 1523.7,227 1522.9,229.2 1522.2,231.5 1521.7,233.9 1520.7,235.7 1519,236.4 1517.7,237.9 1517,239.9 1514.9,242.5 1512,243.8 1509.5,245.8 1506.5,246.7 1505.1,249.2 1503.9,251.9 1502.2,254 1500.8,256.6 1500.7,258.2 1500.7,260 1500.9,261.7 1501.1,263.5 1503.1,264.9 1505.3,265.8 1507.4,266.7 1509.5,268.1 1510,269.5 1510.7,270.8 1511.2,272.2 1512,273.5 1511,275.1 1509.6,276.1 1508,276.7 1506.5,277.4 1504.6,277.9 1502.8,278.5 1502,280.7 1500.4,282.1 1499.9,284.3 1499.4,286.5 1499.7,289 1500.3,291.5 1499.8,293.2 1498.7,294.3 1498.7,296.3 1497.9,297.8 1495.6,298.3 1493.2,297.7 1491,298.3 1488.8,299.4 1488.5,302 1487.4,304.1 1485.6,304.3 1483.7,303.9 1481.9,304.4 1480,304.1 1479.4,302.5 1478.6,301.1 1478.2,299.5 1478.2,297.8 1477,296.8 1476.3,295.3 1475.1,294.3 1474.2,293 1473.4,291 1473,288.9 1472.1,287 1471.1,285.2 1469.6,283.1 1468.5,280.8 1467.9,278.1 1466.7,275.8 1465.7,274.5 1465.1,272.9 1463.9,272.1 1462.7,271.2 1462,273.5 1460.3,274.8 1458.3,275.1 1456.5,275.8 1455.2,278.4 1453.5,280.4 1450.9,280.7 1449.1,282.8 1447.3,282.6 1445.4,282.7 1443.7,283.6 1441.9,283.6 1440.1,281.6 1438,280.3 1435.9,279.4 1433.8,278.2 1432.9,275.6 1431.3,273.5 1431,270.8 1430.4,268.1 1428.9,265.6 1428.8,262.4 1429.2,259.5 1428.8,256.6 1428.8,255.1 1429.4,253.8 1430.1,252.7 1430.3,251.2 1432.3,250.6 1434.3,250.3 1435.4,248.1 1437.1,246.7 1439.3,244 1442.3,242.8 1445.4,242.4 1448.3,241.4 1450.6,241.1 1453,241.2 1454.6,239.1 1456.6,237.7 1457.8,235.5 1459.5,234 1461,232.1 1462.9,231 1464.4,228.7 1466.1,226.7 1468,225.2 1469.4,222.8 1469.7,219.8 1470.6,217.1 1472.2,215.1 1474,213.4 1475.7,211.4 1477.4,209.6 1479,207.3 1481.4,206.9 1483.1,206.8 1484.5,205.8 1485.1,203.9 1486.3,202.6 1488.1,201.2 1489.5,199.3 1491.6,198.7 1493.9,199 1495.2,197 1497.3,196.4 1499.4,196.3 1501.4,195.5 1503.8,194.6 1506.4,194.1 1509,193.6 1511.7,193.4 1515.3,193.5 1519,193.7 1522.1,191.9 1524,188.5 1526.5,187.1 1529.2,186.3 1531.9,185.3 1535.1,186.4 1538.2,186.4 1541.4,187.1 1544.6,187.7 1547.5,187.1 1551.5,186.6 1555.9,188.3 1560.3,190.4 1564.7,192 1563.7,193.2 1563.4,195.2 1562,195.8 1560.5,196.2 1564.5,195.4 1568.3,194.4 1572.7,196.3 1577.2,198.3 1581.7,198.7 1586.3,202.3 1590.1,201.1 1594.1,200.4 1599.4,198.9 1605.9,201.8 1612.1,205.7 1618.4,208.3 1620.8,209.8 1622.9,212.1 1625,214.4 1627.5,215.5 1627.8,217 1628.3,218.6 1628.5,220 1628.4,221.4 1625,221.9 1621.4,221.4 1618.5,223.1 1614.9,222.8 1609.6,221.2 1604.5,220.6 1599.1,218.9 1594.2,219.2 1591.3,218.3 1588.4,218.2 1585.6,218 1582.7,217.7 1581.1,215.8 1579.2,214.8 1582.1,219.1 1586,221.5 1589.7,224.3 1593.5,226.5 1594.6,228.3 1595.5,230.1 1595.8,232 1596.7,233.9 1600.3,236.7 1604.1,238.5 1607.3,237.4 1611.1,238.4 1611.5,237.4 1612.5,237 1612.8,236 1612.9,234.7 1611,233.5 1609.2,233.2 1607.7,231.3 1605.9,230.2 1611.1,232.1 1615.5,230.8 1620.5,231.2 1625.7,233.9 1625.8,231.8 1626.4,230.1 1627.1,228.5 1627.3,226.5 1629.4,225.4 1631.4,224.2 1632,221.4 1633.2,219.2 1636.4,221.7 1639.6,222.1 1642,220.9 1645.1,221.4 1644.7,218.8 1645.3,216.8 1645.2,214.5 1644.4,211.9 1642.7,210.5 1641.1,208.8 1639.8,206.8 1638.9,204.7 1641.9,205.5 1644.7,205.5 1647.5,205.3 1650.7,206.9 1652.4,209 1654.4,210.7 1655.6,213.1 1656.8,215.5 1658.9,216.4 1660.9,216.8 1662.6,216.6 1664.3,216.3 1664.9,214.1 1666.4,212.9 1667.1,210.8 1668,209 1671.3,207.4 1675.1,206.6 1677.8,204 1682.5,204.7 1685.4,204.9 1687.7,203.9 1691,205.6 1694,206.1 1696.1,206 1698.4,206.4 1700.3,205.7 1701.2,204 1702.7,201.1 1706.2,200.8 1710.1,201.8 1713.7,201.9 1716.7,202.6 1719.7,203 1722.7,203.7 1725.6,204 1726.1,201.9 1727.6,200.8 1726.4,197.8 1726.5,195.5 1730.9,196 1735.7,197.7 1740.7,199.5 1744.6,199 1746.3,199.7 1747.8,200 1749.2,200 1750.8,200.4 1754.1,201.4 1756.7,201.1 1759.7,201.3 1763.3,203.3 1764.7,202.7 1766.7,203.2 1768.9,204.6 1771.1,205.4 1768.3,203.3 1765.5,201.5 1762.7,199.2 1759.9,197.6 1758.1,195.6 1756.5,193.4 1755.6,191.3 1753.8,189.2 1753.8,185.9 1754.9,183.4 1756,180.8 1754.7,176.8 1754.7,174.6 1756,173.5 1757.5,172.7 1759.1,172 1763.4,173.5 1767.8,175.5 1771.8,176.3 1774,174.7 1775.9,177.1 1778.3,179 1779.9,181.3 1781.8,183.6 1782.2,185.6 1781.1,186.5 1781.8,188.6 1782.3,190.6 1785.8,193 1789,196.3 1791.8,199.9 1795.4,202.6 1797.1,206 1800.1,209.4 1802.7,212.9 1806.2,215.5 1805,216.9 1803.1,217.5 1801.5,218.5 1801,220.6 1804.1,220.7 1806.4,219.7 1807.3,217.2 1809,215.5 1807.9,212.7 1807.5,210.3 1806.5,207.6 1804.9,204.7 1801.8,201.2 1798.7,197.7 1796.1,194 1792.9,190.6 1791,187.9 1789.3,185.3 1787.7,182.8 1785.7,180.2 1786.7,179.6 1787.3,178.7 1788.2,178 1788.4,176.8 1791.6,177.6 1794.1,177.5 1797.5,178.7 1800.3,178.8 1802.7,180.2 1804.6,180.5 1806.8,182.2 1809.1,183.6 1811.2,182.9 1813.7,182.5 1815.8,181.8 1817,180.2 1816.9,177.9 1815.2,174.9 1813.9,172 1814,170 1817.7,169.8 1821.2,169.5 1824.7,169 1828.2,168.7 1829.9,166.3 1830,162.9 1833,161.8 1838.5,163.3 1836.5,162.6 1834.2,161.3 1832.4,160.8 1830.4,160 1832.9,157.7 1837,156.7 1841.2,155.9 1847.1,156.7 1852.5,157 1857.9,157.3 1861.1,155.8 1863.4,153.5 1869.5,154.4 1874.5,154.5 1877.7,153 1880.9,151.5 1882.5,149.8 1883.7,147.9 1886.8,147.4 1890.2,147.1 1892,145.6 1894,144.4 1895.3,142.6 1899.1,142.7 1903.8,143.3 1910.9,146.3 1916.2,147.6 1919.4,147.1 1926.9,150.6 1931.9,151.3 1935.9,151.4 1938.2,150.2 1944.5,151.6 1946,149.5 1951.7,150.5 1959.7,153.5 1962.3,155.9 1964.3,158.2 1966.7,160.7 1969.7,163.3 1966.5,163.9 1966,166.4 1963.7,167.7 1958.5,166.6 1961.1,166.6 1965.1,167.9 1967.6,167.9 1971.1,168.7 1973,168.2 1976,168.5 1978.4,168.4 1982.1,169.3 1987.3,169.4 1992.1,169.2 1998.2,170 2003.3,170 2006.1,167.2 2009.7,164.9 2017.1,165.4 2028.9,170 2029.2,167.4 2034.2,168 2038.7,168.4 2046,171.3 2050.6,171.8 2057.5,174.3 2064.5,176.9 2068.4,176.8 2071.7,179.1 2075.3,181.2 2078.9,183.2 2082.1,185.7 2085.6,185.8 2089.4,186.1 2091,184.8 2092.7,183.6 2096.5,183.4 2098.5,181.9 2102.1,181.6 2108.5,183.6 2114,184.9 2119.7,186.3 2119.6,183.3 2124.2,183.6 2126.9,183.3 2126.4,181 2124,177.9 2125.4,176.8 2126.6,176.6 2125.9,175.3 2127.9,175.8 2128.7,175.4 2138,178.6 2146.4,180.8 2148.9,178.9 2153.3,178.1 2163.4,180.6 2167.4,178.7 2176.9,180.8 2187.2,183.6 2190.2,182.8 2197,184.9 2202.7,186.2 2208,187.1 2211.2,185.7 2217.9,186.6 2222.9,186.4 2229.1,187.1 2236,189.1 2243.4,191.7 2250.8,194 2255.2,194.1 2257.2,195.2 2259.3,196.2 2260.9,196.6 2262.9,197.6 2263.3,194.8 2266,193.3 2274.3,195.9 2279.7,196.2 2283.1,194.9 2285.7,193.1 2292.1,193.7 2299,194.8 2304.4,196 2308.4,196.2 2315,198.5 2322,201.1 2320.5,199.5 2319.4,198 2317.4,196.2 2314,194.1 2321.7,194.6 2324.2,191.9 2332.9,193.2 2344.1,196.2 2354.8,199.9 2362.4,201.2 2371.1,203.2 2373.5,201.1 2395.6,215.5 2417.2,230.2 2416.3,231.1 2413.8,231 2413.4,232.2 2414,233.9 2412.8,234.2 2410.2,233.3 2408.3,232.9 2406.2,232.5 2406.5,233.2 2407.7,234.4 2408.3,235.4 2408.6,236.2 2417.5,240.9 2425.8,244.6 2431.6,245.8 2439.5,249 2438.2,250.3 2434.9,250.4 2431.4,250.4 2426.2,249 2422.9,249.4 2423.8,252.5 2419.6,252.3 2419.8,255 2421.2,258.4 2419.6,260.2 2414.3,259.1 2412,260.4 2412.4,262.7 2414.9,266 2411.6,265.9 2411.7,268.1 2406.5,266.7 2403.6,267.2 2398.3,265.7 2393.2,264.2 2392.6,266 2388.7,265.5 2386.8,266.3 2386.1,268.1 2384.8,268.9 2384.7,270.5 2382.6,270.7 2379,269.6 2378.8,271.1 2380.2,273.4 2380,274.8 2379.2,275.8 2380.9,277.8 2382.2,279.6 2384.8,281.7 2386.3,283.6 2385,283.9 2385.4,285.3 2383.8,285.3 2382.1,285.2 2386.3,287.2 2390.3,288.8 2394.6,290.9 2399,293.8 2398.3,294.4 2398.4,295.4 2399,296.7 2399.1,297.8 2399.3,299.6 2401,302.1 2403,304.7 2405,307.3 2404.2,309.4 2400.3,309.1 2400.3,311.7 2402,315.3 2401.2,316.9 2401.6,319.4 2402.3,322.2 2400.6,323.3 2402.2,325.3 2403.3,327.2 2404.7,329.3 2407.1,331.4 2404.9,332.3 2404.6,334.6 2403.7,336.5 2404.4,339.5 2400.3,335.9 2395.8,332.7 2391.3,330.6 2386.8,327.3 2382.8,323.1 2379.7,319.1 2374.2,315.6 2369.8,311.3 2365.3,306.9 2361.6,302.5 2357.1,298.1 2353.1,293.8 2353.8,292.2 2353.7,290.2 2352.1,287.4 2351.7,285.2 2353.5,284.6 2355.2,284 2357,283.4 2356.5,281.3 2356.9,279.4 2357.2,277.4 2356.5,274.9 2354.9,271.9 2355.7,270.3 2356.6,268.8 2359,268.3 2358.4,265.8 2358.5,263.5 2355.2,259.6 2354.5,256.9 2357.3,256.6 2356.5,255 2355.2,253.2 2353.3,251.1 2350.8,249 2349.5,251 2351.6,254.9 2349,256.1 2345.6,256.6 2347.5,259.4 2347,260.9 2344.6,261.1 2344.1,262.7 2337.8,261.2 2331.5,259.7 2324.5,257.3 2317.4,255 2320.2,259.4 2320.5,262.5 2321.8,266.2 2322.5,269.6 2322.8,270.6 2323.7,271.8 2323.4,272.4 2323.8,273.5 2321.7,274.9 2317.9,274.9 2313.1,274 2311.4,275.8 2309,275.9 2305.3,274.5 2301.1,272.4 2298.2,271.9 2295.8,271.9 2294.9,273.1 2291.6,272.1 2288.4,271.2 2287.3,274 2283,274.4 2278.4,274.4 2272.9,273.5 2268.6,273.7 2262.5,272.1 2260.3,274.1 2255.8,274.3 2253.8,276.4 2249.8,276.9 2248.7,279.9 2251.7,285.2 2254.2,290.3 2253.6,293.8 2249.1,294.1 2247.6,297 2246.5,299 2247.6,302.4 2246.9,304.8 2249.2,308.9 2252.4,310.8 2254.9,311.3 2258,312.9 2261,315.3 2265.3,316 2269,316 2272.8,316.1 2274,313.7 2277.8,316.4 2281.4,317.8 2284.9,319.2 2288.7,321.7 2290.7,323.5 2292.6,325.4 2294.9,327 2296.8,328.9 2297.3,331.4 2299.7,334.7 2299.3,336.6 2300.5,339.5 2304.4,343.7 2308.8,347.6 2310.3,351.4 2313.3,355.8 2312.3,358.7 2313.9,363.2 2313,366.3 2314.2,370.5 2314.7,373.3 2314.6,375.7 2313.8,377.6 2314.4,380.4 2312.6,382.5 2312.7,386 2312.8,389.5 2312.6,392.9 2311,394.2 2309.8,396.1 2308.7,398.1 2309.2,401.2 2308,404.3 2306.3,407.1 2302.5,407.5 2298.6,407.8 2295.7,406 2292.9,404.5 2290.4,404 2287.9,403.7 2287,405.2 2287.7,407.8 2286.3,408.8 2284.7,409.5 2283.9,411.4 2284.3,414.1 2283.3,415.7 2282.8,417.8 2282.2,419 2282.7,420.8 2284,422.7 2284.5,424.5 2283.8,427.5 2282.5,430.1 2279.5,430.8 2276.9,432.1 2276.5,434.2 2277.5,437.1 2279.8,438.4 2282.1,439.9 2284.5,440.9 2286.7,443 2289,446.9 2292.4,450.3 2296,453.1 2299.7,455.6 2302.3,458.6 2304.3,461.9 2304.6,464.9 2305.5,468.2 2304.4,469.3 2302.8,469.8 2302.4,471.6 2301,472.4 2299.4,472.9 2298.7,474.6 2296.8,474.5 2295.1,474.9 2292.7,474.3 2290.4,474.3 2289.2,475.8 2287.4,476.6 2285.6,473.4 2284.8,470.2 2283.7,467 2283.3,464 2282.7,461.7 2283.2,460 2282.4,457.7 2280.9,455.6 2279.3,453.6 2277.4,451.7 2275.4,451.1 2273.3,449.7 2271.4,449.5 2269.3,448.6 2267.1,447.4 2265.2,447.2 2262.4,444 2261.1,440.6 2260.3,437.4 2260.4,434.6 2258.5,434.4 2256.5,433.3 2254.5,432.1 2252.5,431.2 2250.9,433.6 2248.9,435.4 2246.5,437 2242.6,436.2 2242,438.4 2240,439.3 2237.9,440 2235.7,440.4 2233.7,435.9 2233.6,432 2231.2,427.4 2231.4,423.7 2229.8,423.4 2228.1,422.4 2226.9,422.8 2225.5,422.8 2225.3,426.9 2222.5,428.8 2219.9,430.8 2219.1,434.6 2216.5,434.4 2214.1,434.6 2212.5,436 2210.7,437.1 2211,438.9 2212.2,440.9 2213.1,442.8 2213.5,444.6 2215.9,446.5 2218.3,447.2 2220.6,447.8 2223,448.8 2224.2,450.2 2225.5,451.4 2226.7,452.7 2228,453.9 2230.6,453 2233.4,452.7 2235.7,451.4 2236.9,448.8 2240.1,449.3 2243.3,449.6 2246.6,450.1 2250.2,452.2 2250.5,454.7 2251.1,457.2 2249.4,459.9 2246,460.1 2243.1,461 2241.1,463.1 2238.9,464.5 2237.2,466.4 2237.3,469.6 2236.5,472.4 2238.3,474.8 2240.6,476.6 2242.9,478.4 2244.8,480.8 2247.5,484.3 2250.9,487 2253.8,490.1 2256.6,493.4 2259.1,494.8 2261.5,495.7 2263.1,498.4 2265.5,500.2 2265.5,501.8 2266.4,503.6 2266.3,505.2 2267.2,506.9 2264.6,507.2 2262.4,508.2 2260.7,509.7 2259.6,512 2262.5,512.1 2265.5,514.1 2268.2,514 2271.1,514.5 2270.7,516.4 2271.4,518.6 2272.1,520.8 2272.4,522.9 2272.2,524.4 2272.6,526.1 2272.3,527.4 2272,528.8 2272,532 2271.2,534.7 2269.8,537 2267.4,538.1 2268.3,541.4 2267.5,544.2 2265.8,546.1 2264.3,548.2 2263.7,550.2 2263.6,552.5 2262.1,553.6 2260.8,555 2259.6,556.8 2258.8,559.1 2257.1,560.4 2254.9,560.9 2253.8,563.9 2252.8,567.1 2250.8,569.4 2248.3,571 2245.1,572.5 2243.2,575.6 2239.8,576.6 2236.1,576 2234.3,576.9 2232.1,576.4 2230.5,577.6 2229.5,579.4 2227.8,580.2 2226,580.6 2224.1,580.8 2222.6,581.9 2219.7,582.3 2217.7,584.4 2215,585.1 2212.4,586.2 2210.2,586.6 2208.5,588 2206.4,588.7 2204.1,588.7 2204.4,590.6 2204.6,592.5 2204.8,594.4 2204.6,596.3 2202.6,594.2 2201.7,591.4 2201.1,588.5 2199.3,586.2 2196.9,585.8 2194.8,586.7 2192.7,584.9 2190.3,584.5 2187.3,585 2184.3,585.7 2182.8,588.6 2180.3,590.4 2180,592.6 2179.2,594.6 2178.7,596.7 2178,598.8 2178.3,602 2177.3,604.8 2175.3,606.7 2173.7,608.9 2174.3,612.4 2176.2,615.4 2178.9,617.4 2181.2,619.9 2183.1,624.1 2186.6,626.9 2190,629.5 2193.9,630.8 2196.2,634.8 2199.9,637 2200.8,641.3 2203.1,645.1 2204.3,649.7 2207.4,653.2 2207.4,657.6 2207.3,662 2205.8,663.8 2205.3,666.3 2205.8,668.8 2205.9,671.3 2203,673 2199.6,673.2 2197.3,675.8 2195.5,678.9 2194.1,681 2193.7,683.8 2192.2,685.8 2190.3,687.3 2187.8,689.9 2184.6,691.5 2181.7,693.7 2178.1,694 2177.5,691.3 2177,688.6 2176.3,685.8 2175.9,683.1 2173.1,682.6 2170.8,680.8 2168.2,679.7 2165.8,678 2162.7,676.2 2160.8,672.8 2159.5,669.3 2157.4,666.2 2154.2,666 2151.2,664.5 2148.3,662.7 2145.8,660.3 2145.7,658.7 2145.5,657.1 2144.9,655.5 2143.7,654.4 2142.1,654.1 2140.6,653.9 2139.1,654.3 2137.9,655.3 2138.7,658 2139.3,660.7 2139.1,663.5 2138.9,666.2 2139.2,669.7 2139.4,673.2 2137.1,675.5 2136.3,678.9 2135.8,681.5 2136.5,684.2 2135.8,686.7 2134.8,689 2136.9,691 2138.6,693.4 2141.2,694.7 2142.8,697.4 2143.6,699.7 2143.7,702.2 2144.4,704.5 2145.5,706.7 2147.9,708.3 2150.3,709.7 2152.9,710.7 2155.4,711.7 2156.8,713.2 2157.5,715.2 2159.2,716.1 2160.9,716.8 2163.8,719 2165.5,722.4 2166.8,726 2168.1,729.4 2167.7,733 2167.8,736.7 2168.5,740.2 2169.3,743.8 2170.6,746.8 2172.4,749.5 2174.4,752.1 2174.8,755.6 2173.4,755.4 2172.2,756 2170.9,756.1 2169.6,756.4 2167.8,753.5 2165,752 2162.3,750.8 2159.8,748.8 2158.2,747.1 2156.1,746.3 2154.8,744.2 2152.9,742.9 2151.9,740.1 2150.7,737.4 2149.3,734.7 2148.1,732 2147.3,728.7 2147.3,725.3 2146.1,722.3 2144.7,719.3 2144.4,717.6 2143.8,715.9 2144.2,714.3 2144.3,712.6 2142.6,710.4 2141.9,707.7 2140.2,705.5 2138,704.1 2136.8,701.6 2134.6,700.2 2132.2,699.8 2130.2,698.2 2130,696.1 2129.8,693.9 2129.4,691.7 2128.2,689.8 2129.1,687.2 2129,684.4 2128.7,681.5 2129.6,678.9 2128.6,675.7 2128.5,672.5 2129.7,669.6 2129.3,666.2 2128,662.4 2127.4,658.4 2126.4,654.5 2124.1,651 2123.4,647.7 2122.5,644.4 2120.6,641.5 2119,638.4 2118.9,635.8 2117.6,633.4 2116.7,630.8 2117,628.3 2115.8,626.9 2114.4,625.7 2113,624.5 2111.3,624.1 2109.6,627.2 2106.9,629.2 2104,631 2102.3,634.2 2100.2,632.6 2097.8,632.6 2095.6,632.8 2093.3,632.5 2092.6,629.2 2091.9,626 2091.8,622.6 2093.2,619.9 2091.8,616.6 2091.5,613.1 2090.1,609.9 2087.8,607.2 2086.5,604.2 2084.1,602.3 2081.6,600.7 2079.3,598.8 2077.4,595.3 2075.4,591.9 2073.1,588.7 2070.3,586.2 2068.7,584.2 2068.2,581.7 2067.1,579.5 2065.4,577.7 2063.9,578.8 2062.2,579.6 2060.2,579.3 2058.5,580.3 2056.4,582.3 2053.5,582.6 2051,584.1 2048,583.6 2044.8,585.4 2041.3,586.5 2037.5,585.8 2033.8,586.2 2034,588.3 2033.7,590.4 2034.1,592.6 2033.4,594.6 2031,596.1 2028.2,596.5 2025.8,598.2 2024.8,601.3 2022.9,604.8 2021,608.3 2017.6,609.9 2015.3,613.1 2012.1,616 2008.7,618.7 2007.7,623.5 2004.4,626.6 2002.5,628.3 2000.1,628.7 1998.2,630.3 1996.9,632.5 1995.2,633.9 1993.4,635.2 1991.6,636.6 1990.2,638.4 1990.7,642.5 1992.6,646.1 1992.2,650.1 1990.8,653.6 1990.9,657.9 1989.7,661.9 1989.4,666.1 1989.9,670.4 1989.7,672.9 1989.8,675.5 1990.4,678 1990.5,680.5 1990,683.3 1988.8,685.6 1986.9,687.3 1985.1,689 1983.6,690 1982.7,691.7 1980.9,691.5 1979.3,692.3 1977.7,693.6 1976.7,695.5 1975.9,697.6 1974.5,699.1 1972.9,696.3 1971.4,693.5 1968.9,691.9 1966.6,689.8 1965.3,687.1 1963.6,684.7 1963.1,681.7 1962.3,678.9 1960.8,675.5 1958.3,673.1 1956.4,669.9 1956.3,666.2 1954.6,661.9 1953.5,657.4 1952.1,652.9 1949.1,649.4 1945.9,645.9 1943.4,641.7 1941.6,637.2 1940.3,632.5 1938.7,627.2 1937.7,621.8 1935,616.9 1933.7,611.4 1933.4,609.3 1933.4,607.2 1932.3,605.2 1932.1,603 1930.4,600.1 1930.4,596.7 1930,593.5 1929.3,590.4 1928.3,587.9 1927.7,585.4 1927.7,582.8 1927.4,580.3 1926.6,582.3 1926,584.4 1925.2,586.5 1924.7,588.7 1923,590.5 1921,591.8 1918.7,592.1 1916.4,592.9 1914.2,588.5 1911.4,584.5 1907.1,583.3 1903.4,580.3 1904.4,578.5 1906,577.3 1907.1,575.6 1908.6,574.4 1905.5,573.5 1902.9,571.3 1900,570.1 1897.1,569.3 1895.2,567.8 1893.6,566 1891.5,565.2 1889.3,565.1 1887.9,563.3 1886.3,561.9 1886,559.5 1884.8,557.5 1883.7,556.4 1883,554.9 1881.7,554.4 1880.6,553.3 1876.9,552.2 1873.2,552.1 1869.6,552.8 1866.2,554.1 1861.5,554.6 1857.8,557.5 1853.1,555.4 1848.4,555.8 1845.7,556.6 1842.8,556.8 1839.9,556.2 1837.3,554.1 1833.3,553.5 1829.9,555.2 1826.4,552.8 1822.5,551.6 1820,550.9 1817.7,549.4 1815.3,548.3 1812.7,548.2 1811,546.7 1809.9,544.5 1809.5,542.1 1808.8,539.8 1805.4,539.5 1802,539.3 1798.8,540.1 1796.2,542.3 1793.4,542.1 1790.8,542.8 1788,542 1785.3,541.5 1783.1,540.3 1780.7,539.7 1778.8,537.9 1777.3,535.6 1775.1,532.6 1771.9,531.4 1768.9,530.9 1765.8,529.7 1764.9,527.5 1764.7,525.1 1763.5,523 1761.9,521.3 1759.7,518.9 1757.1,517.6 1755.4,514.7 1752.9,512.8 1751.4,512.8 1750.2,513.7 1748.7,513.6 1747.2,512.8 1746.3,514 1745.2,514.9 1743.7,515.1 1742.7,516.2 1743.8,518.4 1745.1,520.6 1745.3,523.1 1745.2,525.5 1746.3,527.8 1747.8,529.8 1748.7,532.2 1750.5,533.9 1752.7,536.3 1755.1,538.5 1757.5,540.7 1760.1,542.3 1760.8,544.6 1760.4,546.8 1761.3,548.8 1762.4,550.8 1763.9,550.3 1765.4,550.8 1766.6,550 1768.1,549.9 1769.6,548.5 1771.6,548.2 1771.5,550.8 1771.3,553.4 1771.8,556.1 1773.3,558.3 1775.1,559.7 1776.4,561.6 1778.2,563.1 1780.3,563.4 1783.1,563.6 1785.8,564 1788.7,564.5 1791.2,563.4 1794.9,562.6 1797.6,559.7 1799.5,556.2 1800.9,552.4 1802.7,551.4 1803.9,549.5 1804.3,547.1 1805.9,545.7 1806.3,549.2 1806.3,552.6 1808.3,555.6 1808.9,559.2 1811.1,561.1 1812.2,564 1814.7,565 1816.9,566.8 1819.2,566.9 1821.4,567.5 1823.6,568 1825.8,568.5 1828.4,570.3 1830.4,573 1832.7,575.1 1834.7,577.7 1834,579.7 1834.2,582 1833.8,584.1 1833.3,586.2 1832.1,588.5 1831.1,591 1829.3,592.8 1827.5,594.6 1826.7,598 1825.2,601 1824.3,604.3 1822.7,607.2 1821.2,610.2 1819.5,613 1817,614.9 1813.9,615.7 1811,617.7 1807.6,618.2 1804.9,620.4 1803.5,624.1 1798.4,624 1793.9,626.4 1789,628 1785.8,632.5 1780.5,631.9 1775.7,633.9 1772.8,638.8 1767.9,640.9 1762.9,642.1 1758.4,644.7 1754.1,647.7 1750,651 1745.8,653.9 1741.7,657 1736.9,658.5 1732,659.5 1729.1,660.1 1726.6,661.6 1723.7,661.5 1720.9,660.3 1720.4,658.6 1719.6,657 1718.7,655.4 1718.4,653.6 1717.5,650.3 1717.8,646.9 1717.1,643.4 1714.8,640.9 1714.7,637.7 1714.7,634.6 1714.8,631.3 1713.4,628.3 1710.1,625.3 1708.3,620.9 1706.9,616.4 1703.7,613.1 1702.5,609.4 1700.4,606.2 1697.6,603.8 1695.6,600.5 1692.8,598.6 1690.2,596.4 1688,593.6 1686.3,590.4 1684.2,586.3 1681.8,582.6 1681.7,578 1681.6,573.5 1679.6,569.8 1676.6,567.1 1674,563.9 1671.3,560.9 1670.1,557.5 1668,554.7 1666.4,551.6 1665.4,548.2 1662.3,543.7 1657.8,541.2 1656.4,535.8 1653.2,531.4 1652.6,528 1651,525 1649.7,521.9 1648.5,518.7 1647.5,521.8 1646.2,524.6 1645.2,527.9 1646,531.4 1645.4,533.1 1643,533 1641,531.3 1639,529.6 1637.8,527.2 1635.8,524.2 1633.5,521.6 1633.6,518 1632.4,514.5 1631.8,511.8 1632.2,509.1 1630.2,507.2 1629.4,504.4 1632.9,504.3 1635.9,502.6 1639.3,502.4 1642.8,503.6 1643.5,500.8 1645.1,498.7 1645.2,495.7 1646.7,493.4 1648.7,491.1 1649.8,487.8 1650.4,484.4 1649.6,480.8 1651.2,478.2 1651.8,474.9 1652.2,471.6 1651.6,468.2 1651.5,465.5 1652.5,463.3 1651.5,460.7 1651.7,458.1 1648.8,458.6 1645.9,459.2 1642.8,457.8 1639.8,458.1 1636.1,458.1 1632.6,459 1629.2,460.4 1626.5,463.1 1622.8,461.1 1619.5,458.4 1615.9,459.3 1612.1,458.9 1609.4,459.3 1606.7,458.6 1604.2,459.5 1601.8,460.6 1598.9,460.1 1596.1,459.7 1593.5,458 1590.9,456.4 1589.6,453.5 1587.9,450.9 1586.5,448.2 1584.9,445.5 1583.5,443.4 1582.4,441.1 1581.2,438.8 1580.5,436.2 1580.3,434.8 1579.9,433.3 1579.5,431.9 1579.2,430.4 1580.8,430.3 1582.1,429.4 1583.5,428.6 1584.3,427 1588,428 1591.6,428.4 1594.8,426.8 1597.7,424.5 1598,422.5 1597.8,420.3 1602,423.3 1606.4,423.3 1610.8,423.2 1614.2,420.3 1617.7,419.5 1621.1,418.3 1623.3,414.9 1626.8,413.7 1629.4,412.4 1632.4,412.7 1635.5,413.8 1638.2,412.8 1640.5,415 1643,416.6 1645.5,418.3 1648.1,419.5 1651.7,420.7 1655.2,420.9 1658.7,422.4 1662.2,422 1664.7,421.6 1667.2,421.5 1669.8,421.1 1672.4,422 1675.2,421.4 1677.8,420.3 1680.5,419.3 1682.4,417 1682.4,415.1 1681.7,413.2 1681.5,411.2 1680.3,409.5 1677.1,408.8 1674,406.9 1671.6,403.6 1668.7,401.2 1665.6,399.9 1662.8,397.8 1659.8,396.3 1657.2,393.7 1655.2,391.7 1652.8,390.9 1650.6,389.3 1648.3,388.7 1646,387.5 1643.8,386.2 1645.9,384.8 1647.6,382.6 1649,380.3 1651.1,378.8 1652.6,376.6 1654.8,375.2 1656.4,373.2 1657.4,370.5 1654.9,371.8 1652.5,373.2 1649.5,372.4 1646.6,372.2 1642.7,372.7 1638.8,373.5 1636.1,376.6 1632.4,378 1632.5,379.5 1633,381.1 1632.8,382.6 1632.1,383.7 1634.5,382.8 1637.3,383.6 1639.9,384.7 1642.5,386.2 1641.5,387.9 1639.8,388.5 1638.2,389.2 1636.3,388.7 1633.4,388.6 1631,389.9 1629.7,392.7 1627.1,393.7 1624.9,392.5 1622.7,391.2 1620.7,389.9 1618.7,389.5 1616.9,387.7 1615.7,385.4 1618,384.9 1619.7,383.2 1621.5,381.7 1622.8,379.6 1619.9,378.3 1616.9,377.3 1614.3,378.4 1611.3,378 1609.5,377.9 1607.7,377.3 1606.1,376 1604.3,375.5 1603.4,376.9 1601.9,377.5 1601.5,379.2 1600.4,380.4 1599.7,382.2 1599,383.9 1597.8,385.1 1597.4,387.1 1595.3,388.3 1593.7,390.3 1592.5,392.6 1591.8,395.4 1591.5,398.2 1591.4,401.2 1590.5,403.9 1588.5,405.3 1588.2,407 1587.8,408.5 1588.2,410.3 1588,412 1588.2,413.8 1589.1,415.3 1590.1,416.8 1591.4,417.8 1593.1,417.9 1594.7,418.6 1596.2,419.7 1597.8,420.3 1595.9,420.1 1594.1,420.7 1592.1,420.7 1590.5,422 1589.2,422.5 1588.4,423.8 1587.3,424.5 1586.2,425.4 1584.4,425.8 1582.5,426.2 1580.6,426.5 1578.8,427 1577.5,425.2 1577,422.8 1574.5,423 1571.9,422.9 1569.3,422.5 1566.8,422.8 1565.3,423.5 1564.4,425.1 1563.6,426.7 1562.5,427.9 1563.8,429.2 1565.4,429.5 1563.3,428.9 1561.2,428.7 1559.1,428.3 1557,427.9 1555.9,429.8 1555.4,432.1 1556.3,433.8 1557.5,435.3 1558.3,437.2 1559.4,438.8 1560.7,441.2 1562.8,442.7 1564,445.1 1565.7,447.2 1564.3,447.1 1563,447.5 1561.5,447.3 1560.2,448 1559.9,450.5 1560.7,453 1560,454.6 1560.3,456.4 1560,458.1 1559.9,459.8 1557.8,459.7 1555.7,459.8 1554.5,458.6 1553,458.3 1551.6,457.7 1550.5,456.4 1549.2,454.7 1547.6,453.2 1547.1,451 1546.5,448.8 1547.5,447.9 1548.6,447.1 1549.8,446.2 1550.3,444.6 1549,443.1 1547.4,442.4 1545.8,441.7 1544.4,440.4 1543.1,438.6 1542,436.6 1540.2,435.6 1538.4,434.6 1536.7,432.6 1534.7,431 1533.2,428.8 1532.2,426.2 1532.5,423.7 1532.8,421.2 1532.1,418.7 1532.1,416.2 1529.8,415.5 1527.9,413.7 1525.9,412 1524.7,409.5 1521.8,409.1 1519,407.8 1516.4,406 1514.1,403.7 1511.6,401.4 1509.1,399.4 1506.3,398.3 1503.5,397 1501.1,395.2 1498.8,393.1 1497.4,390.1 1496.1,387.1 1494.7,387.9 1493.2,387.9 1491.8,388.7 1490.2,388.7 1490.7,387.4 1490.5,385.8 1490.3,384.4 1490.5,382.9 1488.3,384.1 1486,384.8 1483.7,385.7 1481.4,386.2 1482.2,387.8 1482.3,389.5 1481.7,391.1 1481.8,392.9 1484,395 1486.4,397 1488.6,399.3 1491,401.2 1493.2,403.2 1494.3,406.2 1495.6,409.1 1497.7,411.2 1500,412.3 1502.1,413.6 1504.4,414.7 1506.8,414.5 1508.2,414.6 1509.6,415.3 1509,417 1508.4,418.7 1510.8,419.6 1512.9,421.3 1515.2,422.1 1517.6,422.8 1519.8,424.7 1521.5,427.2 1523.8,428.7 1526.3,429.5 1525.5,430.6 1525.1,432.1 1522.5,431.9 1520,430.3 1518.4,427.5 1515.8,426.2 1515.2,427.9 1515.2,429.9 1514.6,431.6 1513.5,432.9 1515,433.7 1516.1,435.2 1517,436.9 1517.4,438.8 1516.5,440.2 1516.1,441.9 1514.6,442.4 1513.6,443.8 1513,445.1 1512.2,446.1 1511.4,447.2 1510.4,448 1509.1,447 1508.1,445.5 1509.1,443.9 1509.3,441.8 1509.8,439.9 1511.2,438.8 1509.8,436.9 1508.5,435 1508.4,432.5 1507.2,430.4 1505.4,429.5 1503.6,428.6 1502.3,426.8 1500.7,425.4 1499.6,423.8 1498.1,423 1496.5,423 1495,422 1493.2,422.4 1491.4,421.6 1489.9,420.1 1488.1,419.5 1486.8,418.2 1485.4,417 1484,415.9 1482.4,415.3 1480.3,413.9 1478.5,412 1476.4,410.5 1474,410.3 1472.9,409.2 1471.7,408.4 1471.1,406.8 1470.4,405.3 1470.2,403.3 1470.1,401.2 1469.1,399.5 1468,397.8 1465.5,397 1463.2,395.8 1460.6,395.6 1458.4,393.7 1457.2,395.1 1455.6,395.4 1454.7,397 1453.2,397.8 1452.1,398.9 1450.7,399.3 1449.3,399.1 1447.9,399.5 1445.8,400.5 1444.1,402.4 1442,403.4 1440,404.5 1437.8,404.8 1435.7,404.6 1433.7,403.4 1431.8,402 1429.6,402.7 1427.6,403.9 1425.2,404.2 1423.1,402.8 1422.2,404.5 1421.7,406.4 1420.4,407.6 1419.8,409.5 1420,412.2 1421.2,414.5 1419.3,415.5 1418.1,417.4 1416.1,418.1 1414.5,419.5 1411.9,420.3 1409.3,420.1 1407.5,422.5 1405,423.7 1403.5,426 1403.3,428.9 1401.2,430.1 1399.5,432.1 1398.9,434.4 1397.4,436.2 1398,437.6 1398.9,438.6 1400.1,439.3 1400.9,440.4 1399.5,442.3 1397.6,443.1 1396.2,444.9 1395.3,447.2 1394.8,448.9 1393.9,450.5 1391.7,452 1390.2,454.7 1388.2,456.8 1385.6,457.2 1381.9,460.5 1377.3,460.8 1372.9,460.1 1368.9,458.1 1367.3,459.5 1365.8,460.9 1364.3,462.3 1362.5,463.1 1361.2,462.8 1360.1,462 1358.9,462.1 1357.6,462.3 1356.9,461 1356,460 1355.4,458.6 1354.9,457.2 1353.3,456 1351.9,454.4 1350,453.9 1348.1,453.9 1345.6,455.3 1342.9,456.2 1340.3,455.1ZM425.5,201.1 430.8,200.5 435.4,200.4 432,204.6 434.1,206.1 435.6,208.8 433.4,213.5 440.3,212.9 442.1,215.5 444.7,216.8 443.2,220.4 444.4,222.6 450.5,221.4 448.1,222.6 445.8,224.1 443.6,225.1 441.6,225.8 435,228.9 428.3,232 422.4,234 419.1,233.9 411.2,236.7 407.7,235.9 406.7,233.6 405.2,231.7 405.5,230.7 406.4,229.5 407.8,228.1 409.7,226.5 405,227.2 402,226.7 402.1,224.4 400.9,222.8 396.6,224.6 392.7,225.8 391,225.4 387.2,226.5 381.8,230.2 403.4,215.5ZM2229.9,952.8 2233,949.8 2235.4,946.1 2239,944.3 2242.6,942.6 2245.5,942.6 2248.3,940.9 2251,941.2 2253.9,941 2257.8,939.4 2261.5,936.8 2265.5,935.5 2269.4,935.9 2273.2,934.2 2277.1,934 2280.9,932.3 2284.7,931.7 2288,928.8 2291.5,926.4 2293.3,922.2 2296.5,919 2296.4,917 2297,914.8 2297.6,912.6 2297.2,910.6 2299.4,911.6 2302,911.3 2304.4,911.8 2306.3,913.1 2306.4,910.8 2307.3,908.5 2307.4,906.1 2308.6,903.9 2311.8,901.5 2315.4,900.3 2318.5,897.5 2320.5,893.8 2323.1,892.2 2325.8,890.9 2327.2,888 2329.1,885.3 2332.2,886.4 2335.2,887.9 2338.2,889.6 2341.7,889.6 2342.6,891.9 2344.1,893.8 2346.6,893.2 2348.8,894.3 2351.3,893.6 2353.8,892.9 2355.3,890.4 2356.1,887.6 2355.7,884.8 2356.8,882 2359.4,879.7 2361.8,877.2 2364.6,875.1 2366.3,871.9 2368.5,870.8 2370.8,870.4 2373,870.7 2375.3,870.2 2376.6,868.3 2377.2,866.1 2379,865 2380.6,863.4 2385.1,864 2389.5,865.2 2393.3,867.8 2397.6,869.3 2400.9,870.3 2403.8,872.1 2407.2,870.1 2410.8,870.2 2410.3,873.6 2408.2,876.4 2406.2,879.4 2403.4,881.1 2402.9,884.2 2401.1,886.7 2399.3,889.2 2398.1,892.1 2401.3,893 2403.6,895.4 2405,898.7 2407.7,900.5 2411.3,902.5 2414.6,905 2416.8,908.9 2420.6,910.6 2422.5,913 2425.3,913.7 2428.4,913.8 2430.6,915.7 2433.6,913 2435.4,909.3 2436.9,905.6 2439.1,902.2 2441.3,898.1 2443.6,894.1 2445.2,889.6 2444.1,885.3 2444,882.2 2444.9,879 2446.5,876 2446.7,872.7 2448.3,869.1 2451,866.6 2450.9,862.9 2452.1,859.2 2453.5,861.3 2455,863.5 2455.9,866 2456.9,868.5 2457.2,873.8 2460.1,877.5 2459.9,882.7 2458.5,887.9 2461.1,890.1 2464.7,890 2467.4,891.8 2470,893.8 2470.8,896.7 2470,900 2469.9,903.2 2469.2,906.4 2469.3,911.6 2471.6,915.5 2471.6,920.6 2470.4,925.8 2473.1,925.8 2475.6,926.7 2476.9,929 2478.8,930.8 2482,931.9 2484.3,934.2 2486.2,937 2487.7,940.1 2488.7,943.1 2490,945.8 2489.3,949.3 2488.5,952.8 2489.7,956 2491.8,958.4 2493.2,961.4 2495.3,963.7 2497.4,967.8 2497.1,973.1 2500.1,976 2503.8,978 2504.9,980.8 2504.9,984.1 2504.7,987.5 2505,990.7 2503.9,994.4 2504.2,997.7 2502.2,1001.5 2502.1,1005 2501.6,1010.1 2498.3,1015.2 2495.1,1020.1 2490.9,1024.4 2489.4,1028.5 2486.2,1032.1 2483.5,1035.9 2480.6,1039.6 2476,1042.1 2472.3,1046.3 2468,1049.6 2464.5,1053.9 2460.8,1055.9 2457.7,1059.3 2455.7,1062.9 2453.2,1066.5 2451.2,1070.6 2448.6,1074.5 2445.7,1078.6 2441.6,1081.7 2437.5,1082.7 2433.1,1084.9 2429.3,1085.1 2424.9,1086.7 2420.4,1089.6 2416.3,1093.5 2412.5,1093.8 2407.9,1095.9 2407,1094 2404.6,1093.8 2403.2,1092.3 2401.8,1090.9 2398.5,1092.3 2395.2,1094 2392.5,1093.9 2389.6,1094.3 2385.4,1095.2 2382.7,1093.6 2380.8,1091.4 2378.1,1090.1 2374.9,1090.1 2372.8,1088.7 2372,1086.1 2371.3,1083.3 2372.9,1079.9 2372.9,1077 2374.5,1073.5 2374.2,1070.7 2371.2,1071.1 2368.5,1071.1 2366.1,1070.4 2364.9,1068.2 2367,1066.7 2368.6,1064.6 2370.1,1062.5 2372,1060.6 2374.3,1056.3 2375.4,1052.1 2374.1,1049.1 2373.8,1045.5 2372.4,1048.1 2370.2,1050.4 2369,1053 2367.3,1055.6 2365.1,1057.4 2363.3,1059.6 2361.3,1061.6 2359.9,1064 2357.6,1064.3 2356.2,1063.2 2354.9,1062 2354.8,1059.8 2352.9,1060.1 2350.9,1060.6 2349.8,1057 2351,1052.3 2349.6,1049 2348.4,1045.5 2346.7,1042.7 2343.3,1042.1 2341.9,1039.3 2339.8,1037 2337.4,1035.9 2336.4,1033.3 2334,1032.1 2330.8,1032.8 2327.6,1032 2323.9,1032.2 2320.3,1031.7 2316.2,1033.7 2310.1,1036.3 2304.6,1035.8 2298.7,1037.1 2292.7,1039.6 2289,1038.8 2284.7,1040.5 2280.4,1042.6 2276.3,1045.5 2274.5,1047.3 2273.2,1049.4 2271.4,1051.2 2269.7,1053.1 2265.4,1053 2261.3,1052.1 2256.7,1052.7 2252.5,1052.2 2249.3,1053.1 2246.2,1055.5 2243.2,1056.1 2240.2,1056.4 2237.1,1056.6 2233.8,1058.7 2230.6,1060.4 2227.4,1062.3 2223.2,1064.2 2219.4,1064.5 2217,1062.3 2213.7,1061.5 2212.3,1060.2 2211.9,1058.1 2210.5,1056.9 2208.6,1056.4 2210.5,1054.4 2212.2,1052.2 2213.9,1049.8 2216,1048 2218.5,1045.1 2219.5,1041.7 2220.2,1038.6 2221.2,1035.4 2221.9,1031.7 2222.8,1028.1 2221.1,1025.7 2220.3,1022.7 2220.2,1019.1 2221.9,1015.3 2221.4,1012 2221.8,1008.4 2220.6,1003.9 2218,1000.7 2219.2,995.5 2218.5,990.7 2219.8,986.4 2221.1,982.2 2221.9,977.9 2221.5,973.8 2222.7,970.6 2223.9,967.5 2225.8,964.5 2226.2,961.2 2226.9,959 2228,957 2229.1,954.9ZM1058.8,216.3 1053.8,218.5 1049.5,218.7 1044.3,221.9 1039.6,226.5 1037.6,223.2 1034.7,220.9 1031.2,219.1 1025.9,220.6 1028.9,222.1 1030.4,225.2 1030.1,229.6 1030.1,233.9 1030.8,235.5 1030.2,238 1029,240.5 1028.4,242.9 1022.7,243.9 1016.9,245.4 1011.8,244.9 1009,241.4 1011.4,243.4 1011.3,247.6 1013.6,249.5 1014.8,252.8 1011,254.9 1007.7,255.1 1004.6,255 1003.1,252.8 1000.6,248.9 996.5,246.9 991,247.3 986,246.7 984.1,243.7 980,243.5 977.8,241.1 976.7,237.7 970,240.9 965,240.3 961.5,237.9 958.1,235.4 958.8,233.8 958.9,232.5 958.6,231.4 958.5,230.2 959.7,229.9 961.1,229 962.4,227.8 963.6,226.5 966.2,229.8 971.6,229.6 977.3,228.4 983.3,226.5 985.9,223.7 988.9,221.5 990.5,218.5 992.8,215.5 994.3,212.9 996.6,210.5 999,208.3 1001.3,206.1 997.4,205.9 993.1,206.2 990.7,203.9 985.9,204.7 983.4,202.8 982.9,199.2 981,196.8 979.7,194.1 978.3,193.3 976.6,192.8 974.5,192.8 971.7,194.1 968.6,194.6 965.4,195.4 963.4,194.4 959.9,195.5 958.8,192.3 955,191.6 951.5,190.7 946,192.7 944.1,190.3 941.6,188.5 938.2,187.6 932.8,189.2 930.9,188.8 930.2,187.4 929,186.4 928.3,185 928.6,183.3 930.1,181 931.4,178.9 932.8,176.8 937.4,174.7 942.2,171.4 946,170.6 950.4,168.7 956,166.5 960,166.6 963.1,167.3 965.7,168.7 964.3,170.8 962.4,173.1 962.1,174.8 961.3,176.8 965.2,177.9 971.7,175.5 977.2,174.5 983.9,171.3 985.3,170 986.1,168.7 988.7,170.1 991.8,171.1 995.8,171.1 997.7,173.4 1000,174 1000.2,176.4 1003.5,175.7 1006.4,175.4 1008.2,176.7 1011.1,176.9 1010.5,180.1 1012.3,181.6 1016,182.1 1019.4,183.1 1021.5,185.4 1024.3,187.1 1028.4,186.7 1030.3,188.8 1030.9,192.2 1033.2,194.1 1033.5,196.3 1035,197.6 1035.1,200.2 1037,201.1 1037.2,203.1 1038.9,203.8 1039.1,205.8 1038.3,208.3 1042.5,207.1 1045.5,208.2 1046.9,211 1050,211.9 1052.1,213.4 1055.5,212.5 1057.3,214.2ZM831.4,201.1 839.1,198.7 843,200.6 850.8,197.7 858.1,195.5 858.9,193.2 858.8,191.5 859.3,189.4 860.5,187.1 859.6,184.1 857,182.4 860.7,177.1 861.2,173.4 857.7,172.2 850.8,174.6 847.2,173.7 844.6,172 840.3,171.1 833.6,172.5 827.6,172.9 818.7,176.8 808.7,178.8 802.7,177.1 799.3,173.6 790,174.7 786,177 782.3,178.7 778.4,180.9 774.6,183.6 775.7,185.1 777.7,185.9 779,187.4 777.5,190.6 780.1,192.1 779.7,195.7 784.3,195.5 786.2,197.6 781.3,200.3 777.7,201 774.5,201.3 771.8,201.1 777.3,199.9 779.6,201.7 782.5,202.8 784.6,204.7 792.3,202.2 799.5,200.4 802.7,202.7 807.7,203.3 812.5,204 818.3,203.6 825.1,202.1ZM751.2,185.7 751,183.3 749.8,181.5 747.4,180.7 744.6,180.2 751.1,175.7 757.8,172.2 764.4,168.7 771.1,165.3 778.9,163.2 786.4,161.2 790.8,161.8 793.9,163.3 798.5,163.8 802.5,164.8 805.3,166.6 805.9,170 799.6,171.8 793.6,173.3 786,176.9 778.5,180.2 775.3,178.3 769.1,178.8 761.3,180.7ZM1005.9,152.2 999,148.1 985.9,150.1 973.4,151.5 963.7,150.2 969.1,146.9 974.5,143.9 979.3,142.1 983.6,140.8 989,137.7 994.4,134.5 999,132.9 1003.2,131.8 1003.7,129.6 1003,128.1 1001.9,127 1000.6,126.1 995.9,126 993.1,124.7 991.5,122.4 987.1,122.2 995.3,120.1 1001.3,119.9 1008.5,118.6 1014.9,118 1033.2,113 1041.6,116.3 1056.7,113.6 1069.6,113 1078.1,115.4 1085.7,118.7 1101.1,114.1 1112.7,114 1116.2,114.4 1120.9,113.6 1123,115.4 1125.9,116.5 1122.8,116.5 1119.5,116.8 1115.1,119.1 1110.9,120.6 1106.7,121.4 1103.4,121.1 1099.1,121.9 1093.8,124.4 1087,126.8 1082.9,125.9 1075.3,129.9 1069.6,130.6 1064.9,130.5 1060.1,130.4 1052.3,134.4 1046.9,134.7 1044.2,136.1 1041.7,137.1 1038.9,138.9 1036.2,140.8 1033.5,140.6 1029.4,142.2 1025.2,143.8 1020.5,147.1 1016.7,148.6 1013.2,149.7 1009.2,151.4ZM970.7,139.6 964.7,138.3 961,135.5 957.8,132.4 955.6,128.9 964,125.6 971.3,123.5 977.2,122.6 982.6,122.2 983.1,125.9 989,126.1 994.2,126.7 997.2,128.9 993.6,131.4 989.8,133.7 986.1,135.6 982.3,137.7 978.3,139.3 976.1,139.1 973.4,139.3ZM998.7,160 988.4,160.3 978,160.7 967.7,161 957.3,161.3 946.9,161.7 936.6,162 940.4,159.2 943.6,156.1 945.9,153.2 949,150.2 950,152.5 953.6,152.8 956,154 958.2,155.4 967.4,152.6 971.2,154.9 977.3,155.4 986.9,151.5 991.1,152.4 991.8,156.3 995.5,158 1002.9,155.4 1002.4,156.5 1001.2,157.7 1000.1,158.9ZM868.4,160 860.9,162.2 856.9,161.2 852.4,160.6 844.4,163.3 835.3,163.5 826.9,163 821.2,160.7 815,158.7 818.7,156.9 822.3,155.2 826.1,153.1 829.7,151.5 835.6,152.7 839.8,155.1 849.1,153.7 860.8,150.2 866.6,149.8 866.9,153.1 872.2,152.8 876.4,153.5 874.1,155.1 872.3,156.7 870.4,158.4ZM893.3,180.2 885,181.9 875.1,186 871.5,182.9 863.8,183.6 868.2,180.4 872.1,176.8 874.9,173.3 877.6,170 883.5,169.2 890.1,167.7 895.5,167.4 900.1,168 897.7,171.3 896.5,174.1 895.2,177ZM930.2,176.8 920.9,180.1 916,178.2 908.3,179.4 901.1,180.2 904.9,176.6 908.2,173.1 912.6,170.1 916.7,166.6 924.8,164.2 931,163.7 934.9,165.5 939.6,166.6 937,169.2 934.2,171.7 931.8,174.3ZM913.5,160 904.9,160.8 895,162.9 890.4,160.3 887.3,156.7 892.7,155.4 898,154.3 904.8,151.5 911.3,149 916.2,148 920.7,147.3 924.5,147.4 924.5,150.2 921.9,152.7 918.8,155.1 915.6,157.6ZM879.8,204.7 874.6,204.8 868.1,206.8 868.1,202.2 863.8,201.1 866.4,200.4 869.5,198.7 872.4,196.4 875.4,194.1 877.5,194.9 877.8,197.1 880.2,197.8 884.3,196.2 883.1,198.4 883,200.1 880.7,202.5ZM942.5,237.7 937.8,237.7 933.7,237.1 927.5,241.4 921.9,242.9 916.7,241.9 913,239.3 908.1,238 901.4,239.2 905.1,236.2 908.7,232.8 912.3,229.7 915.8,226.5 919.6,225.3 923.8,222.5 927.5,221.6 929.6,222.8 932.4,225.1 935.4,227.3 936.1,231.6 939.1,233.9 940.4,234.5 941.7,235 942.5,236ZM1010.3,367.3 1016,367.8 1019.2,372.5 1024.4,373.9 1030.1,373.8 1035.6,371.9 1040,374 1044.6,374.9 1049.4,375.5 1050.9,373.8 1052.4,372.2 1053.5,370.2 1054,368.1 1054.1,365.3 1052.9,363.4 1051.5,361.8 1050.4,359.9 1051.3,357.6 1051.3,355.5 1051.6,353.3 1050.8,351.7 1048.6,350.2 1045.6,350.5 1043,349.9 1040.5,349.2 1040.9,346 1040.2,343.4 1041.1,340.1 1041.2,337 1039.1,338.3 1037.1,338.8 1035.1,340.3 1033.2,341.9 1030.6,344.2 1028.7,347.3 1026.2,349.7 1023.6,351.7 1021.1,355.7 1017.6,358.1 1014.6,361.3 1011.3,364 1011,365.6ZM594.4,360.7 590.8,360.5 588.5,358.7 586.3,356.9 582.2,357.4 581.7,352.3 578.1,349.9 576.4,345.9 574.9,341.9 577.1,341.9 579.9,340.8 581.9,340.8 583.9,341.1 586.3,342.4 589.8,342.6 592.2,344 592.1,347.6 593.3,348.9 594.8,350 595.8,351.6 595.4,354.1 595.4,355.7 594.3,357.7 594.3,359.2ZM780.3,581.9 784.2,579.4 787.7,576.3 791.8,574.1 796,573.5 800.4,575 805.2,573.1 809.7,573 814.3,572.7 820,576.3 825.8,579.9 831.2,584.3 838.2,585.3 842.8,588.9 846.2,594 851.4,596.6 857.3,597.1 851.2,598 845.1,599.8 839.1,598.6 832.9,599.6 831.7,598.5 830.7,597.3 830.4,595.5 829.9,593.7 826,592.5 822.6,590.1 819.6,587.1 816.4,584.5 812.8,583.2 809.9,580.5 806.2,579.7 802.6,578.6 798.8,578.4 795.1,580.4 791.4,581.1 787.6,581.9 785.9,581.4 784,581.6 782.2,581.5ZM854.2,612.3 857.9,612.8 861.5,610.8 865.2,611.4 867.9,614 870,614.4 871.4,616.1 873,617.3 874.8,618.2 880.8,618.1 886,614.1 891.7,613.1 897.3,614 895.9,611.4 895,608.4 893.5,605.8 890.9,604.7 886.6,604.6 882.8,602.9 879.6,600 875.3,599.6 872.6,598.2 869.6,598 866.7,599.4 863.6,599.6 864.9,601.6 865.5,604 866.8,606 868.6,607.2 864.9,607.6 861.1,607.8 857.9,610.8ZM825.5,613.1 829,614.7 832.8,613.8 836.1,615.6 839.9,615.7 838,616.5 836,617.3 833.5,616.3 830.9,615.2 828.1,615.6 825.2,615.7ZM907,612.3 909.7,612.3 912.4,612.9 915.1,613.2 917.9,613.1 916.9,615.7 914.3,616.6 911.7,616.2 909.2,616 906.6,615.7 906.7,614ZM1262.8,226.5 1266.5,224.5 1269.7,221.2 1273.3,221.1 1277,219.9 1280.1,219.5 1283.1,220.2 1285.8,221.8 1287.3,225 1290.3,223.6 1293.1,221.3 1296.1,221.4 1299.1,220.6 1302,219.8 1304.9,218.6 1307.6,219.1 1310.5,219.2 1313.4,220.2 1316,221.9 1318.7,223.7 1320.8,226.5 1320.8,228.4 1320.4,230.2 1320.5,232.1 1319.9,233.9 1316.1,235.2 1312.4,235 1309,238.5 1305,239.2 1301.4,238.6 1297.7,238.3 1294,240.1 1290.3,242.2 1286.6,242.4 1283.1,241.6 1279.9,239.9 1276.4,239.2 1274.7,238.9 1273.3,237.7 1271.6,237.6 1269.8,237.7 1270.9,236.6 1272.1,235.6 1273.3,234.8 1274.5,233.9 1271.8,233 1269,232.7 1266.7,230.7 1263.7,231 1266.6,230.7 1269.6,229.3 1272.5,229.1 1275.4,228.7 1271.9,229.2 1269.2,227.2 1266.3,225.9ZM1362.7,347.6 1366.1,345.7 1369.6,344.1 1373.3,344.3 1376.9,345.2 1379.6,342 1383.1,341.1 1386.5,341 1389.9,341.9 1394.7,341.4 1398.6,337.8 1403.2,336.1 1407.8,337.8 1406,336.3 1404,335.4 1406.2,333.7 1408.3,331.8 1409.7,329 1410.3,325.7 1407.9,326.3 1405.6,325.9 1403.4,324.8 1401.4,323.3 1401,320.6 1399.5,318.5 1397.4,316.7 1396.1,313.9 1394,312.3 1392,310.5 1391.2,308.7 1390,307.3 1389.8,305.3 1389.6,303.3 1388.6,302.4 1387.6,301.6 1386.9,300.4 1385.9,299.4 1384.7,299.6 1383.4,299.6 1382.3,298.7 1381,298.6 1382.3,296.6 1384.2,295.4 1385.5,293.7 1386.4,291.5 1387.3,289.2 1387.3,286.8 1384.4,285.4 1381.3,286.4 1378.2,286.2 1375.2,286 1376.5,284.3 1378.1,283.2 1379,281.1 1379.6,278.9 1377,279.5 1374.5,278.4 1372,278.9 1369.4,278.9 1368.3,281.2 1366.8,283.2 1365.3,285.2 1364.2,287.5 1365.3,289.1 1365.6,291.2 1365.5,293.3 1365.8,295.4 1364.6,295.5 1363.6,295 1362.5,295 1361.5,295.4 1363.1,296.8 1363.8,299.1 1364.8,301.1 1365.5,303.3 1366.5,303.9 1367.6,304 1368.7,303.4 1369.8,303.3 1369.1,304.5 1368.8,306 1368.5,307.4 1368.4,308.9 1370.7,309.8 1373.1,310.2 1375.5,309.4 1377.7,308.1 1378.4,309.9 1379.4,311.6 1379.7,313.6 1380.7,315.3 1380.1,317.7 1379.4,320.1 1377.3,320.5 1375.3,321.2 1373.3,320.4 1371.1,320.9 1372,323 1372.9,324.9 1373.3,326.9 1372.8,328.9 1371.5,330.4 1369.8,331.1 1368,331.5 1366.4,332.2 1368,332.4 1369.6,333.2 1371.1,334 1372.7,334.6 1374.7,333.7 1376.7,334.2 1378.7,334.7 1380.3,336.2 1378.1,336.9 1375.9,336.8 1374.1,338.7 1371.9,339.5 1369.7,341.9 1366.9,342.8 1365.3,345.9ZM1335.7,334.6 1338.1,334.5 1340.4,334.9 1342.8,335.5 1345.2,334.6 1348.7,332.7 1352.3,331.6 1356,331.5 1359.5,329.7 1360.4,327.6 1361.5,325.6 1361.7,323.3 1361.7,320.9 1362.1,318.3 1363.5,316.2 1364.1,313.8 1364.6,311.3 1363.8,309.5 1362.7,308.2 1361.7,306.8 1360.4,305.7 1357.5,307.1 1354.5,306.3 1351.6,305.6 1348.6,305.7 1347.4,306.8 1346.5,308.4 1346.2,310.2 1345.8,312.1 1343.7,313.2 1341.4,313.8 1339.1,314.5 1336.9,313.7 1336.4,315.6 1336.6,317.5 1337,319.3 1337.7,320.9 1338.2,322.2 1338.4,323.8 1338.9,325.1 1339.3,326.5 1338.1,327.7 1336.6,328.5 1335.4,329.7 1334,330.6 1335.2,332.3ZM1450.8,131.8 1457,134.6 1463.2,134.1 1469.3,133.3 1473.5,128.9 1479.7,129.5 1486.1,132.2 1492.2,131.6 1496.1,127.2 1503.8,131.1 1511.1,131 1517.6,129.4 1523.9,127.7 1520.3,128.1 1517.3,129.5 1515.2,132.3 1512,133.5 1508.3,133.7 1504.7,133.8 1501.9,135.8 1499.1,137.7 1496.7,138.6 1494.6,140 1492.2,141 1491.1,143.9 1488.8,145.1 1486,144.9 1484.1,146.7 1482.5,149 1479,147.2 1476,144 1472.5,142.9 1469.4,143.9 1466.1,142.2 1462.8,140.9 1459.6,139.4 1456.4,137.7 1455,136.1 1453.3,135.2 1452.3,133.2ZM1670,183.6 1672.4,183.8 1675.1,184.9 1677.8,187.1 1680.6,189.2 1686.2,188 1690.3,184.8 1696.9,185.6 1704.4,189.2 1701.2,187.8 1697.9,186.3 1695,183 1691.7,180.2 1690.4,177.6 1688.8,175.1 1688.1,172.5 1686.1,170 1688.9,168.8 1689.3,165.4 1693.1,165.7 1694.7,163.3 1696.2,159.6 1700.7,159.3 1703.1,156.6 1707.8,156.7 1713.7,154.6 1720.1,153.1 1723.2,148.3 1731.5,149 1732.6,148.8 1733.8,148.7 1734.1,147.7 1734.7,147.1 1730.1,146 1727.6,147.3 1723.2,146.3 1719.1,145.8 1713,147.2 1705.7,147.3 1699.1,148.2 1693.3,150.2 1690.8,153.2 1687,155 1682,155.2 1678,156.7 1676.3,158.6 1673.8,159.7 1673.1,162.7 1673.9,166.6 1673,168.8 1672,171 1671.7,173.8 1671.7,176.8 1670.8,178.1 1669.8,179.3 1669.2,181.1ZM1844.7,133.5 1852.8,135.2 1863,139 1867.8,137.9 1876,139.6 1877.2,136.6 1884.2,137.7 1891.4,139.1 1897.4,139.6 1894.3,137.4 1891.1,135.3 1887.8,133.7 1884.4,131.8 1873.3,127.6 1867.4,127.8 1859.1,126 1851.2,124.4 1847.4,126 1847,129.7 1839,128.1 1830.5,126.1 1833.9,127.6 1837.5,129.5 1841.1,131.2ZM2082.8,158 2089.9,157.8 2099.2,158.9 2107.7,159.5 2115.9,160 2121.7,158.2 2127.7,156.5 2139.3,158.3 2148.8,158.7 2137.2,154.4 2128.9,152.6 2122.1,151.7 2120.1,153.5 2117.6,156.3 2108.6,155.5 2099.7,154.6 2090.5,153.5 2088.3,154.6 2091.5,158.5 2087.7,158.6ZM2115.9,170 2116.4,167.8 2121.5,168.5 2128.6,171 2133.2,171.3 2130.4,170.3 2127.5,169.3 2124.3,167.9 2121.2,166.6 2117.6,166.1 2116.3,167 2115.2,168ZM1629.9,127.7 1641.7,131.9 1651.7,132.4 1656.3,126.8 1666.8,127.7 1672,128.4 1676.9,128.5 1679.8,126.6 1682.4,124.4 1673,123.5 1661.1,117.6 1655.7,120.5 1648.3,121.7 1641.5,123 1634.9,124.8 1627.7,126.2 1618.5,124.4 1621,124.5 1623.9,125.5 1627,126.9ZM2343.9,187.8 2346.8,188.3 2350.2,189.2 2352.2,189.1 2351.8,187.8 2344.8,183.6 2344.8,184.7 2343.4,185.1 2340.4,184.5 2339.2,185 2341.7,186.4ZM447.2,187.8 450.4,187.9 457.1,185.8 458.7,186.8 461.6,187.1 462.9,185.8 464.6,184.3 460.5,185 458.3,184.6 457.9,183.2 454.2,183.6ZM2340.9,380.4 2344.3,381.4 2346.2,380.2 2347.8,378.8 2347.9,376.3 2345.2,373.1 2342,370 2338.4,367.3 2335.7,364 2336.7,361.6 2335,357.7 2337.4,356.7 2338,354.1 2335,353.1 2331.7,351.3 2328.4,349.8 2325.1,347.6 2322.8,342.8 2318.9,337.6 2315.2,332.3 2309.4,327.3 2305.4,323.7 2302.7,320 2298.2,317.4 2294,313.7 2295.2,316 2294.7,317.3 2293.9,318.4 2292.8,319.3 2296.1,323.5 2300.8,327.5 2303.8,331.7 2305.5,335.4 2311,340.2 2315.9,345.4 2321,350.5 2324.3,355.8 2326.3,358.9 2327.2,361.8 2329.7,364.9 2332.1,368.1 2335.4,371 2337.3,374.3 2339.1,377.3ZM2352.2,417.8 2353.8,417.1 2355.6,416.8 2357,415.9 2358.8,415.3 2360.8,413.3 2364.8,413.7 2368.3,413.5 2372,413.7 2372.2,409.5 2374,406.6 2376,403.8 2379.7,402.8 2376.3,400.5 2373.1,399.4 2369.8,397.6 2366.5,395.4 2361,393.8 2355.7,392.7 2349.8,387.9 2343.8,384.6 2344.1,387.3 2345.4,390.5 2346.9,393.7 2348.9,397 2350,399 2350.4,400.9 2350.3,402.3 2349.9,403.7 2348.8,403.8 2348,404.4 2346.4,403.6 2345.2,403.7 2345.8,405.7 2345.5,407.2 2346.4,409.3 2346.6,411.2 2348,413 2348.8,414.7 2350.6,416.1ZM2321.5,480.8 2323.8,482.1 2326,482.5 2327.8,481.9 2329.6,481.6 2331.8,480.5 2334.6,480.4 2336,478.4 2338.4,477.4 2340.8,477 2343.3,476.7 2345.3,475.4 2348.2,475.8 2349.8,478.1 2350.1,480.4 2351.8,482.6 2353,485 2354.8,482.7 2356,479.7 2359.2,479.2 2361.6,477.4 2362.7,477.2 2364,477.2 2365.2,476.8 2365.7,475.8 2368.5,477 2371,477 2373.3,476.7 2374.5,474.9 2375.8,474.1 2377.5,473.8 2379,473.2 2380.3,472.4 2381.7,470.8 2384.1,470.8 2384.1,468.3 2385.2,466.5 2384.5,463.7 2383.8,461 2382,458.2 2379.7,455.6 2379.6,452.9 2378.9,449.9 2379.7,447.7 2378.8,444.6 2378.5,442.2 2377,439.5 2375.9,436.8 2375.9,434.6 2373.9,432.4 2371.7,430.4 2370,428 2367.5,426.2 2366.1,424.2 2365.7,422.3 2364,420.4 2362.2,418.7 2361,419.6 2359.1,419.7 2357.4,419.9 2355.8,420.3 2357.5,423 2357.9,425.4 2358.1,427.7 2359.7,430.4 2360.5,432.8 2361.3,435.3 2362.9,437.9 2364,440.4 2361.6,441.9 2361.4,445.3 2362.4,449.4 2361.3,452.2 2358.8,451.2 2356.4,450.7 2354.7,451.3 2352.5,451.4 2351.9,452.2 2351.3,453 2351.1,455 2351.3,457.2 2350.7,459.3 2351.4,462 2350.5,463.8 2350.9,466.5 2348.9,466.2 2347.6,467 2345.9,467.1 2343.9,466.5 2340.7,467.3 2336.5,465.7 2334.1,467.6 2330.3,467.3 2329.4,469 2328.4,470.6 2326.7,471.3 2326,473.2 2324.7,474.4 2322.8,474.7 2321.8,476.1 2320.8,477.4 2321.4,479.2ZM2318,484.2 2320.7,484 2322.8,483 2325.5,482.7 2328.6,484.2 2329.2,485.9 2330.6,487.5 2331.6,489.2 2332.1,490.9 2332,493.7 2333.3,496.9 2332.9,499.6 2333.9,502.7 2332.8,503.5 2331.1,503.3 2329.9,504 2329.2,505.2 2327.8,502.5 2326.7,499.8 2324.5,497.5 2322.5,495.1 2321.3,493.3 2320,491.6 2318.3,490.3 2316.6,489.2 2317.3,488.3 2317.4,486.8 2317.5,485.4ZM2333.2,481.6 2337,481.8 2340.4,481.1 2342.9,478.9 2346.8,479.1 2347.4,481.1 2347.7,483 2347.5,484.7 2348,486.7 2346.5,488.2 2345.2,489.9 2342.4,489.5 2340.6,490.9 2339.2,489.5 2337.8,488.1 2336.2,487 2334.6,486.7 2334,484.2ZM2275.3,555 2277.1,555.6 2278.8,556.7 2280.6,557.2 2282.2,556.7 2282.9,560.7 2282.1,564.3 2281.9,568 2281.9,571.8 2280.8,574.1 2280.8,576.9 2279.8,579.3 2279.4,581.9 2278.1,579.7 2277,577.3 2275.6,575 2273.5,573.5 2272.7,570.6 2273.2,568 2273.7,565.4 2273.4,562.6 2274.2,560.9 2274.8,559 2275.6,557.2ZM2195,604.7 2197,602.8 2199.3,601.5 2201.8,600.3 2203.4,598 2205.5,598.6 2207.6,598.4 2209.5,599.7 2211.3,601.3 2209.6,603.2 2208.6,605.8 2207.4,608.3 2207.8,611.4 2205.4,611.6 2202.9,611.2 2201,612.8 2198.5,613.1 2197.3,611.2 2196.7,608.9 2195.4,607ZM2282.6,611.4 2285.8,611.5 2289,613.2 2291.8,611.7 2295.2,612.3 2294.8,616.2 2296.1,620.3 2298.4,624.1 2298.6,628.3 2297.8,630.6 2296.6,632.7 2294.7,634.1 2294.1,636.7 2295,639.5 2296.3,642.1 2296.9,644.9 2297.8,647.7 2301.1,648.7 2304.4,648.8 2307.5,650.9 2310.8,651 2311.8,653.3 2313.3,655.2 2313.9,657.6 2315.6,659.5 2313.8,658.2 2311.9,657.1 2309.8,656.6 2307.8,656.1 2306.6,655 2305.2,654.3 2303.7,654.4 2302.3,653.6 2299.7,652.9 2297.5,650.9 2294.9,651 2292.4,651 2290.9,648.7 2290.2,646 2288.2,644.1 2286.1,642.6 2284.6,639.8 2283.9,636.8 2282.5,633.9 2282.1,630.8 2283.8,626.5 2284.7,621.7 2283,616.6ZM2305.2,708.4 2307.9,705.1 2310.9,702.2 2312.3,697.8 2315.4,694.9 2319.2,692.5 2323.5,691.6 2326,687.7 2329.4,684.8 2331.9,688.4 2333.4,692.6 2336.1,696 2338,699.9 2337.8,703.3 2336,705.9 2336.5,709.2 2336.7,712.6 2335.8,714.8 2334.4,716.8 2332.9,718.6 2331.2,720.2 2329.1,717.9 2327,715.6 2324.1,714.9 2321.8,712.6 2320.6,710.1 2318.9,707.9 2317.9,705.3 2316,703.3 2314,705.3 2312,707.3 2309.3,707.9 2306.8,709.2ZM2323.3,662 2324.8,664.9 2327.1,667.1 2328.6,669.9 2329.7,673 2328,672.8 2326.3,672.9 2324.6,672.7 2322.9,672.1 2323.8,669.7 2324.6,667.3 2324.5,664.6ZM2301.8,667.9 2303.7,668.1 2305.7,668.7 2307.6,669.4 2309.4,670.4 2309.3,672.9 2309.2,675.3 2307.9,677.1 2306.6,678.9 2304.5,676.9 2301.9,676.3 2301.2,674.2 2301.6,672.1 2301.2,669.9ZM2269.5,695.7 2271.6,688.5 2277.1,684.3 2282,679.4 2283.7,672.1 2283.6,674.5 2284.3,676.9 2283.3,679 2283.1,681.4 2281.6,685.5 2278.8,688.4 2276.7,692.2 2273.1,694 2271.4,695.3ZM2210.5,754.7 2212.1,754.3 2213.4,753.1 2214.8,752.1 2215.6,750.5 2218.8,749.4 2221.5,747.2 2224.4,745.3 2227.3,743.8 2230.4,742.4 2233.2,740.3 2236.5,741.2 2239.9,740.4 2243,737.3 2244.3,732.7 2247.1,729.4 2250.5,726.9 2252.1,721.9 2255.3,718.1 2258.9,714.9 2260.8,710 2262.8,709 2264.9,707.9 2267.3,707.3 2269.6,708.4 2270.9,709.9 2272.4,711.2 2273.1,713.1 2273.7,715.1 2276.7,717.5 2278.6,721 2281.7,723.4 2285.3,723.5 2284.3,726.6 2282.1,728.8 2279.6,730.5 2276.7,731.1 2276.3,733.9 2275.2,736.4 2274.8,739.2 2274.9,742.1 2277.5,746.1 2280.1,750.1 2283.3,753.9 2284.2,758.9 2282,759.3 2280.4,760.9 2278.2,760.5 2276.1,761.5 2275.5,764.6 2274.3,767.6 2274.9,770.9 2273.9,774.1 2271.6,774.8 2269.8,776.5 2267.7,777.9 2266.3,780 2267,783.6 2267.8,787.2 2267.4,790.9 2265.9,794.3 2264.8,795.9 2263.6,797.4 2262.2,798.6 2260.5,799.4 2257.9,799.9 2255.8,801.9 2253.4,800.9 2250.8,801.1 2248.4,798.7 2246.2,796 2242.9,795.7 2239.9,794.3 2237.4,794 2235,795.2 2232.6,794.5 2230.2,795.2 2227.3,794.2 2224.4,794 2221.8,792.3 2219.2,790.9 2218.3,787.8 2216.9,784.9 2218.1,781.7 2218,778.3 2216.3,775.8 2213.8,774.7 2212,772.5 2210.7,769.9 2210.2,765.9 2211.6,762.3 2210.8,758.5ZM2107.6,720.2 2112,720.9 2116.1,719.4 2119.8,722.1 2124,723.5 2125.8,727.1 2127.5,730.6 2129.9,733.9 2133.4,735.3 2137.5,737.7 2140.7,741.5 2144.4,744.7 2147.1,748.8 2149.1,750.7 2151.5,751.4 2153.9,752 2156.2,753 2159.3,755.7 2163.2,756.6 2165.8,759.8 2168.2,763.1 2168.7,766.6 2170.5,769.3 2170.8,772.7 2171.9,775.8 2173.2,777.6 2174.7,779.4 2175.9,781.3 2176.9,783.4 2180.4,784.5 2183.5,786.3 2186.5,788.8 2187.9,792.6 2188.3,798.8 2189.8,804.7 2187.2,810.2 2185.5,816.2 2183.2,815.1 2180.7,815 2178.3,816 2175.8,816.2 2172.4,811.9 2168.3,808.3 2164.8,803.8 2160.1,801.1 2159.2,796.8 2157,793.3 2154,790.7 2150.8,788.4 2148.9,785.7 2148.1,782.2 2147.1,778.9 2145.8,775.8 2143.3,772.6 2142.1,768.5 2139.2,765.8 2136.2,763.1 2134.8,760.6 2133.7,757.9 2133.4,754.9 2132.3,752.2 2130.4,749.3 2128.2,746.7 2125.4,744.8 2123.2,742.1 2122.2,738 2119.6,734.9 2116.5,732.9 2113.2,731.1 2111.5,728.4 2109.2,726.4 2108.7,723.2ZM2180.6,824.7 2183.5,823.8 2185.9,821.9 2188.4,820.2 2190.6,817.9 2194,820 2197.4,822.1 2201.4,821.6 2205.2,823 2209.4,821.3 2213.8,821.7 2218.1,820.4 2222.4,821.3 2224.8,824.7 2228.6,825.7 2232.4,826.9 2236.2,825.5 2238.9,828.4 2242,830.6 2245.5,832 2249.1,833.1 2247.9,834.7 2247.6,836.8 2247.2,838.7 2247.1,840.7 2243.5,837.9 2239,837.4 2234.6,839 2230.2,838.1 2225.5,837 2220.5,837.9 2216.5,834.9 2212,833.1 2208.3,832.5 2204.5,833.7 2200.7,833.9 2197.2,832.2 2195.1,831.6 2192.9,832.1 2191.1,830.8 2189.2,829.7 2187.7,827.5 2185.5,826 2183.2,824.9ZM2291,760.6 2292.5,758.6 2294.4,757 2296.8,757.5 2299.1,756.4 2303.1,755.4 2307.1,756.9 2310.8,758.9 2314.8,759.8 2318.3,757 2322.5,755.8 2326.8,755.1 2331,754.7 2329.6,756.9 2328.1,759.1 2327.1,761.5 2326,764 2323.5,765.8 2320.5,765.9 2317.5,765.6 2314.8,764 2311.1,764.9 2307.4,766.5 2303.5,766.2 2300,764 2297.8,766.5 2296.7,769.8 2294.3,772.2 2292.4,774.9 2294.7,775.9 2297.2,776.3 2299.7,776.8 2302.1,775.8 2305.8,777.1 2309.6,777.8 2313.7,777.7 2317,774.9 2316.5,776.7 2315.2,777.9 2314.4,779.6 2313.2,780.8 2311.3,781.4 2309.4,782.1 2307.4,782.1 2305.7,783.4 2306.8,786.8 2308.7,789.6 2309.4,793.2 2309,796.8 2311,798.7 2313.4,799.9 2313.7,802.9 2315.3,805.3 2314.7,807.5 2314.3,809.8 2313.2,811.8 2311.9,813.7 2310.4,811.3 2308.1,809.9 2305.8,808.6 2303.3,807.8 2301.6,806.2 2300.1,804.4 2299.3,802 2299.2,799.4 2298.1,797.3 2296.8,795.3 2295.3,793.5 2295,790.9 2292.5,796.6 2291.5,802.7 2293.6,808.4 2294,814.5 2292.6,813.5 2290.8,813.4 2289.1,814.1 2287.4,813.7 2286.4,809.5 2285.6,805.3 2287.6,801.3 2288.1,796.8 2286.4,796 2285.1,794.5 2283.7,793 2283.1,790.9 2285.8,783.3 2285.2,775.1 2286.6,767.1ZM2314.2,854.2 2315.9,851.3 2317.2,848.3 2319.9,846.9 2322.4,844.9 2327.5,842.5 2332.9,842.6 2337.6,839.4 2343,838.1 2342.1,840 2340.5,841.2 2338.7,841.7 2337.4,843.2 2333.8,846.5 2330,849.4 2326,852 2321.6,853.3 2319.8,853.2 2317.9,853.9 2316.1,853.4ZM2259.9,838.1 2265.6,836.4 2271.1,834.1 2277,834 2282.3,836.5 2282.5,839 2281.9,841.5 2277.6,841.4 2273.7,843.6 2269.5,844.1 2265.4,843.2 2264,842 2262.9,840.3 2261.4,839.2ZM2288.1,838.1 2294.2,836.4 2300.2,833.8 2305.8,836.5 2311.9,837.3 2311.1,839.5 2310.1,841.5 2304.8,843.2 2299.5,844.8 2294.1,844.6 2289.2,842.4 2289,840.1ZM2281.5,846.6 2285.2,845.2 2288.8,846.3 2292,848 2294.5,850.8 2293.2,852.1 2291.6,852.9 2290,852.6 2288.3,853.3 2286.3,852 2284.2,850.9 2282.8,848.7ZM2351.5,791.8 2356,795.4 2361.5,796 2366.9,795 2372.3,794.3 2370.8,795.4 2369.6,796.9 2368,797.8 2366.2,797.7 2362.4,797.3 2358.9,796.2 2355.1,795.9 2351.4,796 2351.8,793.9ZM2348.1,752.2 2350.2,753.8 2352.2,755.4 2354.6,756.1 2357.1,756.4 2355.7,759.3 2353.2,761 2351.9,764 2352.1,767.4 2351.2,769 2350.9,770.9 2350.2,772.7 2349,774.1 2348.8,770.7 2348,767.4 2348.1,764 2347.5,760.6 2347.8,758.5 2347.8,756.4 2348.2,754.3ZM2374.3,774.1 2377.1,773 2379.7,771.4 2382.7,771.9 2385.5,770.7 2387.9,772.7 2390.7,774 2393.6,774.6 2396.6,774.1 2397.5,777.6 2397.8,781.2 2398.5,784.8 2398.5,788.4 2401,789.5 2403.3,791.1 2405.7,792.5 2407.2,795.2 2412.2,793.5 2415.5,788.8 2419.7,785.6 2422.5,780.8 2425.3,782.1 2428.3,781.6 2430.8,783.2 2433.6,784.2 2437.6,784.8 2440.7,787.5 2444.5,788.5 2448.3,789.3 2452.4,789.8 2455.9,792 2459,794.8 2462.9,796 2465.2,798.1 2467.9,799.7 2470.9,799.3 2473.9,800.2 2476,803.3 2478.7,805.6 2481.9,807 2484.5,809.5 2487.4,811.3 2490,813.5 2492.8,815.4 2495.2,817.9 2494.1,819.5 2494,821.4 2493.1,823 2492.4,824.7 2495.6,827.5 2496.5,831.9 2498.4,835.7 2500.9,839 2502.9,844.7 2506.4,849.4 2512.2,849.9 2516.3,854.2 2514.8,855.1 2513.2,855.9 2511.7,856.9 2510,857.5 2506.1,857.2 2502.2,857 2498.8,855 2495.8,852.5 2493.9,849.3 2491.5,846.5 2488.9,843.9 2485.7,842.4 2483.7,838.7 2480.8,836 2477.8,833.4 2474,832.2 2471.7,834.5 2469.1,836 2466.2,836.8 2463.8,839 2462.2,840.2 2461.2,842 2460.3,843.9 2459.4,845.7 2455.4,845.5 2452.5,842.7 2448.7,844.2 2444.8,844 2441.5,841.2 2439,837.5 2434.6,837.3 2430.7,835.6 2428.8,835.8 2427,836.8 2425.1,837.1 2423.1,837.3 2423.2,834.3 2421.7,832 2422.1,829.2 2422.5,826.3 2424.5,826.2 2426.2,824.8 2428.1,825.2 2430.1,824.7 2429.2,821.6 2427.2,819.4 2426.3,816.4 2424.8,813.7 2420.8,812.7 2416.7,811.9 2414.1,808.3 2410.4,806.1 2406.6,804.4 2402.4,805 2399.7,801.7 2395.8,800.2 2393.5,801 2391.2,800.3 2389.2,801.9 2386.8,801.9 2385,799.6 2384.4,796.6 2383.4,793.8 2381.3,791.8 2384.2,790.3 2386.4,787.8 2389.5,786.8 2392.6,787.6 2389.6,786.8 2386.7,788.1 2384.4,785.9 2381.5,785 2379.4,784 2377.6,782.5 2375.5,781.4 2374.2,779.1 2374.1,776.6ZM2501.3,815.4 2503.6,812 2507.2,810.5 2510.7,809.3 2514.3,809.5 2517.4,806.2 2521.3,804.3 2525.4,802.9 2529.5,802.7 2529.7,804.5 2530.1,806.3 2530.8,807.8 2531.4,809.5 2529.6,812.7 2526.8,814.5 2524,816.4 2521.2,817.9 2517.1,818.5 2513.8,821.5 2510,820.8 2506.1,820.4 2504.4,820 2503.1,818.7 2502,817.2ZM2521.2,789.3 2525.3,792 2528.3,796.1 2531.3,800.2 2535.5,802.7 2533.9,804.4 2529.2,802.9 2525,800 2521.4,796.3 2519.6,790.9ZM2548.9,813.7 2549.1,817.8 2551.4,820.8 2554,823.1 2557,824.7 2555.6,825.6 2554,825.5 2552.7,822.8 2550.8,820.7 2549.4,818.1 2547.3,816.2 2547.9,814.8ZM2614,1057.3 2615.4,1059.6 2618.2,1060.4 2618.4,1063.6 2620.9,1064.8 2622.5,1066.9 2623,1069.8 2623.3,1072.8 2622,1076.6 2621.4,1078.7 2621.8,1080.2 2621.7,1082 2620.6,1084.2 2625.1,1082.4 2629,1082 2630.9,1084 2634.5,1084.2 2634.4,1086.4 2635.7,1087.5 2632.5,1089.5 2629.5,1092.2 2626.8,1095 2623.9,1097.6 2622,1098.3 2620.3,1098.7 2618.5,1099 2616.5,1100.1 2615.4,1102.3 2613.3,1104.5 2611,1106.3 2609,1108.5 2604.4,1112 2599.9,1114.1 2595.1,1117 2591.1,1117.7 2590.4,1117.1 2589.1,1117.2 2588.8,1116.3 2588.9,1115.2 2591.4,1112.6 2594,1110 2596.9,1107.5 2599.9,1106 2599,1104.5 2597.8,1103.2 2597,1101.5 2595.9,1100.1 2595.9,1099 2596.3,1097.6 2599,1096 2601.5,1093.9 2604.1,1092.3 2606.6,1091.7 2608.9,1088.6 2610.7,1085.4 2612.1,1082.3 2614.8,1079.1 2615.4,1076.7 2614.4,1075.3 2614.2,1073.3 2615.2,1070.7 2614.9,1068.3 2612.9,1067.5 2612.6,1065.1 2613.2,1062.3 2613,1060.1ZM2581,1108.5 2582.8,1110.4 2585.3,1111.6 2584.5,1115.3 2584.3,1118.5 2579.6,1122 2574.9,1124.2 2570.5,1128.1 2565.6,1131 2563,1133.6 2560.2,1136 2557.3,1136.4 2553.7,1137.8 2550,1139.4 2546.8,1140.2 2542.6,1143 2538.4,1146.1 2535.6,1149.8 2531.9,1153.4 2528.4,1155.6 2525.1,1157.4 2522.5,1157.5 2519.1,1159.2 2517.1,1159.2 2515.1,1159.2 2513.2,1159.1 2511.1,1159.2 2508.5,1158.6 2505.7,1158.2 2504.3,1156.3 2503.3,1154.3 2506.1,1152.3 2508.8,1150.7 2511.2,1148.4 2513.3,1146 2517.4,1144.5 2521.3,1143.2 2525.7,1139.9 2530,1137.7 2535,1135.8 2539.5,1135 2544.6,1132.9 2550.1,1129.4 2553.6,1127.3 2556.7,1124.4 2559.9,1123.1 2563.4,1121 2566.4,1118.3 2569.6,1116.7 2572.1,1113.9 2574.3,1111 2576.1,1110.4 2577.3,1110.7 2579.2,1109.2ZM2388.4,1110.2 2391.5,1110.2 2394.3,1110.9 2395.7,1113 2398.6,1113.5 2401.8,1113.3 2404.9,1113.3 2408.3,1112.8 2411.9,1111.9 2410.8,1114.5 2409.1,1117.3 2407.3,1120.1 2404.8,1122.7 2401.8,1124.7 2399,1127.3 2396,1129.4 2393.2,1131.9 2390,1132.7 2386.5,1134.5 2383.4,1135 2381.9,1133.5 2382.2,1131.4 2382.4,1129.4 2382.7,1127.2 2382.8,1125.2 2382.4,1123 2383.8,1120 2384.3,1117.4 2385.8,1114.4 2386.9,1112.3ZM1764,868.5 1766.7,875.6 1770,882.3 1769.9,890.1 1769.8,898 1768,901 1766.5,904.3 1765.1,907.7 1763.1,910.6 1759.9,916.7 1756,922.3 1753.3,928.9 1754,935.9 1751.1,943.1 1748.3,950.3 1745.4,957.6 1744.5,965.4 1742.8,968.4 1740.8,971.2 1740.3,974.6 1739.8,978 1736.5,979.5 1733.1,979.7 1730,982.1 1726.4,982.3 1723.6,978.4 1722,973.6 1719.2,969.8 1716.9,965.4 1716.5,962.2 1716,959.1 1716.2,955.7 1714.9,952.8 1715.5,947.7 1717.3,942.9 1721.2,940.1 1724.1,935.9 1723.9,930.6 1723.1,925.4 1722.5,920.2 1722.5,914.8 1724.4,912.6 1725.6,909.8 1725.6,906.7 1726.8,903.9 1730.8,903.1 1734.8,902.7 1737.8,899.1 1741.9,898 1745.6,894.2 1747.1,888.8 1750.5,885.1 1753.8,881.1 1756.7,878.2 1758.9,874.7 1761.3,871.5ZM1990.8,685.6 1993.8,687.7 1996.7,690.1 1998.9,693.3 2001.7,695.7 2003.9,698.4 2004.6,701.9 2005.2,705.3 2006.8,708.4 2005.7,710.2 2005.6,712.4 2004.1,713.8 2002.6,715.1 2000.8,716 1998.9,715.8 1997.2,716.8 1995.2,716.8 1993.8,713.7 1993.6,710.3 1992.1,707.3 1991,704.1 1990.3,699.5 1989.6,694.8 1990.8,690.3ZM1486.1,447.2 1491.5,446.1 1496.7,449 1501.4,446.1 1506.7,445.5 1506.4,448.6 1505.9,451.7 1505.8,454.9 1505.4,458.1 1500.3,457.1 1495.2,456.7 1490.1,455 1486.2,450.5 1486.1,448.8ZM1456.1,422 1458.4,421.7 1460.5,420.9 1462.8,421 1465,422 1464.4,425.7 1464,429.5 1465.2,433.2 1465.6,437.1 1463.8,438.1 1462.1,439.1 1460.1,439.1 1458.1,438.8 1456.3,434.9 1456.3,430.5 1455.4,426.2ZM1457.7,410.3 1459.4,410 1460.7,408.7 1462.2,407.8 1463.7,407 1463,409.8 1462.9,412.8 1463.1,415.7 1462.8,418.7 1460.7,418.2 1458.7,417 1458.6,415.3 1457.9,413.7 1458,412ZM1564.7,468.2 1569.5,468.4 1573.9,471.2 1578.5,470.4 1583.2,470.7 1579.3,470.9 1575.3,470.2 1571.8,472.1 1567.9,472.4 1566.2,470.3ZM1626.1,472.4 1630.2,472.3 1633.8,470.5 1637.1,468.2 1640.9,467.3 1640,469.7 1638.1,470.9 1637.3,473.4 1635.5,474.9 1633.1,473.8 1630.8,474.2 1628.3,474ZM965.5,1208.2 972.4,1213.4 979.3,1219 986.3,1221.8 993.3,1225 987.9,1224.9 982.4,1224.7 979.2,1228.1 975.3,1230.6 971.2,1230.7 966.6,1228.9 962.2,1228.1 957.6,1225.8 955.2,1224.3 953,1222.2 950.7,1221.3 948.4,1219.4 951,1218.8 953.5,1218 954.7,1215.6 956.5,1213.8 959.3,1213 960.6,1210.5 963.7,1210.3ZM1009.1,1200.9 1014.4,1201.4 1019,1200.1 1023.8,1199.3 1028.6,1198.5 1027.9,1200.5 1027.2,1202.6 1026.6,1204.8 1024.8,1205.8 1021.2,1204 1017.9,1204 1014.5,1203.8 1011.8,1205 1010.1,1203.2ZM258.8,600.5 260.7,599.7 262.5,600.1 264.3,600.4 266.1,600.5 264.8,602.1 263.3,603.7 261.9,605.3 260.9,607.2 259.7,606.2 258.4,605.5 259.1,602.9ZM459.9,287.5 465.3,285.6 470.6,283.8 472.9,285 476.4,285.2 478.2,282.9 478.7,281.3 475.3,282.9 473,283.1 470.8,283.3 468.4,283.6 466.2,284.6 464.5,284.8 462.3,285.8ZM412.7,242.9 412.6,245.5 416.7,245.3 420,245.6 425.1,244.4 424.4,243.7 423.1,243.3 424.1,241.7 425.3,239.9 422.7,240.2 419.5,240.9 416.5,241.6ZM1847.6,1180.6 1850.1,1180.6 1852.5,1180.7 1855,1180.5 1857.4,1180.6 1856.2,1181.6 1855,1182.6 1853.8,1183.8 1852.6,1184.7 1851.7,1183.2 1850.8,1181.8 1849.5,1180.8ZM1161.4,1219.4 1164.8,1219.5 1168,1219.2 1171.4,1221.5 1174.9,1223.4 1174.2,1224.4 1174.2,1225.8 1171.2,1223.7 1168.1,1222.9 1165.1,1223.2 1162,1221.8ZM632.4,1428.3 686.3,1422.9 718.7,1419.3 724.1,1410.3 707.9,1404.9 689.9,1394.1 671.9,1388.7 697.1,1377.9 729.5,1372.5 751.1,1370.7 801.4,1370.7 833.8,1372.5 851.8,1376.1 905.8,1376.1 898.6,1368.9 873.4,1363.5 905.8,1358.1 941.7,1361.7 981.3,1365.3 988.5,1361.7 1010.1,1364.2 1031.7,1361.7 1047.8,1358.1 1049.6,1352.7 1035.3,1340.1 1022.7,1334.7 1010.1,1332.9 1013.7,1340.1 995.7,1340.1 1010.1,1347.3 1031.7,1334.7 1037.1,1324 1028.1,1324 1020.9,1320.4 1031.7,1309.6 1053.2,1298.8 1080.2,1289.8 1082,1295.2 1064,1302.4 1049.6,1309.6 1042.4,1324 1047.8,1331.2 1067.6,1340.1 1078.4,1349.1 1087.4,1363.5 1085.6,1374.3 1078.4,1377.9 1056.8,1383.3 1020.9,1385.1 1042.4,1390.5 1046,1395.9 999.3,1394.1 1024.5,1403.1 1049.6,1406 1064,1412.1 1103.6,1417.5 1128.8,1420.4 1136,1422.9 1161.2,1419.3 1193.5,1417.5 1211.5,1413.9 1240.3,1409.6 1261.9,1406.7 1294.2,1404.9 1258.3,1402.4 1229.5,1400.2 1227.7,1395.2 1240.3,1390.5 1265.5,1384.4 1297.8,1377.9 1310.4,1372.5 1319.4,1365.3 1333.8,1359.9 1346.4,1349.1 1366.2,1347.3 1400,1350.9 1398,1350.9 1426.8,1345.5 1469.9,1343.7 1498.7,1346.3 1534.7,1347.3 1559.9,1343.7 1576,1340.1 1577.8,1332.9 1586.8,1332.9 1588.6,1336.5 1606.6,1340.1 1617.4,1332.9 1639,1326.8 1664.2,1324 1678.6,1316.8 1696.5,1311.4 1710.9,1312.4 1716.3,1316.8 1707.3,1318.6 1725.3,1322.2 1750.5,1323.2 1781.1,1324.7 1773.9,1334.7 1761.3,1341.9 1754.1,1350.9 1741.5,1361.7 1748.7,1362.8 1772.1,1350.9 1786.5,1341.9 1804.5,1336.5 1826,1327.6 1858.4,1320.4 1890.8,1316.8 1926.8,1315 1955.5,1313.2 1973.5,1310.3 1991.5,1313.2 2013.1,1316 2034.7,1311.4 2041.9,1316 2027.5,1321.1 2063.5,1318.6 2103,1315.7 2128.2,1313.2 2153.4,1313.9 2100,1315.5 2110.8,1319.6 2127,1313.4 2154,1313.4 2180.9,1318.2 2198.5,1319.6 2189,1325 2202.5,1325.8 2205.2,1329 2221.4,1331.7 2237.6,1329 2240.3,1333.1 2256.5,1335.8 2261.9,1343.9 2255.1,1347.4 2267.3,1342.5 2283.4,1345.7 2295.6,1350.1 2288.8,1354.6 2275.3,1357.3 2267.3,1364.6 2256.5,1362.7 2240.3,1368.1 2224.1,1372.2 2207.9,1377.6 2191.7,1385.7 2186.3,1393.8 2207.9,1389.7 2216,1390.5 2199.8,1392.4 2183.6,1396.5 2167.4,1399.2 2154,1401.9 2135.1,1407.3 2127,1412.6 2129.7,1418 2113.5,1418 2132.4,1422.1 2148.6,1425.6 2168.8,1426.7 2207.9,1482.8 2200,1500 600,1500 560,1400ZM1152.2,1408.5 1164.7,1395.9 1179.1,1392.3 1197.1,1399.5 1198.9,1406 1175.5,1407.8Z" fill="none" stroke="#000" stroke-width="1.1" stroke-linejoin="round"/>
<path d="M1713,388.7 1715.6,385.6 1718.9,383.3 1720.5,379.2 1723.3,376.3 1726.5,375.6 1729.6,374.9 1732.5,373.7 1735.9,373.8 1739,373.1 1742.4,373.4 1745.8,373.8 1749.1,373.8 1750.6,377.1 1751.6,380.4 1753.7,383.3 1755.7,386.2 1751.8,385.9 1748.6,387.2 1745.5,388.8 1741.7,388.7 1740.3,390.2 1738.4,390.9 1737.8,393 1736.4,394.5 1738,397.4 1740.1,399.9 1742.1,402.4 1743.7,405.3 1746.4,406.1 1748.8,405.5 1751.5,406.2 1754.2,407 1755.7,410.3 1757.7,413.5 1758.5,416.9 1759.4,420.3 1761.3,420.9 1763.3,421.1 1765.1,422.4 1767,423.7 1765.7,426 1764.5,428.5 1764.6,431.7 1763.9,434.6 1766.5,439.1 1768.5,443.9 1770.5,448.6 1773.3,453 1770.2,454.1 1767.8,456.2 1764.6,456.6 1761.7,458.1 1758.6,456.3 1755.4,455.1 1752.2,453.9 1749,453 1746,451.5 1743.1,450 1740.5,447.6 1738.4,444.6 1737.3,440.3 1737.8,436.2 1737.9,432.1 1737.1,427.9 1732.6,422.8 1727.5,418.8 1723.9,412.9 1720.4,407 1719.9,404.2 1718.4,401.6 1716.5,399.4 1714.8,397 1714.8,395 1714.1,392.9 1713.5,390.8ZM791.5,374.7 794,375.2 796.8,374.8 799.3,375 801.7,375.5 805.4,374.8 808.9,374.3 812.8,372.7 816.4,372.2 818.7,370.1 821.2,368.9 820.8,370.9 820.8,372.8 821.4,374.3 821.2,376.3 825,377.2 828.4,378.7 833.2,377 837.7,376.3 838.9,376.6 840.4,376.3 841.1,374.2 841.9,372.1 842.5,370 842.5,368.1 840.8,367.4 839.1,366.6 837.3,365.8 836.5,364 833.9,361.7 830,361.7 827.8,359.2 825.1,357.4 822.2,358.6 819.3,360.3 816.4,361.8 813.6,364 811.5,365.6 809.3,366.8 807.2,367.6 805.1,368.1 801.9,368.6 798.4,370.3 795,372.8ZM802.7,416.2 805.2,414.9 807.6,414.8 809.8,414.9 811.8,415.3 813.5,412.8 815.6,410.6 816.7,408 817.8,405.3 818.2,403.1 819.4,400.9 819,399.1 819.1,397 821.6,394.8 824.1,392.7 826.7,390.9 829.2,388.7 830.7,386.9 831.9,385 833.5,383.3 835.3,382.1 832.7,382.4 830.3,382.2 828.1,381.5 825.3,382.1 822.1,384.8 818.8,387.5 815.4,390.1 812.2,392.9 810.9,396 809.3,399.1 807.9,402.2 807,405.3 806.4,408 805,410.7 803.8,413.5ZM839.3,380.4 841.1,380 843,379.4 844.6,379.5 846.3,379.6 848.5,381.1 851.3,381.7 854.2,382 857.2,382.1 859.5,384 862.4,384.9 863.1,388.3 865.3,390.4 863.5,390.7 861.6,391.3 859.9,391.2 858,392 855.9,394.9 853.6,397.5 851.1,399.9 849.1,402.8 847.7,403.7 846.3,404 844.9,404.5 843.4,405.3 842,403.9 840.1,403 839.3,400.9 838.6,398.7 840.1,396.2 841.1,393.7 842.3,391.1 843.9,388.7 843,386.5 841.5,384.7 839.9,383ZM832.6,416.2 834.5,417.2 836.4,418.3 838.9,418.4 841.5,417.8 845.4,417.2 849.2,416.7 853.2,414.1 857.2,412 859.4,410 861.8,408.7 864.1,408.1 866.5,407 864.4,407.5 862.5,407.8 860.6,407.9 858.7,407.8 855.9,408.5 853.5,408 850.7,408.7 848,409.5 845,411.1 842.2,411.6 839.2,412.9 836.5,412.8 834.5,414.4ZM861.9,402.8 865,402.8 867.9,403.2 871,403 874,402.8 877.1,402.3 880,402.3 882.9,402.1 886.1,401.2 886.5,398.7 887.9,396.2 885.7,396.5 883.5,397.2 881.5,396.9 879.2,397.8 875.9,398.7 872.8,398.8 869.5,399.7 866.5,399.5 864.3,401.4ZM1637.5,790.9 1641,789 1644.8,788.7 1648.6,789.4 1652.4,788.4 1651.1,783.8 1651.4,779 1652.1,774.2 1654,769.9 1650.8,768.4 1647.4,768.2 1644.6,766 1641.4,764.8 1639.7,767.5 1637.5,769.7 1636.6,772.8 1635.4,775.8 1634.9,779.7 1635.9,783.5 1636.7,787.2ZM1789.7,388.7 1794.4,388.1 1797.6,384.9 1799.6,380.5 1803.2,378 1805.4,380.2 1807.1,383 1808.6,385.8 1809.7,388.7 1807.3,390.5 1806.2,393.8 1805,396.9 1802.5,398.7 1799.8,397.8 1797.1,397.6 1795,398.8 1792.7,399.5 1791.8,396.8 1791.4,394.1 1790.5,391.4ZM705.8,222.8 713.7,220.8 718.5,221.9 726.8,219 735.4,215.5 734.9,218.4 736.2,220.1 738.1,221.2 739.4,222.8 734,224.9 728.2,227.5 722.7,229.6 718.2,230.2 716.2,228.7 713.6,227.8 708.9,229 705.5,228.7 705.3,227.4 706,225.6 706.4,223.9ZM720.8,249 725.2,248.9 729.1,249.5 731.9,251.2 736.9,250.5 744.7,248.1 749.9,249 757.9,246.1 763.3,246.7 758.4,248.8 753.9,250.2 748.7,252.8 743.4,256.6 736.1,259.5 729.3,261.5 724.2,261.2 718.9,261.2 719.8,257.8 720.5,254.6 721.3,251.4ZM776.7,319.3 779.4,318.9 782.3,318.3 785.5,316.7 788.6,315.3 786.9,321.2 786.4,326.7 783.9,333 780.7,339.5 778.5,340.5 776.3,341.7 774.1,342.9 772,343.5 772,340.5 771.3,337.9 772.1,334.5 772.5,331.4 773.8,328.2 773.9,325.5 775.9,322.3Z" fill="none" stroke="#222" stroke-width="0.5" stroke-linejoin="round"/>
<g stroke="#000" stroke-width="0.9"><rect x="1107.7" y="284.6" width="5.8" height="5.8" fill="#ff6a6a"/><rect x="1138.1" y="284.6" width="5.8" height="5.8" fill="#ff8080"/><rect x="1168.5" y="284.6" width="5.8" height="5.8" fill="#ffaaaa"/><rect x="1199" y="284.6" width="5.8" height="5.8" fill="#ffaaaa"/><rect x="1229.4" y="284.6" width="5.8" height="5.8" fill="#ffd4d4"/><rect x="1259.8" y="284.6" width="5.8" height="5.8" fill="#ffe6e6"/><rect x="1290.2" y="284.6" width="5.8" height="5.8" fill="#ffe6e6"/><rect x="1320.6" y="284.6" width="5.8" height="5.8" fill="#ffffff"/><rect x="1351" y="284.6" width="5.8" height="5.8" fill="#ffffff"/><rect x="1381.4" y="284.6" width="5.8" height="5.8" fill="#aaaaff"/><rect x="1411.8" y="284.6" width="5.8" height="5.8" fill="#f2f2ff"/><rect x="1442.2" y="284.6" width="5.8" height="5.8" fill="#ffffff"/><rect x="1127.1" y="324.4" width="5.8" height="5.8" fill="#ff5555"/><rect x="1158.8" y="324.4" width="5.8" height="5.8" fill="#ff5555"/><rect x="1190.5" y="324.4" width="5.8" height="5.8" fill="#ffffff"/><rect x="1222.2" y="324.4" width="5.8" height="5.8" fill="#f2f2ff"/><rect x="1253.9" y="324.4" width="5.8" height="5.8" fill="#fff2f2"/><rect x="1285.6" y="324.4" width="5.8" height="5.8" fill="#ffd4d4"/><rect x="1317.3" y="324.4" width="5.8" height="5.8" fill="#f2f2ff"/><rect x="1349" y="324.4" width="5.8" height="5.8" fill="#e6e6ff"/><rect x="1380.7" y="324.4" width="5.8" height="5.8" fill="#ffffff"/><rect x="1412.5" y="324.4" width="5.8" height="5.8" fill="#ffffff"/><rect x="1444.2" y="324.4" width="5.8" height="5.8" fill="#9595ff"/><rect x="1019" y="365.2" width="5.8" height="5.8" fill="#ffffff"/><rect x="1051.8" y="365.2" width="5.8" height="5.8" fill="#ffffff"/><rect x="1084.6" y="365.2" width="5.8" height="5.8" fill="#fff2f2"/><rect x="1117.5" y="365.2" width="5.8" height="5.8" fill="#ffffff"/><rect x="1150.3" y="365.2" width="5.8" height="5.8" fill="#e6e6ff"/><rect x="1183.1" y="365.2" width="5.8" height="5.8" fill="#fff2f2"/><rect x="1216" y="365.2" width="5.8" height="5.8" fill="#ffffff"/><rect x="1248.8" y="365.2" width="5.8" height="5.8" fill="#ffffff"/><rect x="1281.7" y="365.2" width="5.8" height="5.8" fill="#ffffff"/><rect x="1314.5" y="365.2" width="5.8" height="5.8" fill="#f2f2ff"/><rect x="1347.3" y="365.2" width="5.8" height="5.8" fill="#f2f2ff"/><rect x="1380.2" y="365.2" width="5.8" height="5.8" fill="#fff2f2"/><rect x="906" y="406.6" width="5.8" height="5.8" fill="#ffffff"/><rect x="939.8" y="406.6" width="5.8" height="5.8" fill="#ffffff"/><rect x="973.6" y="406.6" width="5.8" height="5.8" fill="#fff2f2"/><rect x="1007.5" y="406.6" width="5.8" height="5.8" fill="#ffe6e6"/><rect x="1041.3" y="406.6" width="5.8" height="5.8" fill="#ff6a6a"/><rect x="1075.1" y="406.6" width="5.8" height="5.8" fill="#ffbfbf"/><rect x="1109" y="406.6" width="5.8" height="5.8" fill="#fff2f2"/><rect x="1142.8" y="406.6" width="5.8" height="5.8" fill="#ffffff"/><rect x="1176.7" y="406.6" width="5.8" height="5.8" fill="#ffd4d4"/><rect x="1210.5" y="406.6" width="5.8" height="5.8" fill="#ffe6e6"/><rect x="1244.3" y="406.6" width="5.8" height="5.8" fill="#ffffff"/><rect x="1278.2" y="406.6" width="5.8" height="5.8" fill="#f2f2ff"/><rect x="1312" y="406.6" width="5.8" height="5.8" fill="#f2f2ff"/><rect x="1345.8" y="406.6" width="5.8" height="5.8" fill="#ffffff"/><rect x="1413.5" y="406.6" width="5.8" height="5.8" fill="#ffe6e6"/><rect x="1447.4" y="406.6" width="5.8" height="5.8" fill="#ffffff"/><rect x="1481.2" y="406.6" width="5.8" height="5.8" fill="#e6e6ff"/><rect x="164.5" y="448.5" width="5.8" height="5.8" fill="#ffffff"/><rect x="199.2" y="448.5" width="5.8" height="5.8" fill="#fff2f2"/><rect x="233.9" y="448.5" width="5.8" height="5.8" fill="#ffffff"/><rect x="268.7" y="448.5" width="5.8" height="5.8" fill="#f2f2ff"/><rect x="442.2" y="448.5" width="5.8" height="5.8" fill="#ffffff"/><rect x="476.9" y="448.5" width="5.8" height="5.8" fill="#ffffff"/><rect x="511.6" y="448.5" width="5.8" height="5.8" fill="#fff2f2"/><rect x="893.4" y="448.5" width="5.8" height="5.8" fill="#5959ff"/><rect x="928.1" y="448.5" width="5.8" height="5.8" fill="#0000ff"/><rect x="962.8" y="448.5" width="5.8" height="5.8" fill="#3737ff"/><rect x="997.5" y="448.5" width="5.8" height="5.8" fill="#d4d4ff"/><rect x="1032.2" y="448.5" width="5.8" height="5.8" fill="#ffffff"/><rect x="1066.9" y="448.5" width="5.8" height="5.8" fill="#fff2f2"/><rect x="1101.6" y="448.5" width="5.8" height="5.8" fill="#aaaaff"/><rect x="1136.3" y="448.5" width="5.8" height="5.8" fill="#fff2f2"/><rect x="1171" y="448.5" width="5.8" height="5.8" fill="#fff2f2"/><rect x="1275.1" y="448.5" width="5.8" height="5.8" fill="#ffffff"/><rect x="1309.8" y="448.5" width="5.8" height="5.8" fill="#ffffff"/><rect x="1344.5" y="448.5" width="5.8" height="5.8" fill="#fff2f2"/><rect x="1379.2" y="448.5" width="5.8" height="5.8" fill="#ffffff"/><rect x="1414" y="448.5" width="5.8" height="5.8" fill="#ffffff"/><rect x="1448.7" y="448.5" width="5.8" height="5.8" fill="#ffffff"/><rect x="1483.4" y="448.5" width="5.8" height="5.8" fill="#d4d4ff"/><rect x="1518.1" y="448.5" width="5.8" height="5.8" fill="#ffffff"/><rect x="1552.8" y="448.5" width="5.8" height="5.8" fill="#ffd4d4"/><rect x="2594" y="448.5" width="5.8" height="5.8" fill="#ffffff"/><rect x="2628.7" y="448.5" width="5.8" height="5.8" fill="#ff9595"/><rect x="422.6" y="490.5" width="5.8" height="5.8" fill="#ffffff"/><rect x="812.2" y="490.5" width="5.8" height="5.8" fill="#8484ff"/><rect x="847.6" y="490.5" width="5.8" height="5.8" fill="#ffffff"/><rect x="883" y="490.5" width="5.8" height="5.8" fill="#ffffff"/><rect x="1131" y="490.5" width="5.8" height="5.8" fill="#ffd4d4"/><rect x="1166.4" y="490.5" width="5.8" height="5.8" fill="#ffbfbf"/><rect x="1201.8" y="490.5" width="5.8" height="5.8" fill="#ffffff"/><rect x="1237.2" y="490.5" width="5.8" height="5.8" fill="#ffffff"/><rect x="1272.6" y="490.5" width="5.8" height="5.8" fill="#ffffff"/><rect x="1556" y="490.5" width="5.8" height="5.8" fill="#fff2f2"/><rect x="1591.4" y="490.5" width="5.8" height="5.8" fill="#ffffff"/><rect x="1626.8" y="490.5" width="5.8" height="5.8" fill="#fff2f2"/><rect x="2264.4" y="490.5" width="5.8" height="5.8" fill="#ff9595"/><rect x="2299.8" y="490.5" width="5.8" height="5.8" fill="#ffd4d4"/><rect x="2335.2" y="490.5" width="5.8" height="5.8" fill="#9595ff"/><rect x="2370.6" y="490.5" width="5.8" height="5.8" fill="#8484ff"/><rect x="2406" y="490.5" width="5.8" height="5.8" fill="#0000ff"/><rect x="2441.5" y="490.5" width="5.8" height="5.8" fill="#3737ff"/><rect x="2476.9" y="490.5" width="5.8" height="5.8" fill="#ffffff"/><rect x="2512.3" y="490.5" width="5.8" height="5.8" fill="#aaaaff"/><rect x="2547.7" y="490.5" width="5.8" height="5.8" fill="#fff2f2"/><rect x="2583.1" y="490.5" width="5.8" height="5.8" fill="#f2f2ff"/><rect x="2618.6" y="490.5" width="5.8" height="5.8" fill="#6e6eff"/><rect x="299" y="532.7" width="5.8" height="5.8" fill="#ff8080"/><rect x="371" y="532.7" width="5.8" height="5.8" fill="#ffffff"/><rect x="407" y="532.7" width="5.8" height="5.8" fill="#ffd4d4"/><rect x="838.8" y="532.7" width="5.8" height="5.8" fill="#4848ff"/><rect x="874.8" y="532.7" width="5.8" height="5.8" fill="#ffffff"/><rect x="910.8" y="532.7" width="5.8" height="5.8" fill="#ffffff"/><rect x="946.8" y="532.7" width="5.8" height="5.8" fill="#ffbfbf"/><rect x="982.8" y="532.7" width="5.8" height="5.8" fill="#ffd4d4"/><rect x="1018.8" y="532.7" width="5.8" height="5.8" fill="#ffbfbf"/><rect x="1054.7" y="532.7" width="5.8" height="5.8" fill="#ffaaaa"/><rect x="1090.7" y="532.7" width="5.8" height="5.8" fill="#ffffff"/><rect x="1126.7" y="532.7" width="5.8" height="5.8" fill="#ffffff"/><rect x="1162.7" y="532.7" width="5.8" height="5.8" fill="#ffffff"/><rect x="1198.7" y="532.7" width="5.8" height="5.8" fill="#ffffff"/><rect x="1234.7" y="532.7" width="5.8" height="5.8" fill="#ffffff"/><rect x="1270.7" y="532.7" width="5.8" height="5.8" fill="#ffffff"/><rect x="1630.5" y="532.7" width="5.8" height="5.8" fill="#ffffff"/><rect x="1666.5" y="532.7" width="5.8" height="5.8" fill="#ffffff"/><rect x="2314.2" y="532.7" width="5.8" height="5.8" fill="#ffffff"/><rect x="250.4" y="574.8" width="5.8" height="5.8" fill="#ffffff"/><rect x="395.9" y="574.8" width="5.8" height="5.8" fill="#ffffff"/><rect x="905.4" y="574.8" width="5.8" height="5.8" fill="#f2f2ff"/><rect x="1087.3" y="574.8" width="5.8" height="5.8" fill="#e6e6ff"/><rect x="1123.7" y="574.8" width="5.8" height="5.8" fill="#ffffff"/><rect x="1160.1" y="574.8" width="5.8" height="5.8" fill="#ffffff"/><rect x="1232.9" y="574.8" width="5.8" height="5.8" fill="#ffffff"/><rect x="1669.5" y="574.8" width="5.8" height="5.8" fill="#fff2f2"/><rect x="240.5" y="617" width="5.8" height="5.8" fill="#ffffff"/><rect x="277.2" y="617" width="5.8" height="5.8" fill="#ffd4d4"/><rect x="387.3" y="617" width="5.8" height="5.8" fill="#e6e6ff"/><rect x="937.8" y="617" width="5.8" height="5.8" fill="#ffffff"/><rect x="1158" y="617" width="5.8" height="5.8" fill="#ffffff"/><rect x="1194.7" y="617" width="5.8" height="5.8" fill="#ffffff"/><rect x="1231.4" y="617" width="5.8" height="5.8" fill="#ffffff"/><rect x="1671.9" y="617" width="5.8" height="5.8" fill="#fff2f2"/><rect x="1708.6" y="617" width="5.8" height="5.8" fill="#fff2f2"/><rect x="269.6" y="659.1" width="5.8" height="5.8" fill="#ffffff"/><rect x="417.4" y="659.1" width="5.8" height="5.8" fill="#ffffff"/><rect x="934.7" y="659.1" width="5.8" height="5.8" fill="#ffffff"/><rect x="971.7" y="659.1" width="5.8" height="5.8" fill="#fff2f2"/><rect x="1156.4" y="659.1" width="5.8" height="5.8" fill="#ffffff"/><rect x="1193.4" y="659.1" width="5.8" height="5.8" fill="#ffffff"/><rect x="1230.3" y="659.1" width="5.8" height="5.8" fill="#ffd4d4"/><rect x="1710.7" y="659.1" width="5.8" height="5.8" fill="#fff2f2"/><rect x="1747.6" y="659.1" width="5.8" height="5.8" fill="#ffffff"/><rect x="1784.6" y="659.1" width="5.8" height="5.8" fill="#ffffff"/><rect x="1821.5" y="659.1" width="5.8" height="5.8" fill="#ffffff"/><rect x="1858.5" y="659.1" width="5.8" height="5.8" fill="#ffffff"/><rect x="1895.4" y="659.1" width="5.8" height="5.8" fill="#ffffff"/><rect x="2080.2" y="659.1" width="5.8" height="5.8" fill="#ffffff"/><rect x="2117.2" y="659.1" width="5.8" height="5.8" fill="#e6e6ff"/><rect x="264.8" y="701.2" width="5.8" height="5.8" fill="#ffffff"/><rect x="301.9" y="701.2" width="5.8" height="5.8" fill="#fff2f2"/><rect x="413.2" y="701.2" width="5.8" height="5.8" fill="#ffffff"/><rect x="450.3" y="701.2" width="5.8" height="5.8" fill="#ffffff"/><rect x="1007" y="701.2" width="5.8" height="5.8" fill="#ffffff"/><rect x="1044.1" y="701.2" width="5.8" height="5.8" fill="#ffffff"/><rect x="1155.4" y="701.2" width="5.8" height="5.8" fill="#ffffff"/><rect x="1192.5" y="701.2" width="5.8" height="5.8" fill="#ffffff"/><rect x="1229.6" y="701.2" width="5.8" height="5.8" fill="#ffd4d4"/><rect x="1897.6" y="701.2" width="5.8" height="5.8" fill="#ffffff"/><rect x="1934.7" y="701.2" width="5.8" height="5.8" fill="#ffffff"/><rect x="1971.8" y="701.2" width="5.8" height="5.8" fill="#fff2f2"/><rect x="2008.9" y="701.2" width="5.8" height="5.8" fill="#ffffff"/><rect x="2046" y="701.2" width="5.8" height="5.8" fill="#e6e6ff"/><rect x="2083.1" y="701.2" width="5.8" height="5.8" fill="#ffffff"/><rect x="2120.2" y="701.2" width="5.8" height="5.8" fill="#ffffff"/><rect x="2231.5" y="701.2" width="5.8" height="5.8" fill="#ffd4d4"/><rect x="2268.7" y="701.2" width="5.8" height="5.8" fill="#ffbfbf"/><rect x="2305.8" y="701.2" width="5.8" height="5.8" fill="#ffffff"/><rect x="299.4" y="743.4" width="5.8" height="5.8" fill="#ffffff"/><rect x="448.2" y="743.4" width="5.8" height="5.8" fill="#ffffff"/><rect x="1043.3" y="743.4" width="5.8" height="5.8" fill="#e6e6ff"/><rect x="1080.5" y="743.4" width="5.8" height="5.8" fill="#ffffff"/><rect x="1192" y="743.4" width="5.8" height="5.8" fill="#ffffff"/><rect x="1229.2" y="743.4" width="5.8" height="5.8" fill="#ffffff"/><rect x="1266.4" y="743.4" width="5.8" height="5.8" fill="#ffffff"/><rect x="2010.3" y="743.4" width="5.8" height="5.8" fill="#ffffff"/><rect x="2047.5" y="743.4" width="5.8" height="5.8" fill="#ffffff"/><rect x="2084.7" y="743.4" width="5.8" height="5.8" fill="#ffffff"/><rect x="2196.2" y="743.4" width="5.8" height="5.8" fill="#ffd4d4"/><rect x="2233.4" y="743.4" width="5.8" height="5.8" fill="#ffd4d4"/><rect x="2307.8" y="743.4" width="5.8" height="5.8" fill="#ffffff"/><rect x="299.4" y="785.5" width="5.8" height="5.8" fill="#ffffff"/><rect x="336.6" y="785.5" width="5.8" height="5.8" fill="#ffffff"/><rect x="448.2" y="785.5" width="5.8" height="5.8" fill="#e6e6ff"/><rect x="1080.5" y="785.5" width="5.8" height="5.8" fill="#e6e6ff"/><rect x="1117.7" y="785.5" width="5.8" height="5.8" fill="#ffffff"/><rect x="1154.8" y="785.5" width="5.8" height="5.8" fill="#fff2f2"/><rect x="1192" y="785.5" width="5.8" height="5.8" fill="#ffffff"/><rect x="1229.2" y="785.5" width="5.8" height="5.8" fill="#e6e6ff"/><rect x="1266.4" y="785.5" width="5.8" height="5.8" fill="#ffffff"/><rect x="2084.7" y="785.5" width="5.8" height="5.8" fill="#ffffff"/><rect x="2121.9" y="785.5" width="5.8" height="5.8" fill="#e6e6ff"/><rect x="2196.2" y="785.5" width="5.8" height="5.8" fill="#ffd4d4"/><rect x="301.9" y="827.7" width="5.8" height="5.8" fill="#ffffff"/><rect x="339" y="827.7" width="5.8" height="5.8" fill="#e6e6ff"/><rect x="450.3" y="827.7" width="5.8" height="5.8" fill="#ffffff"/><rect x="1118.3" y="827.7" width="5.8" height="5.8" fill="#ffffff"/><rect x="1155.4" y="827.7" width="5.8" height="5.8" fill="#ffffff"/><rect x="1192.5" y="827.7" width="5.8" height="5.8" fill="#ffffff"/><rect x="1266.7" y="827.7" width="5.8" height="5.8" fill="#ffffff"/><rect x="1303.8" y="827.7" width="5.8" height="5.8" fill="#e6e6ff"/><rect x="2046" y="827.7" width="5.8" height="5.8" fill="#ffffff"/><rect x="2194.4" y="827.7" width="5.8" height="5.8" fill="#ffe6e6"/><rect x="2231.5" y="827.7" width="5.8" height="5.8" fill="#ffffff"/><rect x="2268.7" y="827.7" width="5.8" height="5.8" fill="#ffffff"/><rect x="306.5" y="869.8" width="5.8" height="5.8" fill="#fff2f2"/><rect x="454.3" y="869.8" width="5.8" height="5.8" fill="#ffffff"/><rect x="786.9" y="869.8" width="5.8" height="5.8" fill="#ffffff"/><rect x="823.9" y="869.8" width="5.8" height="5.8" fill="#ffe6e6"/><rect x="1119.5" y="869.8" width="5.8" height="5.8" fill="#ffffff"/><rect x="1156.4" y="869.8" width="5.8" height="5.8" fill="#ffffff"/><rect x="1304.2" y="869.8" width="5.8" height="5.8" fill="#ffffff"/><rect x="1341.2" y="869.8" width="5.8" height="5.8" fill="#ffffff"/><rect x="2043.2" y="869.8" width="5.8" height="5.8" fill="#bfbfff"/><rect x="2080.2" y="869.8" width="5.8" height="5.8" fill="#ffffff"/><rect x="2117.2" y="869.8" width="5.8" height="5.8" fill="#ffffff"/><rect x="2154.1" y="869.8" width="5.8" height="5.8" fill="#ffffff"/><rect x="2191.1" y="869.8" width="5.8" height="5.8" fill="#ffffff"/><rect x="2228" y="869.8" width="5.8" height="5.8" fill="#ffffff"/><rect x="313.9" y="911.9" width="5.8" height="5.8" fill="#ffffff"/><rect x="717.6" y="911.9" width="5.8" height="5.8" fill="#ffffff"/><rect x="791" y="911.9" width="5.8" height="5.8" fill="#ffffff"/><rect x="827.7" y="911.9" width="5.8" height="5.8" fill="#ffaaaa"/><rect x="1121.3" y="911.9" width="5.8" height="5.8" fill="#ffffff"/><rect x="1158" y="911.9" width="5.8" height="5.8" fill="#ffffff"/><rect x="1341.5" y="911.9" width="5.8" height="5.8" fill="#ffffff"/><rect x="1378.2" y="911.9" width="5.8" height="5.8" fill="#d4d4ff"/><rect x="1928.8" y="911.9" width="5.8" height="5.8" fill="#d4d4ff"/><rect x="1965.5" y="911.9" width="5.8" height="5.8" fill="#ffffff"/><rect x="2002.2" y="911.9" width="5.8" height="5.8" fill="#ffffff"/><rect x="2038.9" y="911.9" width="5.8" height="5.8" fill="#ffffff"/><rect x="2075.6" y="911.9" width="5.8" height="5.8" fill="#ffffff"/><rect x="2112.3" y="911.9" width="5.8" height="5.8" fill="#ffffff"/><rect x="2149" y="911.9" width="5.8" height="5.8" fill="#ffd4d4"/><rect x="723.4" y="954.1" width="5.8" height="5.8" fill="#ffffff"/><rect x="759.8" y="954.1" width="5.8" height="5.8" fill="#ffffff"/><rect x="796.2" y="954.1" width="5.8" height="5.8" fill="#ffaaaa"/><rect x="1160.1" y="954.1" width="5.8" height="5.8" fill="#ffffff"/><rect x="1378.4" y="954.1" width="5.8" height="5.8" fill="#aaaaff"/><rect x="1414.8" y="954.1" width="5.8" height="5.8" fill="#ffffff"/><rect x="1851.5" y="954.1" width="5.8" height="5.8" fill="#ffffff"/><rect x="1887.8" y="954.1" width="5.8" height="5.8" fill="#ffffff"/><rect x="1924.2" y="954.1" width="5.8" height="5.8" fill="#ffffff"/><rect x="1960.6" y="954.1" width="5.8" height="5.8" fill="#ffffff"/><rect x="1997" y="954.1" width="5.8" height="5.8" fill="#ffffff"/><rect x="2142.6" y="954.1" width="5.8" height="5.8" fill="#ffffff"/><rect x="730.9" y="996.2" width="5.8" height="5.8" fill="#fff2f2"/><rect x="766.9" y="996.2" width="5.8" height="5.8" fill="#fff2f2"/><rect x="1162.7" y="996.2" width="5.8" height="5.8" fill="#d4d4ff"/><rect x="1198.7" y="996.2" width="5.8" height="5.8" fill="#d4d4ff"/><rect x="1234.7" y="996.2" width="5.8" height="5.8" fill="#ffffff"/><rect x="1270.7" y="996.2" width="5.8" height="5.8" fill="#ffffff"/><rect x="1306.6" y="996.2" width="5.8" height="5.8" fill="#ffffff"/><rect x="1342.6" y="996.2" width="5.8" height="5.8" fill="#ffffff"/><rect x="1378.6" y="996.2" width="5.8" height="5.8" fill="#ffffff"/><rect x="1414.6" y="996.2" width="5.8" height="5.8" fill="#ffffff"/><rect x="1450.6" y="996.2" width="5.8" height="5.8" fill="#ffffff"/><rect x="1738.5" y="996.2" width="5.8" height="5.8" fill="#ffffff"/><rect x="1774.4" y="996.2" width="5.8" height="5.8" fill="#ffffff"/><rect x="1810.4" y="996.2" width="5.8" height="5.8" fill="#ffffff"/><rect x="1846.4" y="996.2" width="5.8" height="5.8" fill="#ffffff"/><rect x="1882.4" y="996.2" width="5.8" height="5.8" fill="#ffe6e6"/><rect x="1918.4" y="996.2" width="5.8" height="5.8" fill="#ffe6e6"/><rect x="2134.3" y="996.2" width="5.8" height="5.8" fill="#ffffff"/><rect x="1201.8" y="1038.4" width="5.8" height="5.8" fill="#ffe6e6"/><rect x="1343.5" y="1038.4" width="5.8" height="5.8" fill="#ffffff"/><rect x="1378.9" y="1038.4" width="5.8" height="5.8" fill="#ffffff"/><rect x="1449.7" y="1038.4" width="5.8" height="5.8" fill="#d4d4ff"/><rect x="1485.1" y="1038.4" width="5.8" height="5.8" fill="#d4d4ff"/><rect x="1520.6" y="1038.4" width="5.8" height="5.8" fill="#ffe6e6"/><rect x="1556" y="1038.4" width="5.8" height="5.8" fill="#ffffff"/><rect x="1591.4" y="1038.4" width="5.8" height="5.8" fill="#fff2f2"/><rect x="1626.8" y="1038.4" width="5.8" height="5.8" fill="#ffffff"/><rect x="1662.2" y="1038.4" width="5.8" height="5.8" fill="#ffe6e6"/><rect x="1697.7" y="1038.4" width="5.8" height="5.8" fill="#ffd4d4"/><rect x="1733.1" y="1038.4" width="5.8" height="5.8" fill="#ff9595"/><rect x="1768.5" y="1038.4" width="5.8" height="5.8" fill="#ffd4d4"/><rect x="1910.2" y="1038.4" width="5.8" height="5.8" fill="#ffffff"/><rect x="1945.6" y="1038.4" width="5.8" height="5.8" fill="#ffffff"/><rect x="2087.3" y="1038.4" width="5.8" height="5.8" fill="#fff2f2"/><rect x="2476.9" y="1038.4" width="5.8" height="5.8" fill="#3737ff"/><rect x="1379.2" y="1080.4" width="5.8" height="5.8" fill="#ff8080"/><rect x="1414" y="1080.4" width="5.8" height="5.8" fill="#ffd4d4"/><rect x="1448.7" y="1080.4" width="5.8" height="5.8" fill="#d4d4ff"/><rect x="1483.4" y="1080.4" width="5.8" height="5.8" fill="#d4d4ff"/><rect x="1518.1" y="1080.4" width="5.8" height="5.8" fill="#ffffff"/><rect x="1552.8" y="1080.4" width="5.8" height="5.8" fill="#ffffff"/><rect x="1587.5" y="1080.4" width="5.8" height="5.8" fill="#ffd4d4"/><rect x="1656.9" y="1080.4" width="5.8" height="5.8" fill="#0000ff"/><rect x="1691.6" y="1080.4" width="5.8" height="5.8" fill="#5959ff"/><rect x="1726.3" y="1080.4" width="5.8" height="5.8" fill="#bfbfff"/><rect x="1761" y="1080.4" width="5.8" height="5.8" fill="#fff2f2"/><rect x="1795.7" y="1080.4" width="5.8" height="5.8" fill="#d4d4ff"/><rect x="1830.4" y="1080.4" width="5.8" height="5.8" fill="#d4d4ff"/><rect x="1865.1" y="1080.4" width="5.8" height="5.8" fill="#ffffff"/><rect x="1899.8" y="1080.4" width="5.8" height="5.8" fill="#ffffff"/><rect x="2073.4" y="1080.4" width="5.8" height="5.8" fill="#d4d4ff"/><rect x="2351" y="1080.4" width="5.8" height="5.8" fill="#d4d4ff"/><rect x="2385.7" y="1080.4" width="5.8" height="5.8" fill="#ffffff"/><rect x="2420.4" y="1080.4" width="5.8" height="5.8" fill="#ffffff"/><rect x="2455.1" y="1080.4" width="5.8" height="5.8" fill="#ffffff"/><rect x="1548.9" y="1122.3" width="5.8" height="5.8" fill="#ff6a6a"/><rect x="1582.7" y="1122.3" width="5.8" height="5.8" fill="#ffd4d4"/><rect x="1616.5" y="1122.3" width="5.8" height="5.8" fill="#ffffff"/><rect x="1650.4" y="1122.3" width="5.8" height="5.8" fill="#fff2f2"/><rect x="1684.2" y="1122.3" width="5.8" height="5.8" fill="#8484ff"/><rect x="1718.1" y="1122.3" width="5.8" height="5.8" fill="#bfbfff"/><rect x="1751.9" y="1122.3" width="5.8" height="5.8" fill="#ffffff"/><rect x="1785.7" y="1122.3" width="5.8" height="5.8" fill="#ffffff"/><rect x="1819.6" y="1122.3" width="5.8" height="5.8" fill="#d4d4ff"/><rect x="1853.4" y="1122.3" width="5.8" height="5.8" fill="#ffd4d4"/><rect x="1887.2" y="1122.3" width="5.8" height="5.8" fill="#ffd4d4"/><rect x="1921.1" y="1122.3" width="5.8" height="5.8" fill="#ffffff"/><rect x="1954.9" y="1122.3" width="5.8" height="5.8" fill="#ffffff"/><rect x="1988.7" y="1122.3" width="5.8" height="5.8" fill="#ffffff"/><rect x="2022.6" y="1122.3" width="5.8" height="5.8" fill="#ffffff"/><rect x="2056.4" y="1122.3" width="5.8" height="5.8" fill="#ffffff"/><rect x="2090.3" y="1122.3" width="5.8" height="5.8" fill="#ffffff"/><rect x="2124.1" y="1122.3" width="5.8" height="5.8" fill="#ffffff"/><rect x="2157.9" y="1122.3" width="5.8" height="5.8" fill="#d4d4ff"/><rect x="2191.8" y="1122.3" width="5.8" height="5.8" fill="#d4d4ff"/><rect x="2225.6" y="1122.3" width="5.8" height="5.8" fill="#ffffff"/><rect x="2259.4" y="1122.3" width="5.8" height="5.8" fill="#ffffff"/><rect x="2293.3" y="1122.3" width="5.8" height="5.8" fill="#ffffff"/><rect x="2327.1" y="1122.3" width="5.8" height="5.8" fill="#9595ff"/><rect x="1807.1" y="1163.7" width="5.8" height="5.8" fill="#ff1515"/><rect x="1839.9" y="1163.7" width="5.8" height="5.8" fill="#ffbfbf"/><rect x="1872.8" y="1163.7" width="5.8" height="5.8" fill="#ffffff"/><rect x="2398.2" y="1163.7" width="5.8" height="5.8" fill="#aaaaff"/><rect x="2431" y="1163.7" width="5.8" height="5.8" fill="#d4d4ff"/><rect x="2463.9" y="1163.7" width="5.8" height="5.8" fill="#fff2f2"/><rect x="2496.7" y="1163.7" width="5.8" height="5.8" fill="#ffffff"/><rect x="2529.5" y="1163.7" width="5.8" height="5.8" fill="#d4d4ff"/><rect x="2562.4" y="1163.7" width="5.8" height="5.8" fill="#ffffff"/></g>
<g stroke="#000" stroke-width="0.8"><circle cx="603.5" cy="355.7" r="2.8" fill="#ffffff"/><circle cx="599.8" cy="358.3" r="2.8" fill="#ffffff"/><circle cx="596.1" cy="363.7" r="2.8" fill="#ffffff"/><circle cx="665.2" cy="350.3" r="2.8" fill="#ffffff"/><circle cx="771.8" cy="346.6" r="2.8" fill="#ffffff"/><circle cx="769.9" cy="348.6" r="2.8" fill="#ffffff"/><circle cx="767.1" cy="356.1" r="2.8" fill="#fff2f2"/><circle cx="775.3" cy="357.4" r="2.8" fill="#ffffff"/><circle cx="816.7" cy="360.9" r="2.8" fill="#e6e6ff"/><circle cx="822.1" cy="375.5" r="2.8" fill="#ffffff"/><circle cx="584.3" cy="383.7" r="2.8" fill="#fff2f2"/><circle cx="615.3" cy="379.9" r="2.8" fill="#ffffff"/><circle cx="613.8" cy="381.4" r="2.8" fill="#f2f2ff"/><circle cx="714.2" cy="368.2" r="2.8" fill="#ffd4d4"/><circle cx="734.3" cy="374" r="2.8" fill="#ffd4d4"/><circle cx="698.6" cy="377.1" r="2.8" fill="#ff2b2b"/><circle cx="777.2" cy="389.1" r="2.8" fill="#ffbfbf"/><circle cx="727.8" cy="393.7" r="2.8" fill="#ffaaaa"/><circle cx="567.4" cy="403.8" r="2.8" fill="#f2f2ff"/><circle cx="741.6" cy="406" r="2.8" fill="#ffe6e6"/><circle cx="786.5" cy="398.2" r="2.8" fill="#ffd4d4"/><circle cx="788.2" cy="400.4" r="2.8" fill="#ffd4d4"/><circle cx="785.6" cy="406.8" r="2.8" fill="#ffe6e6"/><circle cx="785" cy="410.5" r="2.8" fill="#fff2f2"/><circle cx="796.9" cy="404.7" r="2.8" fill="#ffd4d4"/><circle cx="801.6" cy="404" r="2.8" fill="#ffe6e6"/><circle cx="805.9" cy="404.5" r="2.8" fill="#ffe6e6"/><circle cx="804.8" cy="397.1" r="2.8" fill="#fff2f2"/><circle cx="799" cy="411.2" r="2.8" fill="#fff2f2"/><circle cx="802.7" cy="413.7" r="2.8" fill="#ffffff"/><circle cx="818" cy="404.5" r="2.8" fill="#ffffff"/><circle cx="827.5" cy="407.3" r="2.8" fill="#ffffff"/><circle cx="819.3" cy="411.6" r="2.8" fill="#e6e6ff"/><circle cx="823.2" cy="413.5" r="2.8" fill="#ffe6e6"/><circle cx="831.8" cy="411.6" r="2.8" fill="#e6e6ff"/><circle cx="827.1" cy="417.9" r="2.8" fill="#ffffff"/><circle cx="831.8" cy="417.2" r="2.8" fill="#ffffff"/><circle cx="836.1" cy="418.5" r="2.8" fill="#ffffff"/><circle cx="839.2" cy="419.4" r="2.8" fill="#ffffff"/><circle cx="595.3" cy="422.8" r="2.8" fill="#ffffff"/><circle cx="636.7" cy="420.2" r="2.8" fill="#ff5555"/><circle cx="634.1" cy="423.7" r="2.8" fill="#fff2f2"/><circle cx="685.1" cy="420.2" r="2.8" fill="#fff2f2"/><circle cx="733.8" cy="417.9" r="2.8" fill="#fff2f2"/><circle cx="747.6" cy="417" r="2.8" fill="#ffffff"/><circle cx="745.9" cy="419.4" r="2.8" fill="#fff2f2"/><circle cx="761.5" cy="417.9" r="2.8" fill="#ffffff"/><circle cx="774.6" cy="419.4" r="2.8" fill="#ffffff"/><circle cx="782.8" cy="417.9" r="2.8" fill="#ffffff"/><circle cx="786.5" cy="420.2" r="2.8" fill="#ffffff"/><circle cx="771.4" cy="422.6" r="2.8" fill="#d4d4ff"/><circle cx="773.5" cy="427.1" r="2.8" fill="#d4d4ff"/><circle cx="786.5" cy="424.5" r="2.8" fill="#fff2f2"/><circle cx="560.7" cy="429.5" r="2.8" fill="#ffd4d4"/><circle cx="679.2" cy="432.1" r="2.8" fill="#fff2f2"/><circle cx="734.3" cy="437.1" r="2.8" fill="#ffffff"/><circle cx="752.4" cy="437.1" r="2.8" fill="#bfbfff"/><circle cx="775.7" cy="440.7" r="2.8" fill="#e6e6ff"/><circle cx="812" cy="441.4" r="2.8" fill="#ffe6e6"/><circle cx="806.4" cy="445.7" r="2.8" fill="#d4d4ff"/><circle cx="830.7" cy="430.4" r="2.8" fill="#d4d4ff"/><circle cx="557.7" cy="442.9" r="2.8" fill="#ffbfbf"/><circle cx="553.4" cy="444.2" r="2.8" fill="#ffd4d4"/><circle cx="550.1" cy="450.4" r="2.8" fill="#ffffff"/><circle cx="550.1" cy="455.4" r="2.8" fill="#ffffff"/><circle cx="554" cy="457.6" r="2.8" fill="#ffe6e6"/><circle cx="685.1" cy="446.6" r="2.8" fill="#ffffff"/><circle cx="706" cy="448.9" r="2.8" fill="#ffd4d4"/><circle cx="772.5" cy="448.9" r="2.8" fill="#d4d4ff"/><circle cx="778.9" cy="454.5" r="2.8" fill="#bfbfff"/><circle cx="742.2" cy="456.5" r="2.8" fill="#ffffff"/><circle cx="789.7" cy="459.7" r="2.8" fill="#aaaaff"/><circle cx="794.1" cy="463" r="2.8" fill="#d4d4ff"/><circle cx="799.4" cy="466.2" r="2.8" fill="#ffffff"/><circle cx="812" cy="465.6" r="2.8" fill="#e6e6ff"/><circle cx="801.6" cy="472.2" r="2.8" fill="#e6e6ff"/><circle cx="768.6" cy="471.6" r="2.8" fill="#f2f2ff"/><circle cx="833.6" cy="465.6" r="2.8" fill="#ffd4d4"/><circle cx="833.6" cy="470.9" r="2.8" fill="#e6e6ff"/><circle cx="846.3" cy="471.6" r="2.8" fill="#e6e6ff"/><circle cx="814.1" cy="475.7" r="2.8" fill="#ffffff"/><circle cx="808.9" cy="478.3" r="2.8" fill="#f2f2ff"/><circle cx="808.1" cy="484.1" r="2.8" fill="#d4d4ff"/><circle cx="809.6" cy="486.9" r="2.8" fill="#e6e6ff"/><circle cx="658.3" cy="466.4" r="2.8" fill="#fff2f2"/><circle cx="624" cy="482.6" r="2.8" fill="#ff2b2b"/><circle cx="569.6" cy="491.7" r="2.8" fill="#e6e6ff"/><circle cx="643.6" cy="499.2" r="2.8" fill="#d4d4ff"/><circle cx="666.3" cy="506.8" r="2.8" fill="#ffe6e6"/><circle cx="714.8" cy="496.8" r="2.8" fill="#fff2f2"/><circle cx="734.7" cy="493.6" r="2.8" fill="#ffffff"/><circle cx="755.2" cy="494.5" r="2.8" fill="#f2f2ff"/><circle cx="801.6" cy="502" r="2.8" fill="#f2f2ff"/><circle cx="770.7" cy="508.7" r="2.8" fill="#f2f2ff"/><circle cx="693.3" cy="516.1" r="2.8" fill="#e6e6ff"/><circle cx="720.7" cy="520.4" r="2.8" fill="#ffffff"/><circle cx="754.6" cy="514.3" r="2.8" fill="#aaaaff"/><circle cx="816.7" cy="510" r="2.8" fill="#d4d4ff"/><circle cx="833.6" cy="490.6" r="2.8" fill="#e6e6ff"/><circle cx="851.2" cy="478.7" r="2.8" fill="#d4d4ff"/><circle cx="849.1" cy="480.9" r="2.8" fill="#d4d4ff"/><circle cx="869.6" cy="470.7" r="2.8" fill="#bfbfff"/><circle cx="849.1" cy="448.9" r="2.8" fill="#aaaaff"/><circle cx="686.3" cy="545" r="2.8" fill="#ffd4d4"/><circle cx="940.6" cy="495.3" r="2.8" fill="#d4d4ff"/><circle cx="838.3" cy="555.8" r="2.8" fill="#f2f2ff"/><circle cx="800.5" cy="571.5" r="2.8" fill="#ffffff"/><circle cx="883.6" cy="337.3" r="2.8" fill="#d4d4ff"/><circle cx="954.9" cy="358.7" r="2.8" fill="#d4d4ff"/><circle cx="928.5" cy="374" r="2.8" fill="#bfbfff"/><circle cx="886.4" cy="381.4" r="2.8" fill="#aaaaff"/><circle cx="842.6" cy="387.8" r="2.8" fill="#aaaaff"/><circle cx="958.1" cy="381.4" r="2.8" fill="#d4d4ff"/><circle cx="950.5" cy="387.4" r="2.8" fill="#d4d4ff"/><circle cx="1673.3" cy="177.8" r="2.8" fill="#d4d4ff"/><circle cx="1771.5" cy="238.3" r="2.8" fill="#ffffff"/><circle cx="1757.1" cy="269.6" r="2.8" fill="#ffe6e6"/><circle cx="1697.8" cy="278.6" r="2.8" fill="#fff2f2"/><circle cx="1670.1" cy="297.6" r="2.8" fill="#ffffff"/><circle cx="1702.1" cy="301.9" r="2.8" fill="#ffffff"/><circle cx="1767.9" cy="292.9" r="2.8" fill="#ffffff"/><circle cx="1770.8" cy="292.9" r="2.8" fill="#ffffff"/><circle cx="1661.8" cy="325.7" r="2.8" fill="#e6e6ff"/><circle cx="1687" cy="334.3" r="2.8" fill="#d4d4ff"/><circle cx="1693.1" cy="334.3" r="2.8" fill="#d4d4ff"/><circle cx="1799.2" cy="358.8" r="2.8" fill="#ffd4d4"/><circle cx="1711.4" cy="377.8" r="2.8" fill="#ffffff"/><circle cx="1819.4" cy="380.4" r="2.8" fill="#ffffff"/><circle cx="1735.5" cy="392.2" r="2.8" fill="#e6e6ff"/><circle cx="1661.8" cy="399.4" r="2.8" fill="#ffaaaa"/><circle cx="1887.3" cy="224.2" r="2.8" fill="#2828ff"/><circle cx="1955" cy="279.6" r="2.8" fill="#3737ff"/><circle cx="1915.4" cy="295.1" r="2.8" fill="#6e6eff"/><circle cx="1921.9" cy="319.9" r="2.8" fill="#f2f2ff"/><circle cx="2062.2" cy="328.9" r="2.8" fill="#4848ff"/><circle cx="2164.7" cy="337.2" r="2.8" fill="#3737ff"/><circle cx="2287" cy="321.7" r="2.8" fill="#6e6eff"/><circle cx="2281.2" cy="359.9" r="2.8" fill="#2828ff"/><circle cx="2288.8" cy="404.5" r="2.8" fill="#9595ff"/><circle cx="2197.1" cy="430" r="2.8" fill="#d4d4ff"/><circle cx="2356" cy="415.3" r="2.8" fill="#d4d4ff"/><circle cx="1903.5" cy="480.4" r="2.8" fill="#ffe6e6"/><circle cx="1902.8" cy="499.1" r="2.8" fill="#ffd4d4"/><circle cx="1927.3" cy="500.9" r="2.8" fill="#ffd4d4"/><circle cx="1939.9" cy="506.6" r="2.8" fill="#ffffff"/><circle cx="1955.7" cy="516" r="2.8" fill="#ffbfbf"/><circle cx="1890.9" cy="528.9" r="2.8" fill="#bfbfff"/><circle cx="1925.5" cy="531.1" r="2.8" fill="#fff2f2"/><circle cx="1961.4" cy="537.9" r="2.8" fill="#fff2f2"/><circle cx="2001" cy="541.9" r="2.8" fill="#ffd4d4"/><circle cx="2035.9" cy="539" r="2.8" fill="#ff4040"/><circle cx="2081.6" cy="540.1" r="2.8" fill="#fff2f2"/><circle cx="1937" cy="544" r="2.8" fill="#ffffff"/><circle cx="1894.5" cy="553" r="2.8" fill="#e6e6ff"/><circle cx="1990.9" cy="551.9" r="2.8" fill="#fff2f2"/><circle cx="1975.8" cy="555.5" r="2.8" fill="#fff2f2"/><circle cx="2071.2" cy="557.7" r="2.8" fill="#ffd4d4"/><circle cx="1763.6" cy="523.2" r="2.8" fill="#e6e6ff"/><circle cx="2264.3" cy="504.5" r="2.8" fill="#d4d4ff"/><circle cx="2330.9" cy="477.5" r="2.8" fill="#d4d4ff"/><circle cx="1937.7" cy="544.3" r="2.8" fill="#ffffff"/><circle cx="1961.8" cy="540" r="2.8" fill="#ffd4d4"/><circle cx="2000.6" cy="542.9" r="2.8" fill="#ffbfbf"/><circle cx="1894.5" cy="553.3" r="2.8" fill="#d4d4ff"/><circle cx="1885.5" cy="558" r="2.8" fill="#ffffff"/><circle cx="1975.5" cy="555.5" r="2.8" fill="#ffd4d4"/><circle cx="1990.6" cy="552.6" r="2.8" fill="#ffbfbf"/><circle cx="1970.8" cy="566.3" r="2.8" fill="#ffe6e6"/><circle cx="2040.2" cy="564.1" r="2.8" fill="#ff8080"/><circle cx="2070.8" cy="558" r="2.8" fill="#ffd4d4"/><circle cx="1951" cy="576" r="2.8" fill="#d4d4ff"/><circle cx="2042" cy="577.1" r="2.8" fill="#ffe6e6"/><circle cx="2067.2" cy="577.8" r="2.8" fill="#ffd4d4"/><circle cx="1994.5" cy="587.8" r="2.8" fill="#ffe6e6"/><circle cx="1976.2" cy="590.4" r="2.8" fill="#ffe6e6"/><circle cx="1961.8" cy="594" r="2.8" fill="#f2f2ff"/><circle cx="2026.9" cy="594.7" r="2.8" fill="#ffd4d4"/><circle cx="2078" cy="597.6" r="2.8" fill="#ffd4d4"/><circle cx="1932.3" cy="607.6" r="2.8" fill="#d4d4ff"/><circle cx="1940.2" cy="611.2" r="2.8" fill="#ffe6e6"/><circle cx="1955.7" cy="618.4" r="2.8" fill="#fff2f2"/><circle cx="2009.6" cy="617.3" r="2.8" fill="#ffffff"/><circle cx="2106.8" cy="625.6" r="2.8" fill="#d4d4ff"/><circle cx="1972.6" cy="657.6" r="2.8" fill="#e6e6ff"/><circle cx="1991.7" cy="657.6" r="2.8" fill="#f2f2ff"/><circle cx="2085.2" cy="668.4" r="2.8" fill="#ffd4d4"/><circle cx="1964" cy="683.9" r="2.8" fill="#ffffff"/><circle cx="1991.7" cy="685" r="2.8" fill="#e6e6ff"/><circle cx="1991.7" cy="699.4" r="2.8" fill="#ffffff"/><circle cx="1998.1" cy="705.5" r="2.8" fill="#ffffff"/><circle cx="2006" cy="702.6" r="2.8" fill="#ffffff"/><circle cx="1992.7" cy="708.3" r="2.8" fill="#ffffff"/><circle cx="1995.3" cy="717" r="2.8" fill="#ffffff"/><circle cx="2172.6" cy="755.8" r="2.8" fill="#ffffff"/><circle cx="2193.1" cy="819.5" r="2.8" fill="#e6e6ff"/><circle cx="2442.5" cy="1020.2" r="2.8" fill="#ffffff"/><circle cx="2457.6" cy="1020.2" r="2.8" fill="#aaaaff"/><circle cx="2468.6" cy="1022.5" r="2.8" fill="#e6e6ff"/><circle cx="2479.6" cy="1018.1" r="2.8" fill="#e6e6ff"/><circle cx="2481.4" cy="1024" r="2.8" fill="#e6e6ff"/><circle cx="2469.9" cy="1028.9" r="2.8" fill="#ffffff"/><circle cx="2497.5" cy="1015.1" r="2.8" fill="#ffffff"/><circle cx="2443.5" cy="1048.8" r="2.8" fill="#ffffff"/><circle cx="2455.8" cy="1048.8" r="2.8" fill="#bfbfff"/><circle cx="2464.8" cy="1052.7" r="2.8" fill="#d4d4ff"/><circle cx="2473.2" cy="1044.5" r="2.8" fill="#bfbfff"/><circle cx="2374" cy="1063.4" r="2.8" fill="#fff2f2"/><circle cx="2414.4" cy="1066.7" r="2.8" fill="#ffffff"/><circle cx="2433.3" cy="1064.2" r="2.8" fill="#ffffff"/><circle cx="2440.5" cy="1072.4" r="2.8" fill="#e6e6ff"/><circle cx="2449.4" cy="1069.8" r="2.8" fill="#aaaaff"/><circle cx="2425.9" cy="1080" r="2.8" fill="#ffaaaa"/><circle cx="2439.7" cy="1084.1" r="2.8" fill="#fff2f2"/><circle cx="2403.9" cy="1085.9" r="2.8" fill="#fff2f2"/><circle cx="2375.2" cy="1085.9" r="2.8" fill="#ffffff"/><circle cx="2378.3" cy="1089.8" r="2.8" fill="#aaaaff"/><circle cx="2389.3" cy="1094.9" r="2.8" fill="#fff2f2"/><circle cx="2408.5" cy="1096.7" r="2.8" fill="#fff2f2"/><circle cx="2512.6" cy="1157.6" r="2.8" fill="#e6e6ff"/><circle cx="2615.7" cy="1079" r="2.8" fill="#aaaaff"/><circle cx="2599.6" cy="1095.7" r="2.8" fill="#aaaaff"/><circle cx="2371.4" cy="967.9" r="2.8" fill="#9595ff"/><circle cx="2441.7" cy="1019.5" r="2.8" fill="#ffffff"/><circle cx="2457.1" cy="1019.5" r="2.8" fill="#bfbfff"/><circle cx="2479.6" cy="1018.3" r="2.8" fill="#ffffff"/><circle cx="2497.5" cy="1014.9" r="2.8" fill="#ffffff"/><circle cx="976.3" cy="997.9" r="2.8" fill="#ffffff"/><circle cx="974.5" cy="1013" r="2.8" fill="#d4d4ff"/><circle cx="1301.8" cy="694.7" r="2.8" fill="#ffffff"/><circle cx="1449.3" cy="764.1" r="2.8" fill="#ffffff"/><circle cx="924.1" cy="616.6" r="2.8" fill="#ffffff"/><circle cx="837.8" cy="555.5" r="2.8" fill="#ffffff"/><circle cx="976.6" cy="997.9" r="2.8" fill="#ffffff"/><circle cx="974.5" cy="1013.4" r="2.8" fill="#bfbfff"/><circle cx="943.2" cy="1032.1" r="2.8" fill="#9595ff"/><circle cx="970.1" cy="1034.2" r="2.8" fill="#fff2f2"/><circle cx="988.8" cy="1057.6" r="2.8" fill="#ffffff"/><circle cx="970.9" cy="1093.6" r="2.8" fill="#ffffff"/><circle cx="1529.5" cy="1052.9" r="2.8" fill="#aaaaff"/><circle cx="899.7" cy="1047.6" r="2.8" fill="#ffffff"/><circle cx="214.5" cy="1137.5" r="2.8" fill="#d4d4ff"/><circle cx="1329.1" cy="501.6" r="2.8" fill="#fff2f2"/><circle cx="1406.5" cy="482.9" r="2.8" fill="#aaaaff"/><circle cx="1419.8" cy="482.2" r="2.8" fill="#aaaaff"/><circle cx="1612.2" cy="504.5" r="2.8" fill="#fff2f2"/><circle cx="1649.3" cy="498.3" r="2.8" fill="#ffe6e6"/><circle cx="1299.3" cy="219.2" r="2.8" fill="#ffffff"/><circle cx="1297.5" cy="225" r="2.8" fill="#ffffff"/><circle cx="1274.1" cy="237.2" r="2.8" fill="#e6e6ff"/><circle cx="1318.3" cy="232.9" r="2.8" fill="#bfbfff"/><circle cx="1282.4" cy="242.6" r="2.8" fill="#ffffff"/><circle cx="1109.7" cy="174.6" r="2.8" fill="#fff2f2"/><circle cx="1123.7" cy="198.7" r="2.8" fill="#ffffff"/><circle cx="1104.3" cy="236.5" r="2.8" fill="#ffd4d4"/><circle cx="1115.8" cy="258.8" r="2.8" fill="#ff8080"/><circle cx="1126.6" cy="262.4" r="2.8" fill="#ffaaaa"/><circle cx="1132.7" cy="258.8" r="2.8" fill="#ff9595"/><circle cx="1221.2" cy="448.7" r="2.8" fill="#ffe6e6"/><circle cx="940.6" cy="494.7" r="2.8" fill="#bfbfff"/><circle cx="1359.7" cy="253.4" r="2.8" fill="#ffffff"/><circle cx="1392.1" cy="267.1" r="2.8" fill="#d4d4ff"/><circle cx="1341.7" cy="439.7" r="2.8" fill="#d4d4ff"/><circle cx="1336.3" cy="440.8" r="2.8" fill="#d4d4ff"/><circle cx="1352.5" cy="439" r="2.8" fill="#e6e6ff"/><circle cx="1288.5" cy="205.9" r="2.8" fill="#ffffff"/><circle cx="361.2" cy="289.4" r="2.8" fill="#ffffff"/><circle cx="301.5" cy="915.2" r="2.8" fill="#d4d4ff"/><circle cx="673.8" cy="604" r="2.8" fill="#ffffff"/><circle cx="680.3" cy="606.9" r="2.8" fill="#e6e6ff"/><circle cx="846.3" cy="415.7" r="2.8" fill="#aaaaff"/><circle cx="838.8" cy="399.7" r="2.8" fill="#d4d4ff"/><circle cx="872.1" cy="384.2" r="2.8" fill="#9595ff"/><circle cx="835.2" cy="403.9" r="2.8" fill="#bfbfff"/><circle cx="848" cy="399" r="2.8" fill="#aaaaff"/><circle cx="873.2" cy="416.8" r="2.8" fill="#aaaaff"/><circle cx="869.5" cy="397.7" r="2.8" fill="#8484ff"/><circle cx="863.7" cy="405.5" r="2.8" fill="#aaaaff"/><circle cx="842.7" cy="386.3" r="2.8" fill="#bfbfff"/><circle cx="857.5" cy="399.5" r="2.8" fill="#d4d4ff"/><circle cx="867.3" cy="393.6" r="2.8" fill="#9595ff"/><circle cx="867.7" cy="395.4" r="2.8" fill="#aaaaff"/><circle cx="843" cy="392.4" r="2.8" fill="#aaaaff"/><circle cx="867.5" cy="401.3" r="2.8" fill="#bfbfff"/><circle cx="875.6" cy="402.6" r="2.8" fill="#d4d4ff"/><circle cx="849.8" cy="411.6" r="2.8" fill="#bfbfff"/><circle cx="868" cy="411.8" r="2.8" fill="#aaaaff"/><circle cx="868.5" cy="385.6" r="2.8" fill="#bfbfff"/><circle cx="857.6" cy="381.3" r="2.8" fill="#aaaaff"/><circle cx="856.7" cy="415.1" r="2.8" fill="#aaaaff"/><circle cx="842.3" cy="401.6" r="2.8" fill="#aaaaff"/><circle cx="879.9" cy="418.8" r="2.8" fill="#aaaaff"/><circle cx="850.2" cy="407.4" r="2.8" fill="#f2f2ff"/><circle cx="864.8" cy="403" r="2.8" fill="#9595ff"/><circle cx="884.7" cy="402.2" r="2.8" fill="#9595ff"/><circle cx="840.8" cy="392.8" r="2.8" fill="#f2f2ff"/><circle cx="847.8" cy="405.9" r="2.8" fill="#d4d4ff"/><circle cx="834.9" cy="402.8" r="2.8" fill="#bfbfff"/><circle cx="867.1" cy="401.4" r="2.8" fill="#aaaaff"/><circle cx="870.1" cy="416.6" r="2.8" fill="#aaaaff"/><circle cx="862.4" cy="383.9" r="2.8" fill="#e6e6ff"/><circle cx="837.8" cy="403.3" r="2.8" fill="#d4d4ff"/><circle cx="886.7" cy="387.9" r="2.8" fill="#9595ff"/><circle cx="879.9" cy="381" r="2.8" fill="#aaaaff"/><circle cx="878.9" cy="419.7" r="2.8" fill="#aaaaff"/><circle cx="878.7" cy="392.3" r="2.8" fill="#9595ff"/><circle cx="880.8" cy="430.2" r="2.8" fill="#bfbfff"/><circle cx="906.6" cy="402.4" r="2.8" fill="#aaaaff"/><circle cx="905.6" cy="402" r="2.8" fill="#8484ff"/><circle cx="906.1" cy="390.5" r="2.8" fill="#bfbfff"/><circle cx="895" cy="412.3" r="2.8" fill="#d4d4ff"/><circle cx="871.8" cy="420.8" r="2.8" fill="#9595ff"/><circle cx="880.7" cy="402.8" r="2.8" fill="#9595ff"/><circle cx="866.8" cy="423.4" r="2.8" fill="#9595ff"/><circle cx="872" cy="420.8" r="2.8" fill="#bfbfff"/><circle cx="877.5" cy="418.8" r="2.8" fill="#aaaaff"/><circle cx="908.6" cy="408.6" r="2.8" fill="#9595ff"/><circle cx="931.5" cy="384.9" r="2.8" fill="#bfbfff"/><circle cx="898.7" cy="416" r="2.8" fill="#9595ff"/><circle cx="876.1" cy="414.6" r="2.8" fill="#aaaaff"/><circle cx="904.5" cy="398.6" r="2.8" fill="#8484ff"/><circle cx="892.3" cy="386.8" r="2.8" fill="#9595ff"/><circle cx="882" cy="405.4" r="2.8" fill="#8484ff"/><circle cx="915.5" cy="416.7" r="2.8" fill="#9595ff"/><circle cx="911.2" cy="418.4" r="2.8" fill="#aaaaff"/><circle cx="886.6" cy="405.5" r="2.8" fill="#aaaaff"/><circle cx="912.8" cy="402.2" r="2.8" fill="#aaaaff"/><circle cx="926.2" cy="392.9" r="2.8" fill="#aaaaff"/><circle cx="884.4" cy="407.7" r="2.8" fill="#8484ff"/><circle cx="936.9" cy="394.1" r="2.8" fill="#e6e6ff"/><circle cx="891.3" cy="398.6" r="2.8" fill="#aaaaff"/><circle cx="906.6" cy="387.4" r="2.8" fill="#9595ff"/><circle cx="881.5" cy="419.9" r="2.8" fill="#aaaaff"/><circle cx="892.7" cy="408.2" r="2.8" fill="#8484ff"/><circle cx="903.9" cy="400.4" r="2.8" fill="#9595ff"/><circle cx="899.4" cy="397.7" r="2.8" fill="#aaaaff"/><circle cx="896.6" cy="422.2" r="2.8" fill="#aaaaff"/><circle cx="885.1" cy="387" r="2.8" fill="#aaaaff"/><circle cx="904.4" cy="396.3" r="2.8" fill="#9595ff"/><circle cx="874.6" cy="423.4" r="2.8" fill="#d4d4ff"/><circle cx="930" cy="385.5" r="2.8" fill="#9595ff"/><circle cx="882.6" cy="405.2" r="2.8" fill="#8484ff"/><circle cx="881.2" cy="385.9" r="2.8" fill="#8484ff"/><circle cx="911.3" cy="387.6" r="2.8" fill="#aaaaff"/><circle cx="885.3" cy="407.4" r="2.8" fill="#aaaaff"/><circle cx="886.9" cy="411.1" r="2.8" fill="#9595ff"/><circle cx="851.8" cy="434.9" r="2.8" fill="#e6e6ff"/><circle cx="877.4" cy="432.4" r="2.8" fill="#d4d4ff"/><circle cx="884.9" cy="430.3" r="2.8" fill="#9595ff"/><circle cx="869" cy="442.2" r="2.8" fill="#9595ff"/><circle cx="885.7" cy="433.7" r="2.8" fill="#8484ff"/><circle cx="853.9" cy="439" r="2.8" fill="#aaaaff"/><circle cx="868.1" cy="448.8" r="2.8" fill="#e6e6ff"/><circle cx="867.5" cy="451.4" r="2.8" fill="#bfbfff"/><circle cx="844.5" cy="456.5" r="2.8" fill="#e6e6ff"/><circle cx="872.7" cy="434.2" r="2.8" fill="#aaaaff"/><circle cx="866.3" cy="439.2" r="2.8" fill="#bfbfff"/><circle cx="875" cy="444.6" r="2.8" fill="#e6e6ff"/><circle cx="865.3" cy="451.4" r="2.8" fill="#bfbfff"/><circle cx="889" cy="429.8" r="2.8" fill="#aaaaff"/><circle cx="851.2" cy="444.9" r="2.8" fill="#aaaaff"/><circle cx="873.9" cy="445.4" r="2.8" fill="#bfbfff"/><circle cx="877.4" cy="433.4" r="2.8" fill="#aaaaff"/><circle cx="859.5" cy="451.2" r="2.8" fill="#aaaaff"/><circle cx="872.1" cy="426.5" r="2.8" fill="#aaaaff"/><circle cx="852.7" cy="445.3" r="2.8" fill="#d4d4ff"/><circle cx="857.8" cy="453.2" r="2.8" fill="#bfbfff"/><circle cx="849.2" cy="447.5" r="2.8" fill="#bfbfff"/><circle cx="1475.7" cy="362.8" r="2.8" fill="#9595ff"/><circle cx="1462.2" cy="359" r="2.8" fill="#aaaaff"/><circle cx="1473.5" cy="381.4" r="2.8" fill="#bfbfff"/><circle cx="1509.9" cy="379.4" r="2.8" fill="#d4d4ff"/><circle cx="1452.5" cy="340" r="2.8" fill="#aaaaff"/><circle cx="1454.1" cy="378.2" r="2.8" fill="#bfbfff"/><circle cx="1498" cy="351.2" r="2.8" fill="#d4d4ff"/><circle cx="1463.8" cy="358.1" r="2.8" fill="#d4d4ff"/><circle cx="1488.3" cy="380.1" r="2.8" fill="#9595ff"/><circle cx="1495.9" cy="375.5" r="2.8" fill="#aaaaff"/><circle cx="1454.2" cy="383.7" r="2.8" fill="#9595ff"/><circle cx="1496.4" cy="380.4" r="2.8" fill="#bfbfff"/><circle cx="1436.8" cy="342.1" r="2.8" fill="#e6e6ff"/><circle cx="1432.3" cy="335.7" r="2.8" fill="#d4d4ff"/><circle cx="1505.6" cy="371.3" r="2.8" fill="#bfbfff"/><circle cx="1435.2" cy="349.6" r="2.8" fill="#9595ff"/><circle cx="1509" cy="371.6" r="2.8" fill="#bfbfff"/><circle cx="1448.3" cy="369.1" r="2.8" fill="#aaaaff"/><circle cx="1474.6" cy="374.4" r="2.8" fill="#e6e6ff"/><circle cx="1472.2" cy="375.8" r="2.8" fill="#bfbfff"/><circle cx="1493.1" cy="335.7" r="2.8" fill="#9595ff"/><circle cx="1433" cy="348.4" r="2.8" fill="#aaaaff"/><circle cx="1473.1" cy="372.4" r="2.8" fill="#e6e6ff"/><circle cx="1439.9" cy="344.2" r="2.8" fill="#d4d4ff"/><circle cx="1483.4" cy="357.6" r="2.8" fill="#d4d4ff"/><circle cx="1508.9" cy="369.3" r="2.8" fill="#d4d4ff"/><circle cx="1509.7" cy="367.6" r="2.8" fill="#bfbfff"/><circle cx="1464.2" cy="367.4" r="2.8" fill="#8484ff"/><circle cx="1499.5" cy="383.9" r="2.8" fill="#d4d4ff"/><circle cx="1467" cy="381.8" r="2.8" fill="#d4d4ff"/><circle cx="1499.6" cy="351.5" r="2.8" fill="#d4d4ff"/><circle cx="1478.4" cy="350.4" r="2.8" fill="#9595ff"/><circle cx="1469" cy="376.8" r="2.8" fill="#e6e6ff"/><circle cx="1432.6" cy="366.6" r="2.8" fill="#aaaaff"/><circle cx="1508.1" cy="357.5" r="2.8" fill="#d4d4ff"/><circle cx="1434.3" cy="341.1" r="2.8" fill="#bfbfff"/><circle cx="1461.2" cy="384.5" r="2.8" fill="#bfbfff"/><circle cx="1439" cy="370.8" r="2.8" fill="#aaaaff"/><circle cx="1451" cy="346.3" r="2.8" fill="#aaaaff"/><circle cx="1453.7" cy="380.1" r="2.8" fill="#bfbfff"/><circle cx="1478.4" cy="365.1" r="2.8" fill="#bfbfff"/><circle cx="1456.5" cy="373" r="2.8" fill="#9595ff"/><circle cx="1482.9" cy="349.3" r="2.8" fill="#d4d4ff"/><circle cx="1491.1" cy="349" r="2.8" fill="#e6e6ff"/><circle cx="1443.4" cy="348.9" r="2.8" fill="#9595ff"/><circle cx="1435.1" cy="343.4" r="2.8" fill="#d4d4ff"/><circle cx="1488.4" cy="344.6" r="2.8" fill="#aaaaff"/><circle cx="1502.3" cy="347.5" r="2.8" fill="#9595ff"/><circle cx="1496.5" cy="355.7" r="2.8" fill="#bfbfff"/><circle cx="1439.5" cy="382.5" r="2.8" fill="#aaaaff"/><circle cx="1507.8" cy="365.9" r="2.8" fill="#f2f2ff"/><circle cx="1475.5" cy="353.6" r="2.8" fill="#bfbfff"/><circle cx="1471.8" cy="384.4" r="2.8" fill="#aaaaff"/><circle cx="1490.7" cy="359.7" r="2.8" fill="#aaaaff"/><circle cx="1485.2" cy="381.3" r="2.8" fill="#e6e6ff"/><circle cx="1452.7" cy="380.9" r="2.8" fill="#aaaaff"/><circle cx="1450" cy="347.3" r="2.8" fill="#bfbfff"/><circle cx="1488.3" cy="336.6" r="2.8" fill="#e6e6ff"/><circle cx="1499.9" cy="380.8" r="2.8" fill="#d4d4ff"/><circle cx="1491.7" cy="354.1" r="2.8" fill="#bfbfff"/><circle cx="1438.7" cy="377.3" r="2.8" fill="#aaaaff"/><circle cx="1482.5" cy="350.4" r="2.8" fill="#aaaaff"/><circle cx="1433.7" cy="381.6" r="2.8" fill="#aaaaff"/><circle cx="1509.9" cy="379.6" r="2.8" fill="#d4d4ff"/><circle cx="1485.7" cy="370.2" r="2.8" fill="#bfbfff"/><circle cx="1468.6" cy="361.5" r="2.8" fill="#aaaaff"/><circle cx="1509.7" cy="357.4" r="2.8" fill="#d4d4ff"/><circle cx="1506.7" cy="338.5" r="2.8" fill="#9595ff"/><circle cx="1455.7" cy="380.8" r="2.8" fill="#d4d4ff"/><circle cx="1510.4" cy="365.4" r="2.8" fill="#d4d4ff"/><circle cx="1438.6" cy="380.1" r="2.8" fill="#aaaaff"/><circle cx="1508.2" cy="378" r="2.8" fill="#d4d4ff"/><circle cx="1500.7" cy="349.9" r="2.8" fill="#d4d4ff"/><circle cx="1470" cy="341.4" r="2.8" fill="#d4d4ff"/><circle cx="1434.7" cy="384.4" r="2.8" fill="#d4d4ff"/><circle cx="1485.8" cy="364.5" r="2.8" fill="#aaaaff"/><circle cx="1465" cy="366" r="2.8" fill="#9595ff"/><circle cx="1499.8" cy="384.5" r="2.8" fill="#d4d4ff"/><circle cx="1499.3" cy="378.6" r="2.8" fill="#d4d4ff"/><circle cx="1486.5" cy="340.2" r="2.8" fill="#bfbfff"/><circle cx="1452.8" cy="381.4" r="2.8" fill="#bfbfff"/><circle cx="1509.9" cy="355.5" r="2.8" fill="#d4d4ff"/><circle cx="1503.5" cy="347.3" r="2.8" fill="#9595ff"/><circle cx="1455" cy="382" r="2.8" fill="#aaaaff"/><circle cx="1483" cy="377.2" r="2.8" fill="#bfbfff"/><circle cx="1466.8" cy="368.9" r="2.8" fill="#bfbfff"/><circle cx="1493.9" cy="363.4" r="2.8" fill="#9595ff"/><circle cx="1495.2" cy="353.4" r="2.8" fill="#bfbfff"/><circle cx="1490" cy="382.1" r="2.8" fill="#d4d4ff"/><circle cx="1466.7" cy="347.5" r="2.8" fill="#bfbfff"/><circle cx="1468.9" cy="339.7" r="2.8" fill="#aaaaff"/><circle cx="1445.7" cy="364.1" r="2.8" fill="#aaaaff"/><circle cx="1454.9" cy="348.1" r="2.8" fill="#aaaaff"/><circle cx="1464.6" cy="372.8" r="2.8" fill="#d4d4ff"/><circle cx="1476.1" cy="365.1" r="2.8" fill="#aaaaff"/><circle cx="1483.8" cy="380.8" r="2.8" fill="#e6e6ff"/><circle cx="1475.4" cy="362.2" r="2.8" fill="#bfbfff"/><circle cx="1510.4" cy="362.3" r="2.8" fill="#bfbfff"/><circle cx="1475.8" cy="372.5" r="2.8" fill="#aaaaff"/><circle cx="1459.8" cy="380.1" r="2.8" fill="#aaaaff"/><circle cx="1460.2" cy="344.7" r="2.8" fill="#bfbfff"/><circle cx="1500.6" cy="347.6" r="2.8" fill="#e6e6ff"/><circle cx="1461.5" cy="347.8" r="2.8" fill="#aaaaff"/><circle cx="1462" cy="367.8" r="2.8" fill="#8484ff"/><circle cx="1470.9" cy="356.2" r="2.8" fill="#bfbfff"/><circle cx="1442" cy="359.7" r="2.8" fill="#aaaaff"/><circle cx="1438.7" cy="340.4" r="2.8" fill="#d4d4ff"/><circle cx="1463.6" cy="362.5" r="2.8" fill="#aaaaff"/><circle cx="1497.1" cy="341.6" r="2.8" fill="#9595ff"/><circle cx="1442.2" cy="363.5" r="2.8" fill="#d4d4ff"/><circle cx="1508" cy="360.4" r="2.8" fill="#bfbfff"/><circle cx="1461.7" cy="339" r="2.8" fill="#e6e6ff"/><circle cx="1509.3" cy="372.3" r="2.8" fill="#bfbfff"/><circle cx="1450.3" cy="377" r="2.8" fill="#9595ff"/><circle cx="1504.9" cy="349" r="2.8" fill="#f2f2ff"/><circle cx="1438.3" cy="346.3" r="2.8" fill="#9595ff"/><circle cx="1494.4" cy="373.1" r="2.8" fill="#9595ff"/><circle cx="1483.3" cy="369.5" r="2.8" fill="#aaaaff"/><circle cx="1481.1" cy="358.5" r="2.8" fill="#d4d4ff"/><circle cx="1488.1" cy="379" r="2.8" fill="#aaaaff"/><circle cx="1433" cy="322.8" r="2.8" fill="#9595ff"/><circle cx="1454.5" cy="324" r="2.8" fill="#bfbfff"/><circle cx="1468.3" cy="332.7" r="2.8" fill="#bfbfff"/><circle cx="1455" cy="302.9" r="2.8" fill="#d4d4ff"/><circle cx="1454.6" cy="301.9" r="2.8" fill="#d4d4ff"/><circle cx="1483.2" cy="332.1" r="2.8" fill="#e6e6ff"/><circle cx="1491.7" cy="320.3" r="2.8" fill="#bfbfff"/><circle cx="1436" cy="324.7" r="2.8" fill="#bfbfff"/><circle cx="1462.6" cy="292.4" r="2.8" fill="#e6e6ff"/><circle cx="1490.8" cy="328.3" r="2.8" fill="#d4d4ff"/><circle cx="1463.1" cy="315.3" r="2.8" fill="#9595ff"/><circle cx="1472.2" cy="320.2" r="2.8" fill="#aaaaff"/><circle cx="1490.9" cy="290.8" r="2.8" fill="#bfbfff"/><circle cx="1457.6" cy="312.8" r="2.8" fill="#bfbfff"/><circle cx="1468.4" cy="317.1" r="2.8" fill="#bfbfff"/><circle cx="1492.2" cy="314" r="2.8" fill="#aaaaff"/><circle cx="1478.4" cy="295.9" r="2.8" fill="#d4d4ff"/><circle cx="1452.1" cy="319.8" r="2.8" fill="#e6e6ff"/><circle cx="1486.2" cy="319" r="2.8" fill="#bfbfff"/><circle cx="1461.8" cy="296.7" r="2.8" fill="#aaaaff"/><circle cx="1490.2" cy="316.7" r="2.8" fill="#bfbfff"/><circle cx="1485.2" cy="296.3" r="2.8" fill="#aaaaff"/><circle cx="1489.1" cy="326.5" r="2.8" fill="#bfbfff"/><circle cx="1478.7" cy="298.3" r="2.8" fill="#bfbfff"/><circle cx="1443.1" cy="319.9" r="2.8" fill="#bfbfff"/><circle cx="1456.9" cy="316.5" r="2.8" fill="#aaaaff"/><circle cx="1437.5" cy="332.3" r="2.8" fill="#9595ff"/><circle cx="1454.2" cy="309.1" r="2.8" fill="#aaaaff"/><circle cx="1489.8" cy="293" r="2.8" fill="#aaaaff"/><circle cx="1438.8" cy="331.3" r="2.8" fill="#aaaaff"/><circle cx="1351.9" cy="314.8" r="2.8" fill="#e6e6ff"/><circle cx="1386.5" cy="338.9" r="2.8" fill="#bfbfff"/><circle cx="1368.3" cy="295.4" r="2.8" fill="#e6e6ff"/><circle cx="1358.1" cy="327.5" r="2.8" fill="#e6e6ff"/><circle cx="1349.9" cy="313.9" r="2.8" fill="#e6e6ff"/><circle cx="1345.2" cy="326.6" r="2.8" fill="#d4d4ff"/><circle cx="1397.5" cy="333.7" r="2.8" fill="#aaaaff"/><circle cx="1368.6" cy="286.6" r="2.8" fill="#ffffff"/><circle cx="1383.2" cy="292.9" r="2.8" fill="#9595ff"/><circle cx="1383.6" cy="332" r="2.8" fill="#bfbfff"/><circle cx="1383.6" cy="342" r="2.8" fill="#9595ff"/><circle cx="1369.3" cy="308.6" r="2.8" fill="#aaaaff"/><circle cx="1386" cy="319.3" r="2.8" fill="#bfbfff"/><circle cx="1390.9" cy="333" r="2.8" fill="#9595ff"/><circle cx="1381" cy="321.6" r="2.8" fill="#aaaaff"/><circle cx="1369.5" cy="307" r="2.8" fill="#bfbfff"/><circle cx="1391.5" cy="335.3" r="2.8" fill="#bfbfff"/><circle cx="1361.9" cy="310.6" r="2.8" fill="#d4d4ff"/><circle cx="1350.4" cy="312.7" r="2.8" fill="#e6e6ff"/><circle cx="1384.6" cy="341.4" r="2.8" fill="#aaaaff"/><circle cx="1385.7" cy="287.2" r="2.8" fill="#d4d4ff"/><circle cx="1383.3" cy="333.6" r="2.8" fill="#e6e6ff"/><circle cx="1380.5" cy="294.1" r="2.8" fill="#9595ff"/><circle cx="1386.9" cy="324.5" r="2.8" fill="#d4d4ff"/><circle cx="1382.7" cy="308.6" r="2.8" fill="#bfbfff"/><circle cx="1385.7" cy="325.6" r="2.8" fill="#bfbfff"/><circle cx="1371.5" cy="301" r="2.8" fill="#e6e6ff"/><circle cx="1375.8" cy="334.8" r="2.8" fill="#9595ff"/><circle cx="1383.9" cy="312.8" r="2.8" fill="#bfbfff"/><circle cx="1372.8" cy="303.8" r="2.8" fill="#e6e6ff"/><circle cx="1368.6" cy="342.8" r="2.8" fill="#bfbfff"/><circle cx="1370.7" cy="341" r="2.8" fill="#e6e6ff"/><circle cx="1376.6" cy="301.1" r="2.8" fill="#9595ff"/><circle cx="1384.6" cy="341.7" r="2.8" fill="#bfbfff"/><circle cx="1346.9" cy="311.8" r="2.8" fill="#f2f2ff"/><circle cx="1401.4" cy="327.1" r="2.8" fill="#aaaaff"/><circle cx="1383" cy="329.6" r="2.8" fill="#bfbfff"/><circle cx="1402.1" cy="328" r="2.8" fill="#e6e6ff"/><circle cx="1352.7" cy="311.9" r="2.8" fill="#ffffff"/><circle cx="1356.2" cy="328.8" r="2.8" fill="#e6e6ff"/><circle cx="1441.2" cy="282" r="2.8" fill="#aaaaff"/><circle cx="1443.6" cy="256.6" r="2.8" fill="#d4d4ff"/><circle cx="1454.9" cy="245.8" r="2.8" fill="#bfbfff"/><circle cx="1462.4" cy="242.8" r="2.8" fill="#e6e6ff"/><circle cx="1450.4" cy="258.9" r="2.8" fill="#bfbfff"/><circle cx="1437.1" cy="260.8" r="2.8" fill="#e6e6ff"/><circle cx="1459.1" cy="267.7" r="2.8" fill="#d4d4ff"/><circle cx="1469.6" cy="259" r="2.8" fill="#bfbfff"/><circle cx="1441.6" cy="280.1" r="2.8" fill="#bfbfff"/><circle cx="1433.4" cy="252.1" r="2.8" fill="#aaaaff"/><circle cx="1439.1" cy="261.6" r="2.8" fill="#d4d4ff"/><circle cx="1452.9" cy="242.1" r="2.8" fill="#d4d4ff"/><circle cx="1457.7" cy="251.9" r="2.8" fill="#d4d4ff"/><circle cx="1432.5" cy="257.4" r="2.8" fill="#e6e6ff"/><circle cx="1462.8" cy="246.5" r="2.8" fill="#9595ff"/><circle cx="1502.5" cy="276.9" r="2.8" fill="#aaaaff"/><circle cx="1529.7" cy="248" r="2.8" fill="#9595ff"/><circle cx="1539.9" cy="250.8" r="2.8" fill="#9595ff"/><circle cx="1523.3" cy="204.2" r="2.8" fill="#d4d4ff"/><circle cx="1507.3" cy="272.2" r="2.8" fill="#8484ff"/><circle cx="1557.9" cy="234.5" r="2.8" fill="#d4d4ff"/><circle cx="1460.9" cy="296" r="2.8" fill="#9595ff"/><circle cx="1508.1" cy="275.3" r="2.8" fill="#8484ff"/><circle cx="1571.9" cy="290.9" r="2.8" fill="#d4d4ff"/><circle cx="1476.9" cy="279.8" r="2.8" fill="#d4d4ff"/><circle cx="1558.4" cy="282.7" r="2.8" fill="#d4d4ff"/><circle cx="1463.3" cy="231" r="2.8" fill="#e6e6ff"/><circle cx="1549.8" cy="302.6" r="2.8" fill="#d4d4ff"/><circle cx="1544" cy="249.1" r="2.8" fill="#d4d4ff"/><circle cx="1485.5" cy="229" r="2.8" fill="#bfbfff"/><circle cx="1492.2" cy="217.4" r="2.8" fill="#d4d4ff"/><circle cx="1547.7" cy="242.6" r="2.8" fill="#aaaaff"/><circle cx="1570.2" cy="293.2" r="2.8" fill="#aaaaff"/><circle cx="1561.2" cy="279.4" r="2.8" fill="#bfbfff"/><circle cx="1547.1" cy="265" r="2.8" fill="#bfbfff"/><circle cx="1498.8" cy="275.1" r="2.8" fill="#d4d4ff"/><circle cx="1511.2" cy="241.7" r="2.8" fill="#8484ff"/><circle cx="1557.7" cy="252.3" r="2.8" fill="#aaaaff"/><circle cx="1480.1" cy="231.4" r="2.8" fill="#aaaaff"/><circle cx="1564.8" cy="222.8" r="2.8" fill="#bfbfff"/><circle cx="1346.3" cy="406.3" r="2.8" fill="#8484ff"/><circle cx="1350.5" cy="413.5" r="2.8" fill="#aaaaff"/><circle cx="1383.3" cy="441.1" r="2.8" fill="#bfbfff"/><circle cx="1487" cy="410.4" r="2.8" fill="#e6e6ff"/><circle cx="1483.3" cy="409.5" r="2.8" fill="#e6e6ff"/><circle cx="1396.9" cy="425.3" r="2.8" fill="#6e6eff"/><circle cx="1402.7" cy="389.5" r="2.8" fill="#9595ff"/><circle cx="1397.3" cy="387.1" r="2.8" fill="#f2f2ff"/><circle cx="1494.3" cy="411.5" r="2.8" fill="#bfbfff"/><circle cx="1490.2" cy="414.6" r="2.8" fill="#e6e6ff"/><circle cx="1368.9" cy="455.5" r="2.8" fill="#e6e6ff"/><circle cx="1391.3" cy="402.2" r="2.8" fill="#6e6eff"/><circle cx="1428.2" cy="398.9" r="2.8" fill="#aaaaff"/><circle cx="1380.5" cy="443.7" r="2.8" fill="#d4d4ff"/><circle cx="1427.7" cy="385.2" r="2.8" fill="#bfbfff"/><circle cx="1503.8" cy="449.4" r="2.8" fill="#e6e6ff"/><circle cx="1416.9" cy="416.7" r="2.8" fill="#aaaaff"/><circle cx="1407.8" cy="392.7" r="2.8" fill="#bfbfff"/><circle cx="1498.1" cy="423.5" r="2.8" fill="#e6e6ff"/><circle cx="1369.3" cy="424.3" r="2.8" fill="#9595ff"/><circle cx="1422.7" cy="392.7" r="2.8" fill="#bfbfff"/><circle cx="1475.8" cy="396.8" r="2.8" fill="#d4d4ff"/><circle cx="1469.6" cy="386.4" r="2.8" fill="#bfbfff"/><circle cx="1365.4" cy="445" r="2.8" fill="#e6e6ff"/><circle cx="1374.4" cy="410.1" r="2.8" fill="#8484ff"/><circle cx="1385.7" cy="403" r="2.8" fill="#6e6eff"/><circle cx="1473" cy="391.1" r="2.8" fill="#f2f2ff"/><circle cx="1460.6" cy="409.1" r="2.8" fill="#d4d4ff"/><circle cx="1462.8" cy="409.9" r="2.8" fill="#f2f2ff"/><circle cx="1465.8" cy="392" r="2.8" fill="#d4d4ff"/><circle cx="1481.3" cy="404.8" r="2.8" fill="#d4d4ff"/><circle cx="1384.1" cy="425.4" r="2.8" fill="#bfbfff"/><circle cx="1357.3" cy="437.6" r="2.8" fill="#e6e6ff"/><circle cx="1356.9" cy="414.6" r="2.8" fill="#aaaaff"/><circle cx="1617.1" cy="354.4" r="2.8" fill="#ffe6e6"/><circle cx="1589.7" cy="366.1" r="2.8" fill="#ffd4d4"/><circle cx="1538.9" cy="334.8" r="2.8" fill="#e6e6ff"/><circle cx="1578.5" cy="306.8" r="2.8" fill="#d4d4ff"/><circle cx="1573.6" cy="406.5" r="2.8" fill="#fff2f2"/><circle cx="1573.9" cy="364.9" r="2.8" fill="#fff2f2"/><circle cx="1556.9" cy="367.2" r="2.8" fill="#e6e6ff"/><circle cx="1646.3" cy="303.7" r="2.8" fill="#ffffff"/><circle cx="1546.4" cy="398.6" r="2.8" fill="#fff2f2"/><circle cx="1628.1" cy="340.4" r="2.8" fill="#ffe6e6"/><circle cx="1601.6" cy="330.6" r="2.8" fill="#f2f2ff"/><circle cx="1560.7" cy="339.9" r="2.8" fill="#f2f2ff"/><circle cx="1583.4" cy="379.4" r="2.8" fill="#ffffff"/><circle cx="1627.4" cy="359.3" r="2.8" fill="#ffe6e6"/><circle cx="1551.8" cy="370" r="2.8" fill="#e6e6ff"/><circle cx="1652.5" cy="335.4" r="2.8" fill="#ffe6e6"/><circle cx="1508" cy="330.5" r="2.8" fill="#bfbfff"/><circle cx="1561.1" cy="338.2" r="2.8" fill="#e6e6ff"/><circle cx="1583" cy="364" r="2.8" fill="#ffffff"/><circle cx="1611.3" cy="371.6" r="2.8" fill="#ffe6e6"/><circle cx="2465.6" cy="1026.5" r="2.8" fill="#bfbfff"/><circle cx="2418.8" cy="1064.3" r="2.8" fill="#bfbfff"/><circle cx="2426.6" cy="1073.4" r="2.8" fill="#d4d4ff"/><circle cx="2427.8" cy="1070.7" r="2.8" fill="#d4d4ff"/><circle cx="2439.3" cy="1030" r="2.8" fill="#bfbfff"/><circle cx="2443" cy="1064.2" r="2.8" fill="#d4d4ff"/><circle cx="2389" cy="1060.5" r="2.8" fill="#bfbfff"/><circle cx="2437.5" cy="1041.2" r="2.8" fill="#bfbfff"/></g>
</g>
<path d="M686.6,1447 677.1,1444.6 667,1441.7 656.2,1438.4 644.9,1434.8 633,1430.8 620.6,1426.4 607.8,1421.7 594.6,1416.7 581,1411.4 567.2,1405.8 553.2,1400 539,1393.9 525,1387.6 511.1,1381.2 497.7,1374.7 484.7,1368.1 472.2,1361.3 460.1,1354.5 448.4,1347.6 436.9,1340.6 425.5,1333.6 414.4,1326.4 403.4,1319.2 392.6,1311.9 381.8,1304.5 371.2,1297 360.6,1289.5 350.2,1281.9 339.9,1274.3 329.7,1266.6 319.6,1258.9 309.7,1251.1 300,1243.2 290.4,1235.3 280.9,1227.4 271.7,1219.4 262.6,1211.4 253.8,1203.3 245.2,1195.2 236.9,1187.1 228.8,1178.9 221.1,1170.7 213.5,1162.5 206.2,1154.3 199,1146 191.8,1137.7 184.8,1129.4 178,1121 171.3,1112.7 164.9,1104.3 158.8,1095.9 152.9,1087.5 147.3,1079.1 141.9,1070.7 136.7,1062.3 131.6,1053.9 126.8,1045.5 122.1,1037 117.7,1028.6 113.5,1020.2 109.5,1011.8 105.8,1003.3 102.3,994.9 99.1,986.5 96.1,978 93.3,969.6 90.7,961.2 88.3,952.8 86,944.3 83.7,935.9 81.5,927.5 79.3,919 77.2,910.6 75.2,902.2 73.3,893.8 71.6,885.3 70,876.9 68.5,868.5 67.2,860.1 66.1,851.6 65,843.2 64,834.8 63.2,826.3 62.4,817.9 61.8,809.5 61.2,801.1 60.8,792.6 60.4,784.2 60.1,775.8 59.9,767.4 60.1,758.9 60.4,750.5 60.8,742.1 61.2,733.6 61.8,725.2 62.4,716.8 63.2,708.4 64,699.9 65,691.5 66.1,683.1 67.2,674.6 68.5,666.2 70,657.8 71.6,649.4 73.3,640.9 75.2,632.5 77.2,624.1 79.3,615.7 81.5,607.2 83.7,598.8 86,590.4 88.3,581.9 90.7,573.5 93.3,565.1 96.1,556.7 99.1,548.2 102.3,539.8 105.8,531.4 109.5,522.9 113.5,514.5 117.7,506.1 122.1,497.7 126.8,489.2 131.6,480.8 136.7,472.4 141.9,464 147.3,455.6 152.9,447.2 158.8,438.8 164.9,430.4 171.3,422 178,413.7 184.8,405.3 191.8,397 199,388.7 206.2,380.4 213.5,372.2 221.1,364 228.8,355.8 236.9,347.6 245.2,339.5 253.8,331.4 262.6,323.3 271.7,315.3 280.9,307.3 290.4,299.4 300,291.5 309.7,283.6 319.6,275.8 329.7,268.1 339.9,260.4 350.2,252.8 360.6,245.2 371.2,237.7 381.8,230.2 392.6,222.8 403.4,215.5 414.4,208.3 425.5,201.1 436.9,194.1 448.4,187.1 460.1,180.2 472.2,173.4 484.7,166.6 497.7,160 511.1,153.5 525,147.1 539,140.8 553.2,134.7 567.2,128.9 581,123.3 594.6,118 607.8,113 620.6,108.3 633,103.9 644.9,99.9 656.2,96.3 667,93 677.1,90.1 686.6,87.7 2112.4,87.7 2121.9,90.1 2132,93 2142.8,96.3 2154.1,99.9 2166,103.9 2178.4,108.3 2191.2,113 2204.4,118 2218,123.3 2231.8,128.9 2245.8,134.7 2260,140.8 2274,147.1 2287.9,153.5 2301.3,160 2314.3,166.6 2326.8,173.4 2338.9,180.2 2350.6,187.1 2362.1,194.1 2373.5,201.1 2384.6,208.3 2395.6,215.5 2406.4,222.8 2417.2,230.2 2427.8,237.7 2438.4,245.2 2448.8,252.8 2459.1,260.4 2469.3,268.1 2479.4,275.8 2489.3,283.6 2499,291.5 2508.6,299.4 2518.1,307.3 2527.3,315.3 2536.4,323.3 2545.2,331.4 2553.8,339.5 2562.1,347.6 2570.2,355.8 2577.9,364 2585.5,372.2 2592.8,380.4 2600,388.7 2607.2,397 2614.2,405.3 2621,413.7 2627.7,422 2634.1,430.4 2640.2,438.8 2646.1,447.2 2651.7,455.6 2657.1,464 2662.3,472.4 2667.4,480.8 2672.2,489.2 2676.9,497.7 2681.3,506.1 2685.5,514.5 2689.5,522.9 2693.2,531.4 2696.7,539.8 2699.9,548.2 2702.9,556.7 2705.7,565.1 2708.3,573.5 2710.7,581.9 2713,590.4 2715.3,598.8 2717.5,607.2 2719.7,615.7 2721.8,624.1 2723.8,632.5 2725.7,640.9 2727.4,649.4 2729,657.8 2730.5,666.2 2731.8,674.6 2732.9,683.1 2734,691.5 2735,699.9 2735.8,708.4 2736.6,716.8 2737.2,725.2 2737.8,733.6 2738.2,742.1 2738.6,750.5 2738.9,758.9 2739.1,767.4 2738.9,775.8 2738.6,784.2 2738.2,792.6 2737.8,801.1 2737.2,809.5 2736.6,817.9 2735.8,826.3 2735,834.8 2734,843.2 2732.9,851.6 2731.8,860.1 2730.5,868.5 2729,876.9 2727.4,885.3 2725.7,893.8 2723.8,902.2 2721.8,910.6 2719.7,919 2717.5,927.5 2715.3,935.9 2713,944.3 2710.7,952.8 2708.3,961.2 2705.7,969.6 2702.9,978 2699.9,986.5 2696.7,994.9 2693.2,1003.3 2689.5,1011.8 2685.5,1020.2 2681.3,1028.6 2676.9,1037 2672.2,1045.5 2667.4,1053.9 2662.3,1062.3 2657.1,1070.7 2651.7,1079.1 2646.1,1087.5 2640.2,1095.9 2634.1,1104.3 2627.7,1112.7 2621,1121 2614.2,1129.4 2607.2,1137.7 2600,1146 2592.8,1154.3 2585.5,1162.5 2577.9,1170.7 2570.2,1178.9 2562.1,1187.1 2553.8,1195.2 2545.2,1203.3 2536.4,1211.4 2527.3,1219.4 2518.1,1227.4 2508.6,1235.3 2499,1243.2 2489.3,1251.1 2479.4,1258.9 2469.3,1266.6 2459.1,1274.3 2448.8,1281.9 2438.4,1289.5 2427.8,1297 2417.2,1304.5 2406.4,1311.9 2395.6,1319.2 2384.6,1326.4 2373.5,1333.6 2362.1,1340.6 2350.6,1347.6 2338.9,1354.5 2326.8,1361.3 2314.3,1368.1 2301.3,1374.7 2287.9,1381.2 2274,1387.6 2260,1393.9 2245.8,1400 2231.8,1405.8 2218,1411.4 2204.4,1416.7 2191.2,1421.7 2178.4,1426.4 2166,1430.8 2154.1,1434.8 2142.8,1438.4 2132,1441.7 2121.9,1444.6 2112.4,1447Z" fill="none" stroke="#000" stroke-width="3.3" stroke-linejoin="miter"/>
<rect x="694.3" y="1532" width="1410.1" height="77.2" fill="url(#cb)"/>
<path d="M694.8,1532 L624.9,1570.6 L694.8,1609.2Z" fill="#0000ff"/>
<path d="M2103.9,1532 L2175.3,1570.6 L2103.9,1609.2Z" fill="#ff0000"/>
<path d="M694.3,1532 L2104.4,1532 L2175.3,1570.6 L2104.4,1609.2 L694.3,1609.2 L624.9,1570.6Z" fill="none" stroke="#000" stroke-width="3.4" stroke-linejoin="miter"/>
<line x1="694.3" x2="694.3" y1="1609.2" y2="1624.3" stroke="#000" stroke-width="3.3"/>
<text x="694.3" y="1669.4" font-size="40.5" text-anchor="middle">−6</text>
<line x1="929.3" x2="929.3" y1="1609.2" y2="1624.3" stroke="#000" stroke-width="3.3"/>
<text x="929.3" y="1669.4" font-size="40.5" text-anchor="middle">−4</text>
<line x1="1164.3" x2="1164.3" y1="1609.2" y2="1624.3" stroke="#000" stroke-width="3.3"/>
<text x="1164.3" y="1669.4" font-size="40.5" text-anchor="middle">−2</text>
<line x1="1399.3" x2="1399.3" y1="1609.2" y2="1624.3" stroke="#000" stroke-width="3.3"/>
<text x="1399.3" y="1669.4" font-size="40.5" text-anchor="middle">0</text>
<line x1="1634.4" x2="1634.4" y1="1609.2" y2="1624.3" stroke="#000" stroke-width="3.3"/>
<text x="1634.4" y="1669.4" font-size="40.5" text-anchor="middle">2</text>
<line x1="1869.4" x2="1869.4" y1="1609.2" y2="1624.3" stroke="#000" stroke-width="3.3"/>
<text x="1869.4" y="1669.4" font-size="40.5" text-anchor="middle">4</text>
<line x1="2104.4" x2="2104.4" y1="1609.2" y2="1624.3" stroke="#000" stroke-width="3.3"/>
<text x="2104.4" y="1669.4" font-size="40.5" text-anchor="middle">6</text>
<text x="1116.5" y="1729.3" font-size="41" textLength="565.5" lengthAdjust="spacingAndGlyphs">Anomaly (from 1961-1990), °C</text>
<text x="561.7" y="63.4" font-size="43.5" textLength="158.1" lengthAdjust="spacingAndGlyphs">1879-04</text>
<text x="731.6" y="63.4" font-size="43.5" textLength="172" lengthAdjust="spacingAndGlyphs">NAO=0.1</text>
<text x="915.5" y="63.4" font-size="43.5" textLength="172.5" lengthAdjust="spacingAndGlyphs">SOI=1.59</text>
<text x="1101.9" y="63.4" font-size="43.5" textLength="114" lengthAdjust="spacingAndGlyphs">GMST</text>
<text x="1226" y="63.4" font-size="43.5" textLength="283.9" lengthAdjust="spacingAndGlyphs">(analysis)=-0.27</text>
<text x="1521.4" y="63.4" font-size="43.5" textLength="115.3" lengthAdjust="spacingAndGlyphs">GMST</text>
<text x="1647.4" y="63.4" font-size="43.5" textLength="238.9" lengthAdjust="spacingAndGlyphs">(MAT)=0.029</text>
<text x="1899.7" y="63.4" font-size="43.5" textLength="114.9" lengthAdjust="spacingAndGlyphs">GMST</text>
<text x="2025.1" y="63.4" font-size="43.5" textLength="213.9" lengthAdjust="spacingAndGlyphs">(LAT)=-0.61</text>
<text x="682.2" y="1806.2" font-size="31.5" font-weight="bold" textLength="85.8" lengthAdjust="spacingAndGlyphs">Data</text>
<text x="777.6" y="1806.2" font-size="30.5" textLength="1255.9" lengthAdjust="spacingAndGlyphs">(analysis □): GloSATref.1.0.0.0-alpha.4 infilled ens median (UKMO-HC): N=1390/2592</text>
<text x="682.2" y="1846.2" font-size="31.5" font-weight="bold" textLength="85.8" lengthAdjust="spacingAndGlyphs">Data</text>
<text x="777.6" y="1846.2" font-size="30.5" textLength="908.6" lengthAdjust="spacingAndGlyphs">(MAT ▫): GloSATMAT.2.4.0.0 ens median (NOC): N=338/2592</text>
<text x="682.2" y="1886.2" font-size="31.5" font-weight="bold" textLength="85.8" lengthAdjust="spacingAndGlyphs">Data</text>
<text x="777.6" y="1886.2" font-size="30.5" textLength="1307.8" lengthAdjust="spacingAndGlyphs">(LAT ○): GloSAT.p04c.EBC.LEKnormals (CRU/UEA, UYork): N=223/2592 N(stations)=640</text>
<text x="682.2" y="1926.2" font-size="31.5" font-weight="bold" textLength="85.8" lengthAdjust="spacingAndGlyphs">Data</text>
<text x="777.6" y="1926.2" font-size="30.5" textLength="920.7" lengthAdjust="spacingAndGlyphs">(NAO): 1781-1820 (Juerg Luterbacher), 1821-2022 (Phil Jones)</text>
<text x="682.2" y="1966.2" font-size="31.5" font-weight="bold" textLength="85.8" lengthAdjust="spacingAndGlyphs">Data</text>
<text x="777.6" y="1966.2" font-size="30.5" textLength="427" lengthAdjust="spacingAndGlyphs">(SOI): 1866-2022 (Phil Jones)</text>
<text x="682.2" y="2006.2" font-size="31.5" font-weight="bold" textLength="142.1" lengthAdjust="spacingAndGlyphs">Graphic</text>
<text x="826.4" y="2006.2" font-size="30.5" textLength="621.6" lengthAdjust="spacingAndGlyphs">: Michael Taylor, CRU/UEA -- 08/03/2023</text>
</svg>
</body></html>
